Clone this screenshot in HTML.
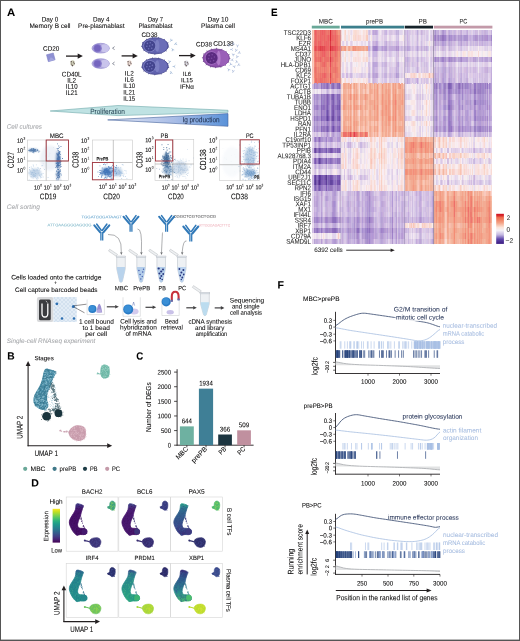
<!DOCTYPE html>
<html><head><meta charset="utf-8"><title>Figure</title>
<style>html,body{margin:0;padding:0;background:#fff;}body{width:520px;height:641px;overflow:hidden;font-family:"Liberation Sans",sans-serif;}svg{display:block;will-change:transform;}</style>
</head><body>
<svg xmlns="http://www.w3.org/2000/svg" width="520" height="641" viewBox="0 0 520 641" text-rendering="geometricPrecision" font-family='"Liberation Sans", sans-serif'><defs><linearGradient id="igg" x1="0" x2="1" y1="0" y2="0"><stop offset="0" stop-color="#e3e7f5"/><stop offset="0.55" stop-color="#a9bde6"/><stop offset="1" stop-color="#5a92d9"/></linearGradient><filter id="fb" x="-50%" y="-50%" width="200%" height="200%"><feGaussianBlur stdDeviation="1.3"/></filter><clipPath id="clp2"><rect x="27.4" y="140" width="41.1" height="40.5"/></clipPath><clipPath id="clp3"><rect x="92.4" y="140" width="39.9" height="39.8"/></clipPath><clipPath id="clp4"><rect x="155" y="139.4" width="38.75" height="41.2"/></clipPath><clipPath id="clp5"><rect x="219.5" y="139.8" width="39.9" height="40.6"/></clipPath><clipPath id="tb6"><path d="M116.7 256.6 L125.3 256.6 L125.3 268.82 L122.4 281.4 Q121 283.2 119.6 281.4 L116.7 268.82 Z"/></clipPath><clipPath id="tb7"><path d="M136.8 256.6 L145.4 256.6 L145.4 268.82 L142.5 281.4 Q141.1 283.2 139.7 281.4 L136.8 268.82 Z"/></clipPath><clipPath id="tb8"><path d="M156.9 256.6 L165.5 256.6 L165.5 268.82 L162.6 281.4 Q161.2 283.2 159.8 281.4 L156.9 268.82 Z"/></clipPath><clipPath id="tb9"><path d="M177.5 256.6 L186.1 256.6 L186.1 268.82 L183.2 281.4 Q181.8 283.2 180.4 281.4 L177.5 268.82 Z"/></clipPath><pattern id="hx" width="4" height="4" patternUnits="userSpaceOnUse"><rect width="4" height="4" fill="#e2ecf6"/><path d="M0 0L4 4M4 0L0 4" stroke="#c5d6e8" stroke-width="0.5"/></pattern><clipPath id="tb11"><path d="M200.5 293 L209.3 293 L209.3 303.81 L206.3 314.8 Q204.9 316.6 203.5 314.8 L200.5 303.81 Z"/></clipPath><linearGradient id="dg0" gradientUnits="userSpaceOnUse" x1="0" y1="503" x2="0" y2="535"><stop offset="0" stop-color="#3d3f88"/><stop offset="0.25" stop-color="#46106a"/><stop offset="1" stop-color="#440f63"/></linearGradient><linearGradient id="dg1" gradientUnits="userSpaceOnUse" x1="0" y1="503" x2="0" y2="535"><stop offset="0" stop-color="#3f4a8a"/><stop offset="0.25" stop-color="#4a1a72"/><stop offset="1" stop-color="#46156a"/></linearGradient><linearGradient id="dg2" gradientUnits="userSpaceOnUse" x1="0" y1="503" x2="0" y2="535"><stop offset="0" stop-color="#2aa58a"/><stop offset="0.25" stop-color="#31688e"/><stop offset="0.7" stop-color="#3a4a8a"/><stop offset="1" stop-color="#3a2d76"/></linearGradient><linearGradient id="dg3" gradientUnits="userSpaceOnUse" x1="0" y1="569.4" x2="0" y2="601.4"><stop offset="0" stop-color="#2e5f8e"/><stop offset="0.25" stop-color="#26848e"/><stop offset="1" stop-color="#228f8b"/></linearGradient><linearGradient id="dg4" gradientUnits="userSpaceOnUse" x1="0" y1="569.4" x2="0" y2="601.4"><stop offset="0" stop-color="#3a4c8a"/><stop offset="0.25" stop-color="#2a858c"/><stop offset="1" stop-color="#2aa680"/></linearGradient><linearGradient id="dg5" gradientUnits="userSpaceOnUse" x1="0" y1="569.4" x2="0" y2="601.4"><stop offset="0" stop-color="#3b2b78"/><stop offset="0.3" stop-color="#2f5a8c"/><stop offset="0.7" stop-color="#2a8a8c"/><stop offset="1" stop-color="#48b873"/></linearGradient><linearGradient id="vir" x1="0" y1="1" x2="0" y2="0"><stop offset="0" stop-color="#440154"/><stop offset=".09" stop-color="#482173"/><stop offset=".18" stop-color="#433e85"/><stop offset=".27" stop-color="#38588c"/><stop offset=".36" stop-color="#2d708e"/><stop offset=".45" stop-color="#25858e"/><stop offset=".55" stop-color="#1e9b8a"/><stop offset=".64" stop-color="#2ab07f"/><stop offset=".73" stop-color="#52c569"/><stop offset=".82" stop-color="#86d549"/><stop offset=".91" stop-color="#c2df23"/><stop offset="1" stop-color="#fde725"/></linearGradient><linearGradient id="hml" x1="0" y1="0" x2="0" y2="1"><stop offset="0" stop-color="#d0101e"/><stop offset="0.06" stop-color="#d82a2e"/><stop offset="0.12" stop-color="#ee6a4c"/><stop offset="0.3" stop-color="#f4a284"/><stop offset="0.45" stop-color="#fbe4d8"/><stop offset="0.55" stop-color="#f5f1f7"/><stop offset="0.7" stop-color="#c2b6e0"/><stop offset="0.84" stop-color="#6048ac"/><stop offset="1" stop-color="#3a1a80"/></linearGradient></defs><rect width="520" height="641" fill="#fff"/><rect x="0" y="0" width="520" height="1" fill="#555"/>
<rect x="0" y="0" width="1" height="641" fill="#555"/>
<rect x="519" y="0" width="1" height="641" fill="#555"/>
<rect x="0" y="639.6" width="520" height="1.4" fill="#555"/>
<text x="7" y="16" font-size="10.8" fill="#000" stroke="#000" stroke-width=".06" font-weight="bold" textLength="8.2" lengthAdjust="spacingAndGlyphs" transform="rotate(.05 7 16)">A</text>
<text x="41.7" y="21.6" font-size="6.6" stroke="#231f20" stroke-width=".06" textLength="16.6" lengthAdjust="spacingAndGlyphs" transform="rotate(.05 41.7 21.6)">Day 0</text>
<text x="29.45" y="27.9" font-size="6.6" stroke="#231f20" stroke-width=".06" textLength="41.1" lengthAdjust="spacingAndGlyphs" transform="rotate(.05 29.45 27.9)">Memory B cell</text>
<text x="93" y="21.6" font-size="6.6" stroke="#231f20" stroke-width=".06" textLength="16.6" lengthAdjust="spacingAndGlyphs" transform="rotate(.05 93 21.6)">Day 4</text>
<text x="78.1" y="27.9" font-size="6.6" stroke="#231f20" stroke-width=".06" textLength="46.4" lengthAdjust="spacingAndGlyphs" transform="rotate(.05 78.1 27.9)">Pre-plasmablast</text>
<text x="147.95" y="21.6" font-size="6.6" stroke="#231f20" stroke-width=".06" textLength="15.1" lengthAdjust="spacingAndGlyphs" transform="rotate(.05 147.95 21.6)">Day 7</text>
<text x="138.4" y="27.9" font-size="6.6" stroke="#231f20" stroke-width=".06" textLength="34.2" lengthAdjust="spacingAndGlyphs" transform="rotate(.05 138.4 27.9)">Plasmablast</text>
<text x="207.5" y="21.6" font-size="6.6" stroke="#231f20" stroke-width=".06" textLength="21" lengthAdjust="spacingAndGlyphs" transform="rotate(.05 207.5 21.6)">Day 10</text>
<text x="201.1" y="27.9" font-size="6.6" stroke="#231f20" stroke-width=".06" textLength="33.8" lengthAdjust="spacingAndGlyphs" transform="rotate(.05 201.1 27.9)">Plasma cell</text>
<text x="43.1" y="50.8" font-size="6.6" stroke="#231f20" stroke-width=".06" textLength="16.3" lengthAdjust="spacingAndGlyphs" transform="rotate(.05 43.1 50.8)">CD20</text>
<path d="M55.13 59.8 L48.3 61.63 L46.47 54.8 L53.3 52.97 Z" fill="#8e90d3" stroke="#7678c0" stroke-width=".5"/>
<path d="M55.13 59.8 L48.3 61.63 L50.8 57.3 Z" fill="#a3a5dd"/>
<line x1="66" y1="56.1" x2="78.2" y2="56.1" stroke="#231f20" stroke-width="1.3"/>
<path d="M82.9 56.1 L77.7 53.5 L77.7 58.7 Z" fill="#231f20"/>
<line x1="121.6" y1="55.9" x2="133.1" y2="55.9" stroke="#231f20" stroke-width="1.3"/>
<path d="M137.8 55.9 L132.6 53.3 L132.6 58.5 Z" fill="#231f20"/>
<line x1="179" y1="55.6" x2="191" y2="55.6" stroke="#231f20" stroke-width="1.3"/>
<path d="M195.7 55.6 L190.5 53 L190.5 58.2 Z" fill="#231f20"/>
<ellipse cx="72.6" cy="63.1" rx="2.4" ry="2.9" fill="#cfcfb8"/>
<circle cx="71.3" cy="61.7" r=".7" fill="#5e5050"/>
<circle cx="73.5" cy="62.1" r=".6" fill="#5e5050"/>
<circle cx="74.2" cy="63.7" r=".6" fill="#5e5050"/>
<circle cx="71.5" cy="64" r=".6" fill="#5e5050"/>
<circle cx="72.4" cy="65.6" r=".8" fill="#5e5050"/>
<ellipse cx="129.4" cy="63.1" rx="2.4" ry="2.9" fill="#ecdcd4"/>
<circle cx="128.1" cy="61.7" r=".7" fill="#5e5050"/>
<circle cx="130.3" cy="62.1" r=".6" fill="#5e5050"/>
<circle cx="131" cy="63.7" r=".6" fill="#5e5050"/>
<circle cx="128.3" cy="64" r=".6" fill="#5e5050"/>
<circle cx="129.2" cy="65.6" r=".8" fill="#5e5050"/>
<ellipse cx="186.4" cy="63.3" rx="2.4" ry="2.9" fill="#d8d8e0"/>
<circle cx="185.1" cy="61.9" r=".7" fill="#5e5050"/>
<circle cx="187.3" cy="62.3" r=".6" fill="#5e5050"/>
<circle cx="188" cy="63.9" r=".6" fill="#5e5050"/>
<circle cx="185.3" cy="64.2" r=".6" fill="#5e5050"/>
<circle cx="186.2" cy="65.8" r=".8" fill="#5e5050"/>
<text x="61.8" y="76.4" font-size="6.8" stroke="#231f20" stroke-width=".06" textLength="19.8" lengthAdjust="spacingAndGlyphs" transform="rotate(.05 61.8 76.4)">CD40L</text>
<text x="67.3" y="82.63" font-size="6.8" stroke="#231f20" stroke-width=".06" textLength="8.8" lengthAdjust="spacingAndGlyphs" transform="rotate(.05 67.3 82.63)">IL2</text>
<text x="65.8" y="88.86" font-size="6.8" stroke="#231f20" stroke-width=".06" textLength="11.8" lengthAdjust="spacingAndGlyphs" transform="rotate(.05 65.8 88.86)">IL10</text>
<text x="65.8" y="95.09" font-size="6.8" stroke="#231f20" stroke-width=".06" textLength="11.8" lengthAdjust="spacingAndGlyphs" transform="rotate(.05 65.8 95.09)">IL21</text>
<text x="124.85" y="75.5" font-size="6.6" stroke="#231f20" stroke-width=".06" textLength="8.9" lengthAdjust="spacingAndGlyphs" transform="rotate(.05 124.85 75.5)">IL2</text>
<text x="124.85" y="81.8" font-size="6.6" stroke="#231f20" stroke-width=".06" textLength="8.9" lengthAdjust="spacingAndGlyphs" transform="rotate(.05 124.85 81.8)">IL6</text>
<text x="123.35" y="88.1" font-size="6.6" stroke="#231f20" stroke-width=".06" textLength="11.9" lengthAdjust="spacingAndGlyphs" transform="rotate(.05 123.35 88.1)">IL10</text>
<text x="123.35" y="94.4" font-size="6.6" stroke="#231f20" stroke-width=".06" textLength="11.9" lengthAdjust="spacingAndGlyphs" transform="rotate(.05 123.35 94.4)">IL21</text>
<text x="123.35" y="100.7" font-size="6.6" stroke="#231f20" stroke-width=".06" textLength="11.9" lengthAdjust="spacingAndGlyphs" transform="rotate(.05 123.35 100.7)">IL15</text>
<text x="182.75" y="75.9" font-size="6.2" stroke="#231f20" stroke-width=".06" textLength="8.3" lengthAdjust="spacingAndGlyphs" transform="rotate(.05 182.75 75.9)">IL6</text>
<text x="180.9" y="82.35" font-size="6.2" stroke="#231f20" stroke-width=".06" textLength="12" lengthAdjust="spacingAndGlyphs" transform="rotate(.05 180.9 82.35)">IL15</text>
<text x="179.9" y="88.8" font-size="6.2" stroke="#231f20" stroke-width=".06" textLength="14" lengthAdjust="spacingAndGlyphs" transform="rotate(.05 179.9 88.8)">IFNα</text>
<ellipse cx="100.7" cy="48.2" rx="8.7" ry="4.9" fill="#b3acdf" stroke="#9088cc" stroke-width="0.6"/>
<ellipse cx="104.8" cy="48.2" rx="4.2" ry="3.9" fill="#c9c4ec"/>
<circle cx="97.6" cy="48.2" r="4.3" fill="#8b7fcc"/>
<circle cx="97.4" cy="48.2" r="3.2" fill="#7565bf"/>
<path d="M114.6 46.6 L112.5 48.2 L114.6 49.6" fill="none" stroke="#6c7080" stroke-width=".75"/>
<ellipse cx="100.7" cy="63.6" rx="8.7" ry="4.9" fill="#b3acdf" stroke="#9088cc" stroke-width="0.6"/>
<ellipse cx="104.8" cy="63.6" rx="4.2" ry="3.9" fill="#c9c4ec"/>
<circle cx="97.6" cy="63.6" r="4.3" fill="#8b7fcc"/>
<circle cx="97.4" cy="63.6" r="3.2" fill="#7565bf"/>
<path d="M114.6 62 L112.5 63.6 L114.6 65" fill="none" stroke="#6c7080" stroke-width=".75"/>
<text x="141.6" y="36.9" font-size="6.6" stroke="#231f20" stroke-width=".06" textLength="16" lengthAdjust="spacingAndGlyphs" transform="rotate(.05 141.6 36.9)">CD38</text>
<path d="M168.2 46.37L169.43 47.28L167.93 47.54ZM166.18 50.11L166.62 51.57L165.26 50.89ZM161.54 52.8L161.37 54.31L160.39 53.15ZM155.49 53.81L154.87 55.2L154.29 53.79ZM149.45 52.99L148.43 54.12L148.31 52.6ZM144.76 50.59L143.37 51.2L143.89 49.77ZM142.35 47.16L140.88 46.79L142.17 45.98ZM142.83 43.28L141.99 42.01L143.49 42.28ZM146.28 39.96L146.17 38.44L147.35 39.41ZM151.8 38.07L152.21 36.6L152.99 37.91ZM158.02 37.98L158.85 36.7L159.21 38.18ZM163.53 39.64L164.75 38.73L164.57 40.24ZM167.17 42.62L168.68 42.45L167.76 43.67Z" fill="#40408a"/>
<ellipse cx="155.2" cy="45.8" rx="13.1" ry="8.1" fill="#6062ae" stroke="#46478c" stroke-width="0.8"/>
<ellipse cx="160.5" cy="45.8" rx="6.6" ry="6.8" fill="#6c6eb8"/>
<ellipse cx="157.2" cy="45.8" rx="2.2" ry="6" fill="#7d80c4"/>
<circle cx="149.7" cy="45.8" r="6.3" fill="#8487c8"/>
<circle cx="149.7" cy="45.8" r="5.6" fill="#43448e"/>
<circle cx="147.4" cy="43.4" r=".8" fill="#6e70b8"/>
<circle cx="150.3" cy="42.8" r=".8" fill="#6e70b8"/>
<circle cx="152.4" cy="44.9" r=".8" fill="#6e70b8"/>
<circle cx="146.8" cy="46.3" r=".8" fill="#6e70b8"/>
<circle cx="149.7" cy="46" r=".8" fill="#6e70b8"/>
<circle cx="151.7" cy="48.2" r=".8" fill="#6e70b8"/>
<circle cx="148.6" cy="48.8" r=".8" fill="#6e70b8"/>
<path d="M168.2 66.87L169.43 67.78L167.93 68.04ZM166.18 70.61L166.62 72.07L165.26 71.39ZM161.54 73.3L161.37 74.81L160.39 73.65ZM155.49 74.31L154.87 75.7L154.29 74.29ZM149.45 73.49L148.43 74.62L148.31 73.1ZM144.76 71.09L143.37 71.7L143.89 70.27ZM142.35 67.66L140.88 67.29L142.17 66.48ZM142.83 63.78L141.99 62.51L143.49 62.78ZM146.28 60.46L146.17 58.94L147.35 59.91ZM151.8 58.57L152.21 57.1L152.99 58.41ZM158.02 58.48L158.85 57.2L159.21 58.68ZM163.53 60.14L164.75 59.23L164.57 60.74ZM167.17 63.12L168.68 62.95L167.76 64.17Z" fill="#40408a"/>
<ellipse cx="155.2" cy="66.3" rx="13.1" ry="8.1" fill="#6062ae" stroke="#46478c" stroke-width="0.8"/>
<ellipse cx="160.5" cy="66.3" rx="6.6" ry="6.8" fill="#6c6eb8"/>
<ellipse cx="157.2" cy="66.3" rx="2.2" ry="6" fill="#7d80c4"/>
<circle cx="149.7" cy="66.3" r="6.3" fill="#8487c8"/>
<circle cx="149.7" cy="66.3" r="5.6" fill="#43448e"/>
<circle cx="147.4" cy="63.9" r=".8" fill="#6e70b8"/>
<circle cx="150.3" cy="63.3" r=".8" fill="#6e70b8"/>
<circle cx="152.4" cy="65.4" r=".8" fill="#6e70b8"/>
<circle cx="146.8" cy="66.8" r=".8" fill="#6e70b8"/>
<circle cx="149.7" cy="66.5" r=".8" fill="#6e70b8"/>
<circle cx="151.7" cy="68.7" r=".8" fill="#6e70b8"/>
<circle cx="148.6" cy="69.3" r=".8" fill="#6e70b8"/>
<path d="M170.21 41.66 L171 40.5 L170.74 38.75 M171 40.5 L172.72 40.1" fill="none" stroke="#7f9fc8" stroke-width=".6"/>
<path d="M174.2 44.51 L175.5 44 L176.28 42.41 M175.5 44 L177.15 44.65" fill="none" stroke="#7f9fc8" stroke-width=".6"/>
<path d="M171.78 48.3 L172.5 49.5 L174.2 50 M172.5 49.5 L172.14 51.23" fill="none" stroke="#7f9fc8" stroke-width=".6"/>
<path d="M169.09 63.34 L169.5 62 L168.74 60.4 M169.5 62 L171.03 61.11" fill="none" stroke="#7f9fc8" stroke-width=".6"/>
<path d="M172.6 66.46 L174 66.5 L175.33 65.34 M174 66.5 L175.26 67.74" fill="none" stroke="#7f9fc8" stroke-width=".6"/>
<path d="M170.67 71.14 L171 72.5 L172.48 73.48 M171 72.5 L170.15 74.05" fill="none" stroke="#7f9fc8" stroke-width=".6"/>
<text x="196" y="46.6" font-size="6.6" stroke="#231f20" stroke-width=".06" textLength="16" lengthAdjust="spacingAndGlyphs" transform="rotate(.05 196 46.6)">CD38</text>
<text x="213.2" y="45.8" font-size="6.6" stroke="#231f20" stroke-width=".06" textLength="20.6" lengthAdjust="spacingAndGlyphs" transform="rotate(.05 213.2 45.8)">CD138</text>
<path d="M229.32 57.85L230.79 58.54L229.26 59.05ZM228.43 61.37L229.34 62.7L227.76 62.37ZM225.6 64.39L225.9 65.98L224.59 65.03ZM221.32 66.4L221.1 68L220.15 66.69ZM216.29 67.11L215.65 68.59L215.09 67.08ZM211.29 66.45L210.26 67.7L210.14 66.09ZM207.06 64.57L205.69 65.41L206.1 63.85ZM204.19 61.74L202.59 61.92L203.63 60.69ZM203.08 58.35L201.61 57.66L203.14 57.15ZM203.97 54.83L203.06 53.5L204.64 53.83ZM206.8 51.81L206.5 50.22L207.81 51.17ZM211.08 49.8L211.3 48.2L212.25 49.51ZM216.11 49.09L216.75 47.61L217.31 49.12ZM221.11 49.75L222.14 48.5L222.26 50.11ZM225.34 51.63L226.71 50.79L226.3 52.35ZM228.21 54.46L229.81 54.28L228.77 55.51Z" fill="#6a3a8a"/>
<ellipse cx="216.2" cy="58.1" rx="13.2" ry="9.1" fill="#8e51ad" stroke="#70408f" stroke-width="0.8"/>
<ellipse cx="222.5" cy="58.1" rx="6.2" ry="7.6" fill="#9a5fb8"/>
<ellipse cx="218.6" cy="58.1" rx="2" ry="7.3" fill="#b27ccb"/>
<circle cx="211.6" cy="58" r="6.7" fill="#a470c2"/>
<circle cx="211.6" cy="58" r="6" fill="#5b2b80"/>
<circle cx="209.2" cy="55.4" r=".8" fill="#7a4aa0"/>
<circle cx="212.2" cy="54.8" r=".8" fill="#7a4aa0"/>
<circle cx="214.4" cy="57" r=".8" fill="#7a4aa0"/>
<circle cx="208.6" cy="58.6" r=".8" fill="#7a4aa0"/>
<circle cx="211.6" cy="58.3" r=".8" fill="#7a4aa0"/>
<circle cx="213.6" cy="60.6" r=".8" fill="#7a4aa0"/>
<circle cx="210.4" cy="61.2" r=".8" fill="#7a4aa0"/>
<path d="M228.72 46.87 L229 45.5 L228.08 43.99 M229 45.5 L230.43 44.46" fill="none" stroke="#93a8d0" stroke-width=".6"/>
<path d="M231.9 44.87 L233 44 L233.27 42.25 M233 44 L234.76 44.13" fill="none" stroke="#93a8d0" stroke-width=".6"/>
<path d="M237.36 47.39 L237.5 46 L236.44 44.59 M237.5 46 L238.82 44.83" fill="none" stroke="#93a8d0" stroke-width=".6"/>
<path d="M230.1 49.6 L231.5 49.5 L232.71 48.21 M231.5 49.5 L232.88 50.61" fill="none" stroke="#93a8d0" stroke-width=".6"/>
<path d="M235.45 51.79 L236 50.5 L235.4 48.84 M236 50.5 L237.61 49.77" fill="none" stroke="#93a8d0" stroke-width=".6"/>
<path d="M237.75 53.44 L239 52.8 L239.61 51.14 M239 52.8 L240.7 53.28" fill="none" stroke="#93a8d0" stroke-width=".6"/>
<path d="M231.87 53.68 L233 54.5 L234.76 54.29 M233 54.5 L233.34 56.24" fill="none" stroke="#93a8d0" stroke-width=".6"/>
<path d="M236.33 58.23 L237 57 L236.57 55.28 M237 57 L238.68 56.43" fill="none" stroke="#93a8d0" stroke-width=".6"/>
<path d="M230.62 60.24 L232 60 L233.08 58.6 M232 60 L233.49 60.96" fill="none" stroke="#93a8d0" stroke-width=".6"/>
<path d="M236.03 60.18 L236.5 61.5 L238.07 62.32 M236.5 61.5 L235.8 63.13" fill="none" stroke="#93a8d0" stroke-width=".6"/>
<path d="M229.6 65.57 L230.5 64.5 L230.42 62.73 M230.5 64.5 L232.26 64.28" fill="none" stroke="#93a8d0" stroke-width=".6"/>
<path d="M232.68 66.05 L234 66.5 L235.62 65.78 M234 66.5 L234.84 68.06" fill="none" stroke="#93a8d0" stroke-width=".6"/>
<path d="M227.66 68.38 L228.5 69.5 L230.24 69.82 M228.5 69.5 L228.32 71.26" fill="none" stroke="#93a8d0" stroke-width=".6"/>
<path d="M232.59 72.84 L233 71.5 L232.24 69.9 M233 71.5 L234.53 70.61" fill="none" stroke="#93a8d0" stroke-width=".6"/>
<path d="M237.32 65.76 L238.5 65 L238.95 63.29 M238.5 65 L240.24 65.31" fill="none" stroke="#93a8d0" stroke-width=".6"/>
<path d="M50.2 111 L118 105.5 L228 110.3 L228 112.3 L118 115.6 Z" fill="#bfe2e3" stroke="#6fa9ab" stroke-width=".6"/>
<text x="90.2" y="114" font-size="7.6" fill="#2d4b5b" stroke="#2d4b5b" stroke-width=".06" textLength="34.8" lengthAdjust="spacingAndGlyphs" transform="rotate(.05 90.2 114)">Proliferation</text>
<path d="M107.7 119.9 L228 113.6 L228 126.3 Z" fill="url(#igg)" stroke="#44639c" stroke-width=".6"/>
<text x="182.4" y="122.2" font-size="7.6" fill="#22324f" stroke="#22324f" stroke-width=".06" textLength="37.2" lengthAdjust="spacingAndGlyphs" transform="rotate(.05 182.4 122.2)">Ig production</text>
<text x="6.7" y="128.8" font-size="6.6" fill="#a7a9ac" stroke="#a7a9ac" stroke-width=".06" font-style="italic" textLength="35.2" lengthAdjust="spacingAndGlyphs" transform="rotate(.05 6.7 128.8)">Cell cultures</text>
<rect x="27.4" y="140" width="41.1" height="40.5" fill="none" stroke="#c9c9c9" stroke-width="0.6"/>
<g clip-path="url(#clp2)">
<ellipse cx="33" cy="150.2" rx="4.5" ry="1.12" fill="#37679f" fill-opacity=".78" filter="url(#fb)"/>
<path fill="#37679f" fill-opacity=".72" d="M33.5 149.6h.9v.9h-.9zM30.4 150h.9v.9h-.9zM37.4 150h.9v.9h-.9zM36.6 150.2h.9v.9h-.9zM33.2 150.7h.9v.9h-.9zM35.2 149.1h.9v.9h-.9zM36.9 149.3h.9v.9h-.9zM33.4 152.4h.9v.9h-.9zM32.9 151.6h.9v.9h-.9zM31.4 150.7h.9v.9h-.9zM32.8 150.5h.9v.9h-.9zM29.6 149.3h.9v.9h-.9zM33.8 148.7h.9v.9h-.9zM29.7 150.7h.9v.9h-.9zM30.5 149.3h.9v.9h-.9zM28.7 150.2h.9v.9h-.9zM31.4 150.2h.9v.9h-.9zM32 151.7h.9v.9h-.9zM31.1 148.4h.9v.9h-.9zM33.1 150.1h.9v.9h-.9zM33.2 148.7h.9v.9h-.9zM36.6 150.1h.9v.9h-.9zM32.5 148.7h.9v.9h-.9zM34.3 150.1h.9v.9h-.9zM37.4 149.7h.9v.9h-.9zM28.3 150.2h.9v.9h-.9zM29.4 150.5h.9v.9h-.9zM28.8 150h.9v.9h-.9zM31.9 150.1h.9v.9h-.9zM30.8 149.4h.9v.9h-.9zM32.4 149.6h.9v.9h-.9zM33.2 149.9h.9v.9h-.9zM37.5 150.4h.9v.9h-.9zM34.7 150.5h.9v.9h-.9zM31 148.9h.9v.9h-.9zM35.5 151h.9v.9h-.9zM34.6 150.5h.9v.9h-.9zM34 150.1h.9v.9h-.9zM33.6 150.1h.9v.9h-.9zM33.8 149.3h.9v.9h-.9zM30.5 150.6h.9v.9h-.9zM31.5 148h.9v.9h-.9zM33.1 148.1h.9v.9h-.9zM39.3 150.7h.9v.9h-.9zM35 149.5h.9v.9h-.9zM28.7 149.9h.9v.9h-.9zM32.7 149.4h.9v.9h-.9zM33.2 150.7h.9v.9h-.9zM34.7 149.2h.9v.9h-.9zM30.4 150.5h.9v.9h-.9zM38.3 151.5h.9v.9h-.9zM33.7 151.1h.9v.9h-.9z"/>
<ellipse cx="58" cy="160" rx="1.75" ry="8.75" fill="#2d5c9c" fill-opacity=".85" filter="url(#fb)"/>
<path fill="#2d5c9c" fill-opacity=".78" d="M60.1 159.7h.9v.9h-.9zM58.2 165.1h.9v.9h-.9zM57.8 156h.9v.9h-.9zM56.9 159.4h.9v.9h-.9zM57 164.7h.9v.9h-.9zM57.4 169.2h.9v.9h-.9zM59.5 151.1h.9v.9h-.9zM59.3 156.7h.9v.9h-.9zM59.7 162.9h.9v.9h-.9zM57.8 163.9h.9v.9h-.9zM57.1 161.7h.9v.9h-.9zM58.4 158.5h.9v.9h-.9zM58.4 152.8h.9v.9h-.9zM58.6 151.4h.9v.9h-.9zM58.7 162.6h.9v.9h-.9zM58.8 155.8h.9v.9h-.9zM62 158h.9v.9h-.9zM58.1 154.5h.9v.9h-.9zM59.8 156.4h.9v.9h-.9zM59.2 153.3h.9v.9h-.9zM58.3 157.1h.9v.9h-.9zM59.2 157.6h.9v.9h-.9zM56.8 162.6h.9v.9h-.9zM56.3 153.2h.9v.9h-.9zM58.9 147.2h.9v.9h-.9zM58.9 157h.9v.9h-.9zM56.7 161.3h.9v.9h-.9zM58.8 155.8h.9v.9h-.9zM57.7 165h.9v.9h-.9zM58.9 159.3h.9v.9h-.9zM56.9 153.4h.9v.9h-.9zM57.1 164.2h.9v.9h-.9zM58.7 161.7h.9v.9h-.9zM59.8 157.7h.9v.9h-.9zM57.4 157.2h.9v.9h-.9zM60.5 146.1h.9v.9h-.9zM58.3 162.7h.9v.9h-.9zM58 175.2h.9v.9h-.9zM59.5 164.9h.9v.9h-.9zM56.8 163.1h.9v.9h-.9zM57.5 160.1h.9v.9h-.9zM58.2 156.6h.9v.9h-.9zM58.8 170.6h.9v.9h-.9zM59.3 161.3h.9v.9h-.9zM55.4 167h.9v.9h-.9zM59.4 158.6h.9v.9h-.9zM57.3 164.2h.9v.9h-.9zM56.9 165.1h.9v.9h-.9zM56.6 153.8h.9v.9h-.9zM58 150.3h.9v.9h-.9zM58 163.4h.9v.9h-.9zM56.2 166h.9v.9h-.9zM57.2 163.5h.9v.9h-.9zM58.3 156.9h.9v.9h-.9zM57.3 148.7h.9v.9h-.9zM57.1 154.9h.9v.9h-.9zM60.1 166.6h.9v.9h-.9zM56.2 165.2h.9v.9h-.9zM58.3 157.4h.9v.9h-.9zM58.6 165.1h.9v.9h-.9zM57.2 158.1h.9v.9h-.9zM58.2 153.5h.9v.9h-.9zM58.2 159.4h.9v.9h-.9zM57.1 154.4h.9v.9h-.9zM58.4 165.7h.9v.9h-.9zM58.4 154.4h.9v.9h-.9zM59 161.1h.9v.9h-.9zM58.8 167.6h.9v.9h-.9zM56.8 159.1h.9v.9h-.9zM57.2 154.2h.9v.9h-.9zM60.6 166.1h.9v.9h-.9zM55.7 162.8h.9v.9h-.9zM57.3 167.5h.9v.9h-.9zM58.1 158.8h.9v.9h-.9zM58.2 162.5h.9v.9h-.9zM58 158.5h.9v.9h-.9zM57.8 163.3h.9v.9h-.9zM56.5 160h.9v.9h-.9zM57.8 156.8h.9v.9h-.9zM59 151.6h.9v.9h-.9zM57.5 154.4h.9v.9h-.9zM58.7 156.9h.9v.9h-.9zM58.1 162.5h.9v.9h-.9zM55.9 163h.9v.9h-.9zM57 158.3h.9v.9h-.9zM57.9 165.3h.9v.9h-.9zM59 171.5h.9v.9h-.9zM58.2 156.9h.9v.9h-.9zM57.3 164.3h.9v.9h-.9zM60.1 162.2h.9v.9h-.9zM57.2 161.8h.9v.9h-.9zM58.3 160.2h.9v.9h-.9zM57 143.4h.9v.9h-.9zM57.3 166.9h.9v.9h-.9zM58.3 145.6h.9v.9h-.9zM58 147.9h.9v.9h-.9zM60.6 161.2h.9v.9h-.9zM56.4 165.2h.9v.9h-.9zM57 163.7h.9v.9h-.9zM58 152.3h.9v.9h-.9zM58.9 151.2h.9v.9h-.9zM59.8 160.4h.9v.9h-.9zM56.7 148.1h.9v.9h-.9zM60.1 169.5h.9v.9h-.9zM56.4 170.8h.9v.9h-.9zM58.2 158.6h.9v.9h-.9zM57.9 158.2h.9v.9h-.9zM59.9 161h.9v.9h-.9zM55.6 173.7h.9v.9h-.9zM59.2 152.9h.9v.9h-.9zM57.5 154.1h.9v.9h-.9zM58.1 162.6h.9v.9h-.9zM58.3 156.1h.9v.9h-.9zM57 165.5h.9v.9h-.9zM57.9 174.7h.9v.9h-.9zM56.9 165.2h.9v.9h-.9zM58.1 155h.9v.9h-.9zM59.8 160.8h.9v.9h-.9zM56.8 157.9h.9v.9h-.9zM59.3 152h.9v.9h-.9zM59.8 164.5h.9v.9h-.9zM57.6 168.9h.9v.9h-.9zM60.3 163.9h.9v.9h-.9zM58.2 172.1h.9v.9h-.9zM60 153.9h.9v.9h-.9zM57.7 158.6h.9v.9h-.9zM57.5 150.2h.9v.9h-.9zM59.2 160.5h.9v.9h-.9zM58.1 169.2h.9v.9h-.9zM57.3 159.6h.9v.9h-.9z"/>
<ellipse cx="58.2" cy="175" rx="1.62" ry="4.38" fill="#34629e" fill-opacity=".65" filter="url(#fb)"/>
<path fill="#34629e" fill-opacity=".6" d="M58.5 173.6h.9v.9h-.9zM58.1 177.5h.9v.9h-.9zM58.2 179.4h.9v.9h-.9zM57.3 175.7h.9v.9h-.9zM56.5 174.6h.9v.9h-.9zM57.3 179.5h.9v.9h-.9zM59.1 176.7h.9v.9h-.9zM60.5 179.7h.9v.9h-.9zM59.1 172.7h.9v.9h-.9zM56.4 174.9h.9v.9h-.9zM57.8 172.9h.9v.9h-.9zM57.8 169.6h.9v.9h-.9zM60 171.2h.9v.9h-.9zM57.4 176.9h.9v.9h-.9zM56.2 178h.9v.9h-.9zM59.3 174h.9v.9h-.9zM56.9 173.4h.9v.9h-.9zM55.9 179.6h.9v.9h-.9zM58.3 172.6h.9v.9h-.9zM57.1 176.9h.9v.9h-.9zM60 170.8h.9v.9h-.9zM57.5 169.2h.9v.9h-.9zM59 175.5h.9v.9h-.9zM61 174.6h.9v.9h-.9zM57.7 172.7h.9v.9h-.9zM59.2 169.6h.9v.9h-.9zM59.1 175.8h.9v.9h-.9zM57.6 172h.9v.9h-.9zM57.7 176.8h.9v.9h-.9zM60.3 172.9h.9v.9h-.9zM57.9 171h.9v.9h-.9zM58 174.7h.9v.9h-.9zM57.7 172.5h.9v.9h-.9zM56.2 170.5h.9v.9h-.9zM57 177.1h.9v.9h-.9zM57.6 172.2h.9v.9h-.9zM59 176.9h.9v.9h-.9zM57.3 172.9h.9v.9h-.9zM59 176.2h.9v.9h-.9z"/>
<ellipse cx="35" cy="173" rx="6.25" ry="4.38" fill="#7aa2cc" fill-opacity=".45" filter="url(#fb)"/>
<path fill="#7aa2cc" fill-opacity=".42" d="M31 173.8h.9v.9h-.9zM34.9 176.7h.9v.9h-.9zM30.9 175.9h.9v.9h-.9zM37.1 169.6h.9v.9h-.9zM40 176h.9v.9h-.9zM28.7 179.6h.9v.9h-.9zM29.5 169.9h.9v.9h-.9zM33.5 175.6h.9v.9h-.9zM37.8 172.7h.9v.9h-.9zM41.5 174.4h.9v.9h-.9zM35.9 164.4h.9v.9h-.9zM32.8 169.4h.9v.9h-.9zM35.4 173.3h.9v.9h-.9zM29.1 169.1h.9v.9h-.9zM33.7 172.3h.9v.9h-.9zM35.1 173h.9v.9h-.9zM36.4 169.5h.9v.9h-.9zM34.8 176.5h.9v.9h-.9zM40.2 174.6h.9v.9h-.9zM33.7 170.2h.9v.9h-.9zM41.4 174.8h.9v.9h-.9zM33 165.6h.9v.9h-.9zM30.8 166.5h.9v.9h-.9zM41 173.6h.9v.9h-.9zM31.4 172.1h.9v.9h-.9zM47.6 177.1h.9v.9h-.9zM28.5 172.6h.9v.9h-.9zM29 167.1h.9v.9h-.9zM42.6 173.1h.9v.9h-.9zM33.2 173.7h.9v.9h-.9zM40.1 168h.9v.9h-.9zM36.4 178.5h.9v.9h-.9zM36.2 178.1h.9v.9h-.9zM32 174.7h.9v.9h-.9zM42.6 176.5h.9v.9h-.9zM32.7 176.1h.9v.9h-.9zM31.7 168.1h.9v.9h-.9zM37.6 177.8h.9v.9h-.9zM39.2 168.7h.9v.9h-.9zM39.3 175.3h.9v.9h-.9zM32.7 164.4h.9v.9h-.9zM40 176.1h.9v.9h-.9zM37.5 167h.9v.9h-.9zM39 174.7h.9v.9h-.9zM33.8 174.4h.9v.9h-.9zM32.3 171.9h.9v.9h-.9zM30.7 173.9h.9v.9h-.9zM32.9 176.3h.9v.9h-.9zM38.6 170.2h.9v.9h-.9zM44.1 169.1h.9v.9h-.9zM37.2 176.8h.9v.9h-.9zM41.4 165.3h.9v.9h-.9zM40 177.3h.9v.9h-.9zM42.2 165.2h.9v.9h-.9zM31.6 172.7h.9v.9h-.9zM32.8 177.7h.9v.9h-.9zM31.6 177.3h.9v.9h-.9zM37.8 167.9h.9v.9h-.9zM30 171.4h.9v.9h-.9zM35.5 176.5h.9v.9h-.9zM34.1 176.2h.9v.9h-.9zM33.3 174.6h.9v.9h-.9zM33.2 169.5h.9v.9h-.9zM37.1 179.8h.9v.9h-.9zM34.5 170.5h.9v.9h-.9zM30.8 179.9h.9v.9h-.9zM34.8 175.1h.9v.9h-.9zM41.1 176.8h.9v.9h-.9zM30.4 176.3h.9v.9h-.9z"/>
<ellipse cx="50" cy="158" rx="10" ry="12.5" fill="#a8c0dc" fill-opacity=".2" filter="url(#fb)"/>
<path fill="#a8c0dc" fill-opacity=".18" d="M56.8 162.9h.9v.9h-.9zM58.1 152.4h.9v.9h-.9zM49.4 152.8h.9v.9h-.9zM56.1 151.5h.9v.9h-.9zM53.1 147.1h.9v.9h-.9zM49 154.4h.9v.9h-.9zM49.1 159.3h.9v.9h-.9zM48.5 155.8h.9v.9h-.9zM33.4 169.1h.9v.9h-.9zM45 155.6h.9v.9h-.9zM43.4 168h.9v.9h-.9zM42.8 163h.9v.9h-.9zM59.4 174.5h.9v.9h-.9zM59.5 164.2h.9v.9h-.9zM40.4 170.9h.9v.9h-.9zM59.5 166.4h.9v.9h-.9zM56.4 158.8h.9v.9h-.9zM45.9 168.8h.9v.9h-.9zM60.2 147.7h.9v.9h-.9zM57.3 160.5h.9v.9h-.9z"/>
</g>
<line x1="46.2" y1="140" x2="46.2" y2="180.5" stroke="#8f8f8f" stroke-width=".5"/>
<line x1="27.4" y1="161" x2="68.5" y2="161" stroke="#8f8f8f" stroke-width=".5"/>
<rect x="46.2" y="140" width="22.3" height="21" fill="none" stroke="#a3353f" stroke-width="0.9"/>
<text x="16.9" y="142.8" font-size="6.2" textLength="6.1" lengthAdjust="spacingAndGlyphs" transform="rotate(.05 16.9 142.8)" stroke="#231f20" stroke-width="0.12">10</text>
<text x="23.4" y="139.8" font-size="4" stroke="#231f20" stroke-width=".06" textLength="1.8" lengthAdjust="spacingAndGlyphs" transform="rotate(.05 23.4 139.8)">3</text>
<text x="16.9" y="152.6" font-size="6.2" textLength="6.1" lengthAdjust="spacingAndGlyphs" transform="rotate(.05 16.9 152.6)" stroke="#231f20" stroke-width="0.12">10</text>
<text x="23.4" y="149.6" font-size="4" stroke="#231f20" stroke-width=".06" textLength="1.8" lengthAdjust="spacingAndGlyphs" transform="rotate(.05 23.4 149.6)">2</text>
<text x="16.9" y="162.6" font-size="6.2" textLength="6.1" lengthAdjust="spacingAndGlyphs" transform="rotate(.05 16.9 162.6)" stroke="#231f20" stroke-width="0.12">10</text>
<text x="23.4" y="159.6" font-size="4" stroke="#231f20" stroke-width=".06" textLength="1.8" lengthAdjust="spacingAndGlyphs" transform="rotate(.05 23.4 159.6)">1</text>
<text x="16.9" y="172.4" font-size="6.2" textLength="6.1" lengthAdjust="spacingAndGlyphs" transform="rotate(.05 16.9 172.4)" stroke="#231f20" stroke-width="0.12">10</text>
<text x="23.4" y="169.4" font-size="4" stroke="#231f20" stroke-width=".06" textLength="1.8" lengthAdjust="spacingAndGlyphs" transform="rotate(.05 23.4 169.4)">0</text>
<text x="34.1" y="189.4" font-size="5.9" textLength="6" lengthAdjust="spacingAndGlyphs" transform="rotate(.05 34.1 189.4)" stroke="#231f20" stroke-width="0.12">10</text>
<text x="40.2" y="186.5" font-size="3.8" stroke="#231f20" stroke-width=".06" textLength="1.8" lengthAdjust="spacingAndGlyphs" transform="rotate(.05 40.2 186.5)">0</text>
<text x="43.85" y="189.4" font-size="5.9" textLength="6" lengthAdjust="spacingAndGlyphs" transform="rotate(.05 43.85 189.4)" stroke="#231f20" stroke-width="0.12">10</text>
<text x="49.95" y="186.5" font-size="3.8" stroke="#231f20" stroke-width=".06" textLength="1.8" lengthAdjust="spacingAndGlyphs" transform="rotate(.05 49.95 186.5)">1</text>
<text x="53.6" y="189.4" font-size="5.9" textLength="6" lengthAdjust="spacingAndGlyphs" transform="rotate(.05 53.6 189.4)" stroke="#231f20" stroke-width="0.12">10</text>
<text x="59.7" y="186.5" font-size="3.8" stroke="#231f20" stroke-width=".06" textLength="1.8" lengthAdjust="spacingAndGlyphs" transform="rotate(.05 59.7 186.5)">2</text>
<text x="63.35" y="189.4" font-size="5.9" textLength="6" lengthAdjust="spacingAndGlyphs" transform="rotate(.05 63.35 189.4)" stroke="#231f20" stroke-width="0.12">10</text>
<text x="69.45" y="186.5" font-size="3.8" stroke="#231f20" stroke-width=".06" textLength="1.8" lengthAdjust="spacingAndGlyphs" transform="rotate(.05 69.45 186.5)">3</text>
<text x="39.7" y="199.2" font-size="8.2" stroke="#231f20" stroke-width=".06" textLength="16.6" lengthAdjust="spacingAndGlyphs" transform="rotate(.05 39.7 199.2)">CD19</text>
<text x="13.85" y="168.1" font-size="8.8" stroke="#231f20" stroke-width=".06" textLength="16.2" lengthAdjust="spacingAndGlyphs" transform="rotate(-89.95 13.85 168.1)">CD27</text>
<text x="49.8" y="138" font-size="6.6" stroke="#231f20" stroke-width=".06" textLength="13.8" lengthAdjust="spacingAndGlyphs" transform="rotate(.05 49.8 138)">MBC</text>
<rect x="92.4" y="140" width="39.9" height="39.8" fill="none" stroke="#c9c9c9" stroke-width="0.6"/>
<g clip-path="url(#clp3)">
<ellipse cx="106.5" cy="171.5" rx="5.25" ry="4" fill="#2e66b2" fill-opacity=".72" filter="url(#fb)"/>
<path fill="#2e66b2" fill-opacity=".66" d="M110.2 172.4h.9v.9h-.9zM111.2 174.8h.9v.9h-.9zM110.3 167.1h.9v.9h-.9zM110 171.7h.9v.9h-.9zM101.8 173.8h.9v.9h-.9zM100.8 174.4h.9v.9h-.9zM113.6 169.9h.9v.9h-.9zM110.4 173h.9v.9h-.9zM109.3 167.3h.9v.9h-.9zM109.1 172h.9v.9h-.9zM109.7 171.6h.9v.9h-.9zM111.2 172.4h.9v.9h-.9zM109.4 175.9h.9v.9h-.9zM107.4 174.7h.9v.9h-.9zM107.6 173.2h.9v.9h-.9zM104.4 174h.9v.9h-.9zM111.7 171.3h.9v.9h-.9zM109.9 172.9h.9v.9h-.9zM102 172.7h.9v.9h-.9zM112.1 170.1h.9v.9h-.9zM99.2 172.2h.9v.9h-.9zM104 177.6h.9v.9h-.9zM106.5 171.6h.9v.9h-.9zM104 172.4h.9v.9h-.9zM104.3 168.8h.9v.9h-.9zM106.4 169.1h.9v.9h-.9zM112.1 167.9h.9v.9h-.9zM106.3 169.4h.9v.9h-.9zM100.9 176.8h.9v.9h-.9zM98 176.2h.9v.9h-.9zM100.8 171.9h.9v.9h-.9zM116 164.9h.9v.9h-.9zM101 175.7h.9v.9h-.9zM107.4 169.9h.9v.9h-.9zM106.5 168.6h.9v.9h-.9zM107.2 176.3h.9v.9h-.9zM105.1 172h.9v.9h-.9zM111.6 177.8h.9v.9h-.9zM104.2 172.6h.9v.9h-.9zM104.3 169.6h.9v.9h-.9zM105 169.6h.9v.9h-.9zM99.5 165.4h.9v.9h-.9zM103.6 172h.9v.9h-.9zM111.6 170h.9v.9h-.9zM106 173.7h.9v.9h-.9zM109.7 171.3h.9v.9h-.9zM106.4 177.5h.9v.9h-.9zM105.3 170.1h.9v.9h-.9zM100 173h.9v.9h-.9zM105.6 177.6h.9v.9h-.9zM105.3 174.2h.9v.9h-.9zM110.5 176.8h.9v.9h-.9zM101.3 176.5h.9v.9h-.9zM106.7 171.3h.9v.9h-.9zM105.4 170.4h.9v.9h-.9zM105.2 164.3h.9v.9h-.9zM108.7 171.8h.9v.9h-.9zM102.7 171.4h.9v.9h-.9zM116.1 172.8h.9v.9h-.9zM105.1 177h.9v.9h-.9zM103.4 171.1h.9v.9h-.9zM104.4 170.9h.9v.9h-.9zM109.6 173.4h.9v.9h-.9zM103.6 171.2h.9v.9h-.9zM107 170.3h.9v.9h-.9zM106.5 169.4h.9v.9h-.9zM103.6 171.7h.9v.9h-.9zM102.4 172.9h.9v.9h-.9zM105.8 168.7h.9v.9h-.9zM104.1 170.1h.9v.9h-.9zM106 172h.9v.9h-.9zM105.8 168.9h.9v.9h-.9zM112.5 174.4h.9v.9h-.9zM107.1 174.6h.9v.9h-.9zM108 170.8h.9v.9h-.9zM110.7 174.8h.9v.9h-.9zM105 173.5h.9v.9h-.9zM115.8 172.9h.9v.9h-.9zM111 175.5h.9v.9h-.9zM109.2 176.5h.9v.9h-.9zM107.6 173.1h.9v.9h-.9zM107.9 171.9h.9v.9h-.9zM112.3 170.1h.9v.9h-.9zM106.6 169.2h.9v.9h-.9zM106.7 170.4h.9v.9h-.9zM108.8 171.2h.9v.9h-.9zM104.2 170.7h.9v.9h-.9zM106.1 170h.9v.9h-.9zM110.4 173.7h.9v.9h-.9zM107.2 167.9h.9v.9h-.9zM108.7 167.6h.9v.9h-.9zM107.4 171.7h.9v.9h-.9zM104.2 169h.9v.9h-.9zM103.8 177.9h.9v.9h-.9zM105.5 170.9h.9v.9h-.9zM110.5 172.9h.9v.9h-.9zM110.9 167.8h.9v.9h-.9zM106.4 170.7h.9v.9h-.9zM107.3 174.6h.9v.9h-.9zM101.8 172.5h.9v.9h-.9zM106.5 173.7h.9v.9h-.9zM107.3 169.9h.9v.9h-.9zM103.1 164.1h.9v.9h-.9zM110.6 167.1h.9v.9h-.9zM105 176.7h.9v.9h-.9zM104.9 173.5h.9v.9h-.9zM105.8 173.7h.9v.9h-.9zM106.7 170h.9v.9h-.9zM112.1 170.8h.9v.9h-.9zM101.2 170.6h.9v.9h-.9zM108.8 168.2h.9v.9h-.9zM109.8 173.9h.9v.9h-.9zM115.2 169.6h.9v.9h-.9zM109.3 166.4h.9v.9h-.9zM104.9 171.9h.9v.9h-.9zM108.3 171.4h.9v.9h-.9zM106.2 169.7h.9v.9h-.9zM104.8 172.5h.9v.9h-.9zM108.9 173.5h.9v.9h-.9zM110.6 175.2h.9v.9h-.9zM99.3 170h.9v.9h-.9zM106 169.6h.9v.9h-.9zM110.8 173.9h.9v.9h-.9zM106.2 172h.9v.9h-.9zM111.7 170.5h.9v.9h-.9zM105.3 174.4h.9v.9h-.9zM108.5 175.9h.9v.9h-.9zM108.1 173.9h.9v.9h-.9zM104.4 168.7h.9v.9h-.9zM106.6 163.4h.9v.9h-.9zM108.3 174.6h.9v.9h-.9zM106.9 170.9h.9v.9h-.9zM111 171.5h.9v.9h-.9zM110.6 178.3h.9v.9h-.9zM109.5 174.5h.9v.9h-.9zM108.6 172.4h.9v.9h-.9zM107.7 171.8h.9v.9h-.9zM111 166.6h.9v.9h-.9zM105.5 173.6h.9v.9h-.9zM103.2 171.3h.9v.9h-.9zM103.8 172.9h.9v.9h-.9zM110.1 176h.9v.9h-.9zM108.6 169.4h.9v.9h-.9zM107.6 173.3h.9v.9h-.9zM112.3 165h.9v.9h-.9zM108.1 166h.9v.9h-.9zM109.5 172.9h.9v.9h-.9zM108.6 174.3h.9v.9h-.9zM108.2 169.6h.9v.9h-.9zM108 175.3h.9v.9h-.9zM106.1 171.7h.9v.9h-.9zM101.7 175.1h.9v.9h-.9zM104.6 169.3h.9v.9h-.9zM104.8 169h.9v.9h-.9zM105.6 175.5h.9v.9h-.9zM109.8 175.9h.9v.9h-.9zM112.6 168.8h.9v.9h-.9zM108.5 176.2h.9v.9h-.9zM115.8 167.3h.9v.9h-.9zM100.9 173h.9v.9h-.9zM105.3 168.5h.9v.9h-.9zM108.1 169.2h.9v.9h-.9zM97.5 171.5h.9v.9h-.9zM107.1 173.5h.9v.9h-.9zM110.4 172.1h.9v.9h-.9zM105.7 169.5h.9v.9h-.9zM100 170.2h.9v.9h-.9zM110.6 173.6h.9v.9h-.9zM114.8 171.1h.9v.9h-.9zM99.4 174.1h.9v.9h-.9zM110.8 168h.9v.9h-.9zM100.1 172h.9v.9h-.9zM109.4 168.1h.9v.9h-.9zM105.2 169.2h.9v.9h-.9zM101.8 167.5h.9v.9h-.9zM107.1 170.4h.9v.9h-.9zM103.9 163.6h.9v.9h-.9zM113.6 168.7h.9v.9h-.9zM106 168.1h.9v.9h-.9zM108.1 166.9h.9v.9h-.9zM106.9 171h.9v.9h-.9zM110.2 168.2h.9v.9h-.9zM104 170.8h.9v.9h-.9zM115 167h.9v.9h-.9zM107.7 169.5h.9v.9h-.9zM107.8 173.5h.9v.9h-.9zM107.1 172.3h.9v.9h-.9z"/>
<ellipse cx="117" cy="172" rx="5.62" ry="4.38" fill="#6a98cc" fill-opacity=".45" filter="url(#fb)"/>
<path fill="#6a98cc" fill-opacity=".42" d="M118.3 170.1h.9v.9h-.9zM116.1 166.5h.9v.9h-.9zM115.5 169.5h.9v.9h-.9zM116 174.5h.9v.9h-.9zM118.7 173.6h.9v.9h-.9zM121.8 164.1h.9v.9h-.9zM118.9 171.9h.9v.9h-.9zM116.6 167.7h.9v.9h-.9zM119.4 175.9h.9v.9h-.9zM121.4 171.7h.9v.9h-.9zM119.8 175.1h.9v.9h-.9zM124.9 176.1h.9v.9h-.9zM117.6 172.3h.9v.9h-.9zM117.7 172.8h.9v.9h-.9zM114.9 174.6h.9v.9h-.9zM114.1 169.3h.9v.9h-.9zM118.5 170.1h.9v.9h-.9zM116 165.1h.9v.9h-.9zM120.4 172h.9v.9h-.9zM116.5 173.6h.9v.9h-.9zM117.9 169.7h.9v.9h-.9zM125.6 170.5h.9v.9h-.9zM121.2 178.1h.9v.9h-.9zM114.4 172.3h.9v.9h-.9zM113.5 175.5h.9v.9h-.9zM115.6 168.3h.9v.9h-.9zM122.7 175.1h.9v.9h-.9zM113.2 176h.9v.9h-.9zM124.4 170.2h.9v.9h-.9zM115.9 169.1h.9v.9h-.9zM117.6 172.2h.9v.9h-.9zM120.2 172.3h.9v.9h-.9zM110.7 169.3h.9v.9h-.9zM123.1 175.9h.9v.9h-.9zM116.3 171.5h.9v.9h-.9zM116.3 172.1h.9v.9h-.9zM109.8 175h.9v.9h-.9zM114.2 172.5h.9v.9h-.9zM106.1 172.8h.9v.9h-.9zM122.7 164.5h.9v.9h-.9zM123.5 173.6h.9v.9h-.9zM113.9 166.7h.9v.9h-.9zM122 172.9h.9v.9h-.9zM119.5 171.1h.9v.9h-.9zM113.6 174.9h.9v.9h-.9zM112.9 175h.9v.9h-.9zM109.8 168.9h.9v.9h-.9zM110.8 176.4h.9v.9h-.9zM109.5 168.2h.9v.9h-.9zM119.8 172.8h.9v.9h-.9zM126.4 178.2h.9v.9h-.9zM119.7 174.3h.9v.9h-.9zM109.1 169.1h.9v.9h-.9zM115.6 171.4h.9v.9h-.9zM111.1 168.9h.9v.9h-.9zM113.4 175.6h.9v.9h-.9zM118.8 170.9h.9v.9h-.9zM115.8 173h.9v.9h-.9zM114 171.1h.9v.9h-.9zM109.6 174.2h.9v.9h-.9zM121.1 173.2h.9v.9h-.9zM119.1 173.2h.9v.9h-.9zM125.8 172.7h.9v.9h-.9zM111.3 168.5h.9v.9h-.9zM120.1 175.6h.9v.9h-.9zM120.3 174.8h.9v.9h-.9zM117.8 167h.9v.9h-.9zM113.9 165.9h.9v.9h-.9zM115.3 167.4h.9v.9h-.9zM117.4 171.4h.9v.9h-.9zM108.6 174.4h.9v.9h-.9zM120.3 167.3h.9v.9h-.9zM117.6 174.4h.9v.9h-.9zM115.7 174.9h.9v.9h-.9z"/>
</g>
<line x1="113.3" y1="140" x2="113.3" y2="179.8" stroke="#8f8f8f" stroke-width=".5"/>
<line x1="92.4" y1="162.5" x2="132.3" y2="162.5" stroke="#8f8f8f" stroke-width=".5"/>
<rect x="92.4" y="162.5" width="20.9" height="17.3" fill="none" stroke="#a3353f" stroke-width="0.9"/>
<text x="81" y="142.8" font-size="6.2" textLength="6.1" lengthAdjust="spacingAndGlyphs" transform="rotate(.05 81 142.8)" stroke="#231f20" stroke-width="0.12">10</text>
<text x="87.5" y="139.8" font-size="4" stroke="#231f20" stroke-width=".06" textLength="1.8" lengthAdjust="spacingAndGlyphs" transform="rotate(.05 87.5 139.8)">3</text>
<text x="81" y="152.6" font-size="6.2" textLength="6.1" lengthAdjust="spacingAndGlyphs" transform="rotate(.05 81 152.6)" stroke="#231f20" stroke-width="0.12">10</text>
<text x="87.5" y="149.6" font-size="4" stroke="#231f20" stroke-width=".06" textLength="1.8" lengthAdjust="spacingAndGlyphs" transform="rotate(.05 87.5 149.6)">2</text>
<text x="81" y="162.6" font-size="6.2" textLength="6.1" lengthAdjust="spacingAndGlyphs" transform="rotate(.05 81 162.6)" stroke="#231f20" stroke-width="0.12">10</text>
<text x="87.5" y="159.6" font-size="4" stroke="#231f20" stroke-width=".06" textLength="1.8" lengthAdjust="spacingAndGlyphs" transform="rotate(.05 87.5 159.6)">1</text>
<text x="81" y="172.4" font-size="6.2" textLength="6.1" lengthAdjust="spacingAndGlyphs" transform="rotate(.05 81 172.4)" stroke="#231f20" stroke-width="0.12">10</text>
<text x="87.5" y="169.4" font-size="4" stroke="#231f20" stroke-width=".06" textLength="1.8" lengthAdjust="spacingAndGlyphs" transform="rotate(.05 87.5 169.4)">0</text>
<text x="99.1" y="188.7" font-size="5.9" textLength="6" lengthAdjust="spacingAndGlyphs" transform="rotate(.05 99.1 188.7)" stroke="#231f20" stroke-width="0.12">10</text>
<text x="105.2" y="185.8" font-size="3.8" stroke="#231f20" stroke-width=".06" textLength="1.8" lengthAdjust="spacingAndGlyphs" transform="rotate(.05 105.2 185.8)">0</text>
<text x="108.85" y="188.7" font-size="5.9" textLength="6" lengthAdjust="spacingAndGlyphs" transform="rotate(.05 108.85 188.7)" stroke="#231f20" stroke-width="0.12">10</text>
<text x="114.95" y="185.8" font-size="3.8" stroke="#231f20" stroke-width=".06" textLength="1.8" lengthAdjust="spacingAndGlyphs" transform="rotate(.05 114.95 185.8)">1</text>
<text x="118.6" y="188.7" font-size="5.9" textLength="6" lengthAdjust="spacingAndGlyphs" transform="rotate(.05 118.6 188.7)" stroke="#231f20" stroke-width="0.12">10</text>
<text x="124.7" y="185.8" font-size="3.8" stroke="#231f20" stroke-width=".06" textLength="1.8" lengthAdjust="spacingAndGlyphs" transform="rotate(.05 124.7 185.8)">2</text>
<text x="128.35" y="188.7" font-size="5.9" textLength="6" lengthAdjust="spacingAndGlyphs" transform="rotate(.05 128.35 188.7)" stroke="#231f20" stroke-width="0.12">10</text>
<text x="134.45" y="185.8" font-size="3.8" stroke="#231f20" stroke-width=".06" textLength="1.8" lengthAdjust="spacingAndGlyphs" transform="rotate(.05 134.45 185.8)">3</text>
<text x="103.2" y="199.2" font-size="8.2" stroke="#231f20" stroke-width=".06" textLength="16.6" lengthAdjust="spacingAndGlyphs" transform="rotate(.05 103.2 199.2)">CD20</text>
<text x="78.4" y="167.8" font-size="8.8" stroke="#231f20" stroke-width=".06" textLength="15.9" lengthAdjust="spacingAndGlyphs" transform="rotate(-89.95 78.4 167.8)">CD38</text>
<text x="96.6" y="160.6" font-size="5" fill="#111" stroke="#111" stroke-width=".06" font-weight="bold" textLength="11.8" lengthAdjust="spacingAndGlyphs" transform="rotate(.05 96.6 160.6)">PrePB</text>
<rect x="155" y="139.4" width="38.75" height="41.2" fill="none" stroke="#c9c9c9" stroke-width="0.6"/>
<g clip-path="url(#clp4)">
<ellipse cx="166.5" cy="160" rx="3" ry="6.88" fill="#2c5a8c" fill-opacity=".78" filter="url(#fb)"/>
<path fill="#2c5a8c" fill-opacity=".72" d="M166.9 165.6h.9v.9h-.9zM166.9 159.1h.9v.9h-.9zM167.7 164.1h.9v.9h-.9zM167.1 157.6h.9v.9h-.9zM164.7 158h.9v.9h-.9zM165.2 161h.9v.9h-.9zM166.9 159.5h.9v.9h-.9zM166.5 160.8h.9v.9h-.9zM170.1 166.3h.9v.9h-.9zM165.1 162.2h.9v.9h-.9zM165.7 159.4h.9v.9h-.9zM165.9 156.6h.9v.9h-.9zM163.3 146.9h.9v.9h-.9zM166.9 166.2h.9v.9h-.9zM164.4 162.6h.9v.9h-.9zM165.6 161.4h.9v.9h-.9zM164.6 158.7h.9v.9h-.9zM166.2 147.3h.9v.9h-.9zM167 159.2h.9v.9h-.9zM160.7 163.3h.9v.9h-.9zM166.4 161h.9v.9h-.9zM167.3 157.7h.9v.9h-.9zM164 157.5h.9v.9h-.9zM165.5 171.7h.9v.9h-.9zM170.7 157.3h.9v.9h-.9zM165.5 161.6h.9v.9h-.9zM167.8 156.2h.9v.9h-.9zM164.1 170.2h.9v.9h-.9zM168.9 151.6h.9v.9h-.9zM162.3 155.5h.9v.9h-.9zM166.9 162.8h.9v.9h-.9zM165.6 151.2h.9v.9h-.9zM166.9 163.1h.9v.9h-.9zM166.4 157.2h.9v.9h-.9zM167.8 159.5h.9v.9h-.9zM163.8 160.3h.9v.9h-.9zM163.4 165h.9v.9h-.9zM167.5 154.5h.9v.9h-.9zM166.9 166.5h.9v.9h-.9zM161.4 159.1h.9v.9h-.9zM170.3 151.5h.9v.9h-.9zM166 152.2h.9v.9h-.9zM166.3 147h.9v.9h-.9zM162.6 157h.9v.9h-.9zM166.8 161.9h.9v.9h-.9zM167.4 166h.9v.9h-.9zM168.1 163.8h.9v.9h-.9zM164.1 159h.9v.9h-.9zM173.9 172h.9v.9h-.9zM168.4 163.8h.9v.9h-.9zM168.7 157.7h.9v.9h-.9zM171 157.8h.9v.9h-.9zM166.2 171.6h.9v.9h-.9zM161.5 161.8h.9v.9h-.9zM162.4 156.3h.9v.9h-.9zM166.2 157.9h.9v.9h-.9zM166.8 155.7h.9v.9h-.9zM166.2 153.4h.9v.9h-.9zM165.5 152.3h.9v.9h-.9zM168 152.8h.9v.9h-.9zM168.1 157.6h.9v.9h-.9zM165.7 166.2h.9v.9h-.9zM166.7 149.6h.9v.9h-.9zM167.6 144.1h.9v.9h-.9zM167.1 157.7h.9v.9h-.9zM163.1 160.3h.9v.9h-.9zM165.7 170.7h.9v.9h-.9zM165.4 170.4h.9v.9h-.9zM169.7 156.5h.9v.9h-.9zM164.5 167h.9v.9h-.9zM166.1 160.7h.9v.9h-.9zM165.8 153.2h.9v.9h-.9zM165.5 154.6h.9v.9h-.9zM162.8 158.2h.9v.9h-.9zM170.7 168.7h.9v.9h-.9zM166.3 160.6h.9v.9h-.9zM167.6 167.3h.9v.9h-.9zM167.2 157.2h.9v.9h-.9zM165.5 166h.9v.9h-.9zM172.6 156.4h.9v.9h-.9zM161.5 164.3h.9v.9h-.9zM166.2 160.6h.9v.9h-.9zM169.4 160.2h.9v.9h-.9zM163.3 149.1h.9v.9h-.9zM166.3 153.5h.9v.9h-.9zM167.1 152.9h.9v.9h-.9zM165.6 151.8h.9v.9h-.9zM165.6 157.4h.9v.9h-.9zM167.9 167.2h.9v.9h-.9zM166 155.1h.9v.9h-.9zM171.1 161.8h.9v.9h-.9zM167.9 163.2h.9v.9h-.9zM169.9 165.4h.9v.9h-.9zM168.1 164.1h.9v.9h-.9zM164.4 156.5h.9v.9h-.9zM166.2 160.4h.9v.9h-.9zM166.5 161.5h.9v.9h-.9zM166.5 157.5h.9v.9h-.9zM162.6 164.4h.9v.9h-.9zM167.8 155h.9v.9h-.9zM167.6 162h.9v.9h-.9zM166.6 149.8h.9v.9h-.9zM163.6 156.6h.9v.9h-.9zM170.3 155.1h.9v.9h-.9zM165.6 153.8h.9v.9h-.9zM165.3 161.7h.9v.9h-.9zM161.5 144.3h.9v.9h-.9zM168 160h.9v.9h-.9zM165 165.2h.9v.9h-.9zM168.8 148.3h.9v.9h-.9zM166 165.9h.9v.9h-.9zM164.8 158.1h.9v.9h-.9zM168.7 158.4h.9v.9h-.9zM163.6 156.1h.9v.9h-.9zM163.3 162.9h.9v.9h-.9zM162.3 165.4h.9v.9h-.9zM162.5 160.1h.9v.9h-.9zM162.9 158.1h.9v.9h-.9zM168.9 166h.9v.9h-.9zM169.6 159.4h.9v.9h-.9zM166.7 161.1h.9v.9h-.9zM167.9 157.7h.9v.9h-.9zM169.1 161.6h.9v.9h-.9zM169.2 162.5h.9v.9h-.9zM168.1 155.8h.9v.9h-.9zM165.4 152.8h.9v.9h-.9zM165.7 158.9h.9v.9h-.9zM168.4 152.9h.9v.9h-.9zM174.2 159.2h.9v.9h-.9zM169.5 165.6h.9v.9h-.9z"/>
<ellipse cx="168" cy="170" rx="4.38" ry="5" fill="#4a78a8" fill-opacity=".52" filter="url(#fb)"/>
<path fill="#4a78a8" fill-opacity=".48" d="M159.1 168.8h.9v.9h-.9zM173.1 160.2h.9v.9h-.9zM170.6 166.2h.9v.9h-.9zM166.3 170.8h.9v.9h-.9zM161.4 170.7h.9v.9h-.9zM165.6 166.9h.9v.9h-.9zM169.1 172.1h.9v.9h-.9zM167.7 167h.9v.9h-.9zM168.8 176h.9v.9h-.9zM168.6 173.4h.9v.9h-.9zM167.1 180h.9v.9h-.9zM162.1 172.2h.9v.9h-.9zM169.8 170.9h.9v.9h-.9zM164 165.3h.9v.9h-.9zM167.1 170.3h.9v.9h-.9zM163.6 165.6h.9v.9h-.9zM169.8 174h.9v.9h-.9zM165.9 167.1h.9v.9h-.9zM165.3 179.8h.9v.9h-.9zM169.6 169.6h.9v.9h-.9zM171.4 179h.9v.9h-.9zM172 164.1h.9v.9h-.9zM167.6 168.2h.9v.9h-.9zM166.7 165h.9v.9h-.9zM166.5 165.5h.9v.9h-.9zM169.1 170h.9v.9h-.9zM162.9 163h.9v.9h-.9zM166.2 172.5h.9v.9h-.9zM169.6 169.6h.9v.9h-.9zM156.3 167.9h.9v.9h-.9zM165.3 168.5h.9v.9h-.9zM163.6 168.1h.9v.9h-.9zM170.3 169.1h.9v.9h-.9zM167.7 169.4h.9v.9h-.9zM168.5 168.2h.9v.9h-.9zM167.8 174h.9v.9h-.9zM170.8 171.1h.9v.9h-.9zM172.5 170.7h.9v.9h-.9zM164.4 162.8h.9v.9h-.9zM165.4 169.6h.9v.9h-.9zM169.3 174.2h.9v.9h-.9zM165.8 166.6h.9v.9h-.9zM170.6 174.6h.9v.9h-.9zM166.2 171.2h.9v.9h-.9zM172.7 171.1h.9v.9h-.9zM167.7 161.5h.9v.9h-.9zM172.5 172.4h.9v.9h-.9zM168.3 168h.9v.9h-.9zM163.5 169.4h.9v.9h-.9zM167.5 174.2h.9v.9h-.9zM163.6 175.6h.9v.9h-.9zM168 174.6h.9v.9h-.9zM164.5 171.2h.9v.9h-.9zM172.1 170.3h.9v.9h-.9zM162.7 168.5h.9v.9h-.9zM169.7 164.2h.9v.9h-.9zM162.8 170.8h.9v.9h-.9zM164.5 172.6h.9v.9h-.9z"/>
<ellipse cx="180" cy="168" rx="8.12" ry="6.88" fill="#86a8cc" fill-opacity=".39" filter="url(#fb)"/>
<path fill="#86a8cc" fill-opacity=".36" d="M172.1 157.7h.9v.9h-.9zM174.7 176h.9v.9h-.9zM174.1 167.8h.9v.9h-.9zM181.3 162.5h.9v.9h-.9zM186.9 168.8h.9v.9h-.9zM182.6 158.5h.9v.9h-.9zM168.3 152.6h.9v.9h-.9zM178.5 166.5h.9v.9h-.9zM184.5 176h.9v.9h-.9zM178.1 166.3h.9v.9h-.9zM182.7 176.2h.9v.9h-.9zM174.4 171.2h.9v.9h-.9zM178.1 166h.9v.9h-.9zM185.1 163.4h.9v.9h-.9zM172.8 171.5h.9v.9h-.9zM179.6 166.3h.9v.9h-.9zM178.9 170.5h.9v.9h-.9zM177.4 172h.9v.9h-.9zM182.5 176h.9v.9h-.9zM188 172.5h.9v.9h-.9zM178.4 168.5h.9v.9h-.9zM178.3 170.9h.9v.9h-.9zM188.6 160.3h.9v.9h-.9zM174.4 165.6h.9v.9h-.9zM173.3 160.8h.9v.9h-.9zM176.4 174.9h.9v.9h-.9zM184.5 168h.9v.9h-.9zM180 158.7h.9v.9h-.9zM184.3 170.2h.9v.9h-.9zM172.8 169h.9v.9h-.9zM178.5 165h.9v.9h-.9zM173.4 164.1h.9v.9h-.9zM173.7 170.4h.9v.9h-.9zM182.2 169.6h.9v.9h-.9zM178.6 165.6h.9v.9h-.9zM193.1 157.6h.9v.9h-.9zM187.6 169.8h.9v.9h-.9zM180.3 165h.9v.9h-.9zM178.4 161.3h.9v.9h-.9zM170.8 167.2h.9v.9h-.9zM169 172.5h.9v.9h-.9zM187.1 148.9h.9v.9h-.9zM169.7 169.3h.9v.9h-.9zM181.2 168.5h.9v.9h-.9zM182.6 171.9h.9v.9h-.9zM185.4 177.7h.9v.9h-.9zM180 172.6h.9v.9h-.9zM169.3 167.1h.9v.9h-.9zM171.9 175.5h.9v.9h-.9zM171.4 167.2h.9v.9h-.9zM180 169h.9v.9h-.9zM186.9 173.1h.9v.9h-.9zM162.6 175.4h.9v.9h-.9zM176.6 164.8h.9v.9h-.9zM189 166.4h.9v.9h-.9zM170.9 160.6h.9v.9h-.9zM180.2 172.9h.9v.9h-.9zM189.6 166.9h.9v.9h-.9zM176.8 176.8h.9v.9h-.9zM176.9 175.9h.9v.9h-.9zM181.4 169.2h.9v.9h-.9zM178.3 169.5h.9v.9h-.9zM176.8 164.1h.9v.9h-.9zM179 164.3h.9v.9h-.9zM181.8 168.3h.9v.9h-.9zM178.1 166.8h.9v.9h-.9zM178.4 177.4h.9v.9h-.9zM179.8 164.6h.9v.9h-.9zM177.9 171.5h.9v.9h-.9zM178.5 167h.9v.9h-.9zM178.2 168.8h.9v.9h-.9zM182.4 170.3h.9v.9h-.9zM169.2 162h.9v.9h-.9zM162.8 172.3h.9v.9h-.9zM187 175h.9v.9h-.9zM180.8 174.2h.9v.9h-.9zM179.6 167.2h.9v.9h-.9zM169.8 163.6h.9v.9h-.9zM176 172.9h.9v.9h-.9zM190.6 165.3h.9v.9h-.9zM182.3 169.4h.9v.9h-.9zM174.8 158.4h.9v.9h-.9zM175 160h.9v.9h-.9zM177.8 167.1h.9v.9h-.9zM178.7 166.9h.9v.9h-.9zM183 162.7h.9v.9h-.9zM185.6 158.7h.9v.9h-.9zM180.2 170h.9v.9h-.9zM174.7 159.1h.9v.9h-.9zM184 164.2h.9v.9h-.9zM184.9 172.1h.9v.9h-.9zM179.8 167.8h.9v.9h-.9zM186.2 169.9h.9v.9h-.9zM173.8 168.8h.9v.9h-.9zM183.4 169h.9v.9h-.9zM181.1 167h.9v.9h-.9zM179.1 162.7h.9v.9h-.9zM170.6 174h.9v.9h-.9zM175.7 169.1h.9v.9h-.9zM170.1 168.7h.9v.9h-.9zM173.2 162.6h.9v.9h-.9zM185.9 174.1h.9v.9h-.9zM166.2 169.2h.9v.9h-.9zM185.5 161.1h.9v.9h-.9zM184.2 165h.9v.9h-.9zM173.4 165.9h.9v.9h-.9zM176.8 160.2h.9v.9h-.9zM175 172.5h.9v.9h-.9zM179.3 175.1h.9v.9h-.9zM178.1 169.8h.9v.9h-.9zM180.4 168.8h.9v.9h-.9zM178.5 167.3h.9v.9h-.9zM190.6 164.1h.9v.9h-.9zM176.3 166h.9v.9h-.9zM183.5 170h.9v.9h-.9zM185.8 160.5h.9v.9h-.9zM181.5 166.9h.9v.9h-.9zM178 168.7h.9v.9h-.9zM167.1 169.3h.9v.9h-.9zM180.7 160h.9v.9h-.9zM179.2 176.3h.9v.9h-.9z"/>
</g>
<line x1="172.75" y1="139.4" x2="172.75" y2="180.6" stroke="#8f8f8f" stroke-width=".5"/>
<line x1="155" y1="164" x2="193.75" y2="164" stroke="#8f8f8f" stroke-width=".5"/>
<rect x="155.5" y="140" width="17.25" height="21" fill="none" stroke="#a3353f" stroke-width="0.9"/>
<text x="145.3" y="142.2" font-size="6.2" textLength="6.1" lengthAdjust="spacingAndGlyphs" transform="rotate(.05 145.3 142.2)" stroke="#231f20" stroke-width="0.12">10</text>
<text x="151.8" y="139.2" font-size="4" stroke="#231f20" stroke-width=".06" textLength="1.8" lengthAdjust="spacingAndGlyphs" transform="rotate(.05 151.8 139.2)">3</text>
<text x="145.3" y="152" font-size="6.2" textLength="6.1" lengthAdjust="spacingAndGlyphs" transform="rotate(.05 145.3 152)" stroke="#231f20" stroke-width="0.12">10</text>
<text x="151.8" y="149" font-size="4" stroke="#231f20" stroke-width=".06" textLength="1.8" lengthAdjust="spacingAndGlyphs" transform="rotate(.05 151.8 149)">2</text>
<text x="145.3" y="162" font-size="6.2" textLength="6.1" lengthAdjust="spacingAndGlyphs" transform="rotate(.05 145.3 162)" stroke="#231f20" stroke-width="0.12">10</text>
<text x="151.8" y="159" font-size="4" stroke="#231f20" stroke-width=".06" textLength="1.8" lengthAdjust="spacingAndGlyphs" transform="rotate(.05 151.8 159)">1</text>
<text x="145.3" y="171.8" font-size="6.2" textLength="6.1" lengthAdjust="spacingAndGlyphs" transform="rotate(.05 145.3 171.8)" stroke="#231f20" stroke-width="0.12">10</text>
<text x="151.8" y="168.8" font-size="4" stroke="#231f20" stroke-width=".06" textLength="1.8" lengthAdjust="spacingAndGlyphs" transform="rotate(.05 151.8 168.8)">0</text>
<text x="161.7" y="189.5" font-size="5.9" textLength="6" lengthAdjust="spacingAndGlyphs" transform="rotate(.05 161.7 189.5)" stroke="#231f20" stroke-width="0.12">10</text>
<text x="167.8" y="186.6" font-size="3.8" stroke="#231f20" stroke-width=".06" textLength="1.8" lengthAdjust="spacingAndGlyphs" transform="rotate(.05 167.8 186.6)">0</text>
<text x="171.45" y="189.5" font-size="5.9" textLength="6" lengthAdjust="spacingAndGlyphs" transform="rotate(.05 171.45 189.5)" stroke="#231f20" stroke-width="0.12">10</text>
<text x="177.55" y="186.6" font-size="3.8" stroke="#231f20" stroke-width=".06" textLength="1.8" lengthAdjust="spacingAndGlyphs" transform="rotate(.05 177.55 186.6)">1</text>
<text x="181.2" y="189.5" font-size="5.9" textLength="6" lengthAdjust="spacingAndGlyphs" transform="rotate(.05 181.2 189.5)" stroke="#231f20" stroke-width="0.12">10</text>
<text x="187.3" y="186.6" font-size="3.8" stroke="#231f20" stroke-width=".06" textLength="1.8" lengthAdjust="spacingAndGlyphs" transform="rotate(.05 187.3 186.6)">2</text>
<text x="190.95" y="189.5" font-size="5.9" textLength="6" lengthAdjust="spacingAndGlyphs" transform="rotate(.05 190.95 189.5)" stroke="#231f20" stroke-width="0.12">10</text>
<text x="197.05" y="186.6" font-size="3.8" stroke="#231f20" stroke-width=".06" textLength="1.8" lengthAdjust="spacingAndGlyphs" transform="rotate(.05 197.05 186.6)">3</text>
<text x="168" y="199.2" font-size="8.2" stroke="#231f20" stroke-width=".06" textLength="15.8" lengthAdjust="spacingAndGlyphs" transform="rotate(.05 168 199.2)">CD20</text>
<text x="142.4" y="167.8" font-size="8.8" stroke="#231f20" stroke-width=".06" textLength="15.9" lengthAdjust="spacingAndGlyphs" transform="rotate(-89.95 142.4 167.8)">CD38</text>
<text x="160.6" y="138" font-size="6.6" stroke="#231f20" stroke-width=".06" textLength="7.6" lengthAdjust="spacingAndGlyphs" transform="rotate(.05 160.6 138)">PB</text>
<text x="158.8" y="178.2" font-size="5" fill="#111" stroke="#111" stroke-width=".06" font-weight="bold" textLength="11.4" lengthAdjust="spacingAndGlyphs" transform="rotate(.05 158.8 178.2)">PrePB</text>
<rect x="219.5" y="139.8" width="39.9" height="40.6" fill="none" stroke="#c9c9c9" stroke-width="0.6"/>
<g clip-path="url(#clp5)">
<ellipse cx="250" cy="157" rx="5.62" ry="10" fill="#6a98c8" fill-opacity=".45" filter="url(#fb)"/>
<path fill="#6a98c8" fill-opacity=".42" d="M248.1 161.5h.9v.9h-.9zM248.9 150.3h.9v.9h-.9zM245.8 153.6h.9v.9h-.9zM255.7 163.2h.9v.9h-.9zM246.7 164.7h.9v.9h-.9zM249.3 151.3h.9v.9h-.9zM251.8 149.5h.9v.9h-.9zM242.9 167h.9v.9h-.9zM241.7 161.1h.9v.9h-.9zM243.1 156.5h.9v.9h-.9zM249 153.3h.9v.9h-.9zM240.1 155.9h.9v.9h-.9zM249.7 149.7h.9v.9h-.9zM249.6 164.6h.9v.9h-.9zM246.7 158.8h.9v.9h-.9zM244.8 159.8h.9v.9h-.9zM252.7 176.4h.9v.9h-.9zM253.9 160.2h.9v.9h-.9zM256.1 148.9h.9v.9h-.9zM254.6 152.5h.9v.9h-.9zM247.1 165.5h.9v.9h-.9zM250.9 167.3h.9v.9h-.9zM243.5 159h.9v.9h-.9zM247.6 154.7h.9v.9h-.9zM241.4 164.2h.9v.9h-.9zM250.8 149.1h.9v.9h-.9zM243.9 150h.9v.9h-.9zM256.1 156h.9v.9h-.9zM248.4 160.7h.9v.9h-.9zM250 158.7h.9v.9h-.9zM253.2 159.5h.9v.9h-.9zM253.8 147.5h.9v.9h-.9zM250.2 154.1h.9v.9h-.9zM250.4 156.6h.9v.9h-.9zM247.1 154.2h.9v.9h-.9zM254.1 152.6h.9v.9h-.9zM244.4 161.6h.9v.9h-.9zM254.2 154.8h.9v.9h-.9zM250.5 150.4h.9v.9h-.9zM249.1 165.6h.9v.9h-.9zM253.5 158.1h.9v.9h-.9zM248.8 144.2h.9v.9h-.9zM251.4 160.6h.9v.9h-.9zM254.6 172.8h.9v.9h-.9zM251.6 164.5h.9v.9h-.9zM245.1 166.4h.9v.9h-.9zM253.8 167.7h.9v.9h-.9zM253 160.5h.9v.9h-.9zM256.5 151.8h.9v.9h-.9zM252.8 165.5h.9v.9h-.9zM246.6 148h.9v.9h-.9zM251.9 158h.9v.9h-.9zM252.7 162.1h.9v.9h-.9zM246.7 159.7h.9v.9h-.9zM255 154.3h.9v.9h-.9zM248.8 148.3h.9v.9h-.9zM253.6 172.3h.9v.9h-.9zM244 163h.9v.9h-.9zM254 152.7h.9v.9h-.9zM248.4 148.9h.9v.9h-.9zM246.6 158.4h.9v.9h-.9zM252.9 158h.9v.9h-.9zM253.8 158.7h.9v.9h-.9zM244.9 168.4h.9v.9h-.9zM255.3 151.6h.9v.9h-.9zM257.9 160.8h.9v.9h-.9zM250.7 172.1h.9v.9h-.9zM239.1 144.6h.9v.9h-.9zM253.2 155.2h.9v.9h-.9zM245.9 168.9h.9v.9h-.9zM252.2 147.2h.9v.9h-.9zM247.2 163.8h.9v.9h-.9zM257.9 141.6h.9v.9h-.9zM251.2 154.2h.9v.9h-.9zM242.4 155.9h.9v.9h-.9zM243.1 153h.9v.9h-.9zM257.2 161.2h.9v.9h-.9zM253.6 161.9h.9v.9h-.9zM251.7 164.8h.9v.9h-.9zM245 154.4h.9v.9h-.9zM253.9 151.6h.9v.9h-.9zM248.2 166.7h.9v.9h-.9zM256.9 152.5h.9v.9h-.9zM246.6 161.8h.9v.9h-.9zM251.3 152h.9v.9h-.9zM252.8 161.6h.9v.9h-.9zM256.1 163.7h.9v.9h-.9zM255 151.7h.9v.9h-.9zM251.6 157.9h.9v.9h-.9zM247.7 159.4h.9v.9h-.9zM251.3 156.9h.9v.9h-.9zM248 163.8h.9v.9h-.9zM243.2 163.8h.9v.9h-.9zM250.2 159.5h.9v.9h-.9zM239.7 170.5h.9v.9h-.9zM242.6 150.6h.9v.9h-.9zM253 152.6h.9v.9h-.9zM248.3 159h.9v.9h-.9zM253.2 155.1h.9v.9h-.9zM251.2 160.8h.9v.9h-.9zM247.2 151.5h.9v.9h-.9zM258.8 150.7h.9v.9h-.9zM255.6 157.9h.9v.9h-.9zM256.7 152.4h.9v.9h-.9zM252.5 159.9h.9v.9h-.9zM249.2 159.8h.9v.9h-.9zM246.8 156.7h.9v.9h-.9zM248.4 163.3h.9v.9h-.9zM249.8 146.4h.9v.9h-.9zM248.6 156.6h.9v.9h-.9zM246.2 167.8h.9v.9h-.9zM252 164h.9v.9h-.9zM246.8 154.2h.9v.9h-.9zM254.7 146.1h.9v.9h-.9zM251.8 158.1h.9v.9h-.9zM248 158.1h.9v.9h-.9zM245.5 159.1h.9v.9h-.9zM244.8 147.3h.9v.9h-.9zM256.4 151.9h.9v.9h-.9zM240.9 165h.9v.9h-.9zM249.9 164.6h.9v.9h-.9zM251.8 170.9h.9v.9h-.9zM249.7 162.1h.9v.9h-.9zM245.8 158.7h.9v.9h-.9zM257 161.3h.9v.9h-.9zM250.9 141.8h.9v.9h-.9zM248.5 147.2h.9v.9h-.9zM253.6 151.6h.9v.9h-.9zM251.8 149.5h.9v.9h-.9zM258.6 148.1h.9v.9h-.9zM250.8 178.1h.9v.9h-.9zM251.2 150.5h.9v.9h-.9zM252.9 165.2h.9v.9h-.9zM254.1 141.9h.9v.9h-.9zM251.2 140.6h.9v.9h-.9zM258.6 157.9h.9v.9h-.9zM248.2 162.7h.9v.9h-.9zM252.4 148h.9v.9h-.9zM257.4 155.5h.9v.9h-.9zM242.4 168.4h.9v.9h-.9zM257 167.3h.9v.9h-.9zM252.7 150.3h.9v.9h-.9zM254.4 172.1h.9v.9h-.9zM253.8 170h.9v.9h-.9zM246.8 165.5h.9v.9h-.9zM254.4 145.6h.9v.9h-.9z"/>
<ellipse cx="250" cy="173" rx="6.25" ry="4" fill="#5a8cc0" fill-opacity=".59" filter="url(#fb)"/>
<path fill="#5a8cc0" fill-opacity=".54" d="M242.2 170.9h.9v.9h-.9zM250.7 174.6h.9v.9h-.9zM249.1 173h.9v.9h-.9zM249.7 173.4h.9v.9h-.9zM253.1 174.7h.9v.9h-.9zM250 174h.9v.9h-.9zM248 175.7h.9v.9h-.9zM247.8 178.4h.9v.9h-.9zM250.1 174h.9v.9h-.9zM246.5 172.1h.9v.9h-.9zM251.1 173.2h.9v.9h-.9zM247.2 169.5h.9v.9h-.9zM250.5 173.7h.9v.9h-.9zM253 177.1h.9v.9h-.9zM248.7 166.8h.9v.9h-.9zM249.6 167.3h.9v.9h-.9zM243.9 176.4h.9v.9h-.9zM253.1 171.1h.9v.9h-.9zM247.1 172.9h.9v.9h-.9zM241.6 174.7h.9v.9h-.9zM248.5 179h.9v.9h-.9zM245 176.4h.9v.9h-.9zM246.9 176.4h.9v.9h-.9zM245.4 175.5h.9v.9h-.9zM248.1 170.6h.9v.9h-.9zM249.5 174.7h.9v.9h-.9zM252.3 178.2h.9v.9h-.9zM254.4 164.8h.9v.9h-.9zM248.3 166.8h.9v.9h-.9zM248.4 175.2h.9v.9h-.9zM243.6 169.4h.9v.9h-.9zM251 172.3h.9v.9h-.9zM258.2 174.2h.9v.9h-.9zM252.9 178.8h.9v.9h-.9zM247.8 173.2h.9v.9h-.9zM245.3 174h.9v.9h-.9zM255.4 177.5h.9v.9h-.9zM250.1 170.9h.9v.9h-.9zM246.5 168.7h.9v.9h-.9zM250.9 177.5h.9v.9h-.9zM238.5 166.2h.9v.9h-.9zM257.3 168.1h.9v.9h-.9zM251.9 169.2h.9v.9h-.9zM254.2 175.7h.9v.9h-.9zM251.1 175.8h.9v.9h-.9zM250.6 175h.9v.9h-.9zM247 170.6h.9v.9h-.9zM249.1 172.5h.9v.9h-.9zM250.7 171.3h.9v.9h-.9zM253.6 173.3h.9v.9h-.9zM252.1 173.2h.9v.9h-.9zM253.4 169.4h.9v.9h-.9zM258.2 174.3h.9v.9h-.9zM252.6 175.2h.9v.9h-.9zM255.8 175.6h.9v.9h-.9zM251.5 172.6h.9v.9h-.9zM242.1 173.9h.9v.9h-.9zM248.8 172.2h.9v.9h-.9zM250.6 177.1h.9v.9h-.9zM255.2 177.2h.9v.9h-.9zM244 170.2h.9v.9h-.9zM253.5 172.3h.9v.9h-.9zM251.4 174.7h.9v.9h-.9zM249 173.6h.9v.9h-.9zM247 173.1h.9v.9h-.9zM248 174.1h.9v.9h-.9zM243.3 168.5h.9v.9h-.9zM252.7 174h.9v.9h-.9zM245.6 172.5h.9v.9h-.9zM245.2 179.8h.9v.9h-.9zM242.6 178.8h.9v.9h-.9zM246.3 174.6h.9v.9h-.9zM249.1 172.1h.9v.9h-.9zM255.1 175.9h.9v.9h-.9zM249 170.4h.9v.9h-.9zM251.1 172.3h.9v.9h-.9zM251.9 173.5h.9v.9h-.9zM256.4 170.2h.9v.9h-.9zM250.5 170.8h.9v.9h-.9zM257 179.1h.9v.9h-.9zM250 175h.9v.9h-.9zM257.5 172.3h.9v.9h-.9zM245.8 176.6h.9v.9h-.9zM253 172.6h.9v.9h-.9zM257.8 174h.9v.9h-.9zM241.6 174.4h.9v.9h-.9zM250.2 179.3h.9v.9h-.9zM250.4 172.6h.9v.9h-.9zM252.6 174.1h.9v.9h-.9zM243.4 173.7h.9v.9h-.9zM248.8 177.8h.9v.9h-.9zM245.6 170.6h.9v.9h-.9zM247.2 171.1h.9v.9h-.9zM250.7 176.8h.9v.9h-.9zM244 168.4h.9v.9h-.9z"/>
<ellipse cx="232" cy="162" rx="10" ry="15" fill="#b8cce4" fill-opacity=".1" filter="url(#fb)"/>
<path fill="#b8cce4" fill-opacity=".1" d="M243.4 144.7h.9v.9h-.9zM241.5 175.3h.9v.9h-.9zM234.3 171.3h.9v.9h-.9zM235.4 156.5h.9v.9h-.9zM248 163.1h.9v.9h-.9zM223.9 157.5h.9v.9h-.9zM220.4 163.3h.9v.9h-.9zM241.5 147.9h.9v.9h-.9zM235.8 149.2h.9v.9h-.9zM225.9 159.1h.9v.9h-.9zM222.5 148.1h.9v.9h-.9zM230.7 161h.9v.9h-.9zM237.6 148.7h.9v.9h-.9zM247.7 175.9h.9v.9h-.9zM239.9 155.3h.9v.9h-.9zM246.7 159h.9v.9h-.9zM247.3 176h.9v.9h-.9zM225.6 157.7h.9v.9h-.9zM247.7 175.2h.9v.9h-.9zM231.5 165.6h.9v.9h-.9zM234.4 153.9h.9v.9h-.9zM231.2 155.2h.9v.9h-.9z"/>
</g>
<line x1="240.1" y1="139.8" x2="240.1" y2="180.4" stroke="#8f8f8f" stroke-width=".5"/>
<line x1="219.5" y1="164.7" x2="259.4" y2="164.7" stroke="#8f8f8f" stroke-width=".5"/>
<rect x="240.1" y="139.8" width="19.3" height="24.2" fill="none" stroke="#a3353f" stroke-width="0.9"/>
<text x="209.1" y="142.6" font-size="6.2" textLength="6.1" lengthAdjust="spacingAndGlyphs" transform="rotate(.05 209.1 142.6)" stroke="#231f20" stroke-width="0.12">10</text>
<text x="215.6" y="139.6" font-size="4" stroke="#231f20" stroke-width=".06" textLength="1.8" lengthAdjust="spacingAndGlyphs" transform="rotate(.05 215.6 139.6)">3</text>
<text x="209.1" y="152.4" font-size="6.2" textLength="6.1" lengthAdjust="spacingAndGlyphs" transform="rotate(.05 209.1 152.4)" stroke="#231f20" stroke-width="0.12">10</text>
<text x="215.6" y="149.4" font-size="4" stroke="#231f20" stroke-width=".06" textLength="1.8" lengthAdjust="spacingAndGlyphs" transform="rotate(.05 215.6 149.4)">2</text>
<text x="209.1" y="162.4" font-size="6.2" textLength="6.1" lengthAdjust="spacingAndGlyphs" transform="rotate(.05 209.1 162.4)" stroke="#231f20" stroke-width="0.12">10</text>
<text x="215.6" y="159.4" font-size="4" stroke="#231f20" stroke-width=".06" textLength="1.8" lengthAdjust="spacingAndGlyphs" transform="rotate(.05 215.6 159.4)">1</text>
<text x="209.1" y="172.2" font-size="6.2" textLength="6.1" lengthAdjust="spacingAndGlyphs" transform="rotate(.05 209.1 172.2)" stroke="#231f20" stroke-width="0.12">10</text>
<text x="215.6" y="169.2" font-size="4" stroke="#231f20" stroke-width=".06" textLength="1.8" lengthAdjust="spacingAndGlyphs" transform="rotate(.05 215.6 169.2)">0</text>
<text x="226.2" y="189.3" font-size="5.9" textLength="6" lengthAdjust="spacingAndGlyphs" transform="rotate(.05 226.2 189.3)" stroke="#231f20" stroke-width="0.12">10</text>
<text x="232.3" y="186.4" font-size="3.8" stroke="#231f20" stroke-width=".06" textLength="1.8" lengthAdjust="spacingAndGlyphs" transform="rotate(.05 232.3 186.4)">0</text>
<text x="235.95" y="189.3" font-size="5.9" textLength="6" lengthAdjust="spacingAndGlyphs" transform="rotate(.05 235.95 189.3)" stroke="#231f20" stroke-width="0.12">10</text>
<text x="242.05" y="186.4" font-size="3.8" stroke="#231f20" stroke-width=".06" textLength="1.8" lengthAdjust="spacingAndGlyphs" transform="rotate(.05 242.05 186.4)">1</text>
<text x="245.7" y="189.3" font-size="5.9" textLength="6" lengthAdjust="spacingAndGlyphs" transform="rotate(.05 245.7 189.3)" stroke="#231f20" stroke-width="0.12">10</text>
<text x="251.8" y="186.4" font-size="3.8" stroke="#231f20" stroke-width=".06" textLength="1.8" lengthAdjust="spacingAndGlyphs" transform="rotate(.05 251.8 186.4)">2</text>
<text x="255.45" y="189.3" font-size="5.9" textLength="6" lengthAdjust="spacingAndGlyphs" transform="rotate(.05 255.45 189.3)" stroke="#231f20" stroke-width="0.12">10</text>
<text x="261.55" y="186.4" font-size="3.8" stroke="#231f20" stroke-width=".06" textLength="1.8" lengthAdjust="spacingAndGlyphs" transform="rotate(.05 261.55 186.4)">3</text>
<text x="231" y="199.2" font-size="8.2" stroke="#231f20" stroke-width=".06" textLength="16.8" lengthAdjust="spacingAndGlyphs" transform="rotate(.05 231 199.2)">CD38</text>
<text x="206" y="170" font-size="8.8" stroke="#231f20" stroke-width=".06" textLength="20.6" lengthAdjust="spacingAndGlyphs" transform="rotate(-89.95 206 170)">CD138</text>
<text x="245.9" y="138" font-size="6.6" stroke="#231f20" stroke-width=".06" textLength="7.7" lengthAdjust="spacingAndGlyphs" transform="rotate(.05 245.9 138)">PC</text>
<text x="254.3" y="178.8" font-size="5" fill="#111" stroke="#111" stroke-width=".06" font-weight="bold" textLength="5.2" lengthAdjust="spacingAndGlyphs" transform="rotate(.05 254.3 178.8)">PB</text>
<text x="6.8" y="209" font-size="6.6" fill="#a7a9ac" stroke="#a7a9ac" stroke-width=".06" font-style="italic" textLength="33.2" lengthAdjust="spacingAndGlyphs" transform="rotate(.05 6.8 209)">Cell sorting</text>
<text x="47.6" y="226.3" font-size="3.6" fill="#7fb7c9" stroke="#7fb7c9" stroke-width=".06" textLength="44" lengthAdjust="spacingAndGlyphs" transform="rotate(.05 47.6 226.3)">ATTCAAGGGCAGCCG</text>
<text x="81.4" y="218.2" font-size="3.6" fill="#6aa8cf" stroke="#6aa8cf" stroke-width=".06" textLength="40.6" lengthAdjust="spacingAndGlyphs" transform="rotate(.05 81.4 218.2)">TGGATCCGATAAGT</text>
<text x="173.4" y="217.4" font-size="3.6" fill="#4d4d4f" stroke="#4d4d4f" stroke-width=".06" textLength="42.6" lengthAdjust="spacingAndGlyphs" transform="rotate(.05 173.4 217.4)">CGGCTCGTGCTGCG</text>
<text x="199" y="226.6" font-size="3.6" fill="#efb5bf" stroke="#efb5bf" stroke-width=".06" textLength="31" lengthAdjust="spacingAndGlyphs" transform="rotate(.05 199 226.6)">ATTGGGAGACTTTC</text>
<path d="M94.3 225.3 L100.2 232.3" fill="none" stroke="#3179b8" stroke-width="2" stroke-linecap="round"/>
<path d="M96.8 224.2 L101.2 230.3" fill="none" stroke="#3179b8" stroke-width="1.6" stroke-linecap="round"/>
<path d="M109.3 225.3 L103.4 232.3" fill="none" stroke="#3179b8" stroke-width="2" stroke-linecap="round"/>
<path d="M106.8 224.2 L102.4 230.3" fill="none" stroke="#3179b8" stroke-width="1.6" stroke-linecap="round"/>
<line x1="100.9" y1="232" x2="100.9" y2="240.4" stroke="#3179b8" stroke-width="1.3"/>
<line x1="102.7" y1="232" x2="102.7" y2="240.4" stroke="#3179b8" stroke-width="1.3"/>
<path d="M123.5 216.7 L129.4 223.7" fill="none" stroke="#3179b8" stroke-width="2" stroke-linecap="round"/>
<path d="M126 215.6 L130.4 221.7" fill="none" stroke="#3179b8" stroke-width="1.6" stroke-linecap="round"/>
<path d="M138.5 216.7 L132.6 223.7" fill="none" stroke="#3179b8" stroke-width="2" stroke-linecap="round"/>
<path d="M136 215.6 L131.6 221.7" fill="none" stroke="#3179b8" stroke-width="1.6" stroke-linecap="round"/>
<line x1="130.1" y1="223.4" x2="130.1" y2="231.8" stroke="#3179b8" stroke-width="1.3"/>
<line x1="131.9" y1="223.4" x2="131.9" y2="231.8" stroke="#3179b8" stroke-width="1.3"/>
<path d="M159.1 216.7 L165 223.7" fill="none" stroke="#3179b8" stroke-width="2" stroke-linecap="round"/>
<path d="M161.6 215.6 L166 221.7" fill="none" stroke="#3179b8" stroke-width="1.6" stroke-linecap="round"/>
<path d="M174.1 216.7 L168.2 223.7" fill="none" stroke="#3179b8" stroke-width="2" stroke-linecap="round"/>
<path d="M171.6 215.6 L167.2 221.7" fill="none" stroke="#3179b8" stroke-width="1.6" stroke-linecap="round"/>
<line x1="165.7" y1="223.4" x2="165.7" y2="231.8" stroke="#3179b8" stroke-width="1.3"/>
<line x1="167.5" y1="223.4" x2="167.5" y2="231.8" stroke="#3179b8" stroke-width="1.3"/>
<path d="M183.3 226.5 L189.2 233.5" fill="none" stroke="#3179b8" stroke-width="2" stroke-linecap="round"/>
<path d="M185.8 225.4 L190.2 231.5" fill="none" stroke="#3179b8" stroke-width="1.6" stroke-linecap="round"/>
<path d="M198.3 226.5 L192.4 233.5" fill="none" stroke="#3179b8" stroke-width="2" stroke-linecap="round"/>
<path d="M195.8 225.4 L191.4 231.5" fill="none" stroke="#3179b8" stroke-width="1.6" stroke-linecap="round"/>
<line x1="189.9" y1="233.2" x2="189.9" y2="241.6" stroke="#3179b8" stroke-width="1.3"/>
<line x1="191.7" y1="233.2" x2="191.7" y2="241.6" stroke="#3179b8" stroke-width="1.3"/>
<path d="M108 234.5 Q122.3 233.5 121.3 252" fill="none" stroke="#6d6e71" stroke-width=".55"/>
<path d="M121.3 255 L120.1 252.2 L122.5 252.2 Z" fill="#6d6e71"/>
<path d="M137.5 229 Q142.4 228 141.4 252" fill="none" stroke="#6d6e71" stroke-width=".55"/>
<path d="M141.4 255 L140.2 252.2 L142.6 252.2 Z" fill="#6d6e71"/>
<path d="M162.5 232.5 Q162.5 231.5 161.5 252" fill="none" stroke="#6d6e71" stroke-width=".55"/>
<path d="M161.5 255 L160.3 252.2 L162.7 252.2 Z" fill="#6d6e71"/>
<path d="M186.5 241 Q183.2 240 182.2 252" fill="none" stroke="#6d6e71" stroke-width=".55"/>
<path d="M182.2 255 L181 252.2 L183.4 252.2 Z" fill="#6d6e71"/>
<path d="M116.1 256.2 L108.5 251 L109.7 249.2 L117.5 254.4 Z" fill="#eef0f2" stroke="#b5b9bd" stroke-width=".5"/>
<path d="M116.7 256.6 L125.3 256.6 L125.3 268.82 L122.4 281.4 Q121 283.2 119.6 281.4 L116.7 268.82 Z" fill="#eef1f4" stroke="#b3bac2" stroke-width=".5"/>
<g clip-path="url(#tb6)">
<rect x="116.7" y="267" width="8.6" height="26" fill="#b9d3ec"/>
</g>
<rect x="116.2" y="256" width="9.6" height="1.5" fill="#e3e7eb" stroke="#b3bac2" stroke-width="0.4"/>
<path d="M136.2 256.2 L128.6 251 L129.8 249.2 L137.6 254.4 Z" fill="#eef0f2" stroke="#b5b9bd" stroke-width=".5"/>
<path d="M136.8 256.6 L145.4 256.6 L145.4 268.82 L142.5 281.4 Q141.1 283.2 139.7 281.4 L136.8 268.82 Z" fill="#eef1f4" stroke="#b3bac2" stroke-width=".5"/>
<g clip-path="url(#tb7)">
<rect x="136.8" y="267" width="8.6" height="26" fill="#b3cdea"/>
<circle cx="138.9" cy="270.5" r=".8" fill="#4a62b0"/>
<circle cx="142.7" cy="272" r=".8" fill="#4a62b0"/>
<circle cx="140.1" cy="274.5" r=".8" fill="#4a62b0"/>
<circle cx="142.3" cy="276.5" r=".7" fill="#4a62b0"/>
<circle cx="140.8" cy="279" r=".7" fill="#4a62b0"/>
<circle cx="143.5" cy="269.2" r=".7" fill="#4a62b0"/>
</g>
<rect x="136.3" y="256" width="9.6" height="1.5" fill="#e3e7eb" stroke="#b3bac2" stroke-width="0.4"/>
<path d="M156.3 256.2 L148.7 251 L149.9 249.2 L157.7 254.4 Z" fill="#eef0f2" stroke="#b5b9bd" stroke-width=".5"/>
<path d="M156.9 256.6 L165.5 256.6 L165.5 268.82 L162.6 281.4 Q161.2 283.2 159.8 281.4 L156.9 268.82 Z" fill="#eef1f4" stroke="#b3bac2" stroke-width=".5"/>
<g clip-path="url(#tb8)">
<rect x="156.9" y="267" width="8.6" height="26" fill="#b3cdea"/>
<circle cx="158.7" cy="268.5" r="1.1" fill="#27367e"/>
<circle cx="163" cy="269.5" r="1" fill="#27367e"/>
<circle cx="161.2" cy="271.5" r="1.1" fill="#27367e"/>
<circle cx="159.4" cy="273.5" r="1" fill="#27367e"/>
<circle cx="163.2" cy="274" r=".9" fill="#27367e"/>
<circle cx="161.4" cy="276" r="1" fill="#27367e"/>
<circle cx="160.2" cy="278.2" r=".9" fill="#27367e"/>
<circle cx="162.2" cy="279.5" r=".8" fill="#27367e"/>
</g>
<rect x="156.4" y="256" width="9.6" height="1.5" fill="#e3e7eb" stroke="#b3bac2" stroke-width="0.4"/>
<path d="M176.9 256.2 L169.3 251 L170.5 249.2 L178.3 254.4 Z" fill="#eef0f2" stroke="#b5b9bd" stroke-width=".5"/>
<path d="M177.5 256.6 L186.1 256.6 L186.1 268.82 L183.2 281.4 Q181.8 283.2 180.4 281.4 L177.5 268.82 Z" fill="#eef1f4" stroke="#b3bac2" stroke-width=".5"/>
<g clip-path="url(#tb9)">
<rect x="177.5" y="267" width="8.6" height="26" fill="#bcd3ee"/>
<circle cx="179.4" cy="269" r=".9" fill="#27367e"/>
<circle cx="183.4" cy="270" r="1" fill="#27367e"/>
<circle cx="181.4" cy="272.5" r="1" fill="#27367e"/>
<circle cx="183.8" cy="274.5" r=".9" fill="#27367e"/>
<circle cx="180.2" cy="275.5" r=".9" fill="#27367e"/>
<circle cx="182.3" cy="277.5" r=".9" fill="#27367e"/>
<circle cx="181.3" cy="279.5" r=".7" fill="#27367e"/>
</g>
<rect x="177" y="256" width="9.6" height="1.5" fill="#e3e7eb" stroke="#b3bac2" stroke-width="0.4"/>
<text x="114.8" y="290.2" font-size="6.3" stroke="#231f20" stroke-width=".06" textLength="13.4" lengthAdjust="spacingAndGlyphs" transform="rotate(.05 114.8 290.2)">MBC</text>
<text x="133.2" y="290.2" font-size="6.3" stroke="#231f20" stroke-width=".06" textLength="17" lengthAdjust="spacingAndGlyphs" transform="rotate(.05 133.2 290.2)">PrePB</text>
<text x="158.6" y="290.2" font-size="6.3" stroke="#231f20" stroke-width=".06" textLength="7.2" lengthAdjust="spacingAndGlyphs" transform="rotate(.05 158.6 290.2)">PB</text>
<text x="178.2" y="290.2" font-size="6.3" stroke="#231f20" stroke-width=".06" textLength="8" lengthAdjust="spacingAndGlyphs" transform="rotate(.05 178.2 290.2)">PC</text>
<text x="11.2" y="279.5" font-size="6.6" stroke="#231f20" stroke-width=".06" textLength="90.2" lengthAdjust="spacingAndGlyphs" transform="rotate(.05 11.2 279.5)">Cells loaded onto the cartridge</text>
<text x="54" y="284.6" font-size="5" stroke="#231f20" stroke-width=".06" textLength="3" lengthAdjust="spacingAndGlyphs" transform="rotate(.05 54 284.6)">+</text>
<text x="15" y="292" font-size="6.6" stroke="#231f20" stroke-width=".06" textLength="82.6" lengthAdjust="spacingAndGlyphs" transform="rotate(.05 15 292)">Cell capture barcoded beads</text>
<rect x="36.9" y="297" width="16.6" height="25" rx="2" fill="#d8d9db"/>
<rect x="39" y="299.4" width="11.8" height="20.9" rx="1.5" fill="#3b3c3f"/>
<path d="M42 303.5 L42 313.5 Q42 317 44.9 317 Q47.8 317 47.8 313.5 L47.8 303.5" fill="none" stroke="#fff" stroke-width="1.3"/>
<path d="M45.9 300.8 L47.3 302.6" fill="none" stroke="#fff" stroke-width=".6"/>
<rect x="53.5" y="297" width="23.3" height="25" fill="url(#hx)"/>
<circle cx="56.9" cy="303.8" r="1.4" fill="#2c6fb2"/>
<circle cx="73.3" cy="306.4" r="1.5" fill="#2c6fb2"/>
<circle cx="62" cy="318.5" r="1.3" fill="#2c6fb2"/>
<circle cx="74" cy="318.5" r="1.3" fill="#2c6fb2"/>
<line x1="73.8" y1="305.8" x2="86.5" y2="304.2" stroke="#231f20" stroke-width=".5"/>
<line x1="73.8" y1="306.9" x2="84.5" y2="312.8" stroke="#231f20" stroke-width=".5"/>
<path d="M87.1 299.5 L87.1 314.6 L104.4 314.6 L104.4 299.5" fill="none" stroke="#c5c7ca" stroke-width=".5"/>
<circle cx="92.4" cy="309" r="4.1" fill="#2a7bc4"/>
<circle cx="92" cy="308.5" r="3" fill="#3a8fd6"/>
<path d="M96.5 312.6 Q97.5 304.5 99.3 303.8 Q101 304.5 102.2 312.6 Z" fill="#9c8fd0"/>
<ellipse cx="99.3" cy="311" rx="2.6" ry="1.8" fill="#b6aade"/>
<line x1="106.8" y1="306.8" x2="115.7" y2="306.8" stroke="#414042" stroke-width="1.2"/>
<path d="M118.8 306.8 L115.2 305 L115.2 308.6 Z" fill="#414042"/>
<path d="M123 297.3 L123 316.3 L140.3 316.3 L140.3 297.3" fill="none" stroke="#c5c7ca" stroke-width=".5"/>
<ellipse cx="134" cy="311.5" rx="4.6" ry="3" fill="#d4cbed"/>
<circle cx="128.2" cy="309.4" r="5" fill="#2a7bc4"/>
<circle cx="127.8" cy="308.9" r="3.7" fill="#3a8fd6"/>
<path d="M132.6 305.6 L133.6 302.0 L134.6 305.6" fill="none" stroke="#5a6fb0" stroke-width=".5"/>
<line x1="145.5" y1="307.3" x2="153.1" y2="307.3" stroke="#414042" stroke-width="1.2"/>
<path d="M156.2 307.3 L152.6 305.5 L152.6 309.1 Z" fill="#414042"/>
<path d="M161.9 299 L161.9 315.5 L179.2 315.5 L179.2 299" fill="none" stroke="#c5c7ca" stroke-width=".5"/>
<ellipse cx="170.2" cy="312.2" rx="3.6" ry="2.2" fill="#c9c1e8"/>
<circle cx="166.2" cy="301.8" r="4.6" fill="#2a7bc4"/>
<circle cx="165.8" cy="301.3" r="3.4" fill="#3a8fd6"/>
<path d="M171.8 301.5 L171.8 296.5 Q171.8 291.8 175.2 291.8 Q178.6 291.8 178.6 296.5 L178.6 300" fill="none" stroke="#c8323c" stroke-width="2.1"/>
<path d="M171.8 299.8 L171.8 301.8 M178.6 298.6 L178.6 300.6" fill="none" stroke="#5b6fb0" stroke-width="2.1"/>
<line x1="186.3" y1="307.8" x2="193.7" y2="307.8" stroke="#414042" stroke-width="1.2"/>
<path d="M196.8 307.8 L193.2 306 L193.2 309.6 Z" fill="#414042"/>
<path d="M199.9 292.6 L192.3 287.4 L193.5 285.6 L201.3 290.8 Z" fill="#eef0f2" stroke="#b5b9bd" stroke-width=".5"/>
<path d="M200.5 293 L209.3 293 L209.3 303.81 L206.3 314.8 Q204.9 316.6 203.5 314.8 L200.5 303.81 Z" fill="#eef1f4" stroke="#b3bac2" stroke-width=".5"/>
<g clip-path="url(#tb11)">
<rect x="200.5" y="302.2" width="8.8" height="23" fill="#bcdcef"/>
</g>
<rect x="200" y="292.4" width="9.8" height="1.5" fill="#e3e7eb" stroke="#b3bac2" stroke-width="0.4"/>
<line x1="214.7" y1="307.9" x2="221.3" y2="307.9" stroke="#414042" stroke-width="1.2"/>
<path d="M224.4 307.9 L220.8 306.1 L220.8 309.7 Z" fill="#414042"/>
<text x="78.9" y="323.8" font-size="6.5" stroke="#231f20" stroke-width=".06" textLength="35" lengthAdjust="spacingAndGlyphs" transform="rotate(.05 78.9 323.8)">1 cell bound</text>
<text x="82.6" y="329.9" font-size="6.5" stroke="#231f20" stroke-width=".06" textLength="27.2" lengthAdjust="spacingAndGlyphs" transform="rotate(.05 82.6 329.9)">to 1 bead</text>
<text x="85.3" y="336" font-size="6.5" stroke="#231f20" stroke-width=".06" textLength="21.8" lengthAdjust="spacingAndGlyphs" transform="rotate(.05 85.3 336)">per cell</text>
<text x="120.2" y="323.4" font-size="6.5" stroke="#231f20" stroke-width=".06" textLength="36.6" lengthAdjust="spacingAndGlyphs" transform="rotate(.05 120.2 323.4)">Cell lysis and</text>
<text x="120" y="329.6" font-size="6.5" stroke="#231f20" stroke-width=".06" textLength="36.8" lengthAdjust="spacingAndGlyphs" transform="rotate(.05 120 329.6)">hybridization</text>
<text x="125.5" y="335.8" font-size="6.5" stroke="#231f20" stroke-width=".06" textLength="26" lengthAdjust="spacingAndGlyphs" transform="rotate(.05 125.5 335.8)">of mRNA</text>
<text x="165" y="323.4" font-size="6.5" stroke="#231f20" stroke-width=".06" textLength="13.4" lengthAdjust="spacingAndGlyphs" transform="rotate(.05 165 323.4)">Bead</text>
<text x="161" y="329.6" font-size="6.5" stroke="#231f20" stroke-width=".06" textLength="21.8" lengthAdjust="spacingAndGlyphs" transform="rotate(.05 161 329.6)">retrieval</text>
<text x="188.5" y="323.7" font-size="6.5" stroke="#231f20" stroke-width=".06" textLength="43.6" lengthAdjust="spacingAndGlyphs" transform="rotate(.05 188.5 323.7)">cDNA synthesis</text>
<text x="194.9" y="329.9" font-size="6.5" stroke="#231f20" stroke-width=".06" textLength="29.4" lengthAdjust="spacingAndGlyphs" transform="rotate(.05 194.9 329.9)">and library</text>
<text x="195.7" y="336.1" font-size="6.5" stroke="#231f20" stroke-width=".06" textLength="31.6" lengthAdjust="spacingAndGlyphs" transform="rotate(.05 195.7 336.1)">amplification</text>
<text x="229.8" y="302.4" font-size="6.5" stroke="#231f20" stroke-width=".06" textLength="34.4" lengthAdjust="spacingAndGlyphs" transform="rotate(.05 229.8 302.4)">Sequencing</text>
<text x="232" y="308.5" font-size="6.5" stroke="#231f20" stroke-width=".06" textLength="27.6" lengthAdjust="spacingAndGlyphs" transform="rotate(.05 232 308.5)">and single</text>
<text x="230" y="314.7" font-size="6.5" stroke="#231f20" stroke-width=".06" textLength="32" lengthAdjust="spacingAndGlyphs" transform="rotate(.05 230 314.7)">cell analysis</text>
<text x="6.8" y="342.9" font-size="6.4" fill="#a7a9ac" stroke="#a7a9ac" stroke-width=".06" font-style="italic" textLength="88.6" lengthAdjust="spacingAndGlyphs" transform="rotate(.05 6.8 342.9)">Single-cell RNAseq experiment</text>
<text x="7.3" y="359.6" font-size="10.4" fill="#000" stroke="#000" stroke-width=".06" font-weight="bold" textLength="7.4" lengthAdjust="spacingAndGlyphs" transform="rotate(.05 7.3 359.6)">B</text>
<text x="34.4" y="360.2" font-size="6.2" stroke="#231f20" stroke-width=".06" textLength="19.4" lengthAdjust="spacingAndGlyphs" transform="rotate(.05 34.4 360.2)">Stages</text>
<line x1="28.1" y1="446.2" x2="28.1" y2="365.5" stroke="#231f20" stroke-width="1.1"/>
<path d="M28.1 361 L25.7 366 L30.5 366 Z" fill="#231f20"/>
<line x1="27.6" y1="445.7" x2="107.7" y2="445.7" stroke="#231f20" stroke-width="1.1"/>
<path d="M112.2 445.7 L107.2 443.3 L107.2 448.1 Z" fill="#231f20"/>
<text x="34.4" y="456.1" font-size="8" stroke="#231f20" stroke-width=".06" textLength="23.7" lengthAdjust="spacingAndGlyphs" transform="rotate(.05 34.4 456.1)">UMAP 1</text>
<text x="22.6" y="438.8" font-size="8.2" stroke="#231f20" stroke-width=".06" textLength="23.1" lengthAdjust="spacingAndGlyphs" transform="rotate(-89.95 22.6 438.8)">UMAP 2</text>
<path d="M44.15 370.5Q45 368 47.75 368.65Q50.5 369.3 53.35 370.3Q56.2 371.3 55.85 372.9Q55.5 374.5 54.25 376.5Q53 378.5 52.25 380.75Q51.5 383 50.75 385.25Q50 387.5 48.9 389.5Q47.8 391.5 47.3 393.75Q46.8 396 47 398.5Q47.2 401 48 403Q48.8 405 47.65 407.5Q46.5 410 44 410Q41.5 410 39 408.75Q36.5 407.5 35 405.5Q33.5 403.5 33.35 400.75Q33.2 398 34.35 395.25Q35.5 392.5 37.5 389.5Q39.5 386.5 40.75 383.25Q42 380 42.65 376.5Q43.3 373 44.15 370.5Z" fill="#4a8ea7"/>
<path fill="#a5d0de" fill-opacity=".8" d="M47.6 377.7h.8v.8h-.8zM38.4 398.6h.8v.8h-.8zM40.1 391.7h.8v.8h-.8zM51.5 382.1h.8v.8h-.8zM44 371.9h.8v.8h-.8zM39.6 400.9h.8v.8h-.8zM39.1 394.6h.8v.8h-.8zM43.4 401.5h.8v.8h-.8zM44.8 369.9h.8v.8h-.8zM45.9 405.8h.8v.8h-.8zM38.2 402.4h.8v.8h-.8zM36.9 394.3h.8v.8h-.8zM45 383h.8v.8h-.8zM43.9 371.2h.8v.8h-.8zM54.3 373.6h.8v.8h-.8zM47.7 388.2h.8v.8h-.8zM45 379h.8v.8h-.8zM44.6 400.1h.8v.8h-.8zM49.1 381.1h.8v.8h-.8zM37.8 389.4h.8v.8h-.8zM36.8 401.2h.8v.8h-.8zM44.9 409.6h.8v.8h-.8zM47.9 383.1h.8v.8h-.8zM50.3 377.8h.8v.8h-.8zM45.6 381.6h.8v.8h-.8zM44.9 403.8h.8v.8h-.8zM41.5 401h.8v.8h-.8zM40.6 398.9h.8v.8h-.8zM36.7 396.3h.8v.8h-.8zM52 381.2h.8v.8h-.8zM41.9 404.2h.8v.8h-.8zM46.8 385.9h.8v.8h-.8zM47.1 372.8h.8v.8h-.8zM48.8 371.7h.8v.8h-.8zM43.3 400.2h.8v.8h-.8zM38.7 389h.8v.8h-.8zM42.5 395.8h.8v.8h-.8zM35.4 398.8h.8v.8h-.8zM48.4 386.8h.8v.8h-.8zM52.6 372.5h.8v.8h-.8zM46.3 383.6h.8v.8h-.8zM45.9 392.4h.8v.8h-.8zM37.4 407.2h.8v.8h-.8zM48 406.2h.8v.8h-.8zM46.3 409.6h.8v.8h-.8zM41.9 382.5h.8v.8h-.8zM42.7 398.5h.8v.8h-.8zM38.7 402.6h.8v.8h-.8zM44 394.2h.8v.8h-.8zM45.8 404.8h.8v.8h-.8zM41.8 403.5h.8v.8h-.8zM33.9 400.7h.8v.8h-.8zM45.2 390.1h.8v.8h-.8zM46.8 389.2h.8v.8h-.8zM41.4 394.7h.8v.8h-.8zM45.1 389.1h.8v.8h-.8zM50.8 370.8h.8v.8h-.8zM54.1 373.1h.8v.8h-.8zM36.7 403.7h.8v.8h-.8zM42.8 398.9h.8v.8h-.8zM47.7 387.7h.8v.8h-.8zM45 377.1h.8v.8h-.8zM41.6 404h.8v.8h-.8zM37.3 398.1h.8v.8h-.8zM41.2 399.5h.8v.8h-.8zM46.4 372.3h.8v.8h-.8zM41 387.5h.8v.8h-.8zM39.4 404.2h.8v.8h-.8zM43.4 394.5h.8v.8h-.8zM45.1 374.3h.8v.8h-.8zM45.2 394.3h.8v.8h-.8zM50.3 382.5h.8v.8h-.8zM46.6 378.9h.8v.8h-.8zM43 397.2h.8v.8h-.8zM42.7 392.2h.8v.8h-.8zM34.8 399.6h.8v.8h-.8zM43.1 383.7h.8v.8h-.8zM45.1 388.1h.8v.8h-.8zM39 398.2h.8v.8h-.8zM48.8 382.3h.8v.8h-.8zM47.7 384.2h.8v.8h-.8zM40.9 405.6h.8v.8h-.8zM42.4 395.7h.8v.8h-.8zM37.9 402.9h.8v.8h-.8zM38.1 398.8h.8v.8h-.8zM54.3 373.2h.8v.8h-.8zM35.8 401.6h.8v.8h-.8zM47.1 374h.8v.8h-.8zM44.2 378.2h.8v.8h-.8zM46.9 392.1h.8v.8h-.8zM43.9 382.5h.8v.8h-.8zM50.8 371.7h.8v.8h-.8zM35.8 406.1h.8v.8h-.8zM45.2 407.5h.8v.8h-.8zM33.7 397.6h.8v.8h-.8zM39 397.5h.8v.8h-.8zM38.9 403.3h.8v.8h-.8zM37.5 390.5h.8v.8h-.8zM46.2 389.3h.8v.8h-.8zM46.8 404.3h.8v.8h-.8zM37 405.8h.8v.8h-.8zM48.8 374.7h.8v.8h-.8zM33.7 400.4h.8v.8h-.8zM45.6 376.3h.8v.8h-.8zM48.3 379.8h.8v.8h-.8zM47.2 378.2h.8v.8h-.8zM46.4 381.6h.8v.8h-.8zM34.1 400.5h.8v.8h-.8zM40.5 406.1h.8v.8h-.8zM47.6 403.7h.8v.8h-.8zM51.5 375.1h.8v.8h-.8zM40.4 400.1h.8v.8h-.8zM51.5 375.2h.8v.8h-.8zM46.4 370.7h.8v.8h-.8zM47.9 405.8h.8v.8h-.8zM48.4 377.5h.8v.8h-.8zM47.7 390.8h.8v.8h-.8zM49.8 378.4h.8v.8h-.8zM38.1 398.6h.8v.8h-.8zM46.2 401.1h.8v.8h-.8zM41.9 393h.8v.8h-.8zM43.7 396.1h.8v.8h-.8zM35.5 398.9h.8v.8h-.8zM42 388.7h.8v.8h-.8zM48.4 404.4h.8v.8h-.8zM41.9 396.7h.8v.8h-.8zM45.6 407.6h.8v.8h-.8zM38.1 395.1h.8v.8h-.8zM38.9 405.6h.8v.8h-.8zM43.7 409.3h.8v.8h-.8zM46.5 372.6h.8v.8h-.8zM35 400.1h.8v.8h-.8zM50.8 370.8h.8v.8h-.8zM36.2 403.7h.8v.8h-.8zM39.4 404h.8v.8h-.8zM40.2 396.9h.8v.8h-.8zM43.2 395.9h.8v.8h-.8zM41.8 399.4h.8v.8h-.8zM49.9 371.5h.8v.8h-.8zM48.7 379h.8v.8h-.8zM45.1 371.8h.8v.8h-.8zM39.3 401.9h.8v.8h-.8zM45.5 372h.8v.8h-.8zM53.8 372.2h.8v.8h-.8zM36.1 400.8h.8v.8h-.8zM37.4 391.5h.8v.8h-.8zM51.6 377.9h.8v.8h-.8zM42.3 380.5h.8v.8h-.8zM50.6 380.2h.8v.8h-.8zM49.8 385.8h.8v.8h-.8zM43.4 394.7h.8v.8h-.8zM42.9 377.4h.8v.8h-.8zM45.7 377.3h.8v.8h-.8zM42.1 388.9h.8v.8h-.8zM45.8 381.8h.8v.8h-.8zM49.8 377.9h.8v.8h-.8zM42 407.3h.8v.8h-.8zM42.1 397.6h.8v.8h-.8zM36.4 402.5h.8v.8h-.8zM50.7 379.1h.8v.8h-.8zM56 371.3h.8v.8h-.8zM49.6 375.1h.8v.8h-.8zM36 394.3h.8v.8h-.8zM35.9 400h.8v.8h-.8zM37.3 390.4h.8v.8h-.8zM46.4 375.3h.8v.8h-.8zM43.5 409.3h.8v.8h-.8zM37.6 406.9h.8v.8h-.8zM38.2 390.3h.8v.8h-.8zM50.9 380.6h.8v.8h-.8zM34.8 395.4h.8v.8h-.8zM44.1 374.4h.8v.8h-.8zM43.7 382.4h.8v.8h-.8zM34.5 397.3h.8v.8h-.8zM38.9 403.6h.8v.8h-.8zM42.3 395.7h.8v.8h-.8zM38.4 406.9h.8v.8h-.8zM36.1 405.7h.8v.8h-.8zM44.8 379.2h.8v.8h-.8zM53 375.4h.8v.8h-.8zM44.3 404.7h.8v.8h-.8zM48.6 375.6h.8v.8h-.8zM39.3 399.9h.8v.8h-.8zM45.3 377.4h.8v.8h-.8zM45.1 408.6h.8v.8h-.8zM45.5 386.8h.8v.8h-.8zM51.4 379.3h.8v.8h-.8zM37.3 401.2h.8v.8h-.8zM35.8 397.7h.8v.8h-.8zM55.5 373.5h.8v.8h-.8zM44.8 380.4h.8v.8h-.8zM44.6 404.1h.8v.8h-.8zM34.1 396.7h.8v.8h-.8zM40.5 399.4h.8v.8h-.8zM47 376.2h.8v.8h-.8zM38.6 405.8h.8v.8h-.8zM43.9 409.4h.8v.8h-.8zM49.5 380.4h.8v.8h-.8zM48.9 384.4h.8v.8h-.8zM40.1 387.4h.8v.8h-.8zM37 400.2h.8v.8h-.8zM46.9 403.3h.8v.8h-.8zM36.8 393h.8v.8h-.8zM45 407.3h.8v.8h-.8zM46.4 393h.8v.8h-.8zM39.7 404.5h.8v.8h-.8zM49.4 385.2h.8v.8h-.8zM48 379h.8v.8h-.8zM43.2 401.1h.8v.8h-.8zM42.7 403.8h.8v.8h-.8zM49.1 384.4h.8v.8h-.8zM52.4 380h.8v.8h-.8zM48.6 404.6h.8v.8h-.8zM38 406.6h.8v.8h-.8zM45.9 383.4h.8v.8h-.8zM49.9 386.8h.8v.8h-.8zM44 379.2h.8v.8h-.8zM42.6 379.2h.8v.8h-.8zM49.8 378.9h.8v.8h-.8zM45.2 389.7h.8v.8h-.8zM50 372.2h.8v.8h-.8zM35.1 400.8h.8v.8h-.8zM46.1 375.3h.8v.8h-.8zM46 386.6h.8v.8h-.8zM43.6 385.2h.8v.8h-.8zM47.7 391.7h.8v.8h-.8zM45.9 391.1h.8v.8h-.8zM46.8 401h.8v.8h-.8zM37.7 403h.8v.8h-.8zM37.8 396.5h.8v.8h-.8zM43.6 374.7h.8v.8h-.8zM45.9 401.5h.8v.8h-.8zM43.9 377.1h.8v.8h-.8zM47.5 403h.8v.8h-.8zM48 403.8h.8v.8h-.8zM42.5 385h.8v.8h-.8zM46 406.6h.8v.8h-.8zM42.3 405h.8v.8h-.8zM41.9 384h.8v.8h-.8zM43.9 390.2h.8v.8h-.8zM50.6 375.3h.8v.8h-.8zM44.8 399.9h.8v.8h-.8zM41 405.4h.8v.8h-.8zM52.2 374.8h.8v.8h-.8zM42 399.3h.8v.8h-.8zM43.5 406.5h.8v.8h-.8zM49.6 388.1h.8v.8h-.8zM46.5 382.2h.8v.8h-.8zM46 389.6h.8v.8h-.8zM48.5 376.2h.8v.8h-.8z"/>
<path fill="#2e6a80" fill-opacity=".7" d="M46.6 384.7h.8v.8h-.8zM42.9 401.9h.8v.8h-.8zM37.4 396h.8v.8h-.8zM39.9 398.3h.8v.8h-.8zM41.3 407.3h.8v.8h-.8zM43.5 395h.8v.8h-.8zM41.7 406.7h.8v.8h-.8zM46.6 397.7h.8v.8h-.8zM41.9 382.9h.8v.8h-.8zM39.3 388.6h.8v.8h-.8zM53.5 377.3h.8v.8h-.8zM44.6 386h.8v.8h-.8zM49 389.3h.8v.8h-.8zM44.6 394.6h.8v.8h-.8zM37.8 402.1h.8v.8h-.8zM42.9 393.8h.8v.8h-.8zM44.1 378.8h.8v.8h-.8zM50.9 383.8h.8v.8h-.8zM43.7 403.5h.8v.8h-.8zM41.8 407.7h.8v.8h-.8zM45.8 375.6h.8v.8h-.8zM40.5 408.4h.8v.8h-.8zM34.5 402.3h.8v.8h-.8zM43.4 378.2h.8v.8h-.8zM39.1 401.8h.8v.8h-.8zM44.2 385.8h.8v.8h-.8zM45.3 409.6h.8v.8h-.8zM37.9 399.8h.8v.8h-.8zM40.2 397.9h.8v.8h-.8zM39.1 407.6h.8v.8h-.8zM34.8 394.4h.8v.8h-.8zM42.9 406.3h.8v.8h-.8zM51 370.5h.8v.8h-.8zM37.7 404.8h.8v.8h-.8zM36.3 394.4h.8v.8h-.8zM40.6 386h.8v.8h-.8zM44.4 378.2h.8v.8h-.8zM47.5 390.7h.8v.8h-.8zM50.9 378.9h.8v.8h-.8zM39.1 403h.8v.8h-.8zM43.3 376.9h.8v.8h-.8zM44.5 371.1h.8v.8h-.8zM43.4 389.8h.8v.8h-.8zM36.3 404.8h.8v.8h-.8zM36.4 403.9h.8v.8h-.8zM39.7 405.1h.8v.8h-.8zM44.1 394.1h.8v.8h-.8zM43.7 402.3h.8v.8h-.8zM51.4 377.2h.8v.8h-.8zM37.4 404.1h.8v.8h-.8zM42.5 394.5h.8v.8h-.8zM42.8 381.2h.8v.8h-.8zM52 375.4h.8v.8h-.8zM36.9 404h.8v.8h-.8zM48.5 375.5h.8v.8h-.8zM47 393.6h.8v.8h-.8zM51 380.1h.8v.8h-.8zM38.1 389.5h.8v.8h-.8zM40.4 402h.8v.8h-.8zM47.3 391.2h.8v.8h-.8zM48.8 388.7h.8v.8h-.8zM46.3 372.5h.8v.8h-.8zM40.9 383.9h.8v.8h-.8zM45 385.8h.8v.8h-.8zM49.9 376.1h.8v.8h-.8zM49.2 371.9h.8v.8h-.8zM50.6 381.6h.8v.8h-.8zM40.9 387.2h.8v.8h-.8zM36.2 394.3h.8v.8h-.8zM37.4 402h.8v.8h-.8zM40.2 400h.8v.8h-.8zM43.5 408.1h.8v.8h-.8zM54.5 370.8h.8v.8h-.8zM48.9 387.5h.8v.8h-.8zM49 377.2h.8v.8h-.8zM45.1 369.8h.8v.8h-.8zM45.9 393.4h.8v.8h-.8zM39.5 393.8h.8v.8h-.8zM47.2 368.8h.8v.8h-.8zM43.7 381.9h.8v.8h-.8zM39.9 388.7h.8v.8h-.8zM50.6 377.3h.8v.8h-.8zM50.2 377.1h.8v.8h-.8zM41.9 381.5h.8v.8h-.8zM49.9 386.5h.8v.8h-.8zM49.3 386.8h.8v.8h-.8zM42.1 391h.8v.8h-.8zM49.6 379.2h.8v.8h-.8zM39.6 398.8h.8v.8h-.8zM44 388h.8v.8h-.8zM43.5 382h.8v.8h-.8zM40.2 389.7h.8v.8h-.8zM34.7 405h.8v.8h-.8zM43.9 381.2h.8v.8h-.8zM39.5 393.2h.8v.8h-.8zM46.4 374.4h.8v.8h-.8zM44.9 385h.8v.8h-.8zM44.1 387.3h.8v.8h-.8zM51.7 373.7h.8v.8h-.8zM45.2 390.1h.8v.8h-.8zM41.7 392.5h.8v.8h-.8zM39.3 406.2h.8v.8h-.8zM44 392.6h.8v.8h-.8zM43.6 373.2h.8v.8h-.8zM46.3 397.6h.8v.8h-.8zM55.1 371.2h.8v.8h-.8zM46.5 372.7h.8v.8h-.8zM40.6 396.3h.8v.8h-.8zM46.3 397.8h.8v.8h-.8zM46.8 395.8h.8v.8h-.8zM45.9 399.1h.8v.8h-.8zM46.6 376.9h.8v.8h-.8zM44.5 399.1h.8v.8h-.8zM47.4 390.3h.8v.8h-.8zM52 378.9h.8v.8h-.8zM45.7 403h.8v.8h-.8zM42.5 386.7h.8v.8h-.8zM41.8 401.8h.8v.8h-.8zM45.7 395.6h.8v.8h-.8zM49 386.5h.8v.8h-.8zM46.1 404.5h.8v.8h-.8zM35.7 397.1h.8v.8h-.8zM35.5 405.8h.8v.8h-.8zM38.9 391.1h.8v.8h-.8zM37.2 397.8h.8v.8h-.8zM54.1 371.8h.8v.8h-.8zM40.8 393.4h.8v.8h-.8zM44 401.1h.8v.8h-.8zM44.4 387.7h.8v.8h-.8zM45.3 406.3h.8v.8h-.8zM50.3 385.3h.8v.8h-.8zM43.3 403h.8v.8h-.8zM41.3 382.2h.8v.8h-.8zM50.5 377h.8v.8h-.8zM51.8 374.8h.8v.8h-.8zM40.4 402.8h.8v.8h-.8zM53.2 370.3h.8v.8h-.8zM43.7 407.1h.8v.8h-.8zM48.4 371.1h.8v.8h-.8zM44.9 396.6h.8v.8h-.8zM34.4 397h.8v.8h-.8zM36.2 404.3h.8v.8h-.8zM43.9 391.8h.8v.8h-.8zM46.7 376.8h.8v.8h-.8zM39.7 395.5h.8v.8h-.8zM50.6 382h.8v.8h-.8zM39.1 387.5h.8v.8h-.8zM42.5 406.2h.8v.8h-.8zM42.6 403.3h.8v.8h-.8zM40.3 388.6h.8v.8h-.8zM39 388.6h.8v.8h-.8zM36.4 398.5h.8v.8h-.8zM43.3 375.6h.8v.8h-.8zM47.1 381.5h.8v.8h-.8zM44.1 407.4h.8v.8h-.8zM36.2 392.3h.8v.8h-.8zM55.6 372.3h.8v.8h-.8zM36.2 396h.8v.8h-.8zM35.6 404.2h.8v.8h-.8zM54.8 370.9h.8v.8h-.8zM47.3 402.2h.8v.8h-.8zM46.3 368.9h.8v.8h-.8zM43.8 394.1h.8v.8h-.8zM46.2 385.2h.8v.8h-.8zM50.2 386.5h.8v.8h-.8zM51.2 374.3h.8v.8h-.8zM43.6 389.6h.8v.8h-.8zM42.5 378h.8v.8h-.8zM44 386.7h.8v.8h-.8zM43.5 397.9h.8v.8h-.8zM42.1 394.9h.8v.8h-.8zM43.2 408h.8v.8h-.8zM50.5 384.2h.8v.8h-.8zM46.2 395.7h.8v.8h-.8zM38.6 394.5h.8v.8h-.8zM40.2 390.3h.8v.8h-.8zM50.7 372h.8v.8h-.8zM40.6 394.2h.8v.8h-.8zM49.2 374.1h.8v.8h-.8zM40 386.5h.8v.8h-.8zM47.8 383.9h.8v.8h-.8zM34 400.3h.8v.8h-.8zM42.5 397.8h.8v.8h-.8zM46.5 391.6h.8v.8h-.8zM39 394.1h.8v.8h-.8zM41.2 392.4h.8v.8h-.8zM46.8 407h.8v.8h-.8zM35 404.1h.8v.8h-.8zM55.5 372.4h.8v.8h-.8zM39 400.8h.8v.8h-.8zM47.1 376.6h.8v.8h-.8zM55.1 370.9h.8v.8h-.8zM45.2 377.7h.8v.8h-.8zM47 404.2h.8v.8h-.8zM49.4 381.4h.8v.8h-.8zM40.9 384h.8v.8h-.8zM40.7 401.7h.8v.8h-.8zM45.9 377.1h.8v.8h-.8zM34.8 394.2h.8v.8h-.8zM43.2 391.5h.8v.8h-.8zM37.9 394.6h.8v.8h-.8zM49.5 369.7h.8v.8h-.8zM47.8 382.6h.8v.8h-.8zM40.5 397.2h.8v.8h-.8zM33.8 402.1h.8v.8h-.8zM36.1 397.2h.8v.8h-.8zM47.8 377.1h.8v.8h-.8zM40.9 387.2h.8v.8h-.8zM45.8 390.9h.8v.8h-.8zM47.4 370.2h.8v.8h-.8zM47.9 383.3h.8v.8h-.8zM45.1 400.2h.8v.8h-.8zM34.7 396.2h.8v.8h-.8zM51.3 374h.8v.8h-.8zM43.6 385.5h.8v.8h-.8zM42.5 409.1h.8v.8h-.8zM40.4 402.8h.8v.8h-.8zM44.8 405.9h.8v.8h-.8zM43.4 392.7h.8v.8h-.8zM37.8 392.4h.8v.8h-.8zM44.8 387.5h.8v.8h-.8zM44.8 391.2h.8v.8h-.8zM34.3 402.2h.8v.8h-.8zM46.5 407.1h.8v.8h-.8zM34.5 395.4h.8v.8h-.8zM45 391.4h.8v.8h-.8zM44.8 385.3h.8v.8h-.8zM43.2 402.7h.8v.8h-.8zM42.6 384.9h.8v.8h-.8zM47.5 369.8h.8v.8h-.8zM46.4 396.5h.8v.8h-.8zM37.7 399h.8v.8h-.8zM44 409.6h.8v.8h-.8zM55.6 373h.8v.8h-.8zM45.6 409.8h.8v.8h-.8zM43.1 376.4h.8v.8h-.8zM48.4 383.7h.8v.8h-.8zM39 405.6h.8v.8h-.8zM45.6 370.8h.8v.8h-.8zM42 398h.8v.8h-.8zM44.8 388.9h.8v.8h-.8zM40 402.2h.8v.8h-.8zM48.3 370h.8v.8h-.8zM37.2 404.3h.8v.8h-.8zM44.5 388h.8v.8h-.8zM43.9 373.1h.8v.8h-.8zM40.9 395.5h.8v.8h-.8zM47.1 381.5h.8v.8h-.8zM45.7 378.7h.8v.8h-.8zM41.9 381.7h.8v.8h-.8z"/>
<path fill="#8fbfd0" fill-opacity=".6" d="M54.3 386.9h.8v.8h-.8zM53.8 396.1h.8v.8h-.8zM52.6 392.4h.8v.8h-.8zM51.6 385.5h.8v.8h-.8zM53.3 399.1h.8v.8h-.8zM50.2 398.4h.8v.8h-.8zM52.9 407.2h.8v.8h-.8zM51.3 401.8h.8v.8h-.8zM56.9 406h.8v.8h-.8zM48 395.4h.8v.8h-.8zM55.6 394.7h.8v.8h-.8zM47.7 397h.8v.8h-.8zM55 408.2h.8v.8h-.8zM52.8 389.7h.8v.8h-.8zM51 386.2h.8v.8h-.8zM50 390.3h.8v.8h-.8zM54.6 391.6h.8v.8h-.8zM54.6 394.8h.8v.8h-.8zM55.2 387.6h.8v.8h-.8zM48.6 397.1h.8v.8h-.8zM51.7 389.1h.8v.8h-.8zM50.4 395.9h.8v.8h-.8zM51.2 405.2h.8v.8h-.8zM50.6 392.8h.8v.8h-.8zM51.9 382.7h.8v.8h-.8zM52.3 394.9h.8v.8h-.8zM53.4 398.8h.8v.8h-.8zM55.8 392h.8v.8h-.8zM55.4 400.5h.8v.8h-.8zM51.4 391h.8v.8h-.8zM51.7 398.4h.8v.8h-.8zM57.1 404.6h.8v.8h-.8zM51.4 395.7h.8v.8h-.8zM51.1 392.2h.8v.8h-.8zM56.1 398.4h.8v.8h-.8zM52.1 395.4h.8v.8h-.8zM53.9 384.2h.8v.8h-.8zM50.1 406.3h.8v.8h-.8zM54.2 384.9h.8v.8h-.8zM51 401.9h.8v.8h-.8zM55.3 393.4h.8v.8h-.8zM52.3 403h.8v.8h-.8zM52.8 404.1h.8v.8h-.8zM56 394.4h.8v.8h-.8zM51.7 388.3h.8v.8h-.8zM54.1 402.7h.8v.8h-.8zM50 404.3h.8v.8h-.8zM53.2 395.3h.8v.8h-.8zM54 407h.8v.8h-.8zM49.2 401h.8v.8h-.8zM52.8 407.1h.8v.8h-.8zM52.2 402.6h.8v.8h-.8zM55.8 407.4h.8v.8h-.8zM51.6 391.1h.8v.8h-.8zM47.5 396.8h.8v.8h-.8zM52.6 406.1h.8v.8h-.8zM52 400h.8v.8h-.8zM54 389.5h.8v.8h-.8zM55.2 407.5h.8v.8h-.8zM51 400h.8v.8h-.8zM48.1 396.8h.8v.8h-.8zM54 386.7h.8v.8h-.8zM53.9 399.9h.8v.8h-.8zM49.9 388.5h.8v.8h-.8zM53.3 405.7h.8v.8h-.8zM52.7 382.6h.8v.8h-.8zM55.2 404h.8v.8h-.8zM51.6 400.1h.8v.8h-.8zM53.9 394.5h.8v.8h-.8zM55.3 405.1h.8v.8h-.8z"/>
<path fill="#2a4d58" fill-opacity=".8" d="M53.8 391.4h.8v.8h-.8zM54 395.2h.8v.8h-.8zM58.9 404.9h.8v.8h-.8zM54.8 393.2h.8v.8h-.8zM57.1 405.2h.8v.8h-.8zM54.7 396.7h.8v.8h-.8zM55.5 395.2h.8v.8h-.8zM53.3 396.8h.8v.8h-.8zM54.6 394.3h.8v.8h-.8zM55.2 396.3h.8v.8h-.8zM55.6 399.9h.8v.8h-.8zM56.4 398.7h.8v.8h-.8zM57.5 407.4h.8v.8h-.8zM53.6 389.4h.8v.8h-.8zM55.1 403.1h.8v.8h-.8zM57.1 406.4h.8v.8h-.8zM57.5 405.1h.8v.8h-.8zM57.8 407.2h.8v.8h-.8zM51.6 391.9h.8v.8h-.8zM58.8 408.4h.8v.8h-.8zM57.1 404.3h.8v.8h-.8zM53.3 389.5h.8v.8h-.8zM57.6 403.5h.8v.8h-.8zM54.1 399.8h.8v.8h-.8zM57.8 400.5h.8v.8h-.8zM57 399.3h.8v.8h-.8zM52.6 385h.8v.8h-.8zM57.2 403.4h.8v.8h-.8zM54.1 393.6h.8v.8h-.8zM51.4 387.5h.8v.8h-.8zM51.4 391.7h.8v.8h-.8zM53.2 390.2h.8v.8h-.8zM53.3 390.4h.8v.8h-.8zM53.9 385.8h.8v.8h-.8zM55.5 395.5h.8v.8h-.8zM51.6 396.8h.8v.8h-.8zM57.6 404.9h.8v.8h-.8zM52.4 384.5h.8v.8h-.8zM54.6 396.1h.8v.8h-.8zM51.7 384.4h.8v.8h-.8zM56.1 400.7h.8v.8h-.8zM55.8 406.5h.8v.8h-.8zM51.9 388.7h.8v.8h-.8zM53 388.4h.8v.8h-.8zM58.1 399.3h.8v.8h-.8zM57.5 406.8h.8v.8h-.8zM53.8 394.3h.8v.8h-.8zM55.8 405.9h.8v.8h-.8zM55.1 394.5h.8v.8h-.8zM52.7 386.7h.8v.8h-.8zM52.7 383.7h.8v.8h-.8zM51.5 386.8h.8v.8h-.8zM53.1 388.1h.8v.8h-.8zM54.4 399.7h.8v.8h-.8zM55.2 405.6h.8v.8h-.8zM52.8 386.8h.8v.8h-.8zM56.4 403h.8v.8h-.8zM58.5 406.9h.8v.8h-.8zM56.6 401.3h.8v.8h-.8zM55.9 398.3h.8v.8h-.8zM58.4 407.9h.8v.8h-.8zM57.7 403.3h.8v.8h-.8zM55.1 398.7h.8v.8h-.8zM52 388h.8v.8h-.8zM53 388.9h.8v.8h-.8zM55.3 394.5h.8v.8h-.8zM54.3 393.5h.8v.8h-.8zM49.6 386h.8v.8h-.8zM56.8 398h.8v.8h-.8zM53.1 384.8h.8v.8h-.8zM57.4 406.8h.8v.8h-.8zM54.5 400.2h.8v.8h-.8zM50.8 382.9h.8v.8h-.8zM53.3 389.7h.8v.8h-.8zM53.6 386.3h.8v.8h-.8zM60.4 406.8h.8v.8h-.8zM59 406h.8v.8h-.8zM51.8 389h.8v.8h-.8zM51.8 385.4h.8v.8h-.8zM55.3 396.4h.8v.8h-.8zM53.7 396.4h.8v.8h-.8zM50.9 384.3h.8v.8h-.8zM55.6 408h.8v.8h-.8zM57 409.2h.8v.8h-.8zM58.1 407.4h.8v.8h-.8zM54.5 394.3h.8v.8h-.8zM52.2 389.6h.8v.8h-.8zM53.5 386.6h.8v.8h-.8zM54.5 393.3h.8v.8h-.8zM54.4 391.7h.8v.8h-.8zM50.8 386.9h.8v.8h-.8zM49.4 385.1h.8v.8h-.8zM51.2 383.1h.8v.8h-.8zM53.6 384.9h.8v.8h-.8zM58.4 403.8h.8v.8h-.8zM51.3 385.9h.8v.8h-.8zM55.3 396.4h.8v.8h-.8zM54.4 389.8h.8v.8h-.8zM57.4 398.9h.8v.8h-.8zM52.8 389.6h.8v.8h-.8zM55 396.2h.8v.8h-.8zM56 403.8h.8v.8h-.8zM50.3 382.5h.8v.8h-.8zM57.1 405.5h.8v.8h-.8zM55 399.7h.8v.8h-.8zM52.1 398.1h.8v.8h-.8zM54.3 397.3h.8v.8h-.8zM51.5 388.6h.8v.8h-.8zM51.2 385.8h.8v.8h-.8zM57.2 404.9h.8v.8h-.8zM55.8 399.1h.8v.8h-.8zM55.9 399.6h.8v.8h-.8zM59.1 402.7h.8v.8h-.8zM54.6 393.4h.8v.8h-.8zM53.4 390.8h.8v.8h-.8zM56.1 401.1h.8v.8h-.8zM56 396.9h.8v.8h-.8zM52.8 391.2h.8v.8h-.8zM52.6 385.5h.8v.8h-.8zM52.8 392.1h.8v.8h-.8zM54.3 389h.8v.8h-.8zM53.9 397.5h.8v.8h-.8zM52.6 389h.8v.8h-.8zM56.1 398.3h.8v.8h-.8zM60.2 407.9h.8v.8h-.8zM54 389.4h.8v.8h-.8zM53.6 397.2h.8v.8h-.8zM50.7 384.6h.8v.8h-.8zM54.7 399.2h.8v.8h-.8zM54.4 390.8h.8v.8h-.8zM56.5 405.4h.8v.8h-.8zM53.3 391.4h.8v.8h-.8zM51.9 386.3h.8v.8h-.8zM50.9 388h.8v.8h-.8zM59.1 405.9h.8v.8h-.8zM57.3 406.8h.8v.8h-.8zM58 408.8h.8v.8h-.8zM53 385.6h.8v.8h-.8zM54.3 397.8h.8v.8h-.8zM52.3 389.9h.8v.8h-.8zM53.8 394.9h.8v.8h-.8zM57.8 400.6h.8v.8h-.8zM58.2 406.3h.8v.8h-.8zM55.3 393.4h.8v.8h-.8zM56.5 400.2h.8v.8h-.8zM53.2 393.9h.8v.8h-.8zM52 382h.8v.8h-.8zM57.6 406.4h.8v.8h-.8zM54.9 406.2h.8v.8h-.8zM59.4 407.7h.8v.8h-.8zM52 409.7h.8v.8h-.8zM53.3 408.6h.8v.8h-.8zM54.4 409.2h.8v.8h-.8zM53 410.1h.8v.8h-.8zM51.6 408.3h.8v.8h-.8zM55.2 409.6h.8v.8h-.8zM53.6 409.6h.8v.8h-.8zM53.5 411.5h.8v.8h-.8zM54.4 410.4h.8v.8h-.8zM53.6 410.9h.8v.8h-.8zM56.6 409.2h.8v.8h-.8zM49.8 410.1h.8v.8h-.8zM55.2 408.2h.8v.8h-.8zM52.8 408.9h.8v.8h-.8zM54.9 409.8h.8v.8h-.8zM55 407.4h.8v.8h-.8zM52.8 410.1h.8v.8h-.8zM51.1 410.2h.8v.8h-.8zM49.8 409.8h.8v.8h-.8zM53.1 410.2h.8v.8h-.8zM55.4 408.3h.8v.8h-.8zM52.2 410h.8v.8h-.8zM52 409.1h.8v.8h-.8zM53.5 408.5h.8v.8h-.8zM56.6 408.3h.8v.8h-.8zM53.3 409.9h.8v.8h-.8zM54.6 408h.8v.8h-.8zM49.4 410.9h.8v.8h-.8zM56.3 409.9h.8v.8h-.8zM57.1 408.8h.8v.8h-.8zM53.5 408.8h.8v.8h-.8zM56.1 409.8h.8v.8h-.8zM56.7 408.9h.8v.8h-.8zM48.7 408.6h.8v.8h-.8zM53.9 410.5h.8v.8h-.8zM48.2 408.9h.8v.8h-.8zM49.8 409.1h.8v.8h-.8zM47.9 409h.8v.8h-.8zM56.4 411h.8v.8h-.8zM48.8 409.6h.8v.8h-.8zM57.6 409.5h.8v.8h-.8zM54.2 408.8h.8v.8h-.8zM50 410.6h.8v.8h-.8zM50.4 410.7h.8v.8h-.8zM52.9 408.5h.8v.8h-.8zM56.1 409h.8v.8h-.8zM57.1 410.4h.8v.8h-.8zM53.7 410h.8v.8h-.8zM54.9 410h.8v.8h-.8zM52.7 409.7h.8v.8h-.8z"/>
<ellipse cx="46.6" cy="416.3" rx="4.4" ry="4.3" fill="#1b353e"/>
<ellipse cx="58.4" cy="413.2" rx="3.8" ry="3.9" fill="#1b353e"/>
<path fill="#1b353e" fill-opacity=".9" d="M44.7 411.7h.8v.8h-.8zM43.4 416.6h.8v.8h-.8zM45.9 416.3h.8v.8h-.8zM44.4 415h.8v.8h-.8zM46.2 412.4h.8v.8h-.8zM43.2 416.7h.8v.8h-.8zM47.1 413.7h.8v.8h-.8zM46.5 417.2h.8v.8h-.8zM50.7 413.8h.8v.8h-.8zM48.1 420.3h.8v.8h-.8zM46.9 418.9h.8v.8h-.8zM41.2 418.9h.8v.8h-.8zM46.7 411.7h.8v.8h-.8zM48.4 418h.8v.8h-.8zM49.3 418.3h.8v.8h-.8zM46.7 414.1h.8v.8h-.8zM45.7 415.7h.8v.8h-.8zM47.6 414.7h.8v.8h-.8zM46.8 417.6h.8v.8h-.8zM47.4 420.7h.8v.8h-.8zM51.4 413.3h.8v.8h-.8zM45.5 412.9h.8v.8h-.8zM44.2 416.9h.8v.8h-.8zM44.6 413.5h.8v.8h-.8zM46.2 417.5h.8v.8h-.8zM46 415h.8v.8h-.8zM48.7 416.8h.8v.8h-.8zM47.7 417.8h.8v.8h-.8zM44.5 416.2h.8v.8h-.8zM45.4 418h.8v.8h-.8zM48.5 413.5h.8v.8h-.8zM49.6 413.2h.8v.8h-.8zM49.3 416.2h.8v.8h-.8zM44.9 413.3h.8v.8h-.8zM46.1 415.7h.8v.8h-.8zM45.2 417h.8v.8h-.8zM43.7 415.7h.8v.8h-.8zM46.7 411.7h.8v.8h-.8zM47.4 413h.8v.8h-.8zM41.3 414.4h.8v.8h-.8zM46.2 417.7h.8v.8h-.8zM45.7 418.9h.8v.8h-.8zM49.8 418.1h.8v.8h-.8zM49.6 416.5h.8v.8h-.8zM45.5 417.1h.8v.8h-.8zM48.8 416.3h.8v.8h-.8zM46.2 412.3h.8v.8h-.8zM48.2 416.5h.8v.8h-.8zM43.9 415.9h.8v.8h-.8zM48.3 415.5h.8v.8h-.8zM48.4 417.4h.8v.8h-.8zM43.5 415.1h.8v.8h-.8zM47.8 417.7h.8v.8h-.8zM49.8 411.6h.8v.8h-.8zM46.6 417.3h.8v.8h-.8zM49.4 419.4h.8v.8h-.8zM44.7 414.9h.8v.8h-.8zM44.4 417.5h.8v.8h-.8zM43.9 418.3h.8v.8h-.8zM48.8 416.8h.8v.8h-.8zM54.5 412.2h.8v.8h-.8zM60.2 410.7h.8v.8h-.8zM58.3 413.3h.8v.8h-.8zM60.5 414.1h.8v.8h-.8zM59.3 412.7h.8v.8h-.8zM58.7 413.3h.8v.8h-.8zM60.2 413.2h.8v.8h-.8zM60.8 410.2h.8v.8h-.8zM61.1 413.2h.8v.8h-.8zM61 413.7h.8v.8h-.8zM60.4 416.5h.8v.8h-.8zM57.6 413.7h.8v.8h-.8zM58.4 413.9h.8v.8h-.8zM55.5 413.2h.8v.8h-.8zM58.2 412h.8v.8h-.8zM58.4 410.5h.8v.8h-.8zM61.5 414.4h.8v.8h-.8zM62.5 411.8h.8v.8h-.8zM56.4 414.1h.8v.8h-.8zM55.4 414h.8v.8h-.8zM57.3 412.9h.8v.8h-.8zM59.2 413.6h.8v.8h-.8zM62.4 414.8h.8v.8h-.8zM56.2 415.5h.8v.8h-.8zM56.1 413.7h.8v.8h-.8zM56.3 411.9h.8v.8h-.8zM61.3 412.4h.8v.8h-.8zM57.5 412.4h.8v.8h-.8zM58.1 416.4h.8v.8h-.8zM56.4 411.1h.8v.8h-.8zM59.9 410.4h.8v.8h-.8zM58 415.8h.8v.8h-.8zM58.7 412.6h.8v.8h-.8zM57.3 411.7h.8v.8h-.8zM57.6 413.8h.8v.8h-.8zM61.2 415.4h.8v.8h-.8zM57.6 412.1h.8v.8h-.8zM60.1 409.9h.8v.8h-.8zM57.8 412.9h.8v.8h-.8zM56.5 411.5h.8v.8h-.8zM59.4 410.2h.8v.8h-.8zM56.9 412.2h.8v.8h-.8zM58.9 410.8h.8v.8h-.8zM60.8 412.9h.8v.8h-.8zM58.2 412.8h.8v.8h-.8zM57.4 411.5h.8v.8h-.8zM61 413.9h.8v.8h-.8zM58.5 415.4h.8v.8h-.8zM57.3 414.7h.8v.8h-.8zM58.7 411.7h.8v.8h-.8z"/>
<path d="M100.85 367.5Q101.5 365 103.25 364.65Q105 364.3 106.75 364.9Q108.5 365.5 109.15 367.25Q109.8 369 109.8 371.75Q109.8 374.5 108.9 376.25Q108 378 105.75 378.4Q103.5 378.8 102 377.4Q100.5 376 100.35 373Q100.2 370 100.85 367.5Z" fill="#6cb7a6"/>
<path fill="#9fd3c6" fill-opacity=".8" d="M108 366h.8v.8h-.8zM102.4 368.9h.8v.8h-.8zM105.4 366.9h.8v.8h-.8zM105.8 365.2h.8v.8h-.8zM103.4 377.6h.8v.8h-.8zM103.4 375.4h.8v.8h-.8zM103.3 368h.8v.8h-.8zM106.8 376.7h.8v.8h-.8zM104.9 376.2h.8v.8h-.8zM107.2 369h.8v.8h-.8zM101.7 366.2h.8v.8h-.8zM101.6 366.3h.8v.8h-.8zM107.3 370.2h.8v.8h-.8zM103.9 376.4h.8v.8h-.8zM102.4 370.5h.8v.8h-.8zM102.5 369.4h.8v.8h-.8zM103.7 366.5h.8v.8h-.8zM101.3 373.8h.8v.8h-.8zM102.3 369h.8v.8h-.8zM107.6 373.7h.8v.8h-.8zM102.7 376.2h.8v.8h-.8zM105.5 376.3h.8v.8h-.8zM108.2 376.6h.8v.8h-.8zM106.1 368.5h.8v.8h-.8zM107.4 368.3h.8v.8h-.8zM103.1 368h.8v.8h-.8zM108.6 366h.8v.8h-.8zM105.5 375.7h.8v.8h-.8zM102.1 365h.8v.8h-.8zM101.5 367.1h.8v.8h-.8zM103.3 375.8h.8v.8h-.8zM101.5 375.4h.8v.8h-.8zM105.6 369.9h.8v.8h-.8zM108.6 376h.8v.8h-.8zM105.9 368.5h.8v.8h-.8zM104.5 375.5h.8v.8h-.8zM104.7 364.8h.8v.8h-.8zM109 373h.8v.8h-.8zM105.8 374.2h.8v.8h-.8zM104.6 372.4h.8v.8h-.8zM106 372h.8v.8h-.8zM105.5 373h.8v.8h-.8zM106.2 366.2h.8v.8h-.8zM102.1 365.2h.8v.8h-.8zM101.6 369.4h.8v.8h-.8zM100.3 372.2h.8v.8h-.8zM108.2 367.9h.8v.8h-.8zM102.7 370.8h.8v.8h-.8zM105.8 370.2h.8v.8h-.8zM105 368.2h.8v.8h-.8zM101.7 371.3h.8v.8h-.8zM105 367.7h.8v.8h-.8zM103 369.2h.8v.8h-.8zM104.6 364.7h.8v.8h-.8zM106.8 365.5h.8v.8h-.8zM103.3 364.8h.8v.8h-.8zM106.6 366.1h.8v.8h-.8zM100.4 373.7h.8v.8h-.8zM105.4 365.4h.8v.8h-.8zM105.7 368.2h.8v.8h-.8zM109.6 374.3h.8v.8h-.8zM103.1 366h.8v.8h-.8zM104.5 372.4h.8v.8h-.8zM105.1 371.1h.8v.8h-.8zM108.1 368.8h.8v.8h-.8zM104.5 368.5h.8v.8h-.8zM106.9 373.7h.8v.8h-.8zM102.3 367.2h.8v.8h-.8zM108.7 370.4h.8v.8h-.8zM103 369.3h.8v.8h-.8zM101.5 368.9h.8v.8h-.8zM103.1 377.8h.8v.8h-.8zM106 372.8h.8v.8h-.8zM102.8 372.6h.8v.8h-.8zM105.8 373.6h.8v.8h-.8zM107.3 369.8h.8v.8h-.8zM101.2 372.2h.8v.8h-.8zM104.3 370.1h.8v.8h-.8zM103.8 374.3h.8v.8h-.8zM103 378.2h.8v.8h-.8zM108.6 368.7h.8v.8h-.8zM106.4 366.3h.8v.8h-.8zM107.2 368.7h.8v.8h-.8zM104.2 369h.8v.8h-.8zM105 367h.8v.8h-.8zM102.6 368.1h.8v.8h-.8zM102.6 368.6h.8v.8h-.8zM108.9 370.8h.8v.8h-.8zM101.5 365h.8v.8h-.8zM107.2 367h.8v.8h-.8z"/>
<path fill="#6cb7a6" fill-opacity=".9" d="M97.6 372.7h.8v.8h-.8zM100.4 373.2h.8v.8h-.8zM100.3 373.4h.8v.8h-.8zM98.5 373.3h.8v.8h-.8zM97.8 372.9h.8v.8h-.8zM99.4 373.6h.8v.8h-.8zM97 372.9h.8v.8h-.8zM100 373.5h.8v.8h-.8zM96.8 373.8h.8v.8h-.8zM97 372.6h.8v.8h-.8zM98 373.4h.8v.8h-.8zM98.5 373.4h.8v.8h-.8zM96.8 373.3h.8v.8h-.8zM97.9 373h.8v.8h-.8z"/>
<path d="M69.4 430.25Q70.5 428.5 72.5 427Q74.5 425.5 77 425.25Q79.5 425 81.75 425.75Q84 426.5 85.1 428.5Q86.2 430.5 86.1 433.5Q86 436.5 84.5 438.5Q83 440.5 80.5 440.85Q78 441.2 75.25 440.35Q72.5 439.5 70.75 437.5Q69 435.5 68.65 433.75Q68.3 432 69.4 430.25Z" fill="#c89cac"/>
<path fill="#ddb9c6" fill-opacity=".8" d="M74.7 432.6h.8v.8h-.8zM72.6 430.4h.8v.8h-.8zM79.9 429.1h.8v.8h-.8zM75.5 431.8h.8v.8h-.8zM74.1 433h.8v.8h-.8zM74.6 433.5h.8v.8h-.8zM74.1 435.8h.8v.8h-.8zM70.8 434.4h.8v.8h-.8zM78.1 432.1h.8v.8h-.8zM72 428.8h.8v.8h-.8zM83.3 428.7h.8v.8h-.8zM70.6 433.7h.8v.8h-.8zM82.9 433.8h.8v.8h-.8zM72.7 431.7h.8v.8h-.8zM85.2 429.5h.8v.8h-.8zM83.2 434.4h.8v.8h-.8zM73.8 426h.8v.8h-.8zM78.4 434.4h.8v.8h-.8zM73.9 436.4h.8v.8h-.8zM74.4 427.2h.8v.8h-.8zM85 431.5h.8v.8h-.8zM84.5 428.5h.8v.8h-.8zM71.4 433.8h.8v.8h-.8zM81.3 438.3h.8v.8h-.8zM70.8 428.9h.8v.8h-.8zM73.7 427.3h.8v.8h-.8zM79.9 435h.8v.8h-.8zM81.3 426.1h.8v.8h-.8zM81.7 433.5h.8v.8h-.8zM82.2 438.1h.8v.8h-.8zM75.4 437.4h.8v.8h-.8zM71.5 435.9h.8v.8h-.8zM76.2 432h.8v.8h-.8zM85 428.9h.8v.8h-.8zM76.3 433.3h.8v.8h-.8zM79.3 427.5h.8v.8h-.8zM81.5 439.3h.8v.8h-.8zM78.9 426.6h.8v.8h-.8zM72.4 438.4h.8v.8h-.8zM81.7 426.1h.8v.8h-.8zM75.8 430.5h.8v.8h-.8zM85.1 432.6h.8v.8h-.8zM71.2 436.4h.8v.8h-.8zM82.5 431.2h.8v.8h-.8zM84.2 438.7h.8v.8h-.8zM71 430.1h.8v.8h-.8zM83.8 428.3h.8v.8h-.8zM79.8 427.3h.8v.8h-.8zM79.1 435.2h.8v.8h-.8zM72.8 434h.8v.8h-.8zM74.2 439.6h.8v.8h-.8zM72.5 427.4h.8v.8h-.8zM76.2 438h.8v.8h-.8zM79.9 440.3h.8v.8h-.8zM81.3 437.1h.8v.8h-.8zM80.9 426.9h.8v.8h-.8zM74.5 427.5h.8v.8h-.8zM74.3 426.4h.8v.8h-.8zM82 430.4h.8v.8h-.8zM72.3 427.3h.8v.8h-.8zM75.7 432.3h.8v.8h-.8zM85.7 436h.8v.8h-.8zM84.3 437.8h.8v.8h-.8zM82 434.9h.8v.8h-.8zM74.2 428.1h.8v.8h-.8zM80.5 436.3h.8v.8h-.8zM74.9 430.7h.8v.8h-.8zM79.7 433.5h.8v.8h-.8zM75.9 434h.8v.8h-.8zM84.7 429.4h.8v.8h-.8zM76.5 431.8h.8v.8h-.8zM82.8 437.7h.8v.8h-.8zM78.6 439h.8v.8h-.8zM75 438.7h.8v.8h-.8zM85.6 434.2h.8v.8h-.8zM79.2 439.6h.8v.8h-.8zM79.4 437.8h.8v.8h-.8zM84.9 431.3h.8v.8h-.8zM76.1 437.8h.8v.8h-.8zM82.2 427.7h.8v.8h-.8zM83.7 435.5h.8v.8h-.8zM80 435.8h.8v.8h-.8zM69.6 435.8h.8v.8h-.8zM81.5 431.5h.8v.8h-.8zM74.7 439h.8v.8h-.8zM84.6 430h.8v.8h-.8zM71.4 432.6h.8v.8h-.8zM83.3 427.9h.8v.8h-.8zM75.8 440.2h.8v.8h-.8zM72.2 427.5h.8v.8h-.8zM82.3 434.6h.8v.8h-.8zM73.2 434h.8v.8h-.8zM83.7 428.4h.8v.8h-.8zM76.9 433.1h.8v.8h-.8zM85 429.7h.8v.8h-.8zM73.6 430.1h.8v.8h-.8zM84.9 430.1h.8v.8h-.8zM73.7 428.3h.8v.8h-.8zM76.3 425.6h.8v.8h-.8zM79.6 437.2h.8v.8h-.8zM78.2 425.2h.8v.8h-.8zM80.3 434.3h.8v.8h-.8zM80.8 430.9h.8v.8h-.8zM73.1 435.5h.8v.8h-.8zM81.3 432.8h.8v.8h-.8zM79 437.6h.8v.8h-.8zM78.4 434.3h.8v.8h-.8zM77.2 439.6h.8v.8h-.8zM84.9 434.5h.8v.8h-.8zM73.6 439.2h.8v.8h-.8zM71.3 436.4h.8v.8h-.8zM80.7 430.3h.8v.8h-.8zM85.2 432.9h.8v.8h-.8zM82.1 436.7h.8v.8h-.8zM73.2 435.5h.8v.8h-.8zM76 426.4h.8v.8h-.8zM80.8 427.1h.8v.8h-.8zM73.4 435.5h.8v.8h-.8zM85.3 436.9h.8v.8h-.8zM74.4 430.3h.8v.8h-.8zM74.9 430.5h.8v.8h-.8zM72.1 428.3h.8v.8h-.8zM80.3 427.4h.8v.8h-.8zM81.2 431h.8v.8h-.8zM76.2 437.1h.8v.8h-.8zM74.4 435.7h.8v.8h-.8zM71.1 434.8h.8v.8h-.8zM72.4 432.6h.8v.8h-.8zM84.4 428h.8v.8h-.8zM76.4 425.8h.8v.8h-.8zM73.9 428h.8v.8h-.8zM84 438.2h.8v.8h-.8zM80.9 434.2h.8v.8h-.8zM80.7 434.9h.8v.8h-.8zM82.7 437.1h.8v.8h-.8zM72.6 438.3h.8v.8h-.8zM81.4 428.9h.8v.8h-.8zM80.2 435.5h.8v.8h-.8zM74.1 429.5h.8v.8h-.8zM80.1 429.7h.8v.8h-.8zM72.4 427.8h.8v.8h-.8zM74.6 433.9h.8v.8h-.8zM80.3 440.7h.8v.8h-.8zM74.4 427.7h.8v.8h-.8zM70.5 429.6h.8v.8h-.8zM80.3 427.7h.8v.8h-.8zM84.3 427.3h.8v.8h-.8zM74.5 430.1h.8v.8h-.8zM71.3 434.2h.8v.8h-.8zM85.4 430.1h.8v.8h-.8zM69.5 434.6h.8v.8h-.8zM82 427.3h.8v.8h-.8zM82.2 429.7h.8v.8h-.8zM70.4 432.4h.8v.8h-.8zM75.6 429.7h.8v.8h-.8zM77.6 432.9h.8v.8h-.8zM84.4 430h.8v.8h-.8zM81.8 430.2h.8v.8h-.8zM76.4 440.6h.8v.8h-.8zM82.2 428.4h.8v.8h-.8z"/>
<path fill="#c89cac" fill-opacity=".9" d="M67.2 431.2h.8v.8h-.8zM66.5 431.7h.8v.8h-.8zM66.5 430.5h.8v.8h-.8zM65.6 431h.8v.8h-.8zM61.3 430.9h.8v.8h-.8zM66.1 431.3h.8v.8h-.8zM60.7 430.5h.8v.8h-.8zM60.4 429.8h.8v.8h-.8zM64 431.7h.8v.8h-.8zM60.7 430.7h.8v.8h-.8zM60.3 430.4h.8v.8h-.8zM64.9 431.4h.8v.8h-.8zM68.8 432h.8v.8h-.8zM59.6 430.8h.8v.8h-.8zM63.4 431h.8v.8h-.8zM59.9 429.7h.8v.8h-.8zM64.4 431h.8v.8h-.8zM64.7 431.7h.8v.8h-.8zM63.9 431.3h.8v.8h-.8zM59.4 430.1h.8v.8h-.8zM66 431.7h.8v.8h-.8zM64.1 431.1h.8v.8h-.8zM64.7 431.4h.8v.8h-.8zM65.7 430.7h.8v.8h-.8zM68.1 431.4h.8v.8h-.8zM63.3 431.2h.8v.8h-.8zM68.1 431.7h.8v.8h-.8zM60.8 430.6h.8v.8h-.8zM63.5 431.7h.8v.8h-.8zM60.8 430.4h.8v.8h-.8z"/>
<circle cx="25.2" cy="468.8" r="2.1" fill="#6aa898"/>
<text x="30.6" y="471.1" font-size="6.5" stroke="#231f20" stroke-width=".06" textLength="14.8" lengthAdjust="spacingAndGlyphs" transform="rotate(.05 30.6 471.1)">MBC</text>
<circle cx="54.6" cy="468.8" r="2.1" fill="#3f7888"/>
<text x="59.6" y="471.1" font-size="6.5" stroke="#231f20" stroke-width=".06" textLength="16.8" lengthAdjust="spacingAndGlyphs" transform="rotate(.05 59.6 471.1)">prePB</text>
<circle cx="85" cy="468.8" r="2.1" fill="#1d3c46"/>
<text x="90" y="471.1" font-size="6.5" stroke="#231f20" stroke-width=".06" textLength="7.5" lengthAdjust="spacingAndGlyphs" transform="rotate(.05 90 471.1)">PB</text>
<circle cx="107.2" cy="468.8" r="2.1" fill="#c49aa9"/>
<text x="112" y="471.1" font-size="6.5" stroke="#231f20" stroke-width=".06" textLength="8" lengthAdjust="spacingAndGlyphs" transform="rotate(.05 112 471.1)">PC</text>
<text x="136.3" y="359.6" font-size="10.4" fill="#000" stroke="#000" stroke-width=".06" font-weight="bold" textLength="7" lengthAdjust="spacingAndGlyphs" transform="rotate(.05 136.3 359.6)">C</text>
<line x1="177.1" y1="369.2" x2="177.1" y2="445.6" stroke="#231f20" stroke-width=".9"/>
<line x1="176.7" y1="445.2" x2="253.6" y2="445.2" stroke="#231f20" stroke-width=".9"/>
<line x1="174.1" y1="445.2" x2="177.1" y2="445.2" stroke="#231f20" stroke-width=".8"/>
<text x="167.8" y="447.5" font-size="6.6" stroke="#231f20" stroke-width=".06" textLength="3.3" lengthAdjust="spacingAndGlyphs" transform="rotate(.05 167.8 447.5)">0</text>
<line x1="174.1" y1="430.58" x2="177.1" y2="430.58" stroke="#231f20" stroke-width=".8"/>
<text x="161" y="432.88" font-size="6.6" stroke="#231f20" stroke-width=".06" textLength="10.1" lengthAdjust="spacingAndGlyphs" transform="rotate(.05 161 432.88)">500</text>
<line x1="174.1" y1="415.96" x2="177.1" y2="415.96" stroke="#231f20" stroke-width=".8"/>
<text x="157.5" y="418.26" font-size="6.6" stroke="#231f20" stroke-width=".06" textLength="13.6" lengthAdjust="spacingAndGlyphs" transform="rotate(.05 157.5 418.26)">1000</text>
<line x1="174.1" y1="401.34" x2="177.1" y2="401.34" stroke="#231f20" stroke-width=".8"/>
<text x="157.5" y="403.64" font-size="6.6" stroke="#231f20" stroke-width=".06" textLength="13.6" lengthAdjust="spacingAndGlyphs" transform="rotate(.05 157.5 403.64)">1500</text>
<line x1="174.1" y1="386.72" x2="177.1" y2="386.72" stroke="#231f20" stroke-width=".8"/>
<text x="157.5" y="389.02" font-size="6.6" stroke="#231f20" stroke-width=".06" textLength="13.6" lengthAdjust="spacingAndGlyphs" transform="rotate(.05 157.5 389.02)">2000</text>
<line x1="174.1" y1="372.1" x2="177.1" y2="372.1" stroke="#231f20" stroke-width=".8"/>
<text x="157.5" y="374.4" font-size="6.6" stroke="#231f20" stroke-width=".06" textLength="13.6" lengthAdjust="spacingAndGlyphs" transform="rotate(.05 157.5 374.4)">2500</text>
<rect x="179.9" y="426.37" width="13.9" height="18.83" fill="#6eb1a1"/>
<line x1="186.85" y1="445.2" x2="186.85" y2="447.4" stroke="#231f20" stroke-width=".8"/>
<text x="181.65" y="423.27" font-size="6.8" stroke="#231f20" stroke-width=".06" textLength="10.4" lengthAdjust="spacingAndGlyphs" transform="rotate(.05 181.65 423.27)">644</text>
<rect x="198.9" y="388.65" width="14.2" height="56.55" fill="#3f7f96"/>
<line x1="206" y1="445.2" x2="206" y2="447.4" stroke="#231f20" stroke-width=".8"/>
<text x="199.2" y="385.55" font-size="6.8" stroke="#231f20" stroke-width=".06" textLength="13.6" lengthAdjust="spacingAndGlyphs" transform="rotate(.05 199.2 385.55)">1934</text>
<rect x="218.2" y="434.5" width="13.7" height="10.7" fill="#1c3540"/>
<line x1="225.05" y1="445.2" x2="225.05" y2="447.4" stroke="#231f20" stroke-width=".8"/>
<text x="219.85" y="431.4" font-size="6.8" stroke="#231f20" stroke-width=".06" textLength="10.4" lengthAdjust="spacingAndGlyphs" transform="rotate(.05 219.85 431.4)">366</text>
<rect x="237.2" y="430.32" width="13.7" height="14.88" fill="#c0909f"/>
<line x1="244.05" y1="445.2" x2="244.05" y2="447.4" stroke="#231f20" stroke-width=".8"/>
<text x="238.85" y="427.22" font-size="6.8" stroke="#231f20" stroke-width=".06" textLength="10.4" lengthAdjust="spacingAndGlyphs" transform="rotate(.05 238.85 427.22)">509</text>
<text x="151" y="432.1" font-size="7.2" stroke="#231f20" stroke-width=".06" textLength="49.8" lengthAdjust="spacingAndGlyphs" transform="rotate(-89.95 151 432.1)">Number of DEGs</text>
<text x="188.5" y="449.6" font-size="6.8" text-anchor="end" stroke="#231f20" stroke-width=".06" transform="rotate(-45 188.5 449.6)" textLength="14.2" lengthAdjust="spacingAndGlyphs">MBC</text>
<text x="207.5" y="449.6" font-size="6.8" text-anchor="end" stroke="#231f20" stroke-width=".06" transform="rotate(-45 207.5 449.6)" textLength="19.2" lengthAdjust="spacingAndGlyphs">prePB</text>
<text x="226.8" y="449.6" font-size="6.8" text-anchor="end" stroke="#231f20" stroke-width=".06" transform="rotate(-45 226.8 449.6)" textLength="7.8" lengthAdjust="spacingAndGlyphs">PB</text>
<text x="245.8" y="449.6" font-size="6.8" text-anchor="end" stroke="#231f20" stroke-width=".06" transform="rotate(-45 245.8 449.6)" textLength="8.2" lengthAdjust="spacingAndGlyphs">PC</text>
<text x="31.2" y="486.4" font-size="10.4" fill="#000" stroke="#000" stroke-width=".06" font-weight="bold" textLength="7.6" lengthAdjust="spacingAndGlyphs" transform="rotate(.05 31.2 486.4)">D</text>
<rect x="66.2" y="497" width="51.8" height="54.2" fill="none" stroke="#d5d5d5" stroke-width="0.6"/>
<text x="81.8" y="493.7" font-size="6.3" stroke="#231f20" stroke-width=".06" textLength="20.6" lengthAdjust="spacingAndGlyphs" transform="rotate(.05 81.8 493.7)">BACH2</text>
<rect x="118.8" y="497" width="51.8" height="54.2" fill="none" stroke="#d5d5d5" stroke-width="0.6"/>
<text x="136.9" y="493.7" font-size="6.3" stroke="#231f20" stroke-width=".06" textLength="15.6" lengthAdjust="spacingAndGlyphs" transform="rotate(.05 136.9 493.7)">BCL6</text>
<rect x="170.7" y="497" width="51.8" height="54.2" fill="none" stroke="#d5d5d5" stroke-width="0.6"/>
<text x="188.4" y="493.7" font-size="6.3" stroke="#231f20" stroke-width=".06" textLength="16.4" lengthAdjust="spacingAndGlyphs" transform="rotate(.05 188.4 493.7)">PAX5</text>
<rect x="66.2" y="563.4" width="51.8" height="54.2" fill="none" stroke="#d5d5d5" stroke-width="0.6"/>
<text x="85.7" y="560.1" font-size="6.3" stroke="#231f20" stroke-width=".06" textLength="12.8" lengthAdjust="spacingAndGlyphs" transform="rotate(.05 85.7 560.1)">IRF4</text>
<rect x="118.8" y="563.4" width="51.8" height="54.2" fill="none" stroke="#d5d5d5" stroke-width="0.6"/>
<text x="134.6" y="560.1" font-size="6.3" stroke="#231f20" stroke-width=".06" textLength="20.2" lengthAdjust="spacingAndGlyphs" transform="rotate(.05 134.6 560.1)">PRDM1</text>
<rect x="170.7" y="563.4" width="51.8" height="54.2" fill="none" stroke="#d5d5d5" stroke-width="0.6"/>
<text x="189.1" y="560.1" font-size="6.3" stroke="#231f20" stroke-width=".06" textLength="15" lengthAdjust="spacingAndGlyphs" transform="rotate(.05 189.1 560.1)">XBP1</text>
<path d="M76.05 504.7Q76.3 503.4 78.05 503.7Q79.8 504 81.9 504.8Q84 505.6 83.25 506.95Q82.5 508.3 81.9 510.3Q81.3 512.3 80.8 514.5Q80.3 516.7 79.75 517.75Q79.2 518.8 78.7 520.25Q78.2 521.7 77.8 523.25Q77.4 524.8 77.7 526.05Q78 527.3 78.9 527.85Q79.8 528.4 82.25 528.35Q84.7 528.3 85.9 529.25Q87.1 530.2 87.05 531.9Q87 533.6 85.55 534.25Q84.1 534.9 82.2 534.6Q80.3 534.3 78.75 534.9Q77.2 535.5 76.2 534.9Q75.2 534.3 73.65 532.35Q72.1 530.4 70.8 527.6Q69.5 524.8 69.35 522.9Q69.2 521 69.9 519.4Q70.6 517.8 72.05 515.6Q73.5 513.4 74.55 511.6Q75.6 509.8 75.7 507.9Q75.8 506 76.05 504.7Z" fill="url(#dg0)" stroke="url(#dg0)" stroke-width=".8"/>
<path fill="#4b1b76" fill-opacity=".7" d="M85.4 532.9h.75v.75h-.75zM76.7 520.5h.75v.75h-.75zM81.8 507h.75v.75h-.75zM71.2 524.6h.75v.75h-.75zM79.3 514.4h.75v.75h-.75zM71.6 527h.75v.75h-.75zM74.5 529.1h.75v.75h-.75zM76.9 523.8h.75v.75h-.75zM78.3 529.3h.75v.75h-.75zM76.9 532.6h.75v.75h-.75zM77.1 510.5h.75v.75h-.75zM75.1 529.1h.75v.75h-.75zM77.9 515.5h.75v.75h-.75zM83.1 531.8h.75v.75h-.75zM80.6 511.6h.75v.75h-.75zM75.3 531.6h.75v.75h-.75zM76.7 505.5h.75v.75h-.75zM75.8 521.6h.75v.75h-.75zM77.1 509h.75v.75h-.75zM83.2 530.2h.75v.75h-.75zM77.2 527.4h.75v.75h-.75zM79.8 528.7h.75v.75h-.75zM70.3 523.7h.75v.75h-.75zM75.3 519.4h.75v.75h-.75zM71.8 525.7h.75v.75h-.75zM72.1 528.8h.75v.75h-.75zM77.4 530.1h.75v.75h-.75zM72.9 531h.75v.75h-.75zM76.9 533.9h.75v.75h-.75zM84.7 532.5h.75v.75h-.75zM71.4 517.7h.75v.75h-.75zM81.7 507.6h.75v.75h-.75zM73.6 517.6h.75v.75h-.75zM77 534.7h.75v.75h-.75zM78 518.3h.75v.75h-.75zM78.8 506.1h.75v.75h-.75zM71.3 525.5h.75v.75h-.75zM70.8 521.5h.75v.75h-.75zM73.7 532h.75v.75h-.75zM72.1 524.3h.75v.75h-.75zM81.6 531.2h.75v.75h-.75zM84.6 530.1h.75v.75h-.75zM86.1 530.5h.75v.75h-.75zM73.1 529.9h.75v.75h-.75zM82.3 532.5h.75v.75h-.75zM79.2 507h.75v.75h-.75zM84.6 531.5h.75v.75h-.75zM76.4 520h.75v.75h-.75zM71.7 523h.75v.75h-.75zM82.5 532.2h.75v.75h-.75zM79.1 506.2h.75v.75h-.75zM79.5 530.8h.75v.75h-.75zM71.6 526.8h.75v.75h-.75zM75.9 510.6h.75v.75h-.75zM73.8 514.9h.75v.75h-.75zM76.2 508.6h.75v.75h-.75zM81.6 532.6h.75v.75h-.75zM77.3 515.8h.75v.75h-.75zM80.7 533.8h.75v.75h-.75zM81.6 534h.75v.75h-.75zM75.4 517.9h.75v.75h-.75zM79.8 513.9h.75v.75h-.75zM76 534.3h.75v.75h-.75zM74.9 528h.75v.75h-.75zM75 528.4h.75v.75h-.75zM76 519.3h.75v.75h-.75zM71.4 524.2h.75v.75h-.75zM77.7 507.7h.75v.75h-.75zM86.5 532.9h.75v.75h-.75zM77.8 506.5h.75v.75h-.75zM72.4 523.6h.75v.75h-.75zM76.1 530.3h.75v.75h-.75zM76.2 526.7h.75v.75h-.75zM75.6 519.1h.75v.75h-.75zM84.1 530.9h.75v.75h-.75zM72.2 526.2h.75v.75h-.75zM75.8 527.3h.75v.75h-.75zM75 512.1h.75v.75h-.75zM78.4 529h.75v.75h-.75zM80.4 515h.75v.75h-.75z"/>
<path fill="#3a0950" fill-opacity=".6" d="M79.5 517.5h.75v.75h-.75zM78.6 512.6h.75v.75h-.75zM80.3 507.2h.75v.75h-.75zM77.6 531.2h.75v.75h-.75zM76.1 533h.75v.75h-.75zM82.3 529h.75v.75h-.75zM75.8 531.7h.75v.75h-.75zM80.9 528.9h.75v.75h-.75zM78.8 530.4h.75v.75h-.75zM71.2 523.7h.75v.75h-.75zM78.1 513h.75v.75h-.75zM72.8 522.9h.75v.75h-.75zM81.3 530.9h.75v.75h-.75zM81.5 509.9h.75v.75h-.75zM81.4 505.2h.75v.75h-.75zM71.9 528.5h.75v.75h-.75zM84.4 528.6h.75v.75h-.75zM77.3 525.7h.75v.75h-.75zM74.4 521.6h.75v.75h-.75zM71.8 520.4h.75v.75h-.75zM76 507.8h.75v.75h-.75zM83.8 529.8h.75v.75h-.75zM70.6 519.4h.75v.75h-.75zM76.8 534.8h.75v.75h-.75zM76.3 528.6h.75v.75h-.75zM83.2 505.3h.75v.75h-.75zM80.1 532.9h.75v.75h-.75zM85.4 533.9h.75v.75h-.75zM77.2 525.7h.75v.75h-.75zM76.8 522.7h.75v.75h-.75zM78 503.9h.75v.75h-.75zM77.5 508h.75v.75h-.75zM77.2 519.8h.75v.75h-.75zM78.9 508.7h.75v.75h-.75zM71.4 524.6h.75v.75h-.75zM75.8 515.8h.75v.75h-.75zM84.1 533.1h.75v.75h-.75zM77 513.6h.75v.75h-.75zM76.3 530.7h.75v.75h-.75zM76 529.4h.75v.75h-.75zM74.7 515.6h.75v.75h-.75zM72.1 518.2h.75v.75h-.75zM80.9 530.5h.75v.75h-.75zM70.4 520.5h.75v.75h-.75zM69.4 522.4h.75v.75h-.75zM78.4 506.1h.75v.75h-.75zM80.9 508.7h.75v.75h-.75zM78.6 534.1h.75v.75h-.75zM74.5 513h.75v.75h-.75zM76.7 530.1h.75v.75h-.75zM78.2 531.3h.75v.75h-.75zM72 529.8h.75v.75h-.75zM78.9 506.3h.75v.75h-.75zM72.9 516.2h.75v.75h-.75zM75.8 519.4h.75v.75h-.75zM81.4 533.8h.75v.75h-.75zM85.8 532.9h.75v.75h-.75zM74.4 518h.75v.75h-.75zM78.1 518.2h.75v.75h-.75zM76.1 533.6h.75v.75h-.75zM74.1 523.1h.75v.75h-.75zM80.3 510.4h.75v.75h-.75zM80.8 529.3h.75v.75h-.75zM76.8 508h.75v.75h-.75zM80.4 532h.75v.75h-.75zM74.1 514.4h.75v.75h-.75zM81.4 533.9h.75v.75h-.75zM79.1 517.7h.75v.75h-.75zM84.5 528.6h.75v.75h-.75zM75.2 520h.75v.75h-.75zM80.4 533.7h.75v.75h-.75zM83.5 532h.75v.75h-.75zM81.5 507.6h.75v.75h-.75zM81.6 508.9h.75v.75h-.75zM79.2 508.1h.75v.75h-.75zM75 520.5h.75v.75h-.75zM83.5 533.9h.75v.75h-.75zM71.6 521.2h.75v.75h-.75zM79.6 517.2h.75v.75h-.75zM78.2 509.3h.75v.75h-.75z"/>
<ellipse cx="84.4" cy="531.4" rx="2.8" ry="3" fill="#45196e"/>
<path fill="#3e1a64" fill-opacity=".9" d="M82.9 525.3h.7v.7h-.7zM82 521.9h.7v.7h-.7zM83 524.9h.7v.7h-.7zM81.1 518.7h.7v.7h-.7zM81.1 519.1h.7v.7h-.7zM80.6 517.9h.7v.7h-.7zM84.2 527.9h.7v.7h-.7zM83.1 525.2h.7v.7h-.7zM81.5 521.2h.7v.7h-.7zM81 518.1h.7v.7h-.7zM81.7 520.8h.7v.7h-.7zM83.6 526h.7v.7h-.7zM83.8 527.1h.7v.7h-.7zM81.2 518.7h.7v.7h-.7zM84.1 527.6h.7v.7h-.7zM80.5 519.3h.7v.7h-.7zM80.8 516.7h.7v.7h-.7zM80.5 518.2h.7v.7h-.7zM80.3 516.4h.7v.7h-.7zM81.7 519.9h.7v.7h-.7zM83 525.3h.7v.7h-.7zM82.2 523h.7v.7h-.7zM83.6 526.5h.7v.7h-.7zM80.4 517.9h.7v.7h-.7zM82.7 526.2h.7v.7h-.7zM81 517.7h.7v.7h-.7zM81 520.7h.7v.7h-.7zM83.9 527.7h.7v.7h-.7zM83.3 526h.7v.7h-.7zM83.2 524.9h.7v.7h-.7z"/>
<path d="M109.9 503.1Q110.2 501.6 111.45 501.2Q112.7 500.8 113.85 501.5Q115 502.2 115.2 504.1Q115.4 506 114.9 507.9Q114.4 509.8 113.05 510.2Q111.7 510.6 110.75 509.6Q109.8 508.6 109.7 506.6Q109.6 504.6 109.9 503.1Z" fill="#41a27e" stroke="#41a27e" stroke-width=".6"/>
<path fill="#8bd15a" fill-opacity=".8" d="M110.9 506.7h.8v.8h-.8zM114.2 505.9h.8v.8h-.8zM110.1 508.6h.8v.8h-.8zM113.6 509.7h.8v.8h-.8zM110.8 502h.8v.8h-.8zM114.3 506h.8v.8h-.8zM113.4 505.2h.8v.8h-.8zM114.1 509.7h.8v.8h-.8zM111.1 503.8h.8v.8h-.8zM114.1 507.4h.8v.8h-.8zM110.9 507.6h.8v.8h-.8zM112.5 503.1h.8v.8h-.8zM110.8 504.9h.8v.8h-.8zM111.1 502.8h.8v.8h-.8zM114.7 502.7h.8v.8h-.8zM110 505.3h.8v.8h-.8zM112.5 502.6h.8v.8h-.8zM112.4 506.3h.8v.8h-.8zM110.2 506.8h.8v.8h-.8zM110.1 505.4h.8v.8h-.8zM112.1 506.3h.8v.8h-.8zM111.7 502.7h.8v.8h-.8zM111.1 506.4h.8v.8h-.8zM111.1 509.2h.8v.8h-.8zM110.9 509.1h.8v.8h-.8z"/>
<path d="M107 506.8L110 505.4L110.4 509.2L107.8 508.4Z" fill="#41a27e"/>
<path d="M89.7 541.3Q89.8 540 91 539.1Q92.2 538.2 93.95 537.9Q95.7 537.6 97.35 537.8Q99 538 100 539.25Q101 540.5 100.9 542.35Q100.8 544.2 99.6 545.7Q98.4 547.2 96.4 547.4Q94.4 547.6 92.9 546.6Q91.4 545.6 90.5 544.1Q89.6 542.6 89.7 541.3Z" fill="#3d3478" stroke="#3d3478" stroke-width=".6"/>
<path fill="#4a4a8c" fill-opacity=".8" d="M96.9 538.5h.8v.8h-.8zM100.3 541.2h.8v.8h-.8zM91.6 539.2h.8v.8h-.8zM93.6 542.8h.8v.8h-.8zM95.7 544h.8v.8h-.8zM99 538.8h.8v.8h-.8zM98 539.6h.8v.8h-.8zM95.9 540.8h.8v.8h-.8zM91.8 543.6h.8v.8h-.8zM95.3 538.9h.8v.8h-.8zM94.6 545.3h.8v.8h-.8zM90.9 544.4h.8v.8h-.8zM99.2 540h.8v.8h-.8zM96.6 543h.8v.8h-.8zM92.4 546.2h.8v.8h-.8zM96.2 542h.8v.8h-.8zM93.3 543.3h.8v.8h-.8zM97 541.7h.8v.8h-.8zM96.5 543.9h.8v.8h-.8zM96 545.1h.8v.8h-.8zM96.1 545.4h.8v.8h-.8zM98.5 543.3h.8v.8h-.8zM92.1 540.1h.8v.8h-.8zM95.9 542.7h.8v.8h-.8zM92.4 544.3h.8v.8h-.8zM96.7 537.8h.8v.8h-.8zM95.9 541.3h.8v.8h-.8zM91.2 544.1h.8v.8h-.8zM97.9 542.6h.8v.8h-.8zM95.5 541.5h.8v.8h-.8zM94.3 541.2h.8v.8h-.8zM99 540.1h.8v.8h-.8zM96.4 540.4h.8v.8h-.8zM99.3 544.8h.8v.8h-.8zM97 544.1h.8v.8h-.8zM93.6 541.8h.8v.8h-.8zM96.4 545.8h.8v.8h-.8zM98.6 540.9h.8v.8h-.8zM99 539.7h.8v.8h-.8zM96.8 537.9h.8v.8h-.8zM94.8 539.4h.8v.8h-.8zM90.6 542.1h.8v.8h-.8zM90.9 540.9h.8v.8h-.8zM97 542h.8v.8h-.8zM94.1 538.1h.8v.8h-.8zM97.3 537.9h.8v.8h-.8zM95.5 544.4h.8v.8h-.8zM94.1 541.8h.8v.8h-.8zM91.9 545.5h.8v.8h-.8zM99.3 546.1h.8v.8h-.8z"/>
<path d="M84.8 540.6Q87.2 541 90.2 542" fill="none" stroke="#3d3478" stroke-width="1.1"/>
<circle cx="84.8" cy="540.6" r="1" fill="#3d3478"/>
<path d="M128.65 504.7Q128.9 503.4 130.65 503.7Q132.4 504 134.5 504.8Q136.6 505.6 135.85 506.95Q135.1 508.3 134.5 510.3Q133.9 512.3 133.4 514.5Q132.9 516.7 132.35 517.75Q131.8 518.8 131.3 520.25Q130.8 521.7 130.4 523.25Q130 524.8 130.3 526.05Q130.6 527.3 131.5 527.85Q132.4 528.4 134.85 528.35Q137.3 528.3 138.5 529.25Q139.7 530.2 139.65 531.9Q139.6 533.6 138.15 534.25Q136.7 534.9 134.8 534.6Q132.9 534.3 131.35 534.9Q129.8 535.5 128.8 534.9Q127.8 534.3 126.25 532.35Q124.7 530.4 123.4 527.6Q122.1 524.8 121.95 522.9Q121.8 521 122.5 519.4Q123.2 517.8 124.65 515.6Q126.1 513.4 127.15 511.6Q128.2 509.8 128.3 507.9Q128.4 506 128.65 504.7Z" fill="url(#dg1)" stroke="url(#dg1)" stroke-width=".8"/>
<path fill="#511f7c" fill-opacity=".7" d="M138 532.9h.75v.75h-.75zM129.3 520.5h.75v.75h-.75zM134.4 507h.75v.75h-.75zM123.8 524.6h.75v.75h-.75zM131.9 514.4h.75v.75h-.75zM124.2 527h.75v.75h-.75zM127.1 529.1h.75v.75h-.75zM129.5 523.8h.75v.75h-.75zM130.9 529.3h.75v.75h-.75zM129.5 532.6h.75v.75h-.75zM129.7 510.5h.75v.75h-.75zM127.7 529.1h.75v.75h-.75zM130.5 515.5h.75v.75h-.75zM135.7 531.8h.75v.75h-.75zM133.2 511.6h.75v.75h-.75zM127.9 531.6h.75v.75h-.75zM129.3 505.5h.75v.75h-.75zM128.4 521.6h.75v.75h-.75zM129.7 509h.75v.75h-.75zM135.8 530.2h.75v.75h-.75zM129.8 527.4h.75v.75h-.75zM132.4 528.7h.75v.75h-.75zM122.9 523.7h.75v.75h-.75zM127.9 519.4h.75v.75h-.75zM124.4 525.7h.75v.75h-.75zM124.7 528.8h.75v.75h-.75zM130 530.1h.75v.75h-.75zM125.5 531h.75v.75h-.75zM129.5 533.9h.75v.75h-.75zM137.3 532.5h.75v.75h-.75zM124 517.7h.75v.75h-.75zM134.3 507.6h.75v.75h-.75zM126.2 517.6h.75v.75h-.75zM129.6 534.7h.75v.75h-.75zM130.6 518.3h.75v.75h-.75zM131.4 506.1h.75v.75h-.75zM123.9 525.5h.75v.75h-.75zM123.4 521.5h.75v.75h-.75zM126.3 532h.75v.75h-.75zM124.7 524.3h.75v.75h-.75zM134.2 531.2h.75v.75h-.75zM137.2 530.1h.75v.75h-.75zM138.7 530.5h.75v.75h-.75zM125.7 529.9h.75v.75h-.75zM134.9 532.5h.75v.75h-.75zM131.8 507h.75v.75h-.75zM137.2 531.5h.75v.75h-.75zM129 520h.75v.75h-.75zM124.3 523h.75v.75h-.75zM135.1 532.2h.75v.75h-.75zM131.7 506.2h.75v.75h-.75zM132.1 530.8h.75v.75h-.75zM124.2 526.8h.75v.75h-.75zM128.5 510.6h.75v.75h-.75zM126.4 514.9h.75v.75h-.75zM128.8 508.6h.75v.75h-.75zM134.2 532.6h.75v.75h-.75zM129.9 515.8h.75v.75h-.75zM133.3 533.8h.75v.75h-.75zM134.2 534h.75v.75h-.75zM128 517.9h.75v.75h-.75zM132.4 513.9h.75v.75h-.75zM128.6 534.3h.75v.75h-.75zM127.5 528h.75v.75h-.75zM127.6 528.4h.75v.75h-.75zM128.6 519.3h.75v.75h-.75zM124 524.2h.75v.75h-.75zM130.3 507.7h.75v.75h-.75zM139.1 532.9h.75v.75h-.75zM130.4 506.5h.75v.75h-.75zM125 523.6h.75v.75h-.75zM128.7 530.3h.75v.75h-.75zM128.8 526.7h.75v.75h-.75zM128.2 519.1h.75v.75h-.75zM136.7 530.9h.75v.75h-.75zM124.8 526.2h.75v.75h-.75zM128.4 527.3h.75v.75h-.75zM127.6 512.1h.75v.75h-.75zM131 529h.75v.75h-.75zM133 515h.75v.75h-.75z"/>
<path fill="#3c0b55" fill-opacity=".6" d="M132.1 517.5h.75v.75h-.75zM131.2 512.6h.75v.75h-.75zM132.9 507.2h.75v.75h-.75zM130.2 531.2h.75v.75h-.75zM128.7 533h.75v.75h-.75zM134.9 529h.75v.75h-.75zM128.4 531.7h.75v.75h-.75zM133.5 528.9h.75v.75h-.75zM131.4 530.4h.75v.75h-.75zM123.8 523.7h.75v.75h-.75zM130.7 513h.75v.75h-.75zM125.4 522.9h.75v.75h-.75zM133.9 530.9h.75v.75h-.75zM134.1 509.9h.75v.75h-.75zM134 505.2h.75v.75h-.75zM124.5 528.5h.75v.75h-.75zM137 528.6h.75v.75h-.75zM129.9 525.7h.75v.75h-.75zM127 521.6h.75v.75h-.75zM124.4 520.4h.75v.75h-.75zM128.6 507.8h.75v.75h-.75zM136.4 529.8h.75v.75h-.75zM123.2 519.4h.75v.75h-.75zM129.4 534.8h.75v.75h-.75zM128.9 528.6h.75v.75h-.75zM135.8 505.3h.75v.75h-.75zM132.7 532.9h.75v.75h-.75zM138 533.9h.75v.75h-.75zM129.8 525.7h.75v.75h-.75zM129.4 522.7h.75v.75h-.75zM130.6 503.9h.75v.75h-.75zM130.1 508h.75v.75h-.75zM129.8 519.8h.75v.75h-.75zM131.5 508.7h.75v.75h-.75zM124 524.6h.75v.75h-.75zM128.4 515.8h.75v.75h-.75zM136.7 533.1h.75v.75h-.75zM129.6 513.6h.75v.75h-.75zM128.9 530.7h.75v.75h-.75zM128.6 529.4h.75v.75h-.75zM127.3 515.6h.75v.75h-.75zM124.7 518.2h.75v.75h-.75zM133.5 530.5h.75v.75h-.75zM123 520.5h.75v.75h-.75zM122 522.4h.75v.75h-.75zM131 506.1h.75v.75h-.75zM133.5 508.7h.75v.75h-.75zM131.2 534.1h.75v.75h-.75zM127.1 513h.75v.75h-.75zM129.3 530.1h.75v.75h-.75zM130.8 531.3h.75v.75h-.75zM124.6 529.8h.75v.75h-.75zM131.5 506.3h.75v.75h-.75zM125.5 516.2h.75v.75h-.75zM128.4 519.4h.75v.75h-.75zM134 533.8h.75v.75h-.75zM138.4 532.9h.75v.75h-.75zM127 518h.75v.75h-.75zM130.7 518.2h.75v.75h-.75zM128.7 533.6h.75v.75h-.75zM126.7 523.1h.75v.75h-.75zM132.9 510.4h.75v.75h-.75zM133.4 529.3h.75v.75h-.75zM129.4 508h.75v.75h-.75zM133 532h.75v.75h-.75zM126.7 514.4h.75v.75h-.75zM134 533.9h.75v.75h-.75zM131.7 517.7h.75v.75h-.75zM137.1 528.6h.75v.75h-.75zM127.8 520h.75v.75h-.75zM133 533.7h.75v.75h-.75zM136.1 532h.75v.75h-.75zM134.1 507.6h.75v.75h-.75zM134.2 508.9h.75v.75h-.75zM131.8 508.1h.75v.75h-.75zM127.6 520.5h.75v.75h-.75zM136.1 533.9h.75v.75h-.75zM124.2 521.2h.75v.75h-.75zM132.2 517.2h.75v.75h-.75zM130.8 509.3h.75v.75h-.75z"/>
<ellipse cx="137" cy="531.4" rx="2.8" ry="3" fill="#3e3378"/>
<path fill="#3b2b70" fill-opacity=".9" d="M135.5 525.3h.7v.7h-.7zM134.6 521.9h.7v.7h-.7zM135.6 524.9h.7v.7h-.7zM133.7 518.7h.7v.7h-.7zM133.7 519.1h.7v.7h-.7zM133.2 517.9h.7v.7h-.7zM136.8 527.9h.7v.7h-.7zM135.7 525.2h.7v.7h-.7zM134.1 521.2h.7v.7h-.7zM133.6 518.1h.7v.7h-.7zM134.3 520.8h.7v.7h-.7zM136.2 526h.7v.7h-.7zM136.4 527.1h.7v.7h-.7zM133.8 518.7h.7v.7h-.7zM136.7 527.6h.7v.7h-.7zM133.1 519.3h.7v.7h-.7zM133.4 516.7h.7v.7h-.7zM133.1 518.2h.7v.7h-.7zM132.9 516.4h.7v.7h-.7zM134.3 519.9h.7v.7h-.7zM135.6 525.3h.7v.7h-.7zM134.8 523h.7v.7h-.7zM136.2 526.5h.7v.7h-.7zM133 517.9h.7v.7h-.7zM135.3 526.2h.7v.7h-.7zM133.6 517.7h.7v.7h-.7zM133.6 520.7h.7v.7h-.7zM136.5 527.7h.7v.7h-.7zM135.9 526h.7v.7h-.7zM135.8 524.9h.7v.7h-.7z"/>
<path d="M162.5 503.1Q162.8 501.6 164.05 501.2Q165.3 500.8 166.45 501.5Q167.6 502.2 167.8 504.1Q168 506 167.5 507.9Q167 509.8 165.65 510.2Q164.3 510.6 163.35 509.6Q162.4 508.6 162.3 506.6Q162.2 504.6 162.5 503.1Z" fill="#373a7e" stroke="#373a7e" stroke-width=".6"/>
<path fill="#4a4f92" fill-opacity=".8" d="M163.5 506.7h.8v.8h-.8zM166.8 505.9h.8v.8h-.8zM162.7 508.6h.8v.8h-.8zM166.2 509.7h.8v.8h-.8zM163.4 502h.8v.8h-.8zM166.9 506h.8v.8h-.8zM166 505.2h.8v.8h-.8zM166.7 509.7h.8v.8h-.8zM163.7 503.8h.8v.8h-.8zM166.7 507.4h.8v.8h-.8zM163.5 507.6h.8v.8h-.8zM165.1 503.1h.8v.8h-.8zM163.4 504.9h.8v.8h-.8zM163.7 502.8h.8v.8h-.8zM167.3 502.7h.8v.8h-.8zM162.6 505.3h.8v.8h-.8zM165.1 502.6h.8v.8h-.8zM165 506.3h.8v.8h-.8zM162.8 506.8h.8v.8h-.8zM162.7 505.4h.8v.8h-.8zM164.7 506.3h.8v.8h-.8zM164.3 502.7h.8v.8h-.8zM163.7 506.4h.8v.8h-.8zM163.7 509.2h.8v.8h-.8zM163.5 509.1h.8v.8h-.8z"/>
<path d="M159.6 506.8L162.6 505.4L163 509.2L160.4 508.4Z" fill="#373a7e"/>
<path d="M142.3 541.3Q142.4 540 143.6 539.1Q144.8 538.2 146.55 537.9Q148.3 537.6 149.95 537.8Q151.6 538 152.6 539.25Q153.6 540.5 153.5 542.35Q153.4 544.2 152.2 545.7Q151 547.2 149 547.4Q147 547.6 145.5 546.6Q144 545.6 143.1 544.1Q142.2 542.6 142.3 541.3Z" fill="#372c70" stroke="#372c70" stroke-width=".6"/>
<path fill="#454486" fill-opacity=".8" d="M149.5 538.5h.8v.8h-.8zM152.9 541.2h.8v.8h-.8zM144.2 539.2h.8v.8h-.8zM146.2 542.8h.8v.8h-.8zM148.3 544h.8v.8h-.8zM151.6 538.8h.8v.8h-.8zM150.6 539.6h.8v.8h-.8zM148.5 540.8h.8v.8h-.8zM144.4 543.6h.8v.8h-.8zM147.9 538.9h.8v.8h-.8zM147.2 545.3h.8v.8h-.8zM143.5 544.4h.8v.8h-.8zM151.8 540h.8v.8h-.8zM149.2 543h.8v.8h-.8zM145 546.2h.8v.8h-.8zM148.8 542h.8v.8h-.8zM145.9 543.3h.8v.8h-.8zM149.6 541.7h.8v.8h-.8zM149.1 543.9h.8v.8h-.8zM148.6 545.1h.8v.8h-.8zM148.7 545.4h.8v.8h-.8zM151.1 543.3h.8v.8h-.8zM144.7 540.1h.8v.8h-.8zM148.5 542.7h.8v.8h-.8zM145 544.3h.8v.8h-.8zM149.3 537.8h.8v.8h-.8zM148.5 541.3h.8v.8h-.8zM143.8 544.1h.8v.8h-.8zM150.5 542.6h.8v.8h-.8zM148.1 541.5h.8v.8h-.8zM146.9 541.2h.8v.8h-.8zM151.6 540.1h.8v.8h-.8zM149 540.4h.8v.8h-.8zM151.9 544.8h.8v.8h-.8zM149.6 544.1h.8v.8h-.8zM146.2 541.8h.8v.8h-.8zM149 545.8h.8v.8h-.8zM151.2 540.9h.8v.8h-.8zM151.6 539.7h.8v.8h-.8zM149.4 537.9h.8v.8h-.8zM147.4 539.4h.8v.8h-.8zM143.2 542.1h.8v.8h-.8zM143.5 540.9h.8v.8h-.8zM149.6 542h.8v.8h-.8zM146.7 538.1h.8v.8h-.8zM149.9 537.9h.8v.8h-.8zM148.1 544.4h.8v.8h-.8zM146.7 541.8h.8v.8h-.8zM144.5 545.5h.8v.8h-.8zM151.9 546.1h.8v.8h-.8z"/>
<path d="M137.4 540.6Q139.8 541 142.8 542" fill="none" stroke="#372c70" stroke-width="1.1"/>
<circle cx="137.4" cy="540.6" r="1" fill="#372c70"/>
<path d="M180.55 504.7Q180.8 503.4 182.55 503.7Q184.3 504 186.4 504.8Q188.5 505.6 187.75 506.95Q187 508.3 186.4 510.3Q185.8 512.3 185.3 514.5Q184.8 516.7 184.25 517.75Q183.7 518.8 183.2 520.25Q182.7 521.7 182.3 523.25Q181.9 524.8 182.2 526.05Q182.5 527.3 183.4 527.85Q184.3 528.4 186.75 528.35Q189.2 528.3 190.4 529.25Q191.6 530.2 191.55 531.9Q191.5 533.6 190.05 534.25Q188.6 534.9 186.7 534.6Q184.8 534.3 183.25 534.9Q181.7 535.5 180.7 534.9Q179.7 534.3 178.15 532.35Q176.6 530.4 175.3 527.6Q174 524.8 173.85 522.9Q173.7 521 174.4 519.4Q175.1 517.8 176.55 515.6Q178 513.4 179.05 511.6Q180.1 509.8 180.2 507.9Q180.3 506 180.55 504.7Z" fill="url(#dg2)" stroke="url(#dg2)" stroke-width=".8"/>
<path fill="#3c62a0" fill-opacity=".7" d="M189.9 532.9h.75v.75h-.75zM181.2 520.5h.75v.75h-.75zM186.3 507h.75v.75h-.75zM175.7 524.6h.75v.75h-.75zM183.8 514.4h.75v.75h-.75zM176.1 527h.75v.75h-.75zM179 529.1h.75v.75h-.75zM181.4 523.8h.75v.75h-.75zM182.8 529.3h.75v.75h-.75zM181.4 532.6h.75v.75h-.75zM181.6 510.5h.75v.75h-.75zM179.6 529.1h.75v.75h-.75zM182.4 515.5h.75v.75h-.75zM187.6 531.8h.75v.75h-.75zM185.1 511.6h.75v.75h-.75zM179.8 531.6h.75v.75h-.75zM181.2 505.5h.75v.75h-.75zM180.3 521.6h.75v.75h-.75zM181.6 509h.75v.75h-.75zM187.7 530.2h.75v.75h-.75zM181.7 527.4h.75v.75h-.75zM184.3 528.7h.75v.75h-.75zM174.8 523.7h.75v.75h-.75zM179.8 519.4h.75v.75h-.75zM176.3 525.7h.75v.75h-.75zM176.6 528.8h.75v.75h-.75zM181.9 530.1h.75v.75h-.75zM177.4 531h.75v.75h-.75zM181.4 533.9h.75v.75h-.75zM189.2 532.5h.75v.75h-.75zM175.9 517.7h.75v.75h-.75zM186.2 507.6h.75v.75h-.75zM178.1 517.6h.75v.75h-.75zM181.5 534.7h.75v.75h-.75zM182.5 518.3h.75v.75h-.75zM183.3 506.1h.75v.75h-.75zM175.8 525.5h.75v.75h-.75zM175.3 521.5h.75v.75h-.75zM178.2 532h.75v.75h-.75zM176.6 524.3h.75v.75h-.75zM186.1 531.2h.75v.75h-.75zM189.1 530.1h.75v.75h-.75zM190.6 530.5h.75v.75h-.75zM177.6 529.9h.75v.75h-.75zM186.8 532.5h.75v.75h-.75zM183.7 507h.75v.75h-.75zM189.1 531.5h.75v.75h-.75zM180.9 520h.75v.75h-.75zM176.2 523h.75v.75h-.75zM187 532.2h.75v.75h-.75zM183.6 506.2h.75v.75h-.75zM184 530.8h.75v.75h-.75zM176.1 526.8h.75v.75h-.75zM180.4 510.6h.75v.75h-.75zM178.3 514.9h.75v.75h-.75zM180.7 508.6h.75v.75h-.75zM186.1 532.6h.75v.75h-.75zM181.8 515.8h.75v.75h-.75zM185.2 533.8h.75v.75h-.75zM186.1 534h.75v.75h-.75zM179.9 517.9h.75v.75h-.75zM184.3 513.9h.75v.75h-.75zM180.5 534.3h.75v.75h-.75zM179.4 528h.75v.75h-.75zM179.5 528.4h.75v.75h-.75zM180.5 519.3h.75v.75h-.75zM175.9 524.2h.75v.75h-.75zM182.2 507.7h.75v.75h-.75zM191 532.9h.75v.75h-.75zM182.3 506.5h.75v.75h-.75zM176.9 523.6h.75v.75h-.75zM180.6 530.3h.75v.75h-.75zM180.7 526.7h.75v.75h-.75zM180.1 519.1h.75v.75h-.75zM188.6 530.9h.75v.75h-.75zM176.7 526.2h.75v.75h-.75zM180.3 527.3h.75v.75h-.75zM179.5 512.1h.75v.75h-.75zM182.9 529h.75v.75h-.75zM184.9 515h.75v.75h-.75z"/>
<path fill="#2c4a80" fill-opacity=".6" d="M184 517.5h.75v.75h-.75zM183.1 512.6h.75v.75h-.75zM184.8 507.2h.75v.75h-.75zM182.1 531.2h.75v.75h-.75zM180.6 533h.75v.75h-.75zM186.8 529h.75v.75h-.75zM180.3 531.7h.75v.75h-.75zM185.4 528.9h.75v.75h-.75zM183.3 530.4h.75v.75h-.75zM175.7 523.7h.75v.75h-.75zM182.6 513h.75v.75h-.75zM177.3 522.9h.75v.75h-.75zM185.8 530.9h.75v.75h-.75zM186 509.9h.75v.75h-.75zM185.9 505.2h.75v.75h-.75zM176.4 528.5h.75v.75h-.75zM188.9 528.6h.75v.75h-.75zM181.8 525.7h.75v.75h-.75zM178.9 521.6h.75v.75h-.75zM176.3 520.4h.75v.75h-.75zM180.5 507.8h.75v.75h-.75zM188.3 529.8h.75v.75h-.75zM175.1 519.4h.75v.75h-.75zM181.3 534.8h.75v.75h-.75zM180.8 528.6h.75v.75h-.75zM187.7 505.3h.75v.75h-.75zM184.6 532.9h.75v.75h-.75zM189.9 533.9h.75v.75h-.75zM181.7 525.7h.75v.75h-.75zM181.3 522.7h.75v.75h-.75zM182.5 503.9h.75v.75h-.75zM182 508h.75v.75h-.75zM181.7 519.8h.75v.75h-.75zM183.4 508.7h.75v.75h-.75zM175.9 524.6h.75v.75h-.75zM180.3 515.8h.75v.75h-.75zM188.6 533.1h.75v.75h-.75zM181.5 513.6h.75v.75h-.75zM180.8 530.7h.75v.75h-.75zM180.5 529.4h.75v.75h-.75zM179.2 515.6h.75v.75h-.75zM176.6 518.2h.75v.75h-.75zM185.4 530.5h.75v.75h-.75zM174.9 520.5h.75v.75h-.75zM173.9 522.4h.75v.75h-.75zM182.9 506.1h.75v.75h-.75zM185.4 508.7h.75v.75h-.75zM183.1 534.1h.75v.75h-.75zM179 513h.75v.75h-.75zM181.2 530.1h.75v.75h-.75zM182.7 531.3h.75v.75h-.75zM176.5 529.8h.75v.75h-.75zM183.4 506.3h.75v.75h-.75zM177.4 516.2h.75v.75h-.75zM180.3 519.4h.75v.75h-.75zM185.9 533.8h.75v.75h-.75zM190.3 532.9h.75v.75h-.75zM178.9 518h.75v.75h-.75zM182.6 518.2h.75v.75h-.75zM180.6 533.6h.75v.75h-.75zM178.6 523.1h.75v.75h-.75zM184.8 510.4h.75v.75h-.75zM185.3 529.3h.75v.75h-.75zM181.3 508h.75v.75h-.75zM184.9 532h.75v.75h-.75zM178.6 514.4h.75v.75h-.75zM185.9 533.9h.75v.75h-.75zM183.6 517.7h.75v.75h-.75zM189 528.6h.75v.75h-.75zM179.7 520h.75v.75h-.75zM184.9 533.7h.75v.75h-.75zM188 532h.75v.75h-.75zM186 507.6h.75v.75h-.75zM186.1 508.9h.75v.75h-.75zM183.7 508.1h.75v.75h-.75zM179.5 520.5h.75v.75h-.75zM188 533.9h.75v.75h-.75zM176.1 521.2h.75v.75h-.75zM184.1 517.2h.75v.75h-.75zM182.7 509.3h.75v.75h-.75z"/>
<ellipse cx="188.9" cy="531.4" rx="2.8" ry="3" fill="#3d3a80"/>
<path fill="#3a3a80" fill-opacity=".9" d="M187.4 525.3h.7v.7h-.7zM186.5 521.9h.7v.7h-.7zM187.5 524.9h.7v.7h-.7zM185.6 518.7h.7v.7h-.7zM185.6 519.1h.7v.7h-.7zM185.1 517.9h.7v.7h-.7zM188.7 527.9h.7v.7h-.7zM187.6 525.2h.7v.7h-.7zM186 521.2h.7v.7h-.7zM185.5 518.1h.7v.7h-.7zM186.2 520.8h.7v.7h-.7zM188.1 526h.7v.7h-.7zM188.3 527.1h.7v.7h-.7zM185.7 518.7h.7v.7h-.7zM188.6 527.6h.7v.7h-.7zM185 519.3h.7v.7h-.7zM185.3 516.7h.7v.7h-.7zM185 518.2h.7v.7h-.7zM184.8 516.4h.7v.7h-.7zM186.2 519.9h.7v.7h-.7zM187.5 525.3h.7v.7h-.7zM186.7 523h.7v.7h-.7zM188.1 526.5h.7v.7h-.7zM184.9 517.9h.7v.7h-.7zM187.2 526.2h.7v.7h-.7zM185.5 517.7h.7v.7h-.7zM185.5 520.7h.7v.7h-.7zM188.4 527.7h.7v.7h-.7zM187.8 526h.7v.7h-.7zM187.7 524.9h.7v.7h-.7z"/>
<path d="M214.4 503.1Q214.7 501.6 215.95 501.2Q217.2 500.8 218.35 501.5Q219.5 502.2 219.7 504.1Q219.9 506 219.4 507.9Q218.9 509.8 217.55 510.2Q216.2 510.6 215.25 509.6Q214.3 508.6 214.2 506.6Q214.1 504.6 214.4 503.1Z" fill="#4fba6e" stroke="#4fba6e" stroke-width=".6"/>
<path fill="#93d45a" fill-opacity=".8" d="M215.4 506.7h.8v.8h-.8zM218.7 505.9h.8v.8h-.8zM214.6 508.6h.8v.8h-.8zM218.1 509.7h.8v.8h-.8zM215.3 502h.8v.8h-.8zM218.8 506h.8v.8h-.8zM217.9 505.2h.8v.8h-.8zM218.6 509.7h.8v.8h-.8zM215.6 503.8h.8v.8h-.8zM218.6 507.4h.8v.8h-.8zM215.4 507.6h.8v.8h-.8zM217 503.1h.8v.8h-.8zM215.3 504.9h.8v.8h-.8zM215.6 502.8h.8v.8h-.8zM219.2 502.7h.8v.8h-.8zM214.5 505.3h.8v.8h-.8zM217 502.6h.8v.8h-.8zM216.9 506.3h.8v.8h-.8zM214.7 506.8h.8v.8h-.8zM214.6 505.4h.8v.8h-.8zM216.6 506.3h.8v.8h-.8zM216.2 502.7h.8v.8h-.8zM215.6 506.4h.8v.8h-.8zM215.6 509.2h.8v.8h-.8zM215.4 509.1h.8v.8h-.8z"/>
<path d="M211.5 506.8L214.5 505.4L214.9 509.2L212.3 508.4Z" fill="#4fba6e"/>
<path d="M194.2 541.3Q194.3 540 195.5 539.1Q196.7 538.2 198.45 537.9Q200.2 537.6 201.85 537.8Q203.5 538 204.5 539.25Q205.5 540.5 205.4 542.35Q205.3 544.2 204.1 545.7Q202.9 547.2 200.9 547.4Q198.9 547.6 197.4 546.6Q195.9 545.6 195 544.1Q194.1 542.6 194.2 541.3Z" fill="#2e2e6a" stroke="#2e2e6a" stroke-width=".6"/>
<path fill="#3f4488" fill-opacity=".8" d="M201.4 538.5h.8v.8h-.8zM204.8 541.2h.8v.8h-.8zM196.1 539.2h.8v.8h-.8zM198.1 542.8h.8v.8h-.8zM200.2 544h.8v.8h-.8zM203.5 538.8h.8v.8h-.8zM202.5 539.6h.8v.8h-.8zM200.4 540.8h.8v.8h-.8zM196.3 543.6h.8v.8h-.8zM199.8 538.9h.8v.8h-.8zM199.1 545.3h.8v.8h-.8zM195.4 544.4h.8v.8h-.8zM203.7 540h.8v.8h-.8zM201.1 543h.8v.8h-.8zM196.9 546.2h.8v.8h-.8zM200.7 542h.8v.8h-.8zM197.8 543.3h.8v.8h-.8zM201.5 541.7h.8v.8h-.8zM201 543.9h.8v.8h-.8zM200.5 545.1h.8v.8h-.8zM200.6 545.4h.8v.8h-.8zM203 543.3h.8v.8h-.8zM196.6 540.1h.8v.8h-.8zM200.4 542.7h.8v.8h-.8zM196.9 544.3h.8v.8h-.8zM201.2 537.8h.8v.8h-.8zM200.4 541.3h.8v.8h-.8zM195.7 544.1h.8v.8h-.8zM202.4 542.6h.8v.8h-.8zM200 541.5h.8v.8h-.8zM198.8 541.2h.8v.8h-.8zM203.5 540.1h.8v.8h-.8zM200.9 540.4h.8v.8h-.8zM203.8 544.8h.8v.8h-.8zM201.5 544.1h.8v.8h-.8zM198.1 541.8h.8v.8h-.8zM200.9 545.8h.8v.8h-.8zM203.1 540.9h.8v.8h-.8zM203.5 539.7h.8v.8h-.8zM201.3 537.9h.8v.8h-.8zM199.3 539.4h.8v.8h-.8zM195.1 542.1h.8v.8h-.8zM195.4 540.9h.8v.8h-.8zM201.5 542h.8v.8h-.8zM198.6 538.1h.8v.8h-.8zM201.8 537.9h.8v.8h-.8zM200 544.4h.8v.8h-.8zM198.6 541.8h.8v.8h-.8zM196.4 545.5h.8v.8h-.8zM203.8 546.1h.8v.8h-.8z"/>
<path d="M189.3 540.6Q191.7 541 194.7 542" fill="none" stroke="#2e2e6a" stroke-width="1.1"/>
<circle cx="189.3" cy="540.6" r="1" fill="#2e2e6a"/>
<path d="M76.05 571.1Q76.3 569.8 78.05 570.1Q79.8 570.4 81.9 571.2Q84 572 83.25 573.35Q82.5 574.7 81.9 576.7Q81.3 578.7 80.8 580.9Q80.3 583.1 79.75 584.15Q79.2 585.2 78.7 586.65Q78.2 588.1 77.8 589.65Q77.4 591.2 77.7 592.45Q78 593.7 78.9 594.25Q79.8 594.8 82.25 594.75Q84.7 594.7 85.9 595.65Q87.1 596.6 87.05 598.3Q87 600 85.55 600.65Q84.1 601.3 82.2 601Q80.3 600.7 78.75 601.3Q77.2 601.9 76.2 601.3Q75.2 600.7 73.65 598.75Q72.1 596.8 70.8 594Q69.5 591.2 69.35 589.3Q69.2 587.4 69.9 585.8Q70.6 584.2 72.05 582Q73.5 579.8 74.55 578Q75.6 576.2 75.7 574.3Q75.8 572.4 76.05 571.1Z" fill="url(#dg3)" stroke="url(#dg3)" stroke-width=".8"/>
<path fill="#3fa390" fill-opacity=".7" d="M85.4 599.3h.75v.75h-.75zM76.7 586.9h.75v.75h-.75zM81.8 573.4h.75v.75h-.75zM71.2 591h.75v.75h-.75zM79.3 580.8h.75v.75h-.75zM71.6 593.4h.75v.75h-.75zM74.5 595.5h.75v.75h-.75zM76.9 590.2h.75v.75h-.75zM78.3 595.7h.75v.75h-.75zM76.9 599h.75v.75h-.75zM77.1 576.9h.75v.75h-.75zM75.1 595.5h.75v.75h-.75zM77.9 581.9h.75v.75h-.75zM83.1 598.2h.75v.75h-.75zM80.6 578h.75v.75h-.75zM75.3 598h.75v.75h-.75zM76.7 571.9h.75v.75h-.75zM75.8 588h.75v.75h-.75zM77.1 575.4h.75v.75h-.75zM83.2 596.6h.75v.75h-.75zM77.2 593.8h.75v.75h-.75zM79.8 595.1h.75v.75h-.75zM70.3 590.1h.75v.75h-.75zM75.3 585.8h.75v.75h-.75zM71.8 592.1h.75v.75h-.75zM72.1 595.2h.75v.75h-.75zM77.4 596.5h.75v.75h-.75zM72.9 597.4h.75v.75h-.75zM76.9 600.3h.75v.75h-.75zM84.7 598.9h.75v.75h-.75zM71.4 584.1h.75v.75h-.75zM81.7 574h.75v.75h-.75zM73.6 584h.75v.75h-.75zM77 601.1h.75v.75h-.75zM78 584.7h.75v.75h-.75zM78.8 572.5h.75v.75h-.75zM71.3 591.9h.75v.75h-.75zM70.8 587.9h.75v.75h-.75zM73.7 598.4h.75v.75h-.75zM72.1 590.7h.75v.75h-.75zM81.6 597.6h.75v.75h-.75zM84.6 596.5h.75v.75h-.75zM86.1 596.9h.75v.75h-.75zM73.1 596.3h.75v.75h-.75zM82.3 598.9h.75v.75h-.75zM79.2 573.4h.75v.75h-.75zM84.6 597.9h.75v.75h-.75zM76.4 586.4h.75v.75h-.75zM71.7 589.4h.75v.75h-.75zM82.5 598.6h.75v.75h-.75zM79.1 572.6h.75v.75h-.75zM79.5 597.2h.75v.75h-.75zM71.6 593.2h.75v.75h-.75zM75.9 577h.75v.75h-.75zM73.8 581.3h.75v.75h-.75zM76.2 575h.75v.75h-.75zM81.6 599h.75v.75h-.75zM77.3 582.2h.75v.75h-.75zM80.7 600.2h.75v.75h-.75zM81.6 600.4h.75v.75h-.75zM75.4 584.3h.75v.75h-.75zM79.8 580.3h.75v.75h-.75zM76 600.7h.75v.75h-.75zM74.9 594.4h.75v.75h-.75zM75 594.8h.75v.75h-.75zM76 585.7h.75v.75h-.75zM71.4 590.6h.75v.75h-.75zM77.7 574.1h.75v.75h-.75zM86.5 599.3h.75v.75h-.75zM77.8 572.9h.75v.75h-.75zM72.4 590h.75v.75h-.75zM76.1 596.7h.75v.75h-.75zM76.2 593.1h.75v.75h-.75zM75.6 585.5h.75v.75h-.75zM84.1 597.3h.75v.75h-.75zM72.2 592.6h.75v.75h-.75zM75.8 593.7h.75v.75h-.75zM75 578.5h.75v.75h-.75zM78.4 595.4h.75v.75h-.75zM80.4 581.4h.75v.75h-.75z"/>
<path fill="#1f6f84" fill-opacity=".6" d="M79.5 583.9h.75v.75h-.75zM78.6 579h.75v.75h-.75zM80.3 573.6h.75v.75h-.75zM77.6 597.6h.75v.75h-.75zM76.1 599.4h.75v.75h-.75zM82.3 595.4h.75v.75h-.75zM75.8 598.1h.75v.75h-.75zM80.9 595.3h.75v.75h-.75zM78.8 596.8h.75v.75h-.75zM71.2 590.1h.75v.75h-.75zM78.1 579.4h.75v.75h-.75zM72.8 589.3h.75v.75h-.75zM81.3 597.3h.75v.75h-.75zM81.5 576.3h.75v.75h-.75zM81.4 571.6h.75v.75h-.75zM71.9 594.9h.75v.75h-.75zM84.4 595h.75v.75h-.75zM77.3 592.1h.75v.75h-.75zM74.4 588h.75v.75h-.75zM71.8 586.8h.75v.75h-.75zM76 574.2h.75v.75h-.75zM83.8 596.2h.75v.75h-.75zM70.6 585.8h.75v.75h-.75zM76.8 601.2h.75v.75h-.75zM76.3 595h.75v.75h-.75zM83.2 571.7h.75v.75h-.75zM80.1 599.3h.75v.75h-.75zM85.4 600.3h.75v.75h-.75zM77.2 592.1h.75v.75h-.75zM76.8 589.1h.75v.75h-.75zM78 570.3h.75v.75h-.75zM77.5 574.4h.75v.75h-.75zM77.2 586.2h.75v.75h-.75zM78.9 575.1h.75v.75h-.75zM71.4 591h.75v.75h-.75zM75.8 582.2h.75v.75h-.75zM84.1 599.5h.75v.75h-.75zM77 580h.75v.75h-.75zM76.3 597.1h.75v.75h-.75zM76 595.8h.75v.75h-.75zM74.7 582h.75v.75h-.75zM72.1 584.6h.75v.75h-.75zM80.9 596.9h.75v.75h-.75zM70.4 586.9h.75v.75h-.75zM69.4 588.8h.75v.75h-.75zM78.4 572.5h.75v.75h-.75zM80.9 575.1h.75v.75h-.75zM78.6 600.5h.75v.75h-.75zM74.5 579.4h.75v.75h-.75zM76.7 596.5h.75v.75h-.75zM78.2 597.7h.75v.75h-.75zM72 596.2h.75v.75h-.75zM78.9 572.7h.75v.75h-.75zM72.9 582.6h.75v.75h-.75zM75.8 585.8h.75v.75h-.75zM81.4 600.2h.75v.75h-.75zM85.8 599.3h.75v.75h-.75zM74.4 584.4h.75v.75h-.75zM78.1 584.6h.75v.75h-.75zM76.1 600h.75v.75h-.75zM74.1 589.5h.75v.75h-.75zM80.3 576.8h.75v.75h-.75zM80.8 595.7h.75v.75h-.75zM76.8 574.4h.75v.75h-.75zM80.4 598.4h.75v.75h-.75zM74.1 580.8h.75v.75h-.75zM81.4 600.3h.75v.75h-.75zM79.1 584.1h.75v.75h-.75zM84.5 595h.75v.75h-.75zM75.2 586.4h.75v.75h-.75zM80.4 600.1h.75v.75h-.75zM83.5 598.4h.75v.75h-.75zM81.5 574h.75v.75h-.75zM81.6 575.3h.75v.75h-.75zM79.2 574.5h.75v.75h-.75zM75 586.9h.75v.75h-.75zM83.5 600.3h.75v.75h-.75zM71.6 587.6h.75v.75h-.75zM79.6 583.6h.75v.75h-.75zM78.2 575.7h.75v.75h-.75z"/>
<ellipse cx="84.4" cy="597.8" rx="2.8" ry="3" fill="#24878c"/>
<path fill="#2a6c88" fill-opacity=".9" d="M82.9 591.7h.7v.7h-.7zM82 588.3h.7v.7h-.7zM83 591.3h.7v.7h-.7zM81.1 585.1h.7v.7h-.7zM81.1 585.5h.7v.7h-.7zM80.6 584.3h.7v.7h-.7zM84.2 594.3h.7v.7h-.7zM83.1 591.6h.7v.7h-.7zM81.5 587.6h.7v.7h-.7zM81 584.5h.7v.7h-.7zM81.7 587.2h.7v.7h-.7zM83.6 592.4h.7v.7h-.7zM83.8 593.5h.7v.7h-.7zM81.2 585.1h.7v.7h-.7zM84.1 594h.7v.7h-.7zM80.5 585.7h.7v.7h-.7zM80.8 583.1h.7v.7h-.7zM80.5 584.6h.7v.7h-.7zM80.3 582.8h.7v.7h-.7zM81.7 586.3h.7v.7h-.7zM83 591.7h.7v.7h-.7zM82.2 589.4h.7v.7h-.7zM83.6 592.9h.7v.7h-.7zM80.4 584.3h.7v.7h-.7zM82.7 592.6h.7v.7h-.7zM81 584.1h.7v.7h-.7zM81 587.1h.7v.7h-.7zM83.9 594.1h.7v.7h-.7zM83.3 592.4h.7v.7h-.7zM83.2 591.3h.7v.7h-.7z"/>
<path d="M109.9 569.5Q110.2 568 111.45 567.6Q112.7 567.2 113.85 567.9Q115 568.6 115.2 570.5Q115.4 572.4 114.9 574.3Q114.4 576.2 113.05 576.6Q111.7 577 110.75 576Q109.8 575 109.7 573Q109.6 571 109.9 569.5Z" fill="#2b2f6c" stroke="#2b2f6c" stroke-width=".6"/>
<path fill="#3a4a8a" fill-opacity=".8" d="M110.9 573.1h.8v.8h-.8zM114.2 572.3h.8v.8h-.8zM110.1 575h.8v.8h-.8zM113.6 576.1h.8v.8h-.8zM110.8 568.4h.8v.8h-.8zM114.3 572.4h.8v.8h-.8zM113.4 571.6h.8v.8h-.8zM114.1 576.1h.8v.8h-.8zM111.1 570.2h.8v.8h-.8zM114.1 573.8h.8v.8h-.8zM110.9 574h.8v.8h-.8zM112.5 569.5h.8v.8h-.8zM110.8 571.3h.8v.8h-.8zM111.1 569.2h.8v.8h-.8zM114.7 569.1h.8v.8h-.8zM110 571.7h.8v.8h-.8zM112.5 569h.8v.8h-.8zM112.4 572.7h.8v.8h-.8zM110.2 573.2h.8v.8h-.8zM110.1 571.8h.8v.8h-.8zM112.1 572.7h.8v.8h-.8zM111.7 569.1h.8v.8h-.8zM111.1 572.8h.8v.8h-.8zM111.1 575.6h.8v.8h-.8zM110.9 575.5h.8v.8h-.8z"/>
<path d="M107 573.2L110 571.8L110.4 575.6L107.8 574.8Z" fill="#2b2f6c"/>
<path d="M89.7 607.7Q89.8 606.4 91 605.5Q92.2 604.6 93.95 604.3Q95.7 604 97.35 604.2Q99 604.4 100 605.65Q101 606.9 100.9 608.75Q100.8 610.6 99.6 612.1Q98.4 613.6 96.4 613.8Q94.4 614 92.9 613Q91.4 612 90.5 610.5Q89.6 609 89.7 607.7Z" fill="#6cc35f" stroke="#6cc35f" stroke-width=".6"/>
<path fill="#9ad64a" fill-opacity=".8" d="M96.9 604.9h.8v.8h-.8zM100.3 607.6h.8v.8h-.8zM91.6 605.6h.8v.8h-.8zM93.6 609.2h.8v.8h-.8zM95.7 610.4h.8v.8h-.8zM99 605.2h.8v.8h-.8zM98 606h.8v.8h-.8zM95.9 607.2h.8v.8h-.8zM91.8 610h.8v.8h-.8zM95.3 605.3h.8v.8h-.8zM94.6 611.7h.8v.8h-.8zM90.9 610.8h.8v.8h-.8zM99.2 606.4h.8v.8h-.8zM96.6 609.4h.8v.8h-.8zM92.4 612.6h.8v.8h-.8zM96.2 608.4h.8v.8h-.8zM93.3 609.7h.8v.8h-.8zM97 608.1h.8v.8h-.8zM96.5 610.3h.8v.8h-.8zM96 611.5h.8v.8h-.8zM96.1 611.8h.8v.8h-.8zM98.5 609.7h.8v.8h-.8zM92.1 606.5h.8v.8h-.8zM95.9 609.1h.8v.8h-.8zM92.4 610.7h.8v.8h-.8zM96.7 604.2h.8v.8h-.8zM95.9 607.7h.8v.8h-.8zM91.2 610.5h.8v.8h-.8zM97.9 609h.8v.8h-.8zM95.5 607.9h.8v.8h-.8zM94.3 607.6h.8v.8h-.8zM99 606.5h.8v.8h-.8zM96.4 606.8h.8v.8h-.8zM99.3 611.2h.8v.8h-.8zM97 610.5h.8v.8h-.8zM93.6 608.2h.8v.8h-.8zM96.4 612.2h.8v.8h-.8zM98.6 607.3h.8v.8h-.8zM99 606.1h.8v.8h-.8zM96.8 604.3h.8v.8h-.8zM94.8 605.8h.8v.8h-.8zM90.6 608.5h.8v.8h-.8zM90.9 607.3h.8v.8h-.8zM97 608.4h.8v.8h-.8zM94.1 604.5h.8v.8h-.8zM97.3 604.3h.8v.8h-.8zM95.5 610.8h.8v.8h-.8zM94.1 608.2h.8v.8h-.8zM91.9 611.9h.8v.8h-.8zM99.3 612.5h.8v.8h-.8z"/>
<path d="M84.8 607Q87.2 607.4 90.2 608.4" fill="none" stroke="#6cc35f" stroke-width="1.1"/>
<circle cx="84.8" cy="607" r="1" fill="#6cc35f"/>
<path d="M128.65 571.1Q128.9 569.8 130.65 570.1Q132.4 570.4 134.5 571.2Q136.6 572 135.85 573.35Q135.1 574.7 134.5 576.7Q133.9 578.7 133.4 580.9Q132.9 583.1 132.35 584.15Q131.8 585.2 131.3 586.65Q130.8 588.1 130.4 589.65Q130 591.2 130.3 592.45Q130.6 593.7 131.5 594.25Q132.4 594.8 134.85 594.75Q137.3 594.7 138.5 595.65Q139.7 596.6 139.65 598.3Q139.6 600 138.15 600.65Q136.7 601.3 134.8 601Q132.9 600.7 131.35 601.3Q129.8 601.9 128.8 601.3Q127.8 600.7 126.25 598.75Q124.7 596.8 123.4 594Q122.1 591.2 121.95 589.3Q121.8 587.4 122.5 585.8Q123.2 584.2 124.65 582Q126.1 579.8 127.15 578Q128.2 576.2 128.3 574.3Q128.4 572.4 128.65 571.1Z" fill="url(#dg4)" stroke="url(#dg4)" stroke-width=".8"/>
<path fill="#4ab885" fill-opacity=".7" d="M138 599.3h.75v.75h-.75zM129.3 586.9h.75v.75h-.75zM134.4 573.4h.75v.75h-.75zM123.8 591h.75v.75h-.75zM131.9 580.8h.75v.75h-.75zM124.2 593.4h.75v.75h-.75zM127.1 595.5h.75v.75h-.75zM129.5 590.2h.75v.75h-.75zM130.9 595.7h.75v.75h-.75zM129.5 599h.75v.75h-.75zM129.7 576.9h.75v.75h-.75zM127.7 595.5h.75v.75h-.75zM130.5 581.9h.75v.75h-.75zM135.7 598.2h.75v.75h-.75zM133.2 578h.75v.75h-.75zM127.9 598h.75v.75h-.75zM129.3 571.9h.75v.75h-.75zM128.4 588h.75v.75h-.75zM129.7 575.4h.75v.75h-.75zM135.8 596.6h.75v.75h-.75zM129.8 593.8h.75v.75h-.75zM132.4 595.1h.75v.75h-.75zM122.9 590.1h.75v.75h-.75zM127.9 585.8h.75v.75h-.75zM124.4 592.1h.75v.75h-.75zM124.7 595.2h.75v.75h-.75zM130 596.5h.75v.75h-.75zM125.5 597.4h.75v.75h-.75zM129.5 600.3h.75v.75h-.75zM137.3 598.9h.75v.75h-.75zM124 584.1h.75v.75h-.75zM134.3 574h.75v.75h-.75zM126.2 584h.75v.75h-.75zM129.6 601.1h.75v.75h-.75zM130.6 584.7h.75v.75h-.75zM131.4 572.5h.75v.75h-.75zM123.9 591.9h.75v.75h-.75zM123.4 587.9h.75v.75h-.75zM126.3 598.4h.75v.75h-.75zM124.7 590.7h.75v.75h-.75zM134.2 597.6h.75v.75h-.75zM137.2 596.5h.75v.75h-.75zM138.7 596.9h.75v.75h-.75zM125.7 596.3h.75v.75h-.75zM134.9 598.9h.75v.75h-.75zM131.8 573.4h.75v.75h-.75zM137.2 597.9h.75v.75h-.75zM129 586.4h.75v.75h-.75zM124.3 589.4h.75v.75h-.75zM135.1 598.6h.75v.75h-.75zM131.7 572.6h.75v.75h-.75zM132.1 597.2h.75v.75h-.75zM124.2 593.2h.75v.75h-.75zM128.5 577h.75v.75h-.75zM126.4 581.3h.75v.75h-.75zM128.8 575h.75v.75h-.75zM134.2 599h.75v.75h-.75zM129.9 582.2h.75v.75h-.75zM133.3 600.2h.75v.75h-.75zM134.2 600.4h.75v.75h-.75zM128 584.3h.75v.75h-.75zM132.4 580.3h.75v.75h-.75zM128.6 600.7h.75v.75h-.75zM127.5 594.4h.75v.75h-.75zM127.6 594.8h.75v.75h-.75zM128.6 585.7h.75v.75h-.75zM124 590.6h.75v.75h-.75zM130.3 574.1h.75v.75h-.75zM139.1 599.3h.75v.75h-.75zM130.4 572.9h.75v.75h-.75zM125 590h.75v.75h-.75zM128.7 596.7h.75v.75h-.75zM128.8 593.1h.75v.75h-.75zM128.2 585.5h.75v.75h-.75zM136.7 597.3h.75v.75h-.75zM124.8 592.6h.75v.75h-.75zM128.4 593.7h.75v.75h-.75zM127.6 578.5h.75v.75h-.75zM131 595.4h.75v.75h-.75zM133 581.4h.75v.75h-.75z"/>
<path fill="#21858c" fill-opacity=".6" d="M132.1 583.9h.75v.75h-.75zM131.2 579h.75v.75h-.75zM132.9 573.6h.75v.75h-.75zM130.2 597.6h.75v.75h-.75zM128.7 599.4h.75v.75h-.75zM134.9 595.4h.75v.75h-.75zM128.4 598.1h.75v.75h-.75zM133.5 595.3h.75v.75h-.75zM131.4 596.8h.75v.75h-.75zM123.8 590.1h.75v.75h-.75zM130.7 579.4h.75v.75h-.75zM125.4 589.3h.75v.75h-.75zM133.9 597.3h.75v.75h-.75zM134.1 576.3h.75v.75h-.75zM134 571.6h.75v.75h-.75zM124.5 594.9h.75v.75h-.75zM137 595h.75v.75h-.75zM129.9 592.1h.75v.75h-.75zM127 588h.75v.75h-.75zM124.4 586.8h.75v.75h-.75zM128.6 574.2h.75v.75h-.75zM136.4 596.2h.75v.75h-.75zM123.2 585.8h.75v.75h-.75zM129.4 601.2h.75v.75h-.75zM128.9 595h.75v.75h-.75zM135.8 571.7h.75v.75h-.75zM132.7 599.3h.75v.75h-.75zM138 600.3h.75v.75h-.75zM129.8 592.1h.75v.75h-.75zM129.4 589.1h.75v.75h-.75zM130.6 570.3h.75v.75h-.75zM130.1 574.4h.75v.75h-.75zM129.8 586.2h.75v.75h-.75zM131.5 575.1h.75v.75h-.75zM124 591h.75v.75h-.75zM128.4 582.2h.75v.75h-.75zM136.7 599.5h.75v.75h-.75zM129.6 580h.75v.75h-.75zM128.9 597.1h.75v.75h-.75zM128.6 595.8h.75v.75h-.75zM127.3 582h.75v.75h-.75zM124.7 584.6h.75v.75h-.75zM133.5 596.9h.75v.75h-.75zM123 586.9h.75v.75h-.75zM122 588.8h.75v.75h-.75zM131 572.5h.75v.75h-.75zM133.5 575.1h.75v.75h-.75zM131.2 600.5h.75v.75h-.75zM127.1 579.4h.75v.75h-.75zM129.3 596.5h.75v.75h-.75zM130.8 597.7h.75v.75h-.75zM124.6 596.2h.75v.75h-.75zM131.5 572.7h.75v.75h-.75zM125.5 582.6h.75v.75h-.75zM128.4 585.8h.75v.75h-.75zM134 600.2h.75v.75h-.75zM138.4 599.3h.75v.75h-.75zM127 584.4h.75v.75h-.75zM130.7 584.6h.75v.75h-.75zM128.7 600h.75v.75h-.75zM126.7 589.5h.75v.75h-.75zM132.9 576.8h.75v.75h-.75zM133.4 595.7h.75v.75h-.75zM129.4 574.4h.75v.75h-.75zM133 598.4h.75v.75h-.75zM126.7 580.8h.75v.75h-.75zM134 600.3h.75v.75h-.75zM131.7 584.1h.75v.75h-.75zM137.1 595h.75v.75h-.75zM127.8 586.4h.75v.75h-.75zM133 600.1h.75v.75h-.75zM136.1 598.4h.75v.75h-.75zM134.1 574h.75v.75h-.75zM134.2 575.3h.75v.75h-.75zM131.8 574.5h.75v.75h-.75zM127.6 586.9h.75v.75h-.75zM136.1 600.3h.75v.75h-.75zM124.2 587.6h.75v.75h-.75zM132.2 583.6h.75v.75h-.75zM130.8 575.7h.75v.75h-.75z"/>
<ellipse cx="137" cy="597.8" rx="2.8" ry="3" fill="#3db474"/>
<path fill="#2b7a8a" fill-opacity=".9" d="M135.5 591.7h.7v.7h-.7zM134.6 588.3h.7v.7h-.7zM135.6 591.3h.7v.7h-.7zM133.7 585.1h.7v.7h-.7zM133.7 585.5h.7v.7h-.7zM133.2 584.3h.7v.7h-.7zM136.8 594.3h.7v.7h-.7zM135.7 591.6h.7v.7h-.7zM134.1 587.6h.7v.7h-.7zM133.6 584.5h.7v.7h-.7zM134.3 587.2h.7v.7h-.7zM136.2 592.4h.7v.7h-.7zM136.4 593.5h.7v.7h-.7zM133.8 585.1h.7v.7h-.7zM136.7 594h.7v.7h-.7zM133.1 585.7h.7v.7h-.7zM133.4 583.1h.7v.7h-.7zM133.1 584.6h.7v.7h-.7zM132.9 582.8h.7v.7h-.7zM134.3 586.3h.7v.7h-.7zM135.6 591.7h.7v.7h-.7zM134.8 589.4h.7v.7h-.7zM136.2 592.9h.7v.7h-.7zM133 584.3h.7v.7h-.7zM135.3 592.6h.7v.7h-.7zM133.6 584.1h.7v.7h-.7zM133.6 587.1h.7v.7h-.7zM136.5 594.1h.7v.7h-.7zM135.9 592.4h.7v.7h-.7zM135.8 591.3h.7v.7h-.7z"/>
<path d="M162.5 569.5Q162.8 568 164.05 567.6Q165.3 567.2 166.45 567.9Q167.6 568.6 167.8 570.5Q168 572.4 167.5 574.3Q167 576.2 165.65 576.6Q164.3 577 163.35 576Q162.4 575 162.3 573Q162.2 571 162.5 569.5Z" fill="#2c2a66" stroke="#2c2a66" stroke-width=".6"/>
<path fill="#3c3f84" fill-opacity=".8" d="M163.5 573.1h.8v.8h-.8zM166.8 572.3h.8v.8h-.8zM162.7 575h.8v.8h-.8zM166.2 576.1h.8v.8h-.8zM163.4 568.4h.8v.8h-.8zM166.9 572.4h.8v.8h-.8zM166 571.6h.8v.8h-.8zM166.7 576.1h.8v.8h-.8zM163.7 570.2h.8v.8h-.8zM166.7 573.8h.8v.8h-.8zM163.5 574h.8v.8h-.8zM165.1 569.5h.8v.8h-.8zM163.4 571.3h.8v.8h-.8zM163.7 569.2h.8v.8h-.8zM167.3 569.1h.8v.8h-.8zM162.6 571.7h.8v.8h-.8zM165.1 569h.8v.8h-.8zM165 572.7h.8v.8h-.8zM162.8 573.2h.8v.8h-.8zM162.7 571.8h.8v.8h-.8zM164.7 572.7h.8v.8h-.8zM164.3 569.1h.8v.8h-.8zM163.7 572.8h.8v.8h-.8zM163.7 575.6h.8v.8h-.8zM163.5 575.5h.8v.8h-.8z"/>
<path d="M159.6 573.2L162.6 571.8L163 575.6L160.4 574.8Z" fill="#2c2a66"/>
<path d="M142.3 607.7Q142.4 606.4 143.6 605.5Q144.8 604.6 146.55 604.3Q148.3 604 149.95 604.2Q151.6 604.4 152.6 605.65Q153.6 606.9 153.5 608.75Q153.4 610.6 152.2 612.1Q151 613.6 149 613.8Q147 614 145.5 613Q144 612 143.1 610.5Q142.2 609 142.3 607.7Z" fill="#a5d63e" stroke="#a5d63e" stroke-width=".6"/>
<path fill="#c8e030" fill-opacity=".8" d="M149.5 604.9h.8v.8h-.8zM152.9 607.6h.8v.8h-.8zM144.2 605.6h.8v.8h-.8zM146.2 609.2h.8v.8h-.8zM148.3 610.4h.8v.8h-.8zM151.6 605.2h.8v.8h-.8zM150.6 606h.8v.8h-.8zM148.5 607.2h.8v.8h-.8zM144.4 610h.8v.8h-.8zM147.9 605.3h.8v.8h-.8zM147.2 611.7h.8v.8h-.8zM143.5 610.8h.8v.8h-.8zM151.8 606.4h.8v.8h-.8zM149.2 609.4h.8v.8h-.8zM145 612.6h.8v.8h-.8zM148.8 608.4h.8v.8h-.8zM145.9 609.7h.8v.8h-.8zM149.6 608.1h.8v.8h-.8zM149.1 610.3h.8v.8h-.8zM148.6 611.5h.8v.8h-.8zM148.7 611.8h.8v.8h-.8zM151.1 609.7h.8v.8h-.8zM144.7 606.5h.8v.8h-.8zM148.5 609.1h.8v.8h-.8zM145 610.7h.8v.8h-.8zM149.3 604.2h.8v.8h-.8zM148.5 607.7h.8v.8h-.8zM143.8 610.5h.8v.8h-.8zM150.5 609h.8v.8h-.8zM148.1 607.9h.8v.8h-.8zM146.9 607.6h.8v.8h-.8zM151.6 606.5h.8v.8h-.8zM149 606.8h.8v.8h-.8zM151.9 611.2h.8v.8h-.8zM149.6 610.5h.8v.8h-.8zM146.2 608.2h.8v.8h-.8zM149 612.2h.8v.8h-.8zM151.2 607.3h.8v.8h-.8zM151.6 606.1h.8v.8h-.8zM149.4 604.3h.8v.8h-.8zM147.4 605.8h.8v.8h-.8zM143.2 608.5h.8v.8h-.8zM143.5 607.3h.8v.8h-.8zM149.6 608.4h.8v.8h-.8zM146.7 604.5h.8v.8h-.8zM149.9 604.3h.8v.8h-.8zM148.1 610.8h.8v.8h-.8zM146.7 608.2h.8v.8h-.8zM144.5 611.9h.8v.8h-.8zM151.9 612.5h.8v.8h-.8z"/>
<path d="M137.4 607Q139.8 607.4 142.8 608.4" fill="none" stroke="#a5d63e" stroke-width="1.1"/>
<circle cx="137.4" cy="607" r="1" fill="#a5d63e"/>
<path d="M180.55 571.1Q180.8 569.8 182.55 570.1Q184.3 570.4 186.4 571.2Q188.5 572 187.75 573.35Q187 574.7 186.4 576.7Q185.8 578.7 185.3 580.9Q184.8 583.1 184.25 584.15Q183.7 585.2 183.2 586.65Q182.7 588.1 182.3 589.65Q181.9 591.2 182.2 592.45Q182.5 593.7 183.4 594.25Q184.3 594.8 186.75 594.75Q189.2 594.7 190.4 595.65Q191.6 596.6 191.55 598.3Q191.5 600 190.05 600.65Q188.6 601.3 186.7 601Q184.8 600.7 183.25 601.3Q181.7 601.9 180.7 601.3Q179.7 600.7 178.15 598.75Q176.6 596.8 175.3 594Q174 591.2 173.85 589.3Q173.7 587.4 174.4 585.8Q175.1 584.2 176.55 582Q178 579.8 179.05 578Q180.1 576.2 180.2 574.3Q180.3 572.4 180.55 571.1Z" fill="url(#dg5)" stroke="url(#dg5)" stroke-width=".8"/>
<path fill="#3a6a9c" fill-opacity=".7" d="M189.9 599.3h.75v.75h-.75zM181.2 586.9h.75v.75h-.75zM186.3 573.4h.75v.75h-.75zM175.7 591h.75v.75h-.75zM183.8 580.8h.75v.75h-.75zM176.1 593.4h.75v.75h-.75zM179 595.5h.75v.75h-.75zM181.4 590.2h.75v.75h-.75zM182.8 595.7h.75v.75h-.75zM181.4 599h.75v.75h-.75zM181.6 576.9h.75v.75h-.75zM179.6 595.5h.75v.75h-.75zM182.4 581.9h.75v.75h-.75zM187.6 598.2h.75v.75h-.75zM185.1 578h.75v.75h-.75zM179.8 598h.75v.75h-.75zM181.2 571.9h.75v.75h-.75zM180.3 588h.75v.75h-.75zM181.6 575.4h.75v.75h-.75zM187.7 596.6h.75v.75h-.75zM181.7 593.8h.75v.75h-.75zM184.3 595.1h.75v.75h-.75zM174.8 590.1h.75v.75h-.75zM179.8 585.8h.75v.75h-.75zM176.3 592.1h.75v.75h-.75zM176.6 595.2h.75v.75h-.75zM181.9 596.5h.75v.75h-.75zM177.4 597.4h.75v.75h-.75zM181.4 600.3h.75v.75h-.75zM189.2 598.9h.75v.75h-.75zM175.9 584.1h.75v.75h-.75zM186.2 574h.75v.75h-.75zM178.1 584h.75v.75h-.75zM181.5 601.1h.75v.75h-.75zM182.5 584.7h.75v.75h-.75zM183.3 572.5h.75v.75h-.75zM175.8 591.9h.75v.75h-.75zM175.3 587.9h.75v.75h-.75zM178.2 598.4h.75v.75h-.75zM176.6 590.7h.75v.75h-.75zM186.1 597.6h.75v.75h-.75zM189.1 596.5h.75v.75h-.75zM190.6 596.9h.75v.75h-.75zM177.6 596.3h.75v.75h-.75zM186.8 598.9h.75v.75h-.75zM183.7 573.4h.75v.75h-.75zM189.1 597.9h.75v.75h-.75zM180.9 586.4h.75v.75h-.75zM176.2 589.4h.75v.75h-.75zM187 598.6h.75v.75h-.75zM183.6 572.6h.75v.75h-.75zM184 597.2h.75v.75h-.75zM176.1 593.2h.75v.75h-.75zM180.4 577h.75v.75h-.75zM178.3 581.3h.75v.75h-.75zM180.7 575h.75v.75h-.75zM186.1 599h.75v.75h-.75zM181.8 582.2h.75v.75h-.75zM185.2 600.2h.75v.75h-.75zM186.1 600.4h.75v.75h-.75zM179.9 584.3h.75v.75h-.75zM184.3 580.3h.75v.75h-.75zM180.5 600.7h.75v.75h-.75zM179.4 594.4h.75v.75h-.75zM179.5 594.8h.75v.75h-.75zM180.5 585.7h.75v.75h-.75zM175.9 590.6h.75v.75h-.75zM182.2 574.1h.75v.75h-.75zM191 599.3h.75v.75h-.75zM182.3 572.9h.75v.75h-.75zM176.9 590h.75v.75h-.75zM180.6 596.7h.75v.75h-.75zM180.7 593.1h.75v.75h-.75zM180.1 585.5h.75v.75h-.75zM188.6 597.3h.75v.75h-.75zM176.7 592.6h.75v.75h-.75zM180.3 593.7h.75v.75h-.75zM179.5 578.5h.75v.75h-.75zM182.9 595.4h.75v.75h-.75zM184.9 581.4h.75v.75h-.75z"/>
<path fill="#2a4a86" fill-opacity=".6" d="M184 583.9h.75v.75h-.75zM183.1 579h.75v.75h-.75zM184.8 573.6h.75v.75h-.75zM182.1 597.6h.75v.75h-.75zM180.6 599.4h.75v.75h-.75zM186.8 595.4h.75v.75h-.75zM180.3 598.1h.75v.75h-.75zM185.4 595.3h.75v.75h-.75zM183.3 596.8h.75v.75h-.75zM175.7 590.1h.75v.75h-.75zM182.6 579.4h.75v.75h-.75zM177.3 589.3h.75v.75h-.75zM185.8 597.3h.75v.75h-.75zM186 576.3h.75v.75h-.75zM185.9 571.6h.75v.75h-.75zM176.4 594.9h.75v.75h-.75zM188.9 595h.75v.75h-.75zM181.8 592.1h.75v.75h-.75zM178.9 588h.75v.75h-.75zM176.3 586.8h.75v.75h-.75zM180.5 574.2h.75v.75h-.75zM188.3 596.2h.75v.75h-.75zM175.1 585.8h.75v.75h-.75zM181.3 601.2h.75v.75h-.75zM180.8 595h.75v.75h-.75zM187.7 571.7h.75v.75h-.75zM184.6 599.3h.75v.75h-.75zM189.9 600.3h.75v.75h-.75zM181.7 592.1h.75v.75h-.75zM181.3 589.1h.75v.75h-.75zM182.5 570.3h.75v.75h-.75zM182 574.4h.75v.75h-.75zM181.7 586.2h.75v.75h-.75zM183.4 575.1h.75v.75h-.75zM175.9 591h.75v.75h-.75zM180.3 582.2h.75v.75h-.75zM188.6 599.5h.75v.75h-.75zM181.5 580h.75v.75h-.75zM180.8 597.1h.75v.75h-.75zM180.5 595.8h.75v.75h-.75zM179.2 582h.75v.75h-.75zM176.6 584.6h.75v.75h-.75zM185.4 596.9h.75v.75h-.75zM174.9 586.9h.75v.75h-.75zM173.9 588.8h.75v.75h-.75zM182.9 572.5h.75v.75h-.75zM185.4 575.1h.75v.75h-.75zM183.1 600.5h.75v.75h-.75zM179 579.4h.75v.75h-.75zM181.2 596.5h.75v.75h-.75zM182.7 597.7h.75v.75h-.75zM176.5 596.2h.75v.75h-.75zM183.4 572.7h.75v.75h-.75zM177.4 582.6h.75v.75h-.75zM180.3 585.8h.75v.75h-.75zM185.9 600.2h.75v.75h-.75zM190.3 599.3h.75v.75h-.75zM178.9 584.4h.75v.75h-.75zM182.6 584.6h.75v.75h-.75zM180.6 600h.75v.75h-.75zM178.6 589.5h.75v.75h-.75zM184.8 576.8h.75v.75h-.75zM185.3 595.7h.75v.75h-.75zM181.3 574.4h.75v.75h-.75zM184.9 598.4h.75v.75h-.75zM178.6 580.8h.75v.75h-.75zM185.9 600.3h.75v.75h-.75zM183.6 584.1h.75v.75h-.75zM189 595h.75v.75h-.75zM179.7 586.4h.75v.75h-.75zM184.9 600.1h.75v.75h-.75zM188 598.4h.75v.75h-.75zM186 574h.75v.75h-.75zM186.1 575.3h.75v.75h-.75zM183.7 574.5h.75v.75h-.75zM179.5 586.9h.75v.75h-.75zM188 600.3h.75v.75h-.75zM176.1 587.6h.75v.75h-.75zM184.1 583.6h.75v.75h-.75zM182.7 575.7h.75v.75h-.75z"/>
<ellipse cx="188.9" cy="597.8" rx="2.8" ry="3" fill="#4bbd6e"/>
<path fill="#2f7a8a" fill-opacity=".9" d="M187.4 591.7h.7v.7h-.7zM186.5 588.3h.7v.7h-.7zM187.5 591.3h.7v.7h-.7zM185.6 585.1h.7v.7h-.7zM185.6 585.5h.7v.7h-.7zM185.1 584.3h.7v.7h-.7zM188.7 594.3h.7v.7h-.7zM187.6 591.6h.7v.7h-.7zM186 587.6h.7v.7h-.7zM185.5 584.5h.7v.7h-.7zM186.2 587.2h.7v.7h-.7zM188.1 592.4h.7v.7h-.7zM188.3 593.5h.7v.7h-.7zM185.7 585.1h.7v.7h-.7zM188.6 594h.7v.7h-.7zM185 585.7h.7v.7h-.7zM185.3 583.1h.7v.7h-.7zM185 584.6h.7v.7h-.7zM184.8 582.8h.7v.7h-.7zM186.2 586.3h.7v.7h-.7zM187.5 591.7h.7v.7h-.7zM186.7 589.4h.7v.7h-.7zM188.1 592.9h.7v.7h-.7zM184.9 584.3h.7v.7h-.7zM187.2 592.6h.7v.7h-.7zM185.5 584.1h.7v.7h-.7zM185.5 587.1h.7v.7h-.7zM188.4 594.1h.7v.7h-.7zM187.8 592.4h.7v.7h-.7zM187.7 591.3h.7v.7h-.7z"/>
<path d="M214.4 569.5Q214.7 568 215.95 567.6Q217.2 567.2 218.35 567.9Q219.5 568.6 219.7 570.5Q219.9 572.4 219.4 574.3Q218.9 576.2 217.55 576.6Q216.2 577 215.25 576Q214.3 575 214.2 573Q214.1 571 214.4 569.5Z" fill="#3a4a8c" stroke="#3a4a8c" stroke-width=".6"/>
<path fill="#4a5a98" fill-opacity=".8" d="M215.4 573.1h.8v.8h-.8zM218.7 572.3h.8v.8h-.8zM214.6 575h.8v.8h-.8zM218.1 576.1h.8v.8h-.8zM215.3 568.4h.8v.8h-.8zM218.8 572.4h.8v.8h-.8zM217.9 571.6h.8v.8h-.8zM218.6 576.1h.8v.8h-.8zM215.6 570.2h.8v.8h-.8zM218.6 573.8h.8v.8h-.8zM215.4 574h.8v.8h-.8zM217 569.5h.8v.8h-.8zM215.3 571.3h.8v.8h-.8zM215.6 569.2h.8v.8h-.8zM219.2 569.1h.8v.8h-.8zM214.5 571.7h.8v.8h-.8zM217 569h.8v.8h-.8zM216.9 572.7h.8v.8h-.8zM214.7 573.2h.8v.8h-.8zM214.6 571.8h.8v.8h-.8zM216.6 572.7h.8v.8h-.8zM216.2 569.1h.8v.8h-.8zM215.6 572.8h.8v.8h-.8zM215.6 575.6h.8v.8h-.8zM215.4 575.5h.8v.8h-.8z"/>
<path d="M211.5 573.2L214.5 571.8L214.9 575.6L212.3 574.8Z" fill="#3a4a8c"/>
<path d="M194.2 607.7Q194.3 606.4 195.5 605.5Q196.7 604.6 198.45 604.3Q200.2 604 201.85 604.2Q203.5 604.4 204.5 605.65Q205.5 606.9 205.4 608.75Q205.3 610.6 204.1 612.1Q202.9 613.6 200.9 613.8Q198.9 614 197.4 613Q195.9 612 195 610.5Q194.1 609 194.2 607.7Z" fill="#bcdc2e" stroke="#bcdc2e" stroke-width=".6"/>
<path fill="#d8e43a" fill-opacity=".8" d="M201.4 604.9h.8v.8h-.8zM204.8 607.6h.8v.8h-.8zM196.1 605.6h.8v.8h-.8zM198.1 609.2h.8v.8h-.8zM200.2 610.4h.8v.8h-.8zM203.5 605.2h.8v.8h-.8zM202.5 606h.8v.8h-.8zM200.4 607.2h.8v.8h-.8zM196.3 610h.8v.8h-.8zM199.8 605.3h.8v.8h-.8zM199.1 611.7h.8v.8h-.8zM195.4 610.8h.8v.8h-.8zM203.7 606.4h.8v.8h-.8zM201.1 609.4h.8v.8h-.8zM196.9 612.6h.8v.8h-.8zM200.7 608.4h.8v.8h-.8zM197.8 609.7h.8v.8h-.8zM201.5 608.1h.8v.8h-.8zM201 610.3h.8v.8h-.8zM200.5 611.5h.8v.8h-.8zM200.6 611.8h.8v.8h-.8zM203 609.7h.8v.8h-.8zM196.6 606.5h.8v.8h-.8zM200.4 609.1h.8v.8h-.8zM196.9 610.7h.8v.8h-.8zM201.2 604.2h.8v.8h-.8zM200.4 607.7h.8v.8h-.8zM195.7 610.5h.8v.8h-.8zM202.4 609h.8v.8h-.8zM200 607.9h.8v.8h-.8zM198.8 607.6h.8v.8h-.8zM203.5 606.5h.8v.8h-.8zM200.9 606.8h.8v.8h-.8zM203.8 611.2h.8v.8h-.8zM201.5 610.5h.8v.8h-.8zM198.1 608.2h.8v.8h-.8zM200.9 612.2h.8v.8h-.8zM203.1 607.3h.8v.8h-.8zM203.5 606.1h.8v.8h-.8zM201.3 604.3h.8v.8h-.8zM199.3 605.8h.8v.8h-.8zM195.1 608.5h.8v.8h-.8zM195.4 607.3h.8v.8h-.8zM201.5 608.4h.8v.8h-.8zM198.6 604.5h.8v.8h-.8zM201.8 604.3h.8v.8h-.8zM200 610.8h.8v.8h-.8zM198.6 608.2h.8v.8h-.8zM196.4 611.9h.8v.8h-.8zM203.8 612.5h.8v.8h-.8z"/>
<path d="M189.3 607Q191.7 607.4 194.7 608.4" fill="none" stroke="#bcdc2e" stroke-width="1.1"/>
<circle cx="189.3" cy="607" r="1" fill="#bcdc2e"/>
<rect x="52.6" y="508.8" width="7.4" height="33.8" fill="url(#vir)"/>
<text x="49.4" y="503.8" font-size="6.4" stroke="#231f20" stroke-width=".06" textLength="13.2" lengthAdjust="spacingAndGlyphs" transform="rotate(.05 49.4 503.8)">High</text>
<text x="51.2" y="552.6" font-size="6.4" stroke="#231f20" stroke-width=".06" textLength="10.8" lengthAdjust="spacingAndGlyphs" transform="rotate(.05 51.2 552.6)">Low</text>
<text x="48.3" y="541.5" font-size="6.4" stroke="#231f20" stroke-width=".06" textLength="30.4" lengthAdjust="spacingAndGlyphs" transform="rotate(-89.95 48.3 541.5)">Expression</text>
<text x="227.2" y="508" font-size="6.4" stroke="#231f20" stroke-width=".06" textLength="27.4" lengthAdjust="spacingAndGlyphs" transform="rotate(90.05 227.2 508)">B cell TFs</text>
<text x="226.4" y="569" font-size="6.4" stroke="#231f20" stroke-width=".06" textLength="42.8" lengthAdjust="spacingAndGlyphs" transform="rotate(90.05 226.4 569)">Plasma cell TFs</text>
<line x1="63.9" y1="622.1" x2="63.9" y2="589.7" stroke="#231f20" stroke-width="1.1"/>
<path d="M63.9 585.4 L61.6 590.2 L66.2 590.2 Z" fill="#231f20"/>
<line x1="63.4" y1="621.6" x2="95.7" y2="621.6" stroke="#231f20" stroke-width="1.1"/>
<path d="M100 621.6 L95.2 619.3 L95.2 623.9 Z" fill="#231f20"/>
<text x="70.3" y="632" font-size="8" stroke="#231f20" stroke-width=".06" textLength="23" lengthAdjust="spacingAndGlyphs" transform="rotate(.05 70.3 632)">UMAP 1</text>
<text x="59.6" y="615" font-size="8" stroke="#231f20" stroke-width=".06" textLength="23.4" lengthAdjust="spacingAndGlyphs" transform="rotate(-89.95 59.6 615)">UMAP 2</text>
<text x="270.9" y="16" font-size="10.4" fill="#000" stroke="#000" stroke-width=".06" font-weight="bold" textLength="6.6" lengthAdjust="spacingAndGlyphs" transform="rotate(.05 270.9 16)">E</text>
<path fill="#f9c3b1" shape-rendering="crispEdges" d="M312 29.9h1v5.41h-1zM312 35.26h1v5.41h-1zM312 40.61h1v5.41h-1zM313 45.97h1v5.41h-1zM346 45.97h1v5.41h-1zM312 56.68h1v5.41h-1zM312 62.04h1v5.41h-1zM373 83.46h1v5.41h-1zM403 83.46h1v5.41h-1zM347 88.82h1v5.41h-1zM366 88.82h1v5.41h-1zM380 88.82h1v5.41h-1zM341 94.17h1v5.41h-1zM352 94.17h1v5.41h-1zM379 94.17h1v5.41h-1zM349 99.53h1v5.41h-1zM364 99.53h1v5.41h-1zM379 99.53h1v5.41h-1zM359 104.88h1v5.41h-1zM347 110.24h1v5.41h-1zM364 110.24h1v5.41h-1zM366 110.24h1v5.41h-1zM358 115.6h1v5.41h-1zM380 115.6h1v5.41h-1zM391 115.6h1v5.41h-1zM347 120.95h1v5.41h-1zM371 120.95h2v5.41h-2zM375 120.95h2v5.41h-2zM397 120.95h1v5.41h-1zM358 126.31h1v5.41h-1zM364 126.31h1v5.41h-1zM367 126.31h1v5.41h-1zM375 131.66h1v5.41h-1zM429 137.02h1v5.41h-1zM439 142.38h1v5.41h-1zM381 153.09h1v5.41h-1zM423 153.09h2v5.41h-2zM432 153.09h3v5.41h-3zM429 163.8h1v5.41h-1zM433 163.8h1v5.41h-1zM439 163.8h1v5.41h-1zM446 169.16h1v5.41h-1zM460 169.16h1v5.41h-1zM429 174.51h1v5.41h-1zM433 174.51h1v5.41h-1zM417 179.87h1v5.41h-1zM424 179.87h1v5.41h-1zM429 179.87h1v5.41h-1zM433 179.87h1v5.41h-1zM417 185.22h1v5.41h-1zM439 185.22h1v5.41h-1zM483 190.58h1v5.41h-1zM490 190.58h1v5.41h-1zM446 212h1v5.41h-1zM446 217.36h1v5.41h-1zM458 222.72h2v5.41h-2zM473 222.72h1v5.41h-1zM491 222.72h1v5.41h-1z"/>
<path fill="#f9c9b7" shape-rendering="crispEdges" d="M313 29.9h1v5.41h-1zM347 45.97h1v5.41h-1zM313 51.32h1v5.41h-1zM367 83.46h1v5.41h-1zM358 88.82h1v5.41h-1zM364 88.82h1v5.41h-1zM397 88.82h1v5.41h-1zM352 99.53h1v5.41h-1zM341 104.88h1v5.41h-1zM352 104.88h1v5.41h-1zM379 104.88h1v5.41h-1zM367 110.24h1v5.41h-1zM352 115.6h1v5.41h-1zM352 120.95h1v5.41h-1zM368 120.95h1v5.41h-1zM373 120.95h1v5.41h-1zM380 120.95h1v5.41h-1zM352 126.31h1v5.41h-1zM381 137.02h1v5.41h-1zM381 147.73h1v5.41h-1zM460 153.09h1v5.41h-1zM460 163.8h1v5.41h-1zM423 179.87h1v5.41h-1zM445 217.36h1v5.41h-1zM413 222.72h1v5.41h-1zM445 222.72h1v5.41h-1zM446 228.07h1v5.41h-1z"/>
<path fill="#ed7b6f" shape-rendering="crispEdges" d="M314 29.9h1v5.41h-1zM317 29.9h1v5.41h-1zM319 29.9h1v5.41h-1zM327 29.9h1v5.41h-1zM329 29.9h1v5.41h-1zM317 35.26h1v5.41h-1zM317 40.61h1v5.41h-1zM338 45.97h1v5.41h-1zM316 51.32h1v5.41h-1zM327 51.32h1v5.41h-1zM331 51.32h1v5.41h-1zM334 51.32h1v5.41h-1zM317 56.68h1v5.41h-1zM315 62.04h1v5.41h-1zM320 62.04h2v5.41h-2zM326 62.04h1v5.41h-1zM331 62.04h2v5.41h-2zM316 67.39h1v5.41h-1zM320 67.39h1v5.41h-1zM332 67.39h3v5.41h-3zM336 67.39h1v5.41h-1zM316 72.75h1v5.41h-1zM318 72.75h1v5.41h-1zM321 72.75h1v5.41h-1zM335 72.75h1v5.41h-1zM318 78.1h2v5.41h-2zM323 78.1h1v5.41h-1zM325 78.1h2v5.41h-2zM331 78.1h2v5.41h-2zM335 78.1h1v5.41h-1zM349 131.66h1v5.41h-1zM357 131.66h1v5.41h-1zM413 142.38h1v5.41h-1zM471 201.29h1v5.41h-1zM440 206.65h1v5.41h-1zM474 206.65h1v5.41h-1zM470 212h2v5.41h-2zM465 217.36h1v5.41h-1zM468 217.36h1v5.41h-1zM479 217.36h1v5.41h-1zM489 217.36h1v5.41h-1zM471 233.43h1v5.41h-1z"/>
<path fill="#ed5d63" shape-rendering="crispEdges" d="M315 29.9h1v5.41h-1zM322 29.9h1v5.41h-1zM328 35.26h1v5.41h-1zM320 40.61h1v5.41h-1zM326 45.97h1v5.41h-1zM324 51.32h1v5.41h-1zM320 56.68h1v5.41h-1zM324 72.75h1v5.41h-1z"/>
<path fill="#ed6969" shape-rendering="crispEdges" d="M316 29.9h1v5.41h-1zM321 29.9h1v5.41h-1zM323 29.9h1v5.41h-1zM332 29.9h1v5.41h-1zM335 29.9h1v5.41h-1zM316 35.26h1v5.41h-1zM321 35.26h2v5.41h-2zM327 35.26h1v5.41h-1zM333 35.26h1v5.41h-1zM316 40.61h1v5.41h-1zM319 40.61h1v5.41h-1zM321 40.61h1v5.41h-1zM325 40.61h1v5.41h-1zM327 40.61h1v5.41h-1zM317 45.97h1v5.41h-1zM340 45.97h1v5.41h-1zM323 51.32h1v5.41h-1zM335 51.32h1v5.41h-1zM315 56.68h1v5.41h-1zM331 56.68h2v5.41h-2zM322 72.75h1v5.41h-1zM325 72.75h1v5.41h-1zM320 78.1h1v5.41h-1zM355 131.66h2v5.41h-2zM365 131.66h1v5.41h-1z"/>
<path fill="#ed756f" shape-rendering="crispEdges" d="M318 29.9h1v5.41h-1zM326 29.9h1v5.41h-1zM333 29.9h2v5.41h-2zM319 35.26h1v5.41h-1zM337 35.26h1v5.41h-1zM314 40.61h1v5.41h-1zM323 40.61h1v5.41h-1zM329 40.61h1v5.41h-1zM339 45.97h1v5.41h-1zM318 51.32h1v5.41h-1zM326 51.32h1v5.41h-1zM328 51.32h1v5.41h-1zM332 51.32h1v5.41h-1zM336 51.32h1v5.41h-1zM333 56.68h1v5.41h-1zM325 62.04h1v5.41h-1zM335 62.04h1v5.41h-1zM324 67.39h1v5.41h-1zM326 72.75h1v5.41h-1zM331 72.75h1v5.41h-1zM346 131.66h1v5.41h-1zM360 131.66h1v5.41h-1zM366 131.66h1v5.41h-1zM421 142.38h1v5.41h-1zM454 206.65h1v5.41h-1zM454 212h1v5.41h-1zM468 212h1v5.41h-1zM471 217.36h1v5.41h-1zM477 217.36h1v5.41h-1z"/>
<path fill="#ed6363" shape-rendering="crispEdges" d="M320 29.9h1v5.41h-1zM324 29.9h1v5.41h-1zM331 29.9h1v5.41h-1zM315 35.26h1v5.41h-1zM320 35.26h1v5.41h-1zM324 35.26h1v5.41h-1zM331 35.26h2v5.41h-2zM335 35.26h1v5.41h-1zM315 40.61h1v5.41h-1zM318 40.61h1v5.41h-1zM324 40.61h1v5.41h-1zM326 40.61h1v5.41h-1zM328 40.61h1v5.41h-1zM335 40.61h1v5.41h-1zM314 45.97h1v5.41h-1zM327 45.97h2v5.41h-2zM336 45.97h2v5.41h-2zM322 51.32h1v5.41h-1zM324 62.04h1v5.41h-1zM353 131.66h1v5.41h-1z"/>
<path fill="#ed6f69" shape-rendering="crispEdges" d="M325 29.9h1v5.41h-1zM328 29.9h1v5.41h-1zM318 35.26h1v5.41h-1zM323 35.26h1v5.41h-1zM325 35.26h2v5.41h-2zM329 35.26h1v5.41h-1zM334 35.26h1v5.41h-1zM322 40.61h1v5.41h-1zM331 40.61h2v5.41h-2zM334 40.61h1v5.41h-1zM336 40.61h1v5.41h-1zM329 45.97h1v5.41h-1zM315 51.32h1v5.41h-1zM320 51.32h2v5.41h-2zM325 51.32h1v5.41h-1zM316 56.68h1v5.41h-1zM318 56.68h1v5.41h-1zM321 56.68h1v5.41h-1zM324 56.68h5v5.41h-5zM322 62.04h2v5.41h-2zM315 67.39h1v5.41h-1zM335 67.39h1v5.41h-1zM320 72.75h1v5.41h-1zM323 72.75h1v5.41h-1zM315 78.1h2v5.41h-2zM321 78.1h2v5.41h-2zM324 78.1h1v5.41h-1zM343 131.66h3v5.41h-3zM348 131.66h1v5.41h-1zM351 131.66h1v5.41h-1zM454 201.29h1v5.41h-1zM468 206.65h1v5.41h-1z"/>
<path fill="#db2d39" shape-rendering="crispEdges" d="M330 29.9h1v5.41h-1zM330 35.26h1v5.41h-1z"/>
<path fill="#ed816f" shape-rendering="crispEdges" d="M336 29.9h1v5.41h-1zM333 51.32h1v5.41h-1zM337 51.32h1v5.41h-1zM334 56.68h1v5.41h-1zM336 56.68h1v5.41h-1zM331 67.39h1v5.41h-1zM337 67.39h1v5.41h-1zM332 72.75h1v5.41h-1zM328 78.1h1v5.41h-1zM471 195.94h1v5.41h-1zM465 206.65h1v5.41h-1zM489 206.65h1v5.41h-1zM468 238.78h1v5.41h-1z"/>
<path fill="#f38775" shape-rendering="crispEdges" d="M337 29.9h1v5.41h-1zM338 35.26h2v5.41h-2zM338 40.61h3v5.41h-3zM317 51.32h1v5.41h-1zM314 56.68h1v5.41h-1zM340 56.68h1v5.41h-1zM316 62.04h1v5.41h-1zM328 62.04h1v5.41h-1zM333 62.04h1v5.41h-1zM336 62.04h1v5.41h-1zM340 62.04h1v5.41h-1zM321 67.39h1v5.41h-1zM323 67.39h1v5.41h-1zM327 67.39h2v5.41h-2zM314 72.75h1v5.41h-1zM317 72.75h1v5.41h-1zM334 78.1h1v5.41h-1zM336 78.1h1v5.41h-1zM395 115.6h1v5.41h-1zM367 131.66h1v5.41h-1zM411 142.38h1v5.41h-1zM420 142.38h1v5.41h-1zM425 142.38h1v5.41h-1zM411 147.73h1v5.41h-1zM470 195.94h1v5.41h-1zM436 201.29h1v5.41h-1zM439 201.29h1v5.41h-1zM468 201.29h1v5.41h-1zM470 201.29h1v5.41h-1zM489 201.29h1v5.41h-1zM436 206.65h1v5.41h-1zM477 206.65h1v5.41h-1zM465 212h1v5.41h-1zM474 212h1v5.41h-1zM454 217.36h1v5.41h-1zM474 217.36h1v5.41h-1zM440 233.43h1v5.41h-1zM468 233.43h1v5.41h-1zM470 233.43h1v5.41h-1z"/>
<path fill="#f39981" shape-rendering="crispEdges" d="M338 29.9h1v5.41h-1zM345 45.97h1v5.41h-1zM354 45.97h1v5.41h-1zM317 62.04h1v5.41h-1zM338 62.04h1v5.41h-1zM329 67.39h1v5.41h-1zM338 78.1h1v5.41h-1zM350 83.46h1v5.41h-1zM377 83.46h1v5.41h-1zM382 83.46h1v5.41h-1zM400 83.46h1v5.41h-1zM377 88.82h1v5.41h-1zM395 88.82h1v5.41h-1zM356 94.17h1v5.41h-1zM377 94.17h1v5.41h-1zM388 94.17h1v5.41h-1zM393 94.17h1v5.41h-1zM354 99.53h1v5.41h-1zM374 99.53h1v5.41h-1zM388 99.53h2v5.41h-2zM393 99.53h1v5.41h-1zM402 99.53h1v5.41h-1zM343 104.88h2v5.41h-2zM350 104.88h1v5.41h-1zM356 104.88h1v5.41h-1zM360 104.88h1v5.41h-1zM382 104.88h1v5.41h-1zM385 104.88h1v5.41h-1zM388 104.88h1v5.41h-1zM393 104.88h1v5.41h-1zM377 110.24h1v5.41h-1zM386 110.24h1v5.41h-1zM388 110.24h1v5.41h-1zM393 110.24h1v5.41h-1zM350 115.6h1v5.41h-1zM377 115.6h1v5.41h-1zM382 115.6h1v5.41h-1zM354 120.95h1v5.41h-1zM395 120.95h1v5.41h-1zM354 126.31h1v5.41h-1zM358 131.66h1v5.41h-1zM363 131.66h1v5.41h-1zM405 142.38h2v5.41h-2zM409 142.38h1v5.41h-1zM416 142.38h1v5.41h-1zM419 142.38h1v5.41h-1zM423 142.38h1v5.41h-1zM426 142.38h1v5.41h-1zM405 147.73h1v5.41h-1zM409 147.73h1v5.41h-1zM412 147.73h1v5.41h-1zM420 147.73h1v5.41h-1zM426 147.73h3v5.41h-3zM420 158.44h1v5.41h-1zM425 158.44h1v5.41h-1zM409 169.16h1v5.41h-1zM414 169.16h1v5.41h-1zM416 169.16h1v5.41h-1zM422 169.16h1v5.41h-1zM426 169.16h1v5.41h-1zM430 169.16h2v5.41h-2zM421 174.51h1v5.41h-1zM413 185.22h1v5.41h-1zM421 185.22h1v5.41h-1zM440 190.58h1v5.41h-1zM470 190.58h1v5.41h-1zM440 195.94h1v5.41h-1zM453 195.94h1v5.41h-1zM489 195.94h1v5.41h-1zM437 201.29h2v5.41h-2zM441 201.29h1v5.41h-1zM443 201.29h1v5.41h-1zM451 201.29h2v5.41h-2zM456 201.29h1v5.41h-1zM474 201.29h1v5.41h-1zM479 201.29h1v5.41h-1zM488 201.29h1v5.41h-1zM435 206.65h1v5.41h-1zM443 206.65h1v5.41h-1zM448 206.65h1v5.41h-1zM453 206.65h1v5.41h-1zM455 206.65h2v5.41h-2zM462 206.65h2v5.41h-2zM469 206.65h1v5.41h-1zM472 206.65h1v5.41h-1zM476 206.65h1v5.41h-1zM478 206.65h1v5.41h-1zM481 206.65h1v5.41h-1zM487 206.65h1v5.41h-1zM439 212h2v5.41h-2zM442 212h2v5.41h-2zM448 212h1v5.41h-1zM453 212h1v5.41h-1zM462 212h2v5.41h-2zM467 212h1v5.41h-1zM469 212h1v5.41h-1zM475 212h1v5.41h-1zM477 212h1v5.41h-1zM442 217.36h1v5.41h-1zM463 217.36h1v5.41h-1zM469 217.36h1v5.41h-1zM476 217.36h1v5.41h-1zM480 217.36h2v5.41h-2zM486 217.36h2v5.41h-2zM490 217.36h1v5.41h-1zM477 222.72h1v5.41h-1zM479 222.72h1v5.41h-1zM488 222.72h1v5.41h-1zM439 228.07h2v5.41h-2zM471 228.07h1v5.41h-1zM474 228.07h1v5.41h-1zM477 228.07h1v5.41h-1zM479 228.07h1v5.41h-1zM436 233.43h1v5.41h-1zM439 233.43h1v5.41h-1zM442 233.43h1v5.41h-1zM463 233.43h1v5.41h-1zM477 233.43h1v5.41h-1zM479 233.43h1v5.41h-1zM481 233.43h1v5.41h-1zM465 238.78h1v5.41h-1zM479 238.78h1v5.41h-1zM488 238.78h1v5.41h-1z"/>
<path fill="#f3937b" shape-rendering="crispEdges" d="M339 29.9h1v5.41h-1zM341 45.97h1v5.41h-1zM355 45.97h1v5.41h-1zM338 51.32h1v5.41h-1zM338 56.68h2v5.41h-2zM319 62.04h1v5.41h-1zM339 62.04h1v5.41h-1zM338 67.39h3v5.41h-3zM314 78.1h1v5.41h-1zM329 78.1h1v5.41h-1zM339 78.1h1v5.41h-1zM354 94.17h1v5.41h-1zM365 94.17h1v5.41h-1zM382 94.17h1v5.41h-1zM382 99.53h1v5.41h-1zM354 104.88h1v5.41h-1zM374 104.88h1v5.41h-1zM377 104.88h1v5.41h-1zM386 104.88h1v5.41h-1zM382 110.24h1v5.41h-1zM388 115.6h2v5.41h-2zM393 115.6h1v5.41h-1zM350 126.31h1v5.41h-1zM395 126.31h1v5.41h-1zM364 131.66h1v5.41h-1zM410 142.38h1v5.41h-1zM414 142.38h2v5.41h-2zM422 142.38h1v5.41h-1zM428 142.38h1v5.41h-1zM406 147.73h1v5.41h-1zM415 147.73h1v5.41h-1zM413 158.44h1v5.41h-1zM421 158.44h1v5.41h-1zM405 169.16h1v5.41h-1zM407 169.16h1v5.41h-1zM410 169.16h2v5.41h-2zM415 169.16h1v5.41h-1zM425 169.16h1v5.41h-1zM428 169.16h1v5.41h-1zM471 190.58h1v5.41h-1zM442 201.29h1v5.41h-1zM441 206.65h2v5.41h-2zM447 206.65h1v5.41h-1zM479 206.65h1v5.41h-1zM436 212h1v5.41h-1zM488 212h1v5.41h-1zM436 217.36h1v5.41h-1zM439 217.36h2v5.41h-2zM475 217.36h1v5.41h-1zM488 217.36h1v5.41h-1zM454 222.72h1v5.41h-1zM465 228.07h1v5.41h-1zM489 228.07h1v5.41h-1zM472 233.43h1v5.41h-1zM489 233.43h1v5.41h-1zM454 238.78h1v5.41h-1zM474 238.78h1v5.41h-1zM477 238.78h1v5.41h-1zM489 238.78h1v5.41h-1z"/>
<path fill="#f38d75" shape-rendering="crispEdges" d="M340 29.9h1v5.41h-1zM329 51.32h1v5.41h-1zM339 51.32h1v5.41h-1zM327 62.04h1v5.41h-1zM319 67.39h1v5.41h-1zM334 72.75h1v5.41h-1zM395 94.17h1v5.41h-1zM395 104.88h1v5.41h-1zM347 131.66h1v5.41h-1zM412 142.38h1v5.41h-1zM425 147.73h1v5.41h-1zM406 169.16h1v5.41h-1zM439 206.65h1v5.41h-1zM475 206.65h1v5.41h-1zM488 206.65h1v5.41h-1zM470 222.72h2v5.41h-2zM454 228.07h1v5.41h-1zM454 233.43h1v5.41h-1zM470 238.78h1v5.41h-1z"/>
<path fill="#f9dbdb" shape-rendering="crispEdges" d="M341 29.9h1v5.41h-1zM357 35.26h1v5.41h-1zM363 35.26h1v5.41h-1zM358 56.68h1v5.41h-1zM410 72.75h1v5.41h-1zM413 110.24h1v5.41h-1zM412 120.95h1v5.41h-1zM429 120.95h1v5.41h-1zM437 137.02h1v5.41h-1zM454 137.02h1v5.41h-1zM461 142.38h1v5.41h-1zM403 147.73h1v5.41h-1zM343 153.09h1v5.41h-1zM355 153.09h1v5.41h-1zM403 153.09h1v5.41h-1zM457 153.09h1v5.41h-1zM400 158.44h1v5.41h-1zM341 163.8h1v5.41h-1zM465 169.16h1v5.41h-1zM468 169.16h1v5.41h-1zM443 174.51h1v5.41h-1zM356 179.87h1v5.41h-1zM401 179.87h1v5.41h-1zM355 185.22h1v5.41h-1zM400 185.22h1v5.41h-1zM412 222.72h1v5.41h-1zM427 222.72h1v5.41h-1z"/>
<path fill="#f3edf3" shape-rendering="crispEdges" d="M342 29.9h2v5.41h-2zM347 29.9h1v5.41h-1zM403 29.9h1v5.41h-1zM429 29.9h1v5.41h-1zM350 35.26h1v5.41h-1zM370 35.26h1v5.41h-1zM401 35.26h1v5.41h-1zM429 35.26h1v5.41h-1zM348 40.61h1v5.41h-1zM355 40.61h1v5.41h-1zM366 40.61h2v5.41h-2zM468 45.97h1v5.41h-1zM361 51.32h1v5.41h-1zM439 51.32h1v5.41h-1zM459 51.32h1v5.41h-1zM466 51.32h1v5.41h-1zM475 51.32h1v5.41h-1zM481 51.32h1v5.41h-1zM485 51.32h2v5.41h-2zM346 56.68h1v5.41h-1zM388 56.68h1v5.41h-1zM393 56.68h1v5.41h-1zM400 56.68h1v5.41h-1zM402 56.68h1v5.41h-1zM429 56.68h1v5.41h-1zM348 62.04h2v5.41h-2zM354 62.04h1v5.41h-1zM357 62.04h1v5.41h-1zM366 62.04h1v5.41h-1zM429 62.04h1v5.41h-1zM478 62.04h1v5.41h-1zM349 67.39h1v5.41h-1zM407 72.75h1v5.41h-1zM417 72.75h1v5.41h-1zM361 78.1h1v5.41h-1zM371 78.1h1v5.41h-1zM429 78.1h1v5.41h-1zM410 83.46h1v5.41h-1zM423 83.46h1v5.41h-1zM315 88.82h1v5.41h-1zM318 88.82h1v5.41h-1zM407 88.82h1v5.41h-1zM424 88.82h2v5.41h-2zM427 88.82h1v5.41h-1zM412 94.17h1v5.41h-1zM408 99.53h2v5.41h-2zM410 110.24h1v5.41h-1zM413 115.6h1v5.41h-1zM429 115.6h1v5.41h-1zM409 120.95h1v5.41h-1zM416 120.95h1v5.41h-1zM418 120.95h1v5.41h-1zM430 120.95h1v5.41h-1zM433 120.95h1v5.41h-1zM407 126.31h1v5.41h-1zM424 126.31h1v5.41h-1zM412 131.66h1v5.41h-1zM425 131.66h1v5.41h-1zM427 131.66h1v5.41h-1zM363 137.02h1v5.41h-1zM365 137.02h1v5.41h-1zM389 137.02h1v5.41h-1zM396 137.02h1v5.41h-1zM447 137.02h1v5.41h-1zM469 137.02h1v5.41h-1zM480 137.02h1v5.41h-1zM488 137.02h1v5.41h-1zM356 142.38h1v5.41h-1zM378 142.38h1v5.41h-1zM395 142.38h1v5.41h-1zM404 142.38h1v5.41h-1zM451 142.38h1v5.41h-1zM462 142.38h1v5.41h-1zM476 142.38h1v5.41h-1zM481 142.38h1v5.41h-1zM486 142.38h1v5.41h-1zM341 147.73h1v5.41h-1zM347 147.73h1v5.41h-1zM378 147.73h1v5.41h-1zM389 147.73h1v5.41h-1zM434 147.73h1v5.41h-1zM460 147.73h1v5.41h-1zM347 153.09h1v5.41h-1zM387 153.09h1v5.41h-1zM397 153.09h1v5.41h-1zM471 153.09h1v5.41h-1zM489 153.09h1v5.41h-1zM347 158.44h1v5.41h-1zM359 158.44h1v5.41h-1zM376 158.44h1v5.41h-1zM391 158.44h1v5.41h-1zM446 158.44h1v5.41h-1zM347 163.8h1v5.41h-1zM368 163.8h1v5.41h-1zM376 163.8h1v5.41h-1zM451 163.8h1v5.41h-1zM469 163.8h1v5.41h-1zM471 163.8h1v5.41h-1zM480 163.8h1v5.41h-1zM317 169.16h1v5.41h-1zM327 169.16h1v5.41h-1zM342 169.16h1v5.41h-1zM352 169.16h1v5.41h-1zM355 169.16h1v5.41h-1zM358 169.16h1v5.41h-1zM373 169.16h1v5.41h-1zM395 169.16h1v5.41h-1zM398 169.16h1v5.41h-1zM400 169.16h1v5.41h-1zM403 169.16h1v5.41h-1zM473 169.16h1v5.41h-1zM438 174.51h1v5.41h-1zM442 174.51h1v5.41h-1zM449 174.51h1v5.41h-1zM452 174.51h1v5.41h-1zM458 174.51h1v5.41h-1zM461 174.51h1v5.41h-1zM465 174.51h1v5.41h-1zM483 174.51h1v5.41h-1zM347 179.87h1v5.41h-1zM351 179.87h1v5.41h-1zM390 179.87h1v5.41h-1zM399 179.87h1v5.41h-1zM435 179.87h1v5.41h-1zM439 179.87h1v5.41h-1zM484 179.87h1v5.41h-1zM347 185.22h1v5.41h-1zM388 185.22h1v5.41h-1zM457 185.22h1v5.41h-1zM469 185.22h1v5.41h-1zM312 233.43h1v5.41h-1zM328 233.43h1v5.41h-1zM330 233.43h2v5.41h-2zM340 233.43h1v5.41h-1z"/>
<path fill="#f9e1db" shape-rendering="crispEdges" d="M344 29.9h1v5.41h-1zM353 29.9h1v5.41h-1zM357 29.9h2v5.41h-2zM363 29.9h1v5.41h-1zM344 35.26h1v5.41h-1zM349 35.26h1v5.41h-1zM365 35.26h1v5.41h-1zM341 51.32h1v5.41h-1zM345 51.32h1v5.41h-1zM358 51.32h1v5.41h-1zM363 51.32h1v5.41h-1zM468 51.32h1v5.41h-1zM353 56.68h1v5.41h-1zM356 56.68h1v5.41h-1zM364 56.68h1v5.41h-1zM416 72.75h1v5.41h-1zM418 72.75h1v5.41h-1zM420 72.75h1v5.41h-1zM424 72.75h1v5.41h-1zM426 72.75h2v5.41h-2zM344 78.1h1v5.41h-1zM366 78.1h1v5.41h-1zM342 88.82h1v5.41h-1zM429 99.53h1v5.41h-1zM412 110.24h1v5.41h-1zM414 110.24h1v5.41h-1zM424 120.95h1v5.41h-1zM426 126.31h1v5.41h-1zM342 137.02h2v5.41h-2zM356 137.02h1v5.41h-1zM375 137.02h1v5.41h-1zM382 137.02h1v5.41h-1zM400 137.02h1v5.41h-1zM483 137.02h1v5.41h-1zM374 142.38h1v5.41h-1zM401 142.38h2v5.41h-2zM440 142.38h1v5.41h-1zM442 142.38h1v5.41h-1zM444 142.38h1v5.41h-1zM450 142.38h1v5.41h-1zM464 142.38h1v5.41h-1zM466 142.38h1v5.41h-1zM345 147.73h1v5.41h-1zM372 147.73h1v5.41h-1zM382 147.73h2v5.41h-2zM385 147.73h1v5.41h-1zM404 147.73h1v5.41h-1zM372 153.09h2v5.41h-2zM380 153.09h1v5.41h-1zM385 153.09h1v5.41h-1zM393 153.09h2v5.41h-2zM399 153.09h1v5.41h-1zM463 153.09h1v5.41h-1zM467 153.09h2v5.41h-2zM477 153.09h1v5.41h-1zM481 153.09h1v5.41h-1zM487 153.09h1v5.41h-1zM342 158.44h1v5.41h-1zM375 158.44h1v5.41h-1zM382 158.44h1v5.41h-1zM385 158.44h2v5.41h-2zM379 163.8h1v5.41h-1zM437 163.8h1v5.41h-1zM449 163.8h2v5.41h-2zM453 163.8h1v5.41h-1zM458 163.8h1v5.41h-1zM472 163.8h1v5.41h-1zM478 163.8h1v5.41h-1zM491 163.8h1v5.41h-1zM357 169.16h1v5.41h-1zM374 169.16h1v5.41h-1zM436 169.16h1v5.41h-1zM451 169.16h1v5.41h-1zM457 169.16h1v5.41h-1zM463 169.16h1v5.41h-1zM470 169.16h1v5.41h-1zM477 169.16h1v5.41h-1zM483 169.16h1v5.41h-1zM486 169.16h1v5.41h-1zM379 174.51h1v5.41h-1zM402 179.87h1v5.41h-1zM343 185.22h1v5.41h-1zM375 185.22h1v5.41h-1zM437 185.22h1v5.41h-1zM453 185.22h1v5.41h-1zM463 185.22h1v5.41h-1zM472 185.22h1v5.41h-1zM487 185.22h1v5.41h-1zM491 185.22h1v5.41h-1zM406 222.72h2v5.41h-2zM431 222.72h1v5.41h-1z"/>
<path fill="#f9d5c9" shape-rendering="crispEdges" d="M345 29.9h1v5.41h-1zM355 35.26h1v5.41h-1zM341 78.1h1v5.41h-1zM426 83.46h1v5.41h-1zM391 94.17h1v5.41h-1zM341 99.53h1v5.41h-1zM359 99.53h1v5.41h-1zM426 110.24h1v5.41h-1zM446 137.02h1v5.41h-1zM484 137.02h1v5.41h-1zM384 147.73h1v5.41h-1zM402 147.73h1v5.41h-1zM370 153.09h1v5.41h-1zM444 153.09h1v5.41h-1zM452 153.09h1v5.41h-1zM461 153.09h1v5.41h-1zM464 153.09h1v5.41h-1zM384 158.44h1v5.41h-1zM401 158.44h1v5.41h-1zM343 163.8h1v5.41h-1zM356 163.8h1v5.41h-1zM370 163.8h1v5.41h-1zM381 163.8h1v5.41h-1zM434 163.8h1v5.41h-1zM438 163.8h1v5.41h-1zM461 163.8h1v5.41h-1zM459 169.16h1v5.41h-1zM464 169.16h1v5.41h-1zM484 169.16h1v5.41h-1zM381 174.51h1v5.41h-1zM357 179.87h1v5.41h-1zM357 185.22h1v5.41h-1zM401 185.22h1v5.41h-1zM438 185.22h1v5.41h-1zM446 185.22h1v5.41h-1zM429 222.72h1v5.41h-1z"/>
<path fill="#f9edf3" shape-rendering="crispEdges" d="M346 29.9h1v5.41h-1zM361 29.9h1v5.41h-1zM342 35.26h2v5.41h-2zM400 35.26h1v5.41h-1zM349 40.61h1v5.41h-1zM353 40.61h1v5.41h-1zM358 40.61h1v5.41h-1zM477 51.32h1v5.41h-1zM479 51.32h2v5.41h-2zM352 56.68h1v5.41h-1zM371 56.68h1v5.41h-1zM344 62.04h1v5.41h-1zM353 62.04h1v5.41h-1zM355 62.04h1v5.41h-1zM367 62.04h1v5.41h-1zM429 67.39h1v5.41h-1zM421 72.75h1v5.41h-1zM343 78.1h1v5.41h-1zM407 83.46h1v5.41h-1zM412 88.82h1v5.41h-1zM415 88.82h1v5.41h-1zM413 94.17h1v5.41h-1zM407 99.53h1v5.41h-1zM415 99.53h1v5.41h-1zM423 99.53h1v5.41h-1zM428 99.53h1v5.41h-1zM412 104.88h1v5.41h-1zM424 104.88h1v5.41h-1zM423 110.24h1v5.41h-1zM405 120.95h1v5.41h-1zM408 120.95h1v5.41h-1zM428 120.95h1v5.41h-1zM411 126.31h1v5.41h-1zM421 126.31h1v5.41h-1zM423 131.66h1v5.41h-1zM354 137.02h1v5.41h-1zM367 137.02h1v5.41h-1zM391 137.02h1v5.41h-1zM357 142.38h1v5.41h-1zM385 142.38h2v5.41h-2zM436 142.38h1v5.41h-1zM455 142.38h1v5.41h-1zM457 142.38h1v5.41h-1zM463 142.38h1v5.41h-1zM470 142.38h1v5.41h-1zM477 142.38h1v5.41h-1zM369 147.73h1v5.41h-1zM438 147.73h1v5.41h-1zM443 147.73h1v5.41h-1zM377 153.09h1v5.41h-1zM389 153.09h1v5.41h-1zM391 153.09h1v5.41h-1zM448 153.09h1v5.41h-1zM358 158.44h1v5.41h-1zM362 158.44h1v5.41h-1zM368 158.44h1v5.41h-1zM378 158.44h1v5.41h-1zM387 158.44h1v5.41h-1zM389 158.44h1v5.41h-1zM435 158.44h1v5.41h-1zM461 158.44h1v5.41h-1zM361 163.8h1v5.41h-1zM365 163.8h1v5.41h-1zM380 163.8h1v5.41h-1zM396 163.8h1v5.41h-1zM456 163.8h1v5.41h-1zM488 163.8h1v5.41h-1zM335 169.16h1v5.41h-1zM343 169.16h1v5.41h-1zM370 169.16h1v5.41h-1zM382 169.16h2v5.41h-2zM386 169.16h1v5.41h-1zM393 169.16h2v5.41h-2zM489 169.16h1v5.41h-1zM375 174.51h1v5.41h-1zM380 174.51h1v5.41h-1zM383 174.51h1v5.41h-1zM390 174.51h1v5.41h-1zM400 174.51h1v5.41h-1zM459 174.51h1v5.41h-1zM341 179.87h1v5.41h-1zM366 179.87h1v5.41h-1zM460 179.87h1v5.41h-1zM362 185.22h1v5.41h-1zM365 185.22h1v5.41h-1zM376 185.22h1v5.41h-1zM378 185.22h1v5.41h-1zM389 185.22h1v5.41h-1zM396 185.22h1v5.41h-1zM441 185.22h1v5.41h-1zM451 185.22h1v5.41h-1zM455 185.22h2v5.41h-2zM481 185.22h1v5.41h-1zM490 185.22h1v5.41h-1zM420 222.72h1v5.41h-1zM313 233.43h1v5.41h-1zM320 233.43h1v5.41h-1zM322 233.43h1v5.41h-1z"/>
<path fill="#f9e1e1" shape-rendering="crispEdges" d="M348 29.9h1v5.41h-1zM364 29.9h1v5.41h-1zM348 35.26h1v5.41h-1zM364 35.26h1v5.41h-1zM429 40.61h1v5.41h-1zM357 51.32h1v5.41h-1zM366 51.32h1v5.41h-1zM463 51.32h1v5.41h-1zM469 51.32h1v5.41h-1zM471 51.32h2v5.41h-2zM354 56.68h1v5.41h-1zM357 56.68h1v5.41h-1zM359 56.68h2v5.41h-2zM365 56.68h1v5.41h-1zM341 62.04h1v5.41h-1zM345 67.39h1v5.41h-1zM355 67.39h1v5.41h-1zM406 72.75h1v5.41h-1zM422 72.75h1v5.41h-1zM348 78.1h2v5.41h-2zM353 78.1h1v5.41h-1zM358 78.1h1v5.41h-1zM363 78.1h1v5.41h-1zM367 78.1h1v5.41h-1zM429 83.46h1v5.41h-1zM414 88.82h1v5.41h-1zM429 88.82h1v5.41h-1zM429 104.88h1v5.41h-1zM429 110.24h1v5.41h-1zM411 120.95h1v5.41h-1zM421 120.95h1v5.41h-1zM359 137.02h1v5.41h-1zM372 137.02h1v5.41h-1zM380 137.02h1v5.41h-1zM383 137.02h1v5.41h-1zM385 137.02h2v5.41h-2zM458 137.02h2v5.41h-2zM466 137.02h1v5.41h-1zM478 137.02h1v5.41h-1zM482 137.02h1v5.41h-1zM370 142.38h1v5.41h-1zM380 142.38h1v5.41h-1zM483 142.38h1v5.41h-1zM491 142.38h1v5.41h-1zM355 147.73h1v5.41h-1zM386 147.73h1v5.41h-1zM394 147.73h2v5.41h-2zM399 147.73h1v5.41h-1zM439 147.73h1v5.41h-1zM341 153.09h1v5.41h-1zM346 153.09h1v5.41h-1zM358 153.09h1v5.41h-1zM378 153.09h1v5.41h-1zM386 153.09h1v5.41h-1zM395 153.09h1v5.41h-1zM451 153.09h1v5.41h-1zM472 153.09h1v5.41h-1zM479 153.09h1v5.41h-1zM346 158.44h1v5.41h-1zM352 158.44h1v5.41h-1zM354 158.44h1v5.41h-1zM373 158.44h1v5.41h-1zM383 158.44h1v5.41h-1zM393 158.44h1v5.41h-1zM403 158.44h1v5.41h-1zM460 158.44h1v5.41h-1zM346 163.8h1v5.41h-1zM352 163.8h1v5.41h-1zM354 163.8h1v5.41h-1zM358 163.8h2v5.41h-2zM372 163.8h1v5.41h-1zM375 163.8h1v5.41h-1zM400 163.8h1v5.41h-1zM440 163.8h1v5.41h-1zM442 163.8h1v5.41h-1zM452 163.8h1v5.41h-1zM454 163.8h1v5.41h-1zM463 163.8h1v5.41h-1zM465 163.8h1v5.41h-1zM475 163.8h3v5.41h-3zM485 163.8h1v5.41h-1zM487 163.8h1v5.41h-1zM384 169.16h1v5.41h-1zM455 169.16h2v5.41h-2zM467 169.16h1v5.41h-1zM475 169.16h2v5.41h-2zM479 169.16h1v5.41h-1zM481 169.16h2v5.41h-2zM401 174.51h2v5.41h-2zM460 174.51h1v5.41h-1zM343 179.87h1v5.41h-1zM346 179.87h1v5.41h-1zM355 179.87h1v5.41h-1zM358 179.87h1v5.41h-1zM370 179.87h1v5.41h-1zM384 179.87h1v5.41h-1zM342 185.22h1v5.41h-1zM346 185.22h1v5.41h-1zM354 185.22h1v5.41h-1zM366 185.22h1v5.41h-1zM380 185.22h1v5.41h-1zM382 185.22h1v5.41h-1zM385 185.22h2v5.41h-2zM399 185.22h1v5.41h-1zM440 185.22h1v5.41h-1zM442 185.22h1v5.41h-1zM452 185.22h1v5.41h-1zM454 185.22h1v5.41h-1zM459 185.22h1v5.41h-1zM466 185.22h1v5.41h-1zM483 185.22h1v5.41h-1zM486 185.22h1v5.41h-1zM428 222.72h1v5.41h-1zM323 233.43h1v5.41h-1z"/>
<path fill="#f9e7e7" shape-rendering="crispEdges" d="M349 29.9h1v5.41h-1zM359 29.9h2v5.41h-2zM361 35.26h2v5.41h-2zM403 35.26h1v5.41h-1zM348 51.32h2v5.41h-2zM353 51.32h1v5.41h-1zM355 51.32h2v5.41h-2zM360 51.32h1v5.41h-1zM465 51.32h1v5.41h-1zM470 51.32h1v5.41h-1zM488 51.32h1v5.41h-1zM490 51.32h1v5.41h-1zM348 56.68h1v5.41h-1zM362 56.68h1v5.41h-1zM345 62.04h1v5.41h-1zM358 62.04h2v5.41h-2zM353 67.39h2v5.41h-2zM358 67.39h1v5.41h-1zM366 67.39h2v5.41h-2zM405 72.75h1v5.41h-1zM408 72.75h1v5.41h-1zM354 78.1h1v5.41h-1zM357 78.1h1v5.41h-1zM360 78.1h1v5.41h-1zM364 78.1h1v5.41h-1zM413 83.46h2v5.41h-2zM427 83.46h1v5.41h-1zM413 88.82h1v5.41h-1zM426 94.17h1v5.41h-1zM411 99.53h4v5.41h-4zM424 99.53h2v5.41h-2zM427 99.53h1v5.41h-1zM414 104.88h1v5.41h-1zM411 110.24h1v5.41h-1zM424 110.24h2v5.41h-2zM426 115.6h1v5.41h-1zM407 120.95h1v5.41h-1zM415 120.95h1v5.41h-1zM425 120.95h1v5.41h-1zM427 120.95h1v5.41h-1zM412 126.31h2v5.41h-2zM414 131.66h1v5.41h-1zM341 137.02h1v5.41h-1zM346 137.02h1v5.41h-1zM355 137.02h1v5.41h-1zM366 137.02h1v5.41h-1zM368 137.02h1v5.41h-1zM390 137.02h1v5.41h-1zM393 137.02h2v5.41h-2zM399 137.02h1v5.41h-1zM404 137.02h1v5.41h-1zM436 137.02h1v5.41h-1zM441 137.02h1v5.41h-1zM462 137.02h1v5.41h-1zM465 137.02h1v5.41h-1zM467 137.02h2v5.41h-2zM472 137.02h1v5.41h-1zM477 137.02h1v5.41h-1zM479 137.02h1v5.41h-1zM491 137.02h1v5.41h-1zM372 142.38h1v5.41h-1zM382 142.38h1v5.41h-1zM441 142.38h1v5.41h-1zM452 142.38h3v5.41h-3zM459 142.38h1v5.41h-1zM465 142.38h1v5.41h-1zM472 142.38h1v5.41h-1zM343 147.73h1v5.41h-1zM346 147.73h1v5.41h-1zM380 147.73h1v5.41h-1zM393 147.73h1v5.41h-1zM359 153.09h1v5.41h-1zM368 153.09h2v5.41h-2zM376 153.09h1v5.41h-1zM390 153.09h1v5.41h-1zM396 153.09h1v5.41h-1zM404 153.09h1v5.41h-1zM462 153.09h1v5.41h-1zM470 153.09h1v5.41h-1zM475 153.09h2v5.41h-2zM480 153.09h1v5.41h-1zM486 153.09h1v5.41h-1zM488 153.09h1v5.41h-1zM341 158.44h1v5.41h-1zM366 158.44h1v5.41h-1zM390 158.44h1v5.41h-1zM394 158.44h1v5.41h-1zM404 158.44h1v5.41h-1zM351 163.8h1v5.41h-1zM362 163.8h2v5.41h-2zM366 163.8h1v5.41h-1zM373 163.8h1v5.41h-1zM383 163.8h1v5.41h-1zM385 163.8h2v5.41h-2zM393 163.8h2v5.41h-2zM399 163.8h1v5.41h-1zM403 163.8h1v5.41h-1zM436 163.8h1v5.41h-1zM467 163.8h2v5.41h-2zM470 163.8h1v5.41h-1zM479 163.8h1v5.41h-1zM336 169.16h1v5.41h-1zM353 169.16h1v5.41h-1zM371 169.16h1v5.41h-1zM401 169.16h2v5.41h-2zM447 169.16h1v5.41h-1zM462 169.16h1v5.41h-1zM469 169.16h1v5.41h-1zM480 169.16h1v5.41h-1zM485 169.16h1v5.41h-1zM488 169.16h1v5.41h-1zM490 169.16h1v5.41h-1zM370 174.51h1v5.41h-1zM374 174.51h1v5.41h-1zM382 174.51h1v5.41h-1zM384 174.51h1v5.41h-1zM398 174.51h1v5.41h-1zM403 174.51h2v5.41h-2zM446 174.51h1v5.41h-1zM484 174.51h1v5.41h-1zM342 179.87h1v5.41h-1zM352 179.87h1v5.41h-1zM359 179.87h1v5.41h-1zM372 179.87h2v5.41h-2zM375 179.87h1v5.41h-1zM380 179.87h1v5.41h-1zM382 179.87h1v5.41h-1zM394 179.87h1v5.41h-1zM398 179.87h1v5.41h-1zM400 179.87h1v5.41h-1zM341 185.22h1v5.41h-1zM358 185.22h1v5.41h-1zM368 185.22h1v5.41h-1zM372 185.22h1v5.41h-1zM383 185.22h1v5.41h-1zM393 185.22h2v5.41h-2zM403 185.22h2v5.41h-2zM436 185.22h1v5.41h-1zM458 185.22h1v5.41h-1zM467 185.22h2v5.41h-2zM470 185.22h1v5.41h-1zM475 185.22h1v5.41h-1zM485 185.22h1v5.41h-1zM419 222.72h1v5.41h-1zM421 222.72h1v5.41h-1zM337 233.43h1v5.41h-1zM339 233.43h1v5.41h-1z"/>
<path fill="#ede1ed" shape-rendering="crispEdges" d="M350 29.9h1v5.41h-1zM371 29.9h1v5.41h-1zM379 29.9h1v5.41h-1zM351 35.26h1v5.41h-1zM379 35.26h2v5.41h-2zM392 35.26h1v5.41h-1zM394 35.26h1v5.41h-1zM419 35.26h1v5.41h-1zM356 40.61h2v5.41h-2zM364 40.61h1v5.41h-1zM419 40.61h1v5.41h-1zM425 40.61h1v5.41h-1zM432 40.61h1v5.41h-1zM439 45.97h1v5.41h-1zM457 45.97h1v5.41h-1zM469 45.97h1v5.41h-1zM472 45.97h1v5.41h-1zM480 45.97h2v5.41h-2zM483 45.97h1v5.41h-1zM488 45.97h1v5.41h-1zM342 51.32h2v5.41h-2zM350 51.32h1v5.41h-1zM379 51.32h2v5.41h-2zM399 51.32h2v5.41h-2zM410 51.32h2v5.41h-2zM414 51.32h1v5.41h-1zM420 51.32h1v5.41h-1zM428 51.32h1v5.41h-1zM436 51.32h1v5.41h-1zM440 51.32h1v5.41h-1zM446 51.32h1v5.41h-1zM455 51.32h1v5.41h-1zM460 51.32h1v5.41h-1zM467 51.32h1v5.41h-1zM351 56.68h1v5.41h-1zM378 56.68h2v5.41h-2zM383 56.68h1v5.41h-1zM392 56.68h1v5.41h-1zM394 56.68h1v5.41h-1zM401 56.68h1v5.41h-1zM404 56.68h1v5.41h-1zM352 62.04h1v5.41h-1zM403 62.04h1v5.41h-1zM419 62.04h1v5.41h-1zM456 62.04h1v5.41h-1zM468 62.04h1v5.41h-1zM489 62.04h2v5.41h-2zM352 67.39h1v5.41h-1zM361 67.39h1v5.41h-1zM364 67.39h2v5.41h-2zM380 67.39h1v5.41h-1zM388 67.39h1v5.41h-1zM403 67.39h1v5.41h-1zM432 67.39h1v5.41h-1zM341 72.75h1v5.41h-1zM345 72.75h1v5.41h-1zM353 72.75h1v5.41h-1zM355 72.75h1v5.41h-1zM366 72.75h2v5.41h-2zM378 78.1h2v5.41h-2zM387 78.1h2v5.41h-2zM401 78.1h1v5.41h-1zM419 78.1h1v5.41h-1zM406 83.46h1v5.41h-1zM430 83.46h1v5.41h-1zM313 88.82h1v5.41h-1zM330 88.82h1v5.41h-1zM406 88.82h1v5.41h-1zM408 88.82h3v5.41h-3zM416 88.82h1v5.41h-1zM418 88.82h1v5.41h-1zM428 88.82h1v5.41h-1zM430 88.82h1v5.41h-1zM411 94.17h1v5.41h-1zM415 94.17h1v5.41h-1zM421 94.17h1v5.41h-1zM424 94.17h1v5.41h-1zM427 94.17h1v5.41h-1zM406 99.53h1v5.41h-1zM433 99.53h1v5.41h-1zM407 104.88h1v5.41h-1zM410 104.88h1v5.41h-1zM423 104.88h1v5.41h-1zM406 110.24h1v5.41h-1zM408 110.24h1v5.41h-1zM416 110.24h1v5.41h-1zM419 110.24h2v5.41h-2zM421 115.6h1v5.41h-1zM425 115.6h1v5.41h-1zM427 115.6h1v5.41h-1zM422 120.95h1v5.41h-1zM431 120.95h2v5.41h-2zM405 126.31h2v5.41h-2zM408 126.31h2v5.41h-2zM417 126.31h1v5.41h-1zM407 131.66h1v5.41h-1zM410 131.66h1v5.41h-1zM418 131.66h1v5.41h-1zM428 131.66h1v5.41h-1zM433 131.66h1v5.41h-1zM454 131.66h1v5.41h-1zM344 137.02h1v5.41h-1zM349 137.02h1v5.41h-1zM360 137.02h2v5.41h-2zM364 137.02h1v5.41h-1zM392 137.02h1v5.41h-1zM397 137.02h1v5.41h-1zM471 137.02h1v5.41h-1zM489 137.02h1v5.41h-1zM342 142.38h1v5.41h-1zM355 142.38h1v5.41h-1zM369 142.38h1v5.41h-1zM376 142.38h1v5.41h-1zM448 142.38h1v5.41h-1zM469 142.38h1v5.41h-1zM471 142.38h1v5.41h-1zM480 142.38h1v5.41h-1zM349 147.73h1v5.41h-1zM362 147.73h1v5.41h-1zM388 147.73h1v5.41h-1zM397 147.73h1v5.41h-1zM437 147.73h1v5.41h-1zM444 147.73h2v5.41h-2zM464 147.73h1v5.41h-1zM313 153.09h1v5.41h-1zM334 153.09h1v5.41h-1zM344 153.09h1v5.41h-1zM360 153.09h1v5.41h-1zM364 153.09h1v5.41h-1zM349 158.44h1v5.41h-1zM361 158.44h1v5.41h-1zM364 158.44h1v5.41h-1zM377 158.44h1v5.41h-1zM392 158.44h1v5.41h-1zM444 158.44h2v5.41h-2zM450 158.44h1v5.41h-1zM452 158.44h2v5.41h-2zM463 158.44h1v5.41h-1zM465 158.44h1v5.41h-1zM483 158.44h1v5.41h-1zM486 158.44h1v5.41h-1zM491 158.44h1v5.41h-1zM313 163.8h1v5.41h-1zM348 163.8h1v5.41h-1zM350 163.8h1v5.41h-1zM377 163.8h1v5.41h-1zM388 163.8h1v5.41h-1zM392 163.8h1v5.41h-1zM397 163.8h1v5.41h-1zM448 163.8h1v5.41h-1zM474 163.8h1v5.41h-1zM312 169.16h2v5.41h-2zM322 169.16h1v5.41h-1zM324 169.16h1v5.41h-1zM332 169.16h1v5.41h-1zM341 169.16h1v5.41h-1zM354 169.16h1v5.41h-1zM362 169.16h2v5.41h-2zM368 169.16h1v5.41h-1zM399 169.16h1v5.41h-1zM474 169.16h1v5.41h-1zM342 174.51h2v5.41h-2zM346 174.51h1v5.41h-1zM355 174.51h1v5.41h-1zM368 174.51h1v5.41h-1zM378 174.51h1v5.41h-1zM388 174.51h1v5.41h-1zM396 174.51h1v5.41h-1zM440 174.51h1v5.41h-1zM451 174.51h1v5.41h-1zM454 174.51h1v5.41h-1zM463 174.51h1v5.41h-1zM470 174.51h1v5.41h-1zM472 174.51h1v5.41h-1zM478 174.51h1v5.41h-1zM481 174.51h1v5.41h-1zM487 174.51h1v5.41h-1zM344 179.87h1v5.41h-1zM349 179.87h1v5.41h-1zM362 179.87h1v5.41h-1zM364 179.87h1v5.41h-1zM367 179.87h1v5.41h-1zM369 179.87h1v5.41h-1zM387 179.87h1v5.41h-1zM389 179.87h1v5.41h-1zM391 179.87h1v5.41h-1zM396 179.87h1v5.41h-1zM438 179.87h1v5.41h-1zM445 179.87h1v5.41h-1zM450 179.87h1v5.41h-1zM461 179.87h1v5.41h-1zM464 179.87h1v5.41h-1zM466 179.87h1v5.41h-1zM344 185.22h1v5.41h-1zM349 185.22h1v5.41h-1zM360 185.22h2v5.41h-2zM377 185.22h1v5.41h-1zM397 185.22h1v5.41h-1zM448 185.22h1v5.41h-1zM338 206.65h1v5.41h-1zM314 233.43h1v5.41h-1zM318 233.43h1v5.41h-1zM325 233.43h1v5.41h-1zM327 233.43h1v5.41h-1zM414 233.43h1v5.41h-1z"/>
<path fill="#e7dbed" shape-rendering="crispEdges" d="M351 29.9h1v5.41h-1zM381 29.9h1v5.41h-1zM402 29.9h1v5.41h-1zM478 29.9h1v5.41h-1zM368 35.26h1v5.41h-1zM378 35.26h1v5.41h-1zM383 35.26h1v5.41h-1zM391 35.26h1v5.41h-1zM395 35.26h1v5.41h-1zM410 35.26h2v5.41h-2zM414 35.26h1v5.41h-1zM420 35.26h1v5.41h-1zM352 40.61h1v5.41h-1zM361 40.61h2v5.41h-2zM365 40.61h1v5.41h-1zM370 40.61h1v5.41h-1zM380 40.61h1v5.41h-1zM399 40.61h2v5.41h-2zM402 40.61h1v5.41h-1zM411 40.61h1v5.41h-1zM427 40.61h1v5.41h-1zM431 40.61h1v5.41h-1zM447 45.97h1v5.41h-1zM456 45.97h1v5.41h-1zM471 45.97h1v5.41h-1zM474 45.97h1v5.41h-1zM476 45.97h2v5.41h-2zM479 45.97h1v5.41h-1zM482 45.97h1v5.41h-1zM489 45.97h2v5.41h-2zM351 51.32h1v5.41h-1zM370 51.32h1v5.41h-1zM378 51.32h1v5.41h-1zM381 51.32h1v5.41h-1zM383 51.32h1v5.41h-1zM387 51.32h1v5.41h-1zM393 51.32h1v5.41h-1zM401 51.32h2v5.41h-2zM413 51.32h1v5.41h-1zM415 51.32h1v5.41h-1zM422 51.32h1v5.41h-1zM424 51.32h1v5.41h-1zM430 51.32h1v5.41h-1zM432 51.32h1v5.41h-1zM434 51.32h1v5.41h-1zM438 51.32h1v5.41h-1zM441 51.32h1v5.41h-1zM451 51.32h1v5.41h-1zM454 51.32h1v5.41h-1zM461 51.32h1v5.41h-1zM491 51.32h1v5.41h-1zM368 56.68h1v5.41h-1zM381 56.68h1v5.41h-1zM389 56.68h1v5.41h-1zM391 56.68h1v5.41h-1zM342 62.04h2v5.41h-2zM346 62.04h2v5.41h-2zM365 62.04h1v5.41h-1zM393 62.04h1v5.41h-1zM400 62.04h1v5.41h-1zM402 62.04h1v5.41h-1zM432 62.04h1v5.41h-1zM447 62.04h1v5.41h-1zM462 62.04h1v5.41h-1zM471 62.04h2v5.41h-2zM483 62.04h1v5.41h-1zM488 62.04h1v5.41h-1zM342 67.39h2v5.41h-2zM362 67.39h1v5.41h-1zM379 67.39h1v5.41h-1zM387 67.39h1v5.41h-1zM399 67.39h2v5.41h-2zM410 67.39h2v5.41h-2zM419 67.39h2v5.41h-2zM457 67.39h1v5.41h-1zM354 72.75h1v5.41h-1zM371 72.75h1v5.41h-1zM380 72.75h1v5.41h-1zM403 72.75h1v5.41h-1zM468 72.75h1v5.41h-1zM351 78.1h1v5.41h-1zM370 78.1h1v5.41h-1zM380 78.1h1v5.41h-1zM404 78.1h1v5.41h-1zM420 78.1h1v5.41h-1zM457 78.1h1v5.41h-1zM478 78.1h1v5.41h-1zM405 83.46h1v5.41h-1zM417 83.46h1v5.41h-1zM419 83.46h1v5.41h-1zM433 83.46h1v5.41h-1zM314 88.82h1v5.41h-1zM317 88.82h1v5.41h-1zM325 88.82h1v5.41h-1zM419 88.82h1v5.41h-1zM407 94.17h1v5.41h-1zM410 94.17h1v5.41h-1zM425 94.17h1v5.41h-1zM428 94.17h1v5.41h-1zM405 99.53h1v5.41h-1zM416 99.53h1v5.41h-1zM418 99.53h1v5.41h-1zM422 99.53h1v5.41h-1zM431 99.53h2v5.41h-2zM408 104.88h2v5.41h-2zM416 104.88h1v5.41h-1zM418 104.88h1v5.41h-1zM431 104.88h3v5.41h-3zM405 110.24h1v5.41h-1zM422 110.24h1v5.41h-1zM431 110.24h2v5.41h-2zM411 115.6h1v5.41h-1zM415 115.6h1v5.41h-1zM423 115.6h1v5.41h-1zM417 120.95h1v5.41h-1zM420 120.95h1v5.41h-1zM428 126.31h1v5.41h-1zM430 126.31h1v5.41h-1zM433 126.31h1v5.41h-1zM408 131.66h2v5.41h-2zM417 131.66h1v5.41h-1zM419 131.66h1v5.41h-1zM422 131.66h1v5.41h-1zM432 131.66h1v5.41h-1zM438 131.66h1v5.41h-1zM488 131.66h1v5.41h-1zM473 137.02h1v5.41h-1zM313 142.38h1v5.41h-1zM341 142.38h1v5.41h-1zM346 142.38h1v5.41h-1zM366 142.38h1v5.41h-1zM377 142.38h1v5.41h-1zM387 142.38h1v5.41h-1zM389 142.38h1v5.41h-1zM391 142.38h1v5.41h-1zM396 142.38h1v5.41h-1zM489 142.38h1v5.41h-1zM348 147.73h1v5.41h-1zM364 147.73h1v5.41h-1zM392 147.73h1v5.41h-1zM440 147.73h1v5.41h-1zM461 147.73h1v5.41h-1zM466 147.73h1v5.41h-1zM472 147.73h1v5.41h-1zM483 147.73h1v5.41h-1zM491 147.73h1v5.41h-1zM312 153.09h1v5.41h-1zM323 153.09h1v5.41h-1zM327 153.09h1v5.41h-1zM336 153.09h1v5.41h-1zM340 153.09h1v5.41h-1zM349 153.09h1v5.41h-1zM474 153.09h1v5.41h-1zM360 158.44h1v5.41h-1zM397 158.44h1v5.41h-1zM458 158.44h1v5.41h-1zM467 158.44h2v5.41h-2zM472 158.44h1v5.41h-1zM478 158.44h1v5.41h-1zM485 158.44h1v5.41h-1zM312 163.8h1v5.41h-1zM316 169.16h1v5.41h-1zM328 169.16h2v5.41h-2zM337 169.16h1v5.41h-1zM340 169.16h1v5.41h-1zM349 169.16h1v5.41h-1zM360 169.16h2v5.41h-2zM365 169.16h1v5.41h-1zM367 169.16h1v5.41h-1zM376 169.16h1v5.41h-1zM387 169.16h1v5.41h-1zM389 169.16h1v5.41h-1zM391 169.16h1v5.41h-1zM396 169.16h1v5.41h-1zM358 174.51h1v5.41h-1zM369 174.51h1v5.41h-1zM376 174.51h1v5.41h-1zM387 174.51h1v5.41h-1zM391 174.51h1v5.41h-1zM437 174.51h1v5.41h-1zM456 174.51h2v5.41h-2zM476 174.51h2v5.41h-2zM479 174.51h1v5.41h-1zM485 174.51h2v5.41h-2zM348 179.87h1v5.41h-1zM360 179.87h1v5.41h-1zM377 179.87h1v5.41h-1zM388 179.87h1v5.41h-1zM449 179.87h1v5.41h-1zM452 179.87h2v5.41h-2zM458 179.87h2v5.41h-2zM465 179.87h1v5.41h-1zM472 179.87h1v5.41h-1zM483 179.87h1v5.41h-1zM491 179.87h1v5.41h-1zM348 185.22h1v5.41h-1zM392 185.22h1v5.41h-1zM474 185.22h1v5.41h-1zM313 190.58h1v5.41h-1zM344 190.58h1v5.41h-1zM313 206.65h1v5.41h-1zM397 206.65h1v5.41h-1zM411 212h1v5.41h-1zM313 222.72h1v5.41h-1zM338 222.72h1v5.41h-1zM411 228.07h1v5.41h-1zM316 233.43h1v5.41h-1zM326 233.43h1v5.41h-1zM409 233.43h2v5.41h-2zM415 233.43h1v5.41h-1zM417 233.43h1v5.41h-1zM422 233.43h1v5.41h-1zM429 233.43h1v5.41h-1zM413 238.78h1v5.41h-1z"/>
<path fill="#f3e7f3" shape-rendering="crispEdges" d="M352 29.9h1v5.41h-1zM380 29.9h1v5.41h-1zM387 35.26h1v5.41h-1zM393 35.26h1v5.41h-1zM399 35.26h1v5.41h-1zM404 35.26h1v5.41h-1zM344 40.61h1v5.41h-1zM354 40.61h1v5.41h-1zM359 40.61h2v5.41h-2zM363 40.61h1v5.41h-1zM371 40.61h1v5.41h-1zM403 40.61h1v5.41h-1zM371 51.32h1v5.41h-1zM403 51.32h1v5.41h-1zM419 51.32h1v5.41h-1zM447 51.32h1v5.41h-1zM453 51.32h1v5.41h-1zM458 51.32h1v5.41h-1zM342 56.68h1v5.41h-1zM347 56.68h1v5.41h-1zM350 56.68h1v5.41h-1zM380 56.68h1v5.41h-1zM387 56.68h1v5.41h-1zM399 56.68h1v5.41h-1zM364 62.04h1v5.41h-1zM371 62.04h1v5.41h-1zM457 62.04h1v5.41h-1zM348 67.39h1v5.41h-1zM363 67.39h1v5.41h-1zM346 78.1h2v5.41h-2zM350 78.1h1v5.41h-1zM352 78.1h1v5.41h-1zM399 78.1h2v5.41h-2zM402 78.1h1v5.41h-1zM408 83.46h2v5.41h-2zM418 83.46h1v5.41h-1zM428 83.46h1v5.41h-1zM319 88.82h2v5.41h-2zM430 99.53h1v5.41h-1zM411 104.88h1v5.41h-1zM415 104.88h1v5.41h-1zM421 104.88h1v5.41h-1zM428 104.88h1v5.41h-1zM407 110.24h1v5.41h-1zM428 110.24h1v5.41h-1zM430 110.24h1v5.41h-1zM433 110.24h1v5.41h-1zM412 115.6h1v5.41h-1zM414 115.6h1v5.41h-1zM410 126.31h1v5.41h-1zM416 126.31h1v5.41h-1zM423 126.31h1v5.41h-1zM425 126.31h1v5.41h-1zM427 126.31h1v5.41h-1zM347 137.02h1v5.41h-1zM362 137.02h1v5.41h-1zM377 137.02h1v5.41h-1zM387 137.02h2v5.41h-2zM448 137.02h1v5.41h-1zM490 137.02h1v5.41h-1zM345 142.38h1v5.41h-1zM353 142.38h1v5.41h-1zM399 142.38h1v5.41h-1zM447 142.38h1v5.41h-1zM479 142.38h1v5.41h-1zM485 142.38h1v5.41h-1zM488 142.38h1v5.41h-1zM490 142.38h1v5.41h-1zM365 147.73h1v5.41h-1zM367 147.73h1v5.41h-1zM387 147.73h1v5.41h-1zM391 147.73h1v5.41h-1zM446 147.73h1v5.41h-1zM449 147.73h2v5.41h-2zM484 147.73h1v5.41h-1zM351 153.09h1v5.41h-1zM365 153.09h1v5.41h-1zM367 153.09h1v5.41h-1zM388 153.09h1v5.41h-1zM344 158.44h1v5.41h-1zM365 158.44h1v5.41h-1zM367 158.44h1v5.41h-1zM396 158.44h1v5.41h-1zM434 158.44h1v5.41h-1zM449 158.44h1v5.41h-1zM464 158.44h1v5.41h-1zM344 163.8h1v5.41h-1zM349 163.8h1v5.41h-1zM360 163.8h1v5.41h-1zM364 163.8h1v5.41h-1zM378 163.8h1v5.41h-1zM387 163.8h1v5.41h-1zM389 163.8h1v5.41h-1zM391 163.8h1v5.41h-1zM323 169.16h1v5.41h-1zM346 169.16h1v5.41h-1zM372 169.16h1v5.41h-1zM378 169.16h1v5.41h-1zM390 169.16h1v5.41h-1zM404 169.16h1v5.41h-1zM345 174.51h1v5.41h-1zM353 174.51h1v5.41h-1zM356 174.51h1v5.41h-1zM372 174.51h1v5.41h-1zM385 174.51h2v5.41h-2zM389 174.51h1v5.41h-1zM393 174.51h3v5.41h-3zM453 174.51h1v5.41h-1zM363 179.87h1v5.41h-1zM365 179.87h1v5.41h-1zM368 179.87h1v5.41h-1zM376 179.87h1v5.41h-1zM378 179.87h1v5.41h-1zM434 179.87h1v5.41h-1zM443 179.87h1v5.41h-1zM446 179.87h1v5.41h-1zM351 185.22h1v5.41h-1zM364 185.22h1v5.41h-1zM391 185.22h1v5.41h-1zM471 185.22h1v5.41h-1zM480 185.22h1v5.41h-1zM315 233.43h1v5.41h-1zM329 233.43h1v5.41h-1zM336 233.43h1v5.41h-1zM411 233.43h1v5.41h-1zM413 233.43h1v5.41h-1z"/>
<path fill="#f9dbd5" shape-rendering="crispEdges" d="M354 29.9h1v5.41h-1zM356 29.9h1v5.41h-1zM367 29.9h1v5.41h-1zM345 35.26h1v5.41h-1zM354 35.26h1v5.41h-1zM356 35.26h1v5.41h-1zM359 35.26h2v5.41h-2zM478 51.32h1v5.41h-1zM341 56.68h1v5.41h-1zM345 56.68h1v5.41h-1zM355 56.68h1v5.41h-1zM363 56.68h1v5.41h-1zM412 72.75h1v5.41h-1zM415 72.75h1v5.41h-1zM423 72.75h1v5.41h-1zM431 72.75h1v5.41h-1zM341 88.82h1v5.41h-1zM352 88.82h1v5.41h-1zM426 88.82h1v5.41h-1zM342 110.24h1v5.41h-1zM359 110.24h1v5.41h-1zM342 115.6h1v5.41h-1zM414 120.95h1v5.41h-1zM426 131.66h1v5.41h-1zM345 137.02h1v5.41h-1zM353 137.02h1v5.41h-1zM374 137.02h1v5.41h-1zM384 137.02h1v5.41h-1zM398 137.02h1v5.41h-1zM402 137.02h1v5.41h-1zM440 137.02h1v5.41h-1zM442 137.02h1v5.41h-1zM444 137.02h2v5.41h-2zM452 137.02h2v5.41h-2zM464 137.02h1v5.41h-1zM371 142.38h1v5.41h-1zM434 142.38h1v5.41h-1zM445 142.38h1v5.41h-1zM449 142.38h1v5.41h-1zM484 142.38h1v5.41h-1zM353 147.73h1v5.41h-1zM356 147.73h1v5.41h-1zM375 147.73h1v5.41h-1zM379 147.73h1v5.41h-1zM398 147.73h1v5.41h-1zM400 147.73h1v5.41h-1zM342 153.09h1v5.41h-1zM345 153.09h1v5.41h-1zM353 153.09h1v5.41h-1zM375 153.09h1v5.41h-1zM382 153.09h2v5.41h-2zM400 153.09h1v5.41h-1zM436 153.09h1v5.41h-1zM441 153.09h1v5.41h-1zM455 153.09h1v5.41h-1zM459 153.09h1v5.41h-1zM465 153.09h2v5.41h-2zM478 153.09h1v5.41h-1zM482 153.09h2v5.41h-2zM491 153.09h1v5.41h-1zM343 158.44h1v5.41h-1zM355 158.44h3v5.41h-3zM372 158.44h1v5.41h-1zM398 158.44h1v5.41h-1zM355 163.8h1v5.41h-1zM384 163.8h1v5.41h-1zM398 163.8h1v5.41h-1zM402 163.8h1v5.41h-1zM444 163.8h1v5.41h-1zM459 163.8h1v5.41h-1zM464 163.8h1v5.41h-1zM466 163.8h1v5.41h-1zM483 163.8h1v5.41h-1zM379 169.16h1v5.41h-1zM437 169.16h1v5.41h-1zM441 169.16h1v5.41h-1zM466 169.16h1v5.41h-1zM472 169.16h1v5.41h-1zM478 169.16h1v5.41h-1zM487 169.16h1v5.41h-1zM491 169.16h1v5.41h-1zM345 179.87h1v5.41h-1zM353 179.87h1v5.41h-1zM371 179.87h1v5.41h-1zM374 179.87h1v5.41h-1zM379 179.87h1v5.41h-1zM370 185.22h1v5.41h-1zM374 185.22h1v5.41h-1zM384 185.22h1v5.41h-1zM402 185.22h1v5.41h-1zM444 185.22h2v5.41h-2zM449 185.22h2v5.41h-2zM461 185.22h1v5.41h-1zM464 185.22h1v5.41h-1zM405 222.72h1v5.41h-1zM415 222.72h1v5.41h-1zM417 222.72h1v5.41h-1zM426 222.72h1v5.41h-1zM430 222.72h1v5.41h-1zM445 238.78h1v5.41h-1z"/>
<path fill="#f9dbcf" shape-rendering="crispEdges" d="M355 29.9h1v5.41h-1zM353 35.26h1v5.41h-1zM367 56.68h1v5.41h-1zM345 78.1h1v5.41h-1zM342 83.46h1v5.41h-1zM359 88.82h1v5.41h-1zM426 104.88h1v5.41h-1zM342 120.95h1v5.41h-1zM413 120.95h1v5.41h-1zM456 153.09h1v5.41h-1zM458 153.09h1v5.41h-1zM379 158.44h1v5.41h-1zM402 158.44h1v5.41h-1zM374 163.8h1v5.41h-1zM401 163.8h1v5.41h-1zM445 163.8h1v5.41h-1zM381 169.16h1v5.41h-1zM345 185.22h1v5.41h-1zM353 185.22h1v5.41h-1zM356 185.22h1v5.41h-1zM418 222.72h1v5.41h-1zM446 238.78h1v5.41h-1z"/>
<path fill="#f9eded" shape-rendering="crispEdges" d="M362 29.9h1v5.41h-1zM352 35.26h1v5.41h-1zM402 35.26h1v5.41h-1zM341 40.61h1v5.41h-1zM345 40.61h1v5.41h-1zM478 45.97h1v5.41h-1zM344 51.32h1v5.41h-1zM362 51.32h1v5.41h-1zM365 51.32h1v5.41h-1zM473 51.32h2v5.41h-2zM476 51.32h1v5.41h-1zM483 51.32h2v5.41h-2zM361 56.68h1v5.41h-1zM403 56.68h1v5.41h-1zM363 62.04h1v5.41h-1zM344 67.39h1v5.41h-1zM356 67.39h1v5.41h-1zM359 67.39h2v5.41h-2zM342 78.1h1v5.41h-1zM356 78.1h1v5.41h-1zM362 78.1h1v5.41h-1zM403 78.1h1v5.41h-1zM411 83.46h1v5.41h-1zM415 83.46h1v5.41h-1zM421 83.46h1v5.41h-1zM424 83.46h1v5.41h-1zM421 88.82h1v5.41h-1zM414 94.17h1v5.41h-1zM429 94.17h1v5.41h-1zM410 99.53h1v5.41h-1zM413 104.88h1v5.41h-1zM425 104.88h1v5.41h-1zM427 104.88h1v5.41h-1zM427 110.24h1v5.41h-1zM406 120.95h1v5.41h-1zM410 120.95h1v5.41h-1zM415 126.31h1v5.41h-1zM429 126.31h1v5.41h-1zM413 131.66h1v5.41h-1zM415 131.66h1v5.41h-1zM421 131.66h1v5.41h-1zM424 131.66h1v5.41h-1zM429 131.66h1v5.41h-1zM351 137.02h1v5.41h-1zM376 137.02h1v5.41h-1zM378 137.02h1v5.41h-1zM455 137.02h1v5.41h-1zM470 137.02h1v5.41h-1zM475 137.02h2v5.41h-2zM485 137.02h1v5.41h-1zM373 142.38h1v5.41h-1zM375 142.38h1v5.41h-1zM383 142.38h1v5.41h-1zM393 142.38h2v5.41h-2zM398 142.38h1v5.41h-1zM400 142.38h1v5.41h-1zM403 142.38h1v5.41h-1zM456 142.38h1v5.41h-1zM468 142.38h1v5.41h-1zM475 142.38h1v5.41h-1zM478 142.38h1v5.41h-1zM487 142.38h1v5.41h-1zM352 147.73h1v5.41h-1zM354 147.73h1v5.41h-1zM359 147.73h1v5.41h-1zM368 147.73h1v5.41h-1zM376 147.73h1v5.41h-1zM390 147.73h1v5.41h-1zM396 147.73h1v5.41h-1zM435 147.73h1v5.41h-1zM352 153.09h1v5.41h-1zM362 153.09h2v5.41h-2zM366 153.09h1v5.41h-1zM447 153.09h1v5.41h-1zM469 153.09h1v5.41h-1zM485 153.09h1v5.41h-1zM351 158.44h1v5.41h-1zM363 158.44h1v5.41h-1zM369 158.44h1v5.41h-1zM395 158.44h1v5.41h-1zM443 158.44h1v5.41h-1zM484 158.44h1v5.41h-1zM367 163.8h1v5.41h-1zM369 163.8h1v5.41h-1zM390 163.8h1v5.41h-1zM404 163.8h1v5.41h-1zM441 163.8h1v5.41h-1zM455 163.8h1v5.41h-1zM457 163.8h1v5.41h-1zM462 163.8h1v5.41h-1zM490 163.8h1v5.41h-1zM334 169.16h1v5.41h-1zM345 169.16h1v5.41h-1zM359 169.16h1v5.41h-1zM375 169.16h1v5.41h-1zM380 169.16h1v5.41h-1zM385 169.16h1v5.41h-1zM448 169.16h1v5.41h-1zM471 169.16h1v5.41h-1zM357 174.51h1v5.41h-1zM434 174.51h1v5.41h-1zM444 174.51h2v5.41h-2zM450 174.51h1v5.41h-1zM464 174.51h1v5.41h-1zM466 174.51h1v5.41h-1zM354 179.87h1v5.41h-1zM383 179.87h1v5.41h-1zM385 179.87h2v5.41h-2zM395 179.87h1v5.41h-1zM404 179.87h1v5.41h-1zM363 185.22h1v5.41h-1zM367 185.22h1v5.41h-1zM387 185.22h1v5.41h-1zM390 185.22h1v5.41h-1zM462 185.22h1v5.41h-1zM476 185.22h2v5.41h-2zM482 185.22h1v5.41h-1zM488 185.22h1v5.41h-1zM408 222.72h1v5.41h-1zM432 222.72h1v5.41h-1zM324 233.43h1v5.41h-1z"/>
<path fill="#f9e7e1" shape-rendering="crispEdges" d="M365 29.9h1v5.41h-1zM371 35.26h1v5.41h-1zM359 51.32h1v5.41h-1zM364 51.32h1v5.41h-1zM367 51.32h1v5.41h-1zM457 51.32h1v5.41h-1zM464 51.32h1v5.41h-1zM489 51.32h1v5.41h-1zM344 56.68h1v5.41h-1zM349 56.68h1v5.41h-1zM355 78.1h1v5.41h-1zM359 78.1h1v5.41h-1zM421 110.24h1v5.41h-1zM414 126.31h1v5.41h-1zM352 137.02h1v5.41h-1zM358 137.02h1v5.41h-1zM403 137.02h1v5.41h-1zM463 137.02h1v5.41h-1zM487 137.02h1v5.41h-1zM384 142.38h1v5.41h-1zM437 142.38h1v5.41h-1zM373 147.73h1v5.41h-1zM380 158.44h1v5.41h-1zM399 158.44h1v5.41h-1zM382 163.8h1v5.41h-1zM482 163.8h1v5.41h-1zM486 163.8h1v5.41h-1zM371 174.51h1v5.41h-1zM439 174.51h1v5.41h-1zM359 185.22h1v5.41h-1zM465 185.22h1v5.41h-1zM478 185.22h1v5.41h-1zM416 222.72h1v5.41h-1zM433 222.72h1v5.41h-1z"/>
<path fill="#f9d5cf" shape-rendering="crispEdges" d="M366 29.9h1v5.41h-1zM341 35.26h1v5.41h-1zM358 35.26h1v5.41h-1zM366 56.68h1v5.41h-1zM411 72.75h1v5.41h-1zM413 72.75h1v5.41h-1zM419 72.75h1v5.41h-1zM425 72.75h1v5.41h-1zM428 72.75h1v5.41h-1zM430 72.75h1v5.41h-1zM433 72.75h1v5.41h-1zM359 83.46h1v5.41h-1zM342 99.53h1v5.41h-1zM341 110.24h1v5.41h-1zM342 126.31h1v5.41h-1zM359 126.31h1v5.41h-1zM379 131.66h1v5.41h-1zM391 131.66h1v5.41h-1zM357 137.02h1v5.41h-1zM379 137.02h1v5.41h-1zM401 137.02h1v5.41h-1zM449 137.02h2v5.41h-2zM461 137.02h1v5.41h-1zM379 142.38h1v5.41h-1zM435 142.38h1v5.41h-1zM438 142.38h1v5.41h-1zM460 142.38h1v5.41h-1zM357 147.73h1v5.41h-1zM370 147.73h1v5.41h-1zM374 147.73h1v5.41h-1zM356 153.09h1v5.41h-1zM345 158.44h1v5.41h-1zM374 158.44h1v5.41h-1zM342 163.8h1v5.41h-1zM345 163.8h1v5.41h-1zM353 163.8h1v5.41h-1zM440 169.16h1v5.41h-1zM454 169.16h1v5.41h-1zM458 169.16h1v5.41h-1zM371 185.22h1v5.41h-1zM379 185.22h1v5.41h-1zM398 185.22h1v5.41h-1zM434 185.22h1v5.41h-1zM484 185.22h1v5.41h-1zM491 190.58h1v5.41h-1zM409 222.72h2v5.41h-2zM423 222.72h1v5.41h-1zM425 222.72h1v5.41h-1z"/>
<path fill="#d5c9e7" shape-rendering="crispEdges" d="M368 29.9h1v5.41h-1zM470 29.9h1v5.41h-1zM474 29.9h1v5.41h-1zM397 35.26h1v5.41h-1zM405 35.26h1v5.41h-1zM426 35.26h1v5.41h-1zM391 40.61h1v5.41h-1zM428 45.97h1v5.41h-1zM454 45.97h1v5.41h-1zM385 56.68h1v5.41h-1zM397 56.68h1v5.41h-1zM421 67.39h1v5.41h-1zM404 72.75h1v5.41h-1zM439 72.75h1v5.41h-1zM384 78.1h1v5.41h-1zM480 78.1h1v5.41h-1zM312 99.53h1v5.41h-1zM312 110.24h1v5.41h-1zM454 115.6h1v5.41h-1zM471 120.95h1v5.41h-1zM473 120.95h1v5.41h-1zM339 153.09h1v5.41h-1zM447 174.51h1v5.41h-1zM455 179.87h1v5.41h-1zM488 179.87h1v5.41h-1zM351 195.94h1v5.41h-1zM324 201.29h1v5.41h-1zM407 201.29h1v5.41h-1zM389 206.65h1v5.41h-1zM415 212h1v5.41h-1zM319 222.72h1v5.41h-1zM344 233.43h2v5.41h-2zM415 238.78h1v5.41h-1zM426 238.78h1v5.41h-1z"/>
<path fill="#cfbde1" shape-rendering="crispEdges" d="M369 29.9h1v5.41h-1zM384 29.9h1v5.41h-1zM405 29.9h1v5.41h-1zM422 29.9h1v5.41h-1zM440 29.9h1v5.41h-1zM453 29.9h1v5.41h-1zM458 29.9h1v5.41h-1zM476 29.9h2v5.41h-2zM481 29.9h1v5.41h-1zM483 29.9h1v5.41h-1zM398 35.26h1v5.41h-1zM384 40.61h1v5.41h-1zM389 40.61h1v5.41h-1zM408 40.61h1v5.41h-1zM421 40.61h1v5.41h-1zM439 40.61h1v5.41h-1zM446 40.61h1v5.41h-1zM452 40.61h2v5.41h-2zM462 40.61h1v5.41h-1zM465 40.61h1v5.41h-1zM471 40.61h1v5.41h-1zM483 40.61h1v5.41h-1zM486 40.61h1v5.41h-1zM490 40.61h1v5.41h-1zM387 45.97h2v5.41h-2zM402 45.97h1v5.41h-1zM410 45.97h1v5.41h-1zM412 45.97h1v5.41h-1zM422 45.97h1v5.41h-1zM425 45.97h1v5.41h-1zM444 45.97h2v5.41h-2zM450 45.97h2v5.41h-2zM461 45.97h1v5.41h-1zM396 51.32h1v5.41h-1zM417 51.32h1v5.41h-1zM373 56.68h1v5.41h-1zM396 56.68h1v5.41h-1zM409 56.68h1v5.41h-1zM418 56.68h1v5.41h-1zM469 56.68h1v5.41h-1zM408 62.04h1v5.41h-1zM412 62.04h1v5.41h-1zM424 62.04h1v5.41h-1zM426 62.04h1v5.41h-1zM438 62.04h1v5.41h-1zM450 62.04h1v5.41h-1zM369 67.39h1v5.41h-1zM375 67.39h1v5.41h-1zM377 67.39h1v5.41h-1zM385 67.39h2v5.41h-2zM437 67.39h1v5.41h-1zM440 67.39h1v5.41h-1zM446 67.39h1v5.41h-1zM452 67.39h1v5.41h-1zM458 67.39h1v5.41h-1zM460 67.39h1v5.41h-1zM470 67.39h1v5.41h-1zM474 67.39h1v5.41h-1zM482 67.39h1v5.41h-1zM382 72.75h1v5.41h-1zM389 72.75h1v5.41h-1zM394 72.75h1v5.41h-1zM452 72.75h1v5.41h-1zM458 72.75h1v5.41h-1zM464 72.75h1v5.41h-1zM479 72.75h1v5.41h-1zM482 72.75h1v5.41h-1zM485 72.75h3v5.41h-3zM375 78.1h1v5.41h-1zM405 78.1h2v5.41h-2zM440 78.1h1v5.41h-1zM458 78.1h1v5.41h-1zM464 78.1h2v5.41h-2zM473 78.1h1v5.41h-1zM475 78.1h1v5.41h-1zM482 78.1h1v5.41h-1zM484 78.1h4v5.41h-4zM313 83.46h1v5.41h-1zM328 88.82h1v5.41h-1zM338 88.82h1v5.41h-1zM438 88.82h1v5.41h-1zM488 88.82h1v5.41h-1zM313 94.17h1v5.41h-1zM453 94.17h1v5.41h-1zM488 94.17h1v5.41h-1zM442 99.53h1v5.41h-1zM454 99.53h1v5.41h-1zM313 104.88h1v5.41h-1zM441 110.24h1v5.41h-1zM447 110.24h1v5.41h-1zM455 110.24h1v5.41h-1zM461 110.24h1v5.41h-1zM464 110.24h1v5.41h-1zM471 110.24h1v5.41h-1zM312 115.6h1v5.41h-1zM442 115.6h1v5.41h-1zM488 115.6h1v5.41h-1zM464 120.95h1v5.41h-1zM491 120.95h1v5.41h-1zM312 126.31h2v5.41h-2zM454 126.31h1v5.41h-1zM317 131.66h1v5.41h-1zM322 131.66h2v5.41h-2zM439 131.66h2v5.41h-2zM443 131.66h1v5.41h-1zM460 131.66h1v5.41h-1zM477 131.66h1v5.41h-1zM481 131.66h2v5.41h-2zM490 131.66h1v5.41h-1zM316 142.38h1v5.41h-1zM349 142.38h1v5.41h-1zM313 147.73h1v5.41h-1zM447 147.73h2v5.41h-2zM480 147.73h1v5.41h-1zM489 147.73h1v5.41h-1zM312 158.44h2v5.41h-2zM473 158.44h1v5.41h-1zM314 163.8h1v5.41h-1zM316 163.8h1v5.41h-1zM321 163.8h2v5.41h-2zM328 163.8h2v5.41h-2zM331 163.8h1v5.41h-1zM338 163.8h1v5.41h-1zM315 169.16h1v5.41h-1zM319 169.16h1v5.41h-1zM326 169.16h1v5.41h-1zM344 174.51h1v5.41h-1zM361 174.51h1v5.41h-1zM364 174.51h1v5.41h-1zM441 179.87h1v5.41h-1zM473 179.87h1v5.41h-1zM480 179.87h1v5.41h-1zM489 179.87h1v5.41h-1zM312 185.22h1v5.41h-1zM315 190.58h1v5.41h-1zM320 190.58h1v5.41h-1zM330 190.58h2v5.41h-2zM337 190.58h1v5.41h-1zM347 190.58h1v5.41h-1zM352 190.58h1v5.41h-1zM387 190.58h1v5.41h-1zM391 190.58h1v5.41h-1zM395 190.58h1v5.41h-1zM398 190.58h1v5.41h-1zM403 190.58h1v5.41h-1zM406 190.58h1v5.41h-1zM417 190.58h1v5.41h-1zM426 190.58h2v5.41h-2zM431 190.58h1v5.41h-1zM331 195.94h1v5.41h-1zM340 195.94h1v5.41h-1zM349 195.94h2v5.41h-2zM374 195.94h1v5.41h-1zM376 195.94h1v5.41h-1zM383 195.94h2v5.41h-2zM387 195.94h1v5.41h-1zM391 195.94h1v5.41h-1zM395 195.94h1v5.41h-1zM412 195.94h1v5.41h-1zM428 195.94h1v5.41h-1zM322 201.29h1v5.41h-1zM328 201.29h1v5.41h-1zM330 201.29h1v5.41h-1zM346 201.29h1v5.41h-1zM352 201.29h2v5.41h-2zM360 201.29h2v5.41h-2zM363 201.29h2v5.41h-2zM375 201.29h1v5.41h-1zM398 201.29h2v5.41h-2zM405 201.29h1v5.41h-1zM412 201.29h1v5.41h-1zM426 201.29h1v5.41h-1zM430 201.29h1v5.41h-1zM315 206.65h1v5.41h-1zM322 206.65h1v5.41h-1zM328 206.65h3v5.41h-3zM343 206.65h1v5.41h-1zM353 206.65h1v5.41h-1zM364 206.65h1v5.41h-1zM374 206.65h1v5.41h-1zM376 206.65h1v5.41h-1zM387 206.65h1v5.41h-1zM395 206.65h1v5.41h-1zM412 206.65h1v5.41h-1zM425 206.65h1v5.41h-1zM428 206.65h1v5.41h-1zM319 212h1v5.41h-1zM328 212h2v5.41h-2zM337 212h1v5.41h-1zM340 212h1v5.41h-1zM343 212h1v5.41h-1zM347 212h1v5.41h-1zM352 212h2v5.41h-2zM363 212h2v5.41h-2zM384 212h2v5.41h-2zM390 212h1v5.41h-1zM394 212h1v5.41h-1zM398 212h1v5.41h-1zM403 212h1v5.41h-1zM412 212h1v5.41h-1zM426 212h1v5.41h-1zM428 212h1v5.41h-1zM344 217.36h1v5.41h-1zM374 217.36h1v5.41h-1zM379 217.36h1v5.41h-1zM394 217.36h1v5.41h-1zM400 217.36h1v5.41h-1zM407 217.36h1v5.41h-1zM410 217.36h1v5.41h-1zM414 217.36h2v5.41h-2zM318 222.72h1v5.41h-1zM329 222.72h1v5.41h-1zM343 222.72h1v5.41h-1zM346 222.72h1v5.41h-1zM385 222.72h1v5.41h-1zM387 222.72h1v5.41h-1zM389 222.72h1v5.41h-1zM312 228.07h1v5.41h-1zM428 228.07h1v5.41h-1zM341 233.43h1v5.41h-1zM343 233.43h1v5.41h-1zM346 233.43h1v5.41h-1zM388 233.43h1v5.41h-1zM408 233.43h1v5.41h-1zM419 233.43h1v5.41h-1zM421 233.43h1v5.41h-1zM328 238.78h2v5.41h-2zM331 238.78h1v5.41h-1zM341 238.78h1v5.41h-1zM343 238.78h1v5.41h-1zM346 238.78h1v5.41h-1zM351 238.78h1v5.41h-1zM355 238.78h1v5.41h-1zM360 238.78h2v5.41h-2zM376 238.78h3v5.41h-3zM387 238.78h1v5.41h-1zM390 238.78h2v5.41h-2zM403 238.78h1v5.41h-1zM418 238.78h1v5.41h-1z"/>
<path fill="#e1cfe7" shape-rendering="crispEdges" d="M370 29.9h1v5.41h-1zM383 29.9h1v5.41h-1zM393 29.9h1v5.41h-1zM413 29.9h1v5.41h-1zM457 29.9h1v5.41h-1zM471 29.9h1v5.41h-1zM374 35.26h1v5.41h-1zM382 35.26h1v5.41h-1zM389 35.26h2v5.41h-2zM430 35.26h1v5.41h-1zM432 35.26h1v5.41h-1zM346 40.61h1v5.41h-1zM351 40.61h1v5.41h-1zM393 40.61h1v5.41h-1zM418 40.61h1v5.41h-1zM424 40.61h1v5.41h-1zM414 45.97h1v5.41h-1zM432 45.97h1v5.41h-1zM436 45.97h1v5.41h-1zM455 45.97h1v5.41h-1zM459 45.97h1v5.41h-1zM464 45.97h1v5.41h-1zM466 45.97h2v5.41h-2zM485 45.97h1v5.41h-1zM406 51.32h1v5.41h-1zM412 51.32h1v5.41h-1zM426 51.32h1v5.41h-1zM431 51.32h1v5.41h-1zM442 51.32h1v5.41h-1zM449 51.32h1v5.41h-1zM384 56.68h1v5.41h-1zM411 56.68h1v5.41h-1zM414 56.68h1v5.41h-1zM427 56.68h1v5.41h-1zM432 56.68h1v5.41h-1zM351 62.04h1v5.41h-1zM378 62.04h1v5.41h-1zM391 62.04h1v5.41h-1zM395 62.04h1v5.41h-1zM404 62.04h1v5.41h-1zM410 62.04h1v5.41h-1zM418 62.04h1v5.41h-1zM446 62.04h1v5.41h-1zM455 62.04h1v5.41h-1zM473 62.04h1v5.41h-1zM482 62.04h1v5.41h-1zM484 62.04h1v5.41h-1zM351 67.39h1v5.41h-1zM393 67.39h1v5.41h-1zM404 67.39h1v5.41h-1zM422 67.39h2v5.41h-2zM462 67.39h1v5.41h-1zM468 67.39h1v5.41h-1zM349 72.75h1v5.41h-1zM359 72.75h2v5.41h-2zM364 72.75h2v5.41h-2zM387 72.75h2v5.41h-2zM402 72.75h1v5.41h-1zM456 72.75h1v5.41h-1zM469 72.75h1v5.41h-1zM471 72.75h2v5.41h-2zM489 72.75h1v5.41h-1zM391 78.1h2v5.41h-2zM395 78.1h1v5.41h-1zM411 78.1h1v5.41h-1zM422 78.1h2v5.41h-2zM425 78.1h1v5.41h-1zM428 78.1h1v5.41h-1zM430 78.1h1v5.41h-1zM456 78.1h1v5.41h-1zM468 78.1h1v5.41h-1zM329 88.82h1v5.41h-1zM422 88.82h1v5.41h-1zM431 88.82h1v5.41h-1zM408 94.17h1v5.41h-1zM416 94.17h1v5.41h-1zM418 94.17h1v5.41h-1zM433 94.17h1v5.41h-1zM417 99.53h1v5.41h-1zM417 104.88h1v5.41h-1zM420 104.88h1v5.41h-1zM408 115.6h2v5.41h-2zM430 115.6h1v5.41h-1zM472 120.95h1v5.41h-1zM432 126.31h1v5.41h-1zM315 131.66h1v5.41h-1zM320 131.66h1v5.41h-1zM420 131.66h1v5.41h-1zM453 131.66h1v5.41h-1zM455 131.66h1v5.41h-1zM457 131.66h1v5.41h-1zM464 131.66h1v5.41h-1zM471 131.66h1v5.41h-1zM323 142.38h1v5.41h-1zM327 142.38h1v5.41h-1zM336 142.38h1v5.41h-1zM351 142.38h1v5.41h-1zM358 142.38h1v5.41h-1zM363 142.38h1v5.41h-1zM365 142.38h1v5.41h-1zM474 142.38h1v5.41h-1zM436 147.73h1v5.41h-1zM453 147.73h2v5.41h-2zM456 147.73h2v5.41h-2zM482 147.73h1v5.41h-1zM486 147.73h1v5.41h-1zM325 153.09h1v5.41h-1zM328 153.09h1v5.41h-1zM332 153.09h1v5.41h-1zM350 153.09h1v5.41h-1zM436 158.44h1v5.41h-1zM457 158.44h1v5.41h-1zM479 158.44h1v5.41h-1zM488 158.44h1v5.41h-1zM336 163.8h1v5.41h-1zM318 169.16h1v5.41h-1zM331 169.16h1v5.41h-1zM364 169.16h1v5.41h-1zM392 169.16h1v5.41h-1zM347 174.51h1v5.41h-1zM352 174.51h1v5.41h-1zM366 174.51h1v5.41h-1zM462 174.51h1v5.41h-1zM469 174.51h1v5.41h-1zM471 174.51h1v5.41h-1zM490 174.51h1v5.41h-1zM350 179.87h1v5.41h-1zM442 179.87h1v5.41h-1zM457 179.87h1v5.41h-1zM463 179.87h1v5.41h-1zM468 179.87h1v5.41h-1zM470 179.87h1v5.41h-1zM476 179.87h1v5.41h-1zM478 179.87h1v5.41h-1zM350 185.22h1v5.41h-1zM377 190.58h2v5.41h-2zM422 190.58h1v5.41h-1zM341 195.94h1v5.41h-1zM344 195.94h1v5.41h-1zM388 195.94h1v5.41h-1zM397 195.94h1v5.41h-1zM400 195.94h1v5.41h-1zM406 195.94h1v5.41h-1zM411 195.94h1v5.41h-1zM414 195.94h1v5.41h-1zM378 201.29h1v5.41h-1zM324 206.65h1v5.41h-1zM388 206.65h1v5.41h-1zM407 206.65h1v5.41h-1zM429 206.65h1v5.41h-1zM323 212h1v5.41h-1zM341 212h1v5.41h-1zM374 212h1v5.41h-1zM389 212h1v5.41h-1zM429 212h1v5.41h-1zM397 222.72h1v5.41h-1zM409 228.07h2v5.41h-2zM414 228.07h1v5.41h-1zM422 228.07h1v5.41h-1zM429 228.07h1v5.41h-1zM406 233.43h1v5.41h-1zM426 233.43h2v5.41h-2zM430 233.43h1v5.41h-1zM433 233.43h1v5.41h-1zM312 238.78h1v5.41h-1zM389 238.78h1v5.41h-1zM407 238.78h1v5.41h-1zM429 238.78h1v5.41h-1z"/>
<path fill="#cfb7e1" shape-rendering="crispEdges" d="M372 29.9h1v5.41h-1zM455 29.9h1v5.41h-1zM475 29.9h1v5.41h-1zM468 35.26h1v5.41h-1zM374 40.61h1v5.41h-1zM397 40.61h1v5.41h-1zM454 40.61h1v5.41h-1zM463 40.61h1v5.41h-1zM480 40.61h1v5.41h-1zM398 51.32h1v5.41h-1zM406 56.68h1v5.41h-1zM421 56.68h1v5.41h-1zM471 56.68h2v5.41h-2zM372 62.04h1v5.41h-1zM451 62.04h1v5.41h-1zM372 67.39h1v5.41h-1zM376 67.39h1v5.41h-1zM454 67.39h1v5.41h-1zM466 67.39h1v5.41h-1zM473 67.39h1v5.41h-1zM475 67.39h1v5.41h-1zM484 67.39h1v5.41h-1zM346 72.75h2v5.41h-2zM350 72.75h1v5.41h-1zM395 72.75h1v5.41h-1zM434 72.75h1v5.41h-1zM436 72.75h1v5.41h-1zM440 72.75h1v5.41h-1zM448 72.75h1v5.41h-1zM454 72.75h1v5.41h-1zM466 72.75h1v5.41h-1zM374 78.1h1v5.41h-1zM416 78.1h1v5.41h-1zM452 78.1h1v5.41h-1zM332 88.82h1v5.41h-1zM441 99.53h1v5.41h-1zM453 110.24h1v5.41h-1zM463 110.24h1v5.41h-1zM313 115.6h1v5.41h-1zM472 115.6h1v5.41h-1zM325 131.66h1v5.41h-1zM329 131.66h1v5.41h-1zM445 131.66h1v5.41h-1zM470 131.66h1v5.41h-1zM331 142.38h1v5.41h-1zM337 142.38h1v5.41h-1zM473 147.73h1v5.41h-1zM339 163.8h1v5.41h-1zM348 174.51h1v5.41h-1zM360 174.51h1v5.41h-1zM447 179.87h1v5.41h-1zM349 190.58h1v5.41h-1zM364 190.58h1v5.41h-1zM399 190.58h1v5.41h-1zM428 190.58h1v5.41h-1zM322 195.94h1v5.41h-1zM342 195.94h1v5.41h-1zM402 195.94h1v5.41h-1zM416 195.94h1v5.41h-1zM431 195.94h1v5.41h-1zM329 201.29h1v5.41h-1zM342 201.29h1v5.41h-1zM385 201.29h1v5.41h-1zM391 201.29h1v5.41h-1zM421 201.29h1v5.41h-1zM431 201.29h1v5.41h-1zM331 206.65h1v5.41h-1zM385 206.65h1v5.41h-1zM390 206.65h1v5.41h-1zM403 206.65h1v5.41h-1zM408 206.65h1v5.41h-1zM318 212h1v5.41h-1zM356 212h1v5.41h-1zM386 217.36h1v5.41h-1zM393 217.36h1v5.41h-1zM417 217.36h1v5.41h-1zM425 217.36h1v5.41h-1zM361 222.72h1v5.41h-1zM363 222.72h1v5.41h-1zM384 222.72h1v5.41h-1zM405 228.07h1v5.41h-1zM421 228.07h1v5.41h-1zM319 238.78h1v5.41h-1zM322 238.78h1v5.41h-1zM363 238.78h1v5.41h-1zM375 238.78h1v5.41h-1zM417 238.78h1v5.41h-1z"/>
<path fill="#bda5db" shape-rendering="crispEdges" d="M373 29.9h1v5.41h-1zM376 29.9h1v5.41h-1zM444 29.9h2v5.41h-2zM489 35.26h1v5.41h-1zM376 40.61h1v5.41h-1zM444 40.61h1v5.41h-1zM368 45.97h2v5.41h-2zM408 45.97h1v5.41h-1zM462 56.68h4v5.41h-4zM374 62.04h3v5.41h-3zM398 62.04h1v5.41h-1zM444 67.39h1v5.41h-1zM374 72.75h1v5.41h-1zM445 72.75h1v5.41h-1zM449 72.75h1v5.41h-1zM407 78.1h1v5.41h-1zM417 78.1h1v5.41h-1zM488 83.46h1v5.41h-1zM437 88.82h1v5.41h-1zM447 88.82h1v5.41h-1zM454 88.82h1v5.41h-1zM464 88.82h1v5.41h-1zM460 94.17h1v5.41h-1zM463 94.17h1v5.41h-1zM466 94.17h1v5.41h-1zM315 99.53h1v5.41h-1zM453 99.53h1v5.41h-1zM460 99.53h1v5.41h-1zM473 99.53h1v5.41h-1zM486 99.53h1v5.41h-1zM440 104.88h1v5.41h-1zM461 104.88h1v5.41h-1zM467 104.88h1v5.41h-1zM471 104.88h1v5.41h-1zM484 104.88h1v5.41h-1zM486 104.88h1v5.41h-1zM490 104.88h1v5.41h-1zM468 110.24h1v5.41h-1zM439 115.6h1v5.41h-1zM319 120.95h1v5.41h-1zM434 120.95h2v5.41h-2zM439 120.95h1v5.41h-1zM452 120.95h1v5.41h-1zM465 120.95h2v5.41h-2zM470 120.95h1v5.41h-1zM483 120.95h1v5.41h-1zM489 120.95h1v5.41h-1zM326 131.66h1v5.41h-1zM337 131.66h1v5.41h-1zM315 163.8h1v5.41h-1zM319 163.8h1v5.41h-1zM332 190.58h1v5.41h-1zM314 195.94h1v5.41h-1zM325 195.94h1v5.41h-1zM396 195.94h1v5.41h-1zM420 195.94h1v5.41h-1zM432 195.94h1v5.41h-1zM357 201.29h1v5.41h-1zM365 201.29h2v5.41h-2zM381 201.29h1v5.41h-1zM432 201.29h1v5.41h-1zM317 206.65h1v5.41h-1zM321 206.65h1v5.41h-1zM348 206.65h1v5.41h-1zM358 206.65h1v5.41h-1zM362 206.65h1v5.41h-1zM366 206.65h1v5.41h-1zM371 206.65h3v5.41h-3zM316 212h1v5.41h-1zM357 212h1v5.41h-1zM381 212h1v5.41h-1zM420 212h1v5.41h-1zM320 217.36h1v5.41h-1zM350 217.36h1v5.41h-1zM326 222.72h1v5.41h-1zM334 222.72h1v5.41h-1zM359 222.72h1v5.41h-1zM362 222.72h1v5.41h-1zM372 222.72h1v5.41h-1zM343 228.07h1v5.41h-1zM376 228.07h1v5.41h-1zM379 228.07h1v5.41h-1zM399 228.07h1v5.41h-1zM401 228.07h1v5.41h-1zM352 233.43h1v5.41h-1zM387 233.43h1v5.41h-1zM398 233.43h1v5.41h-1zM332 238.78h1v5.41h-1zM354 238.78h1v5.41h-1zM382 238.78h1v5.41h-1zM432 238.78h1v5.41h-1z"/>
<path fill="#c3abdb" shape-rendering="crispEdges" d="M374 29.9h1v5.41h-1zM438 29.9h1v5.41h-1zM461 29.9h1v5.41h-1zM467 29.9h1v5.41h-1zM447 35.26h1v5.41h-1zM456 35.26h1v5.41h-1zM470 35.26h1v5.41h-1zM377 40.61h1v5.41h-1zM386 40.61h1v5.41h-1zM441 40.61h1v5.41h-1zM448 40.61h1v5.41h-1zM451 40.61h1v5.41h-1zM460 40.61h1v5.41h-1zM467 40.61h1v5.41h-1zM482 40.61h1v5.41h-1zM383 45.97h1v5.41h-1zM389 45.97h4v5.41h-4zM394 45.97h2v5.41h-2zM421 45.97h1v5.41h-1zM426 45.97h1v5.41h-1zM446 56.68h2v5.41h-2zM479 56.68h2v5.41h-2zM443 62.04h1v5.41h-1zM396 67.39h1v5.41h-1zM417 67.39h1v5.41h-1zM487 67.39h1v5.41h-1zM438 72.75h1v5.41h-1zM451 72.75h1v5.41h-1zM461 72.75h1v5.41h-1zM491 72.75h1v5.41h-1zM448 78.1h1v5.41h-1zM467 78.1h1v5.41h-1zM438 83.46h1v5.41h-1zM447 94.17h1v5.41h-1zM457 94.17h1v5.41h-1zM469 94.17h1v5.41h-1zM476 94.17h1v5.41h-1zM490 94.17h1v5.41h-1zM447 99.53h1v5.41h-1zM456 99.53h1v5.41h-1zM437 104.88h1v5.41h-1zM463 104.88h1v5.41h-1zM466 104.88h1v5.41h-1zM469 104.88h1v5.41h-1zM472 104.88h2v5.41h-2zM315 110.24h1v5.41h-1zM434 110.24h2v5.41h-2zM440 110.24h1v5.41h-1zM460 110.24h1v5.41h-1zM440 115.6h1v5.41h-1zM469 115.6h1v5.41h-1zM330 120.95h1v5.41h-1zM437 120.95h1v5.41h-1zM461 120.95h1v5.41h-1zM469 120.95h1v5.41h-1zM442 126.31h1v5.41h-1zM455 126.31h1v5.41h-1zM457 126.31h1v5.41h-1zM472 126.31h1v5.41h-1zM321 131.66h1v5.41h-1zM334 131.66h1v5.41h-1zM480 131.66h1v5.41h-1zM327 137.02h1v5.41h-1zM333 137.02h3v5.41h-3zM340 137.02h1v5.41h-1zM318 142.38h1v5.41h-1zM320 142.38h1v5.41h-1zM474 147.73h1v5.41h-1zM326 163.8h1v5.41h-1zM350 174.51h1v5.41h-1zM316 190.58h1v5.41h-1zM326 190.58h2v5.41h-2zM354 190.58h1v5.41h-1zM371 190.58h1v5.41h-1zM381 190.58h2v5.41h-2zM402 190.58h1v5.41h-1zM416 190.58h1v5.41h-1zM419 190.58h1v5.41h-1zM318 195.94h1v5.41h-1zM348 195.94h1v5.41h-1zM362 195.94h1v5.41h-1zM365 195.94h2v5.41h-2zM371 195.94h3v5.41h-3zM315 201.29h1v5.41h-1zM326 201.29h1v5.41h-1zM347 201.29h1v5.41h-1zM354 201.29h1v5.41h-1zM362 201.29h1v5.41h-1zM372 201.29h1v5.41h-1zM383 201.29h1v5.41h-1zM402 201.29h1v5.41h-1zM404 201.29h1v5.41h-1zM419 201.29h2v5.41h-2zM396 206.65h1v5.41h-1zM420 206.65h1v5.41h-1zM432 206.65h1v5.41h-1zM314 212h1v5.41h-1zM326 212h1v5.41h-1zM362 212h1v5.41h-1zM366 212h1v5.41h-1zM372 212h1v5.41h-1zM382 212h1v5.41h-1zM402 212h1v5.41h-1zM408 212h1v5.41h-1zM338 217.36h1v5.41h-1zM343 217.36h1v5.41h-1zM346 217.36h1v5.41h-1zM353 217.36h1v5.41h-1zM355 217.36h1v5.41h-1zM363 217.36h2v5.41h-2zM383 217.36h3v5.41h-3zM398 217.36h2v5.41h-2zM412 217.36h1v5.41h-1zM416 217.36h1v5.41h-1zM423 217.36h1v5.41h-1zM316 222.72h2v5.41h-2zM321 222.72h1v5.41h-1zM327 222.72h1v5.41h-1zM347 222.72h1v5.41h-1zM350 222.72h1v5.41h-1zM373 222.72h1v5.41h-1zM383 222.72h1v5.41h-1zM390 222.72h1v5.41h-1zM374 228.07h1v5.41h-1zM389 228.07h1v5.41h-1zM393 228.07h2v5.41h-2zM403 228.07h1v5.41h-1zM420 228.07h1v5.41h-1zM342 233.43h1v5.41h-1zM347 233.43h1v5.41h-1zM374 233.43h1v5.41h-1zM377 233.43h1v5.41h-1zM384 233.43h1v5.41h-1zM391 233.43h1v5.41h-1zM395 233.43h1v5.41h-1zM403 233.43h1v5.41h-1zM317 238.78h1v5.41h-1zM342 238.78h1v5.41h-1zM347 238.78h1v5.41h-1zM349 238.78h1v5.41h-1zM356 238.78h1v5.41h-1zM373 238.78h1v5.41h-1zM416 238.78h1v5.41h-1z"/>
<path fill="#bda5d5" shape-rendering="crispEdges" d="M375 29.9h1v5.41h-1zM490 35.26h1v5.41h-1zM438 40.61h1v5.41h-1zM372 45.97h1v5.41h-1zM474 56.68h1v5.41h-1zM443 67.39h1v5.41h-1zM449 67.39h1v5.41h-1zM375 72.75h1v5.41h-1zM377 72.75h1v5.41h-1zM442 72.75h1v5.41h-1zM319 83.46h2v5.41h-2zM330 83.46h1v5.41h-1zM472 83.46h1v5.41h-1zM442 88.82h1v5.41h-1zM486 88.82h1v5.41h-1zM320 94.17h1v5.41h-1zM439 94.17h2v5.41h-2zM456 94.17h1v5.41h-1zM468 94.17h1v5.41h-1zM318 99.53h1v5.41h-1zM440 99.53h1v5.41h-1zM469 99.53h1v5.41h-1zM439 104.88h1v5.41h-1zM465 104.88h1v5.41h-1zM477 104.88h1v5.41h-1zM445 110.24h1v5.41h-1zM462 110.24h1v5.41h-1zM476 110.24h1v5.41h-1zM484 110.24h1v5.41h-1zM437 115.6h1v5.41h-1zM460 115.6h1v5.41h-1zM468 115.6h1v5.41h-1zM486 115.6h1v5.41h-1zM490 115.6h1v5.41h-1zM318 120.95h1v5.41h-1zM440 120.95h1v5.41h-1zM460 120.95h1v5.41h-1zM477 120.95h1v5.41h-1zM481 120.95h2v5.41h-2zM485 120.95h1v5.41h-1zM456 126.31h1v5.41h-1zM471 126.31h1v5.41h-1zM474 131.66h1v5.41h-1zM315 142.38h1v5.41h-1zM317 190.58h1v5.41h-1zM370 190.58h1v5.41h-1zM316 195.94h1v5.41h-1zM321 195.94h1v5.41h-1zM332 195.94h1v5.41h-1zM335 195.94h1v5.41h-1zM314 201.29h1v5.41h-1zM321 201.29h1v5.41h-1zM382 201.29h1v5.41h-1zM354 206.65h1v5.41h-1zM357 206.65h1v5.41h-1zM358 212h1v5.41h-1zM396 212h1v5.41h-1zM432 212h1v5.41h-1zM324 217.36h1v5.41h-1zM402 217.36h1v5.41h-1zM335 222.72h1v5.41h-1zM348 222.72h1v5.41h-1zM371 222.72h1v5.41h-1zM382 222.72h1v5.41h-1zM396 222.72h1v5.41h-1zM338 228.07h1v5.41h-1zM351 228.07h1v5.41h-1zM386 228.07h1v5.41h-1zM391 228.07h1v5.41h-1zM395 228.07h1v5.41h-1zM349 233.43h1v5.41h-1zM383 233.43h1v5.41h-1zM390 233.43h1v5.41h-1zM326 238.78h1v5.41h-1zM336 238.78h1v5.41h-1zM359 238.78h1v5.41h-1zM420 238.78h1v5.41h-1z"/>
<path fill="#c9b1e1" shape-rendering="crispEdges" d="M377 29.9h1v5.41h-1zM386 29.9h1v5.41h-1zM407 29.9h1v5.41h-1zM407 35.26h1v5.41h-1zM469 35.26h1v5.41h-1zM398 40.61h1v5.41h-1zM407 40.61h1v5.41h-1zM479 40.61h1v5.41h-1zM373 51.32h1v5.41h-1zM376 51.32h1v5.41h-1zM405 56.68h1v5.41h-1zM483 56.68h1v5.41h-1zM374 67.39h1v5.41h-1zM384 72.75h1v5.41h-1zM454 78.1h1v5.41h-1zM452 94.17h1v5.41h-1zM455 99.53h1v5.41h-1zM441 104.88h1v5.41h-1zM491 104.88h1v5.41h-1zM473 110.24h1v5.41h-1zM447 120.95h1v5.41h-1zM436 131.66h1v5.41h-1zM451 131.66h1v5.41h-1zM485 131.66h1v5.41h-1zM348 142.38h1v5.41h-1zM315 195.94h1v5.41h-1zM380 195.94h1v5.41h-1zM382 195.94h1v5.41h-1zM327 201.29h1v5.41h-1zM373 201.29h1v5.41h-1zM408 201.29h1v5.41h-1zM314 206.65h1v5.41h-1zM340 206.65h1v5.41h-1zM347 206.65h1v5.41h-1zM375 206.65h1v5.41h-1zM380 206.65h1v5.41h-1zM383 206.65h1v5.41h-1zM419 206.65h1v5.41h-1zM315 212h1v5.41h-1zM315 222.72h1v5.41h-1zM432 228.07h1v5.41h-1zM400 233.43h1v5.41h-1z"/>
<path fill="#e1d5ed" shape-rendering="crispEdges" d="M378 29.9h1v5.41h-1zM387 29.9h1v5.41h-1zM399 29.9h3v5.41h-3zM419 29.9h1v5.41h-1zM425 29.9h1v5.41h-1zM428 29.9h1v5.41h-1zM430 29.9h1v5.41h-1zM472 29.9h1v5.41h-1zM369 35.26h1v5.41h-1zM372 35.26h1v5.41h-1zM413 35.26h1v5.41h-1zM428 35.26h1v5.41h-1zM343 40.61h1v5.41h-1zM347 40.61h1v5.41h-1zM379 40.61h1v5.41h-1zM381 40.61h1v5.41h-1zM413 40.61h1v5.41h-1zM420 40.61h1v5.41h-1zM426 40.61h1v5.41h-1zM433 40.61h1v5.41h-1zM371 45.97h1v5.41h-1zM462 45.97h2v5.41h-2zM465 45.97h1v5.41h-1zM470 45.97h1v5.41h-1zM473 45.97h1v5.41h-1zM484 45.97h1v5.41h-1zM486 45.97h1v5.41h-1zM392 51.32h1v5.41h-1zM394 51.32h2v5.41h-2zM404 51.32h1v5.41h-1zM409 51.32h1v5.41h-1zM416 51.32h1v5.41h-1zM427 51.32h1v5.41h-1zM433 51.32h1v5.41h-1zM444 51.32h1v5.41h-1zM369 56.68h1v5.41h-1zM382 56.68h1v5.41h-1zM390 56.68h1v5.41h-1zM419 56.68h1v5.41h-1zM425 56.68h1v5.41h-1zM350 62.04h1v5.41h-1zM379 62.04h1v5.41h-1zM387 62.04h1v5.41h-1zM392 62.04h1v5.41h-1zM394 62.04h1v5.41h-1zM399 62.04h1v5.41h-1zM420 62.04h1v5.41h-1zM428 62.04h1v5.41h-1zM433 62.04h2v5.41h-2zM439 62.04h1v5.41h-1zM459 62.04h1v5.41h-1zM463 62.04h3v5.41h-3zM474 62.04h1v5.41h-1zM476 62.04h2v5.41h-2zM479 62.04h3v5.41h-3zM370 67.39h1v5.41h-1zM381 67.39h1v5.41h-1zM383 67.39h1v5.41h-1zM401 67.39h1v5.41h-1zM414 67.39h1v5.41h-1zM428 67.39h1v5.41h-1zM430 67.39h1v5.41h-1zM456 67.39h1v5.41h-1zM356 72.75h2v5.41h-2zM363 72.75h1v5.41h-1zM379 72.75h1v5.41h-1zM400 72.75h1v5.41h-1zM457 72.75h1v5.41h-1zM488 72.75h1v5.41h-1zM381 78.1h1v5.41h-1zM393 78.1h1v5.41h-1zM469 78.1h1v5.41h-1zM471 78.1h2v5.41h-2zM489 78.1h1v5.41h-1zM420 83.46h1v5.41h-1zM422 83.46h1v5.41h-1zM431 83.46h2v5.41h-2zM323 88.82h2v5.41h-2zM405 88.82h1v5.41h-1zM417 88.82h1v5.41h-1zM420 88.82h1v5.41h-1zM432 88.82h2v5.41h-2zM423 94.17h1v5.41h-1zM430 94.17h1v5.41h-1zM420 99.53h1v5.41h-1zM405 104.88h2v5.41h-2zM417 110.24h1v5.41h-1zM410 115.6h1v5.41h-1zM433 115.6h1v5.41h-1zM422 126.31h1v5.41h-1zM313 131.66h1v5.41h-1zM405 131.66h1v5.41h-1zM430 131.66h1v5.41h-1zM441 131.66h1v5.41h-1zM446 131.66h1v5.41h-1zM472 131.66h1v5.41h-1zM350 137.02h1v5.41h-1zM474 137.02h1v5.41h-1zM334 142.38h1v5.41h-1zM352 142.38h1v5.41h-1zM354 142.38h1v5.41h-1zM388 142.38h1v5.41h-1zM392 142.38h1v5.41h-1zM473 142.38h1v5.41h-1zM344 147.73h1v5.41h-1zM360 147.73h2v5.41h-2zM442 147.73h1v5.41h-1zM452 147.73h1v5.41h-1zM463 147.73h1v5.41h-1zM467 147.73h1v5.41h-1zM478 147.73h1v5.41h-1zM317 153.09h1v5.41h-1zM329 153.09h1v5.41h-1zM348 153.09h1v5.41h-1zM350 158.44h1v5.41h-1zM440 158.44h1v5.41h-1zM456 158.44h1v5.41h-1zM462 158.44h1v5.41h-1zM470 158.44h1v5.41h-1zM475 158.44h1v5.41h-1zM481 158.44h1v5.41h-1zM321 169.16h1v5.41h-1zM325 169.16h1v5.41h-1zM377 169.16h1v5.41h-1zM388 169.16h1v5.41h-1zM341 174.51h1v5.41h-1zM354 174.51h1v5.41h-1zM359 174.51h1v5.41h-1zM377 174.51h1v5.41h-1zM480 174.51h1v5.41h-1zM488 174.51h1v5.41h-1zM361 179.87h1v5.41h-1zM397 179.87h1v5.41h-1zM437 179.87h1v5.41h-1zM467 179.87h1v5.41h-1zM487 179.87h1v5.41h-1zM312 190.58h1v5.41h-1zM338 190.58h1v5.41h-1zM341 190.58h1v5.41h-1zM397 190.58h1v5.41h-1zM411 190.58h1v5.41h-1zM312 195.94h2v5.41h-2zM413 195.94h1v5.41h-1zM312 201.29h2v5.41h-2zM341 201.29h1v5.41h-1zM388 201.29h1v5.41h-1zM413 201.29h1v5.41h-1zM312 206.65h1v5.41h-1zM323 206.65h1v5.41h-1zM411 206.65h1v5.41h-1zM413 206.65h1v5.41h-1zM312 212h1v5.41h-1zM388 212h1v5.41h-1zM397 212h1v5.41h-1zM413 212h1v5.41h-1zM323 222.72h1v5.41h-1zM333 233.43h3v5.41h-3zM405 233.43h1v5.41h-1zM407 233.43h1v5.41h-1zM412 233.43h1v5.41h-1zM423 233.43h2v5.41h-2zM313 238.78h1v5.41h-1zM388 238.78h1v5.41h-1zM411 238.78h1v5.41h-1zM414 238.78h1v5.41h-1z"/>
<path fill="#dbc9e7" shape-rendering="crispEdges" d="M382 29.9h1v5.41h-1zM392 29.9h1v5.41h-1zM394 29.9h1v5.41h-1zM410 29.9h1v5.41h-1zM412 29.9h1v5.41h-1zM415 29.9h1v5.41h-1zM420 29.9h1v5.41h-1zM423 29.9h1v5.41h-1zM426 29.9h2v5.41h-2zM433 29.9h1v5.41h-1zM439 29.9h1v5.41h-1zM447 29.9h1v5.41h-1zM456 29.9h1v5.41h-1zM462 29.9h1v5.41h-1zM469 29.9h1v5.41h-1zM489 29.9h2v5.41h-2zM373 35.26h1v5.41h-1zM384 35.26h3v5.41h-3zM406 35.26h1v5.41h-1zM433 35.26h1v5.41h-1zM378 40.61h1v5.41h-1zM387 40.61h2v5.41h-2zM392 40.61h1v5.41h-1zM394 40.61h2v5.41h-2zM405 40.61h1v5.41h-1zM416 40.61h1v5.41h-1zM469 40.61h1v5.41h-1zM403 45.97h1v5.41h-1zM411 45.97h1v5.41h-1zM419 45.97h1v5.41h-1zM431 45.97h1v5.41h-1zM434 45.97h1v5.41h-1zM440 45.97h1v5.41h-1zM452 45.97h2v5.41h-2zM458 45.97h1v5.41h-1zM491 45.97h1v5.41h-1zM384 51.32h1v5.41h-1zM391 51.32h1v5.41h-1zM405 51.32h1v5.41h-1zM421 51.32h1v5.41h-1zM435 51.32h1v5.41h-1zM445 51.32h1v5.41h-1zM372 56.68h1v5.41h-1zM374 56.68h2v5.41h-2zM377 56.68h1v5.41h-1zM386 56.68h1v5.41h-1zM410 56.68h1v5.41h-1zM423 56.68h1v5.41h-1zM426 56.68h1v5.41h-1zM433 56.68h1v5.41h-1zM381 62.04h1v5.41h-1zM389 62.04h1v5.41h-1zM414 62.04h3v5.41h-3zM425 62.04h1v5.41h-1zM431 62.04h1v5.41h-1zM436 62.04h2v5.41h-2zM440 62.04h1v5.41h-1zM452 62.04h2v5.41h-2zM460 62.04h1v5.41h-1zM475 62.04h1v5.41h-1zM485 62.04h3v5.41h-3zM368 67.39h1v5.41h-1zM389 67.39h1v5.41h-1zM391 67.39h2v5.41h-2zM394 67.39h1v5.41h-1zM459 67.39h1v5.41h-1zM463 67.39h1v5.41h-1zM469 67.39h1v5.41h-1zM471 67.39h2v5.41h-2zM477 67.39h1v5.41h-1zM479 67.39h2v5.41h-2zM352 72.75h1v5.41h-1zM362 72.75h1v5.41h-1zM370 72.75h1v5.41h-1zM378 72.75h1v5.41h-1zM383 72.75h1v5.41h-1zM393 72.75h1v5.41h-1zM401 72.75h1v5.41h-1zM447 72.75h1v5.41h-1zM462 72.75h1v5.41h-1zM470 72.75h1v5.41h-1zM474 72.75h1v5.41h-1zM476 72.75h1v5.41h-1zM483 72.75h1v5.41h-1zM490 72.75h1v5.41h-1zM368 78.1h1v5.41h-1zM377 78.1h1v5.41h-1zM382 78.1h1v5.41h-1zM389 78.1h2v5.41h-2zM394 78.1h1v5.41h-1zM397 78.1h1v5.41h-1zM410 78.1h1v5.41h-1zM413 78.1h1v5.41h-1zM431 78.1h1v5.41h-1zM439 78.1h1v5.41h-1zM447 78.1h1v5.41h-1zM462 78.1h1v5.41h-1zM476 78.1h1v5.41h-1zM483 78.1h1v5.41h-1zM490 78.1h1v5.41h-1zM331 88.82h1v5.41h-1zM334 88.82h1v5.41h-1zM336 88.82h1v5.41h-1zM340 88.82h1v5.41h-1zM405 94.17h1v5.41h-1zM431 94.17h1v5.41h-1zM454 94.17h1v5.41h-1zM438 110.24h1v5.41h-1zM454 110.24h1v5.41h-1zM406 115.6h1v5.41h-1zM416 115.6h1v5.41h-1zM419 115.6h2v5.41h-2zM422 115.6h1v5.41h-1zM312 120.95h1v5.41h-1zM488 120.95h1v5.41h-1zM431 126.31h1v5.41h-1zM434 131.66h2v5.41h-2zM437 131.66h1v5.41h-1zM447 131.66h1v5.41h-1zM452 131.66h1v5.41h-1zM456 131.66h1v5.41h-1zM463 131.66h1v5.41h-1zM466 131.66h2v5.41h-2zM473 131.66h1v5.41h-1zM486 131.66h1v5.41h-1zM491 131.66h1v5.41h-1zM312 137.02h2v5.41h-2zM317 142.38h1v5.41h-1zM322 142.38h1v5.41h-1zM335 142.38h1v5.41h-1zM362 142.38h1v5.41h-1zM451 147.73h1v5.41h-1zM455 147.73h1v5.41h-1zM469 147.73h1v5.41h-1zM471 147.73h1v5.41h-1zM475 147.73h2v5.41h-2zM479 147.73h1v5.41h-1zM481 147.73h1v5.41h-1zM485 147.73h1v5.41h-1zM488 147.73h1v5.41h-1zM490 147.73h1v5.41h-1zM322 153.09h1v5.41h-1zM330 153.09h2v5.41h-2zM338 153.09h1v5.41h-1zM441 158.44h1v5.41h-1zM451 158.44h1v5.41h-1zM469 158.44h1v5.41h-1zM471 158.44h1v5.41h-1zM317 163.8h1v5.41h-1zM323 163.8h2v5.41h-2zM314 169.16h1v5.41h-1zM320 169.16h1v5.41h-1zM339 169.16h1v5.41h-1zM344 169.16h1v5.41h-1zM348 169.16h1v5.41h-1zM397 169.16h1v5.41h-1zM362 174.51h1v5.41h-1zM367 174.51h1v5.41h-1zM489 174.51h1v5.41h-1zM440 179.87h1v5.41h-1zM451 179.87h1v5.41h-1zM477 179.87h1v5.41h-1zM490 179.87h1v5.41h-1zM323 190.58h1v5.41h-1zM376 190.58h1v5.41h-1zM389 190.58h1v5.41h-1zM393 190.58h2v5.41h-2zM409 190.58h1v5.41h-1zM414 190.58h1v5.41h-1zM424 190.58h1v5.41h-1zM355 195.94h1v5.41h-1zM378 195.94h1v5.41h-1zM386 195.94h1v5.41h-1zM393 195.94h1v5.41h-1zM405 195.94h1v5.41h-1zM409 195.94h1v5.41h-1zM415 195.94h1v5.41h-1zM424 195.94h1v5.41h-1zM429 195.94h1v5.41h-1zM337 201.29h1v5.41h-1zM339 201.29h1v5.41h-1zM344 201.29h2v5.41h-2zM355 201.29h1v5.41h-1zM377 201.29h1v5.41h-1zM386 201.29h1v5.41h-1zM389 201.29h1v5.41h-1zM393 201.29h2v5.41h-2zM400 201.29h1v5.41h-1zM410 201.29h1v5.41h-1zM414 201.29h1v5.41h-1zM429 201.29h1v5.41h-1zM337 206.65h1v5.41h-1zM344 206.65h2v5.41h-2zM351 206.65h1v5.41h-1zM360 206.65h1v5.41h-1zM377 206.65h2v5.41h-2zM393 206.65h2v5.41h-2zM400 206.65h1v5.41h-1zM405 206.65h1v5.41h-1zM410 206.65h1v5.41h-1zM418 206.65h1v5.41h-1zM430 206.65h1v5.41h-1zM324 212h1v5.41h-1zM345 212h2v5.41h-2zM355 212h1v5.41h-1zM360 212h1v5.41h-1zM377 212h1v5.41h-1zM386 212h1v5.41h-1zM405 212h1v5.41h-1zM410 212h1v5.41h-1zM414 212h1v5.41h-1zM424 212h1v5.41h-1zM313 217.36h1v5.41h-1zM397 217.36h1v5.41h-1zM320 222.72h1v5.41h-1zM339 222.72h1v5.41h-1zM341 222.72h1v5.41h-1zM344 222.72h1v5.41h-1zM378 222.72h1v5.41h-1zM386 222.72h1v5.41h-1zM388 222.72h1v5.41h-1zM415 228.07h1v5.41h-1zM423 228.07h1v5.41h-1zM425 228.07h1v5.41h-1zM430 228.07h1v5.41h-1zM428 233.43h1v5.41h-1zM344 238.78h2v5.41h-2zM374 238.78h1v5.41h-1zM397 238.78h1v5.41h-1zM405 238.78h2v5.41h-2zM409 238.78h2v5.41h-2zM425 238.78h1v5.41h-1z"/>
<path fill="#c9b7e1" shape-rendering="crispEdges" d="M385 29.9h1v5.41h-1zM397 29.9h1v5.41h-1zM450 29.9h2v5.41h-2zM454 29.9h1v5.41h-1zM466 29.9h1v5.41h-1zM482 29.9h1v5.41h-1zM486 29.9h2v5.41h-2zM471 35.26h2v5.41h-2zM478 35.26h1v5.41h-1zM385 40.61h1v5.41h-1zM396 40.61h1v5.41h-1zM417 40.61h1v5.41h-1zM459 40.61h1v5.41h-1zM464 40.61h1v5.41h-1zM470 40.61h1v5.41h-1zM473 40.61h1v5.41h-1zM475 40.61h2v5.41h-2zM481 40.61h1v5.41h-1zM484 40.61h2v5.41h-2zM487 40.61h1v5.41h-1zM379 45.97h2v5.41h-2zM401 45.97h1v5.41h-1zM404 45.97h1v5.41h-1zM406 45.97h1v5.41h-1zM416 45.97h1v5.41h-1zM418 45.97h1v5.41h-1zM427 45.97h1v5.41h-1zM435 45.97h1v5.41h-1zM374 51.32h2v5.41h-2zM408 56.68h1v5.41h-1zM457 56.68h1v5.41h-1zM488 56.68h1v5.41h-1zM382 62.04h1v5.41h-1zM384 62.04h1v5.41h-1zM405 62.04h1v5.41h-1zM435 62.04h1v5.41h-1zM442 62.04h1v5.41h-1zM449 62.04h1v5.41h-1zM397 67.39h1v5.41h-1zM407 67.39h1v5.41h-1zM441 67.39h1v5.41h-1zM448 67.39h1v5.41h-1zM461 67.39h1v5.41h-1zM467 67.39h1v5.41h-1zM351 72.75h1v5.41h-1zM368 72.75h1v5.41h-1zM390 72.75h1v5.41h-1zM437 72.75h1v5.41h-1zM460 72.75h1v5.41h-1zM467 72.75h1v5.41h-1zM408 78.1h2v5.41h-2zM434 78.1h1v5.41h-1zM453 78.1h1v5.41h-1zM333 88.82h1v5.41h-1zM337 88.82h1v5.41h-1zM455 94.17h1v5.41h-1zM471 94.17h2v5.41h-2zM446 99.53h1v5.41h-1zM488 99.53h1v5.41h-1zM442 104.88h1v5.41h-1zM454 104.88h1v5.41h-1zM457 104.88h1v5.41h-1zM457 110.24h1v5.41h-1zM469 110.24h1v5.41h-1zM486 110.24h1v5.41h-1zM441 115.6h1v5.41h-1zM455 115.6h1v5.41h-1zM471 115.6h1v5.41h-1zM442 120.95h1v5.41h-1zM446 120.95h1v5.41h-1zM455 120.95h1v5.41h-1zM457 120.95h1v5.41h-1zM463 120.95h1v5.41h-1zM490 120.95h1v5.41h-1zM438 126.31h1v5.41h-1zM488 126.31h1v5.41h-1zM335 131.66h2v5.41h-2zM444 131.66h1v5.41h-1zM483 131.66h1v5.41h-1zM489 131.66h1v5.41h-1zM314 142.38h1v5.41h-1zM325 142.38h1v5.41h-1zM330 142.38h1v5.41h-1zM360 142.38h2v5.41h-2zM312 147.73h1v5.41h-1zM318 153.09h1v5.41h-1zM326 153.09h1v5.41h-1zM474 158.44h1v5.41h-1zM318 163.8h1v5.41h-1zM330 163.8h1v5.41h-1zM337 163.8h1v5.41h-1zM313 174.51h1v5.41h-1zM313 179.87h1v5.41h-1zM474 179.87h1v5.41h-1zM314 190.58h1v5.41h-1zM319 190.58h1v5.41h-1zM325 190.58h1v5.41h-1zM328 190.58h2v5.41h-2zM340 190.58h1v5.41h-1zM350 190.58h1v5.41h-1zM363 190.58h1v5.41h-1zM373 190.58h1v5.41h-1zM385 190.58h1v5.41h-1zM390 190.58h1v5.41h-1zM401 190.58h1v5.41h-1zM421 190.58h1v5.41h-1zM319 195.94h1v5.41h-1zM329 195.94h2v5.41h-2zM336 195.94h1v5.41h-1zM347 195.94h1v5.41h-1zM363 195.94h2v5.41h-2zM390 195.94h1v5.41h-1zM398 195.94h2v5.41h-2zM404 195.94h1v5.41h-1zM408 195.94h1v5.41h-1zM319 201.29h1v5.41h-1zM331 201.29h1v5.41h-1zM336 201.29h1v5.41h-1zM349 201.29h1v5.41h-1zM356 201.29h1v5.41h-1zM380 201.29h1v5.41h-1zM390 201.29h1v5.41h-1zM401 201.29h1v5.41h-1zM403 201.29h1v5.41h-1zM416 201.29h1v5.41h-1zM427 201.29h2v5.41h-2zM433 201.29h1v5.41h-1zM319 206.65h1v5.41h-1zM325 206.65h1v5.41h-1zM336 206.65h1v5.41h-1zM350 206.65h1v5.41h-1zM359 206.65h1v5.41h-1zM363 206.65h1v5.41h-1zM384 206.65h1v5.41h-1zM401 206.65h1v5.41h-1zM416 206.65h1v5.41h-1zM433 206.65h1v5.41h-1zM322 212h1v5.41h-1zM330 212h1v5.41h-1zM342 212h1v5.41h-1zM349 212h2v5.41h-2zM373 212h1v5.41h-1zM399 212h1v5.41h-1zM416 212h1v5.41h-1zM431 212h1v5.41h-1zM433 212h1v5.41h-1zM345 217.36h1v5.41h-1zM351 217.36h1v5.41h-1zM376 217.36h1v5.41h-1zM389 217.36h1v5.41h-1zM395 217.36h1v5.41h-1zM418 217.36h1v5.41h-1zM422 217.36h1v5.41h-1zM424 217.36h1v5.41h-1zM426 217.36h2v5.41h-2zM430 217.36h1v5.41h-1zM328 222.72h1v5.41h-1zM336 222.72h1v5.41h-1zM342 222.72h1v5.41h-1zM351 222.72h1v5.41h-1zM364 222.72h1v5.41h-1zM376 222.72h1v5.41h-1zM395 222.72h1v5.41h-1zM398 222.72h1v5.41h-1zM401 222.72h1v5.41h-1zM341 228.07h1v5.41h-1zM344 228.07h1v5.41h-1zM400 228.07h1v5.41h-1zM406 228.07h1v5.41h-1zM408 228.07h1v5.41h-1zM416 228.07h1v5.41h-1zM361 233.43h1v5.41h-1zM378 233.43h1v5.41h-1zM386 233.43h1v5.41h-1zM389 233.43h1v5.41h-1zM393 233.43h2v5.41h-2zM318 238.78h1v5.41h-1zM337 238.78h1v5.41h-1zM339 238.78h1v5.41h-1zM352 238.78h2v5.41h-2zM379 238.78h1v5.41h-1zM385 238.78h1v5.41h-1zM395 238.78h1v5.41h-1zM401 238.78h1v5.41h-1zM408 238.78h1v5.41h-1zM431 238.78h1v5.41h-1z"/>
<path fill="#e7d5ed" shape-rendering="crispEdges" d="M388 29.9h1v5.41h-1zM404 29.9h1v5.41h-1zM414 29.9h1v5.41h-1zM432 29.9h1v5.41h-1zM381 35.26h1v5.41h-1zM415 35.26h1v5.41h-1zM423 35.26h1v5.41h-1zM425 35.26h1v5.41h-1zM342 40.61h1v5.41h-1zM350 40.61h1v5.41h-1zM383 40.61h1v5.41h-1zM401 40.61h1v5.41h-1zM404 40.61h1v5.41h-1zM410 40.61h1v5.41h-1zM414 40.61h1v5.41h-1zM423 40.61h1v5.41h-1zM446 45.97h1v5.41h-1zM475 45.97h1v5.41h-1zM388 51.32h1v5.41h-1zM448 51.32h1v5.41h-1zM450 51.32h1v5.41h-1zM395 56.68h1v5.41h-1zM428 56.68h1v5.41h-1zM370 62.04h1v5.41h-1zM380 62.04h1v5.41h-1zM388 62.04h1v5.41h-1zM401 62.04h1v5.41h-1zM469 62.04h1v5.41h-1zM346 67.39h1v5.41h-1zM350 67.39h1v5.41h-1zM378 67.39h1v5.41h-1zM402 67.39h1v5.41h-1zM433 67.39h1v5.41h-1zM344 72.75h1v5.41h-1zM358 72.75h1v5.41h-1zM478 72.75h1v5.41h-1zM383 78.1h1v5.41h-1zM432 78.1h1v5.41h-1zM488 78.1h1v5.41h-1zM322 88.82h1v5.41h-1zM419 99.53h1v5.41h-1zM419 104.88h1v5.41h-1zM407 115.6h1v5.41h-1zM428 115.6h1v5.41h-1zM419 126.31h1v5.41h-1zM312 131.66h1v5.41h-1zM406 131.66h1v5.41h-1zM442 131.66h1v5.41h-1zM348 137.02h1v5.41h-1zM312 142.38h1v5.41h-1zM333 142.38h1v5.41h-1zM458 147.73h2v5.41h-2zM465 147.73h1v5.41h-1zM468 147.73h1v5.41h-1zM470 147.73h1v5.41h-1zM487 147.73h1v5.41h-1zM324 153.09h1v5.41h-1zM335 153.09h1v5.41h-1zM348 158.44h1v5.41h-1zM437 158.44h1v5.41h-1zM442 158.44h1v5.41h-1zM455 158.44h1v5.41h-1zM476 158.44h2v5.41h-2zM482 158.44h1v5.41h-1zM333 163.8h2v5.41h-2zM338 169.16h1v5.41h-1zM347 169.16h1v5.41h-1zM369 169.16h1v5.41h-1zM397 174.51h1v5.41h-1zM441 174.51h1v5.41h-1zM455 174.51h1v5.41h-1zM475 174.51h1v5.41h-1zM392 179.87h1v5.41h-1zM444 179.87h1v5.41h-1zM454 179.87h1v5.41h-1zM475 179.87h1v5.41h-1zM345 190.58h1v5.41h-1zM413 190.58h1v5.41h-1zM338 195.94h1v5.41h-1zM397 201.29h1v5.41h-1zM411 201.29h1v5.41h-1zM422 201.29h1v5.41h-1zM313 212h1v5.41h-1zM338 212h1v5.41h-1zM312 222.72h1v5.41h-1zM413 228.07h1v5.41h-1zM317 233.43h1v5.41h-1zM321 233.43h1v5.41h-1zM332 233.43h1v5.41h-1zM418 233.43h1v5.41h-1z"/>
<path fill="#d5c3e7" shape-rendering="crispEdges" d="M389 29.9h1v5.41h-1zM395 29.9h1v5.41h-1zM406 29.9h1v5.41h-1zM408 29.9h1v5.41h-1zM416 29.9h1v5.41h-1zM463 29.9h3v5.41h-3zM473 29.9h1v5.41h-1zM376 35.26h2v5.41h-2zM396 35.26h1v5.41h-1zM409 35.26h1v5.41h-1zM421 35.26h1v5.41h-1zM427 35.26h1v5.41h-1zM431 35.26h1v5.41h-1zM368 40.61h1v5.41h-1zM372 40.61h1v5.41h-1zM409 40.61h1v5.41h-1zM488 40.61h1v5.41h-1zM399 45.97h2v5.41h-2zM413 45.97h1v5.41h-1zM415 45.97h1v5.41h-1zM433 45.97h1v5.41h-1zM438 45.97h1v5.41h-1zM460 45.97h1v5.41h-1zM369 51.32h1v5.41h-1zM372 51.32h1v5.41h-1zM385 51.32h1v5.41h-1zM389 51.32h2v5.41h-2zM407 51.32h1v5.41h-1zM413 56.68h1v5.41h-1zM416 56.68h1v5.41h-1zM422 56.68h1v5.41h-1zM424 56.68h1v5.41h-1zM431 56.68h1v5.41h-1zM368 62.04h1v5.41h-1zM383 62.04h1v5.41h-1zM413 62.04h1v5.41h-1zM427 62.04h1v5.41h-1zM441 62.04h1v5.41h-1zM448 62.04h1v5.41h-1zM454 62.04h1v5.41h-1zM467 62.04h1v5.41h-1zM491 62.04h1v5.41h-1zM382 67.39h1v5.41h-1zM390 67.39h1v5.41h-1zM395 67.39h1v5.41h-1zM405 67.39h1v5.41h-1zM408 67.39h2v5.41h-2zM416 67.39h1v5.41h-1zM418 67.39h1v5.41h-1zM427 67.39h1v5.41h-1zM439 67.39h1v5.41h-1zM447 67.39h1v5.41h-1zM476 67.39h1v5.41h-1zM481 67.39h1v5.41h-1zM483 67.39h1v5.41h-1zM489 67.39h2v5.41h-2zM342 72.75h2v5.41h-2zM361 72.75h1v5.41h-1zM392 72.75h1v5.41h-1zM463 72.75h1v5.41h-1zM465 72.75h1v5.41h-1zM473 72.75h1v5.41h-1zM475 72.75h1v5.41h-1zM477 72.75h1v5.41h-1zM480 72.75h1v5.41h-1zM369 78.1h1v5.41h-1zM376 78.1h1v5.41h-1zM385 78.1h2v5.41h-2zM398 78.1h1v5.41h-1zM412 78.1h1v5.41h-1zM415 78.1h1v5.41h-1zM418 78.1h1v5.41h-1zM421 78.1h1v5.41h-1zM424 78.1h1v5.41h-1zM427 78.1h1v5.41h-1zM446 78.1h1v5.41h-1zM463 78.1h1v5.41h-1zM474 78.1h1v5.41h-1zM477 78.1h1v5.41h-1zM481 78.1h1v5.41h-1zM312 83.46h1v5.41h-1zM326 88.82h1v5.41h-1zM312 94.17h1v5.41h-1zM417 94.17h1v5.41h-1zM438 94.17h1v5.41h-1zM312 104.88h1v5.41h-1zM438 104.88h1v5.41h-1zM488 110.24h1v5.41h-1zM405 115.6h1v5.41h-1zM417 115.6h1v5.41h-1zM431 115.6h1v5.41h-1zM438 120.95h1v5.41h-1zM454 120.95h1v5.41h-1zM316 131.66h1v5.41h-1zM461 131.66h1v5.41h-1zM465 131.66h1v5.41h-1zM476 131.66h1v5.41h-1zM321 142.38h1v5.41h-1zM324 142.38h1v5.41h-1zM328 142.38h2v5.41h-2zM338 142.38h2v5.41h-2zM347 142.38h1v5.41h-1zM441 147.73h1v5.41h-1zM462 147.73h1v5.41h-1zM337 153.09h1v5.41h-1zM480 158.44h1v5.41h-1zM332 163.8h1v5.41h-1zM351 174.51h1v5.41h-1zM365 174.51h1v5.41h-1zM448 174.51h1v5.41h-1zM469 179.87h1v5.41h-1zM479 179.87h1v5.41h-1zM481 179.87h1v5.41h-1zM313 185.22h1v5.41h-1zM355 190.58h1v5.41h-1zM361 190.58h1v5.41h-1zM379 190.58h1v5.41h-1zM386 190.58h1v5.41h-1zM400 190.58h1v5.41h-1zM407 190.58h1v5.41h-1zM423 190.58h1v5.41h-1zM430 190.58h1v5.41h-1zM320 195.94h1v5.41h-1zM337 195.94h1v5.41h-1zM346 195.94h1v5.41h-1zM353 195.94h1v5.41h-1zM361 195.94h1v5.41h-1zM377 195.94h1v5.41h-1zM379 195.94h1v5.41h-1zM389 195.94h1v5.41h-1zM394 195.94h1v5.41h-1zM401 195.94h1v5.41h-1zM417 195.94h2v5.41h-2zM425 195.94h1v5.41h-1zM320 201.29h1v5.41h-1zM415 201.29h1v5.41h-1zM425 201.29h1v5.41h-1zM320 206.65h1v5.41h-1zM339 206.65h1v5.41h-1zM341 206.65h1v5.41h-1zM346 206.65h1v5.41h-1zM379 206.65h1v5.41h-1zM386 206.65h1v5.41h-1zM398 206.65h1v5.41h-1zM415 206.65h1v5.41h-1zM417 206.65h1v5.41h-1zM423 206.65h2v5.41h-2zM431 206.65h1v5.41h-1zM320 212h1v5.41h-1zM339 212h1v5.41h-1zM344 212h1v5.41h-1zM351 212h1v5.41h-1zM361 212h1v5.41h-1zM375 212h2v5.41h-2zM378 212h1v5.41h-1zM387 212h1v5.41h-1zM400 212h1v5.41h-1zM406 212h2v5.41h-2zM409 212h1v5.41h-1zM417 212h2v5.41h-2zM423 212h1v5.41h-1zM425 212h1v5.41h-1zM430 212h1v5.41h-1zM312 217.36h1v5.41h-1zM378 217.36h1v5.41h-1zM388 217.36h1v5.41h-1zM411 217.36h1v5.41h-1zM331 222.72h1v5.41h-1zM337 222.72h1v5.41h-1zM340 222.72h1v5.41h-1zM345 222.72h1v5.41h-1zM374 222.72h1v5.41h-1zM379 222.72h1v5.41h-1zM400 222.72h1v5.41h-1zM403 222.72h1v5.41h-1zM313 228.07h1v5.41h-1zM407 228.07h1v5.41h-1zM426 228.07h1v5.41h-1zM431 228.07h1v5.41h-1zM360 233.43h1v5.41h-1zM386 238.78h1v5.41h-1zM393 238.78h2v5.41h-2zM400 238.78h1v5.41h-1zM423 238.78h1v5.41h-1zM427 238.78h1v5.41h-1z"/>
<path fill="#d5c3e1" shape-rendering="crispEdges" d="M390 29.9h2v5.41h-2zM409 29.9h1v5.41h-1zM418 29.9h1v5.41h-1zM424 29.9h1v5.41h-1zM446 29.9h1v5.41h-1zM452 29.9h1v5.41h-1zM459 29.9h1v5.41h-1zM479 29.9h2v5.41h-2zM408 35.26h1v5.41h-1zM369 40.61h1v5.41h-1zM390 40.61h1v5.41h-1zM447 40.61h1v5.41h-1zM455 40.61h1v5.41h-1zM472 40.61h1v5.41h-1zM474 40.61h1v5.41h-1zM489 40.61h1v5.41h-1zM370 45.97h1v5.41h-1zM420 45.97h1v5.41h-1zM423 45.97h1v5.41h-1zM441 45.97h1v5.41h-1zM448 45.97h1v5.41h-1zM377 51.32h1v5.41h-1zM397 51.32h1v5.41h-1zM376 56.68h1v5.41h-1zM398 56.68h1v5.41h-1zM412 56.68h1v5.41h-1zM468 56.68h1v5.41h-1zM369 62.04h1v5.41h-1zM406 62.04h1v5.41h-1zM421 62.04h1v5.41h-1zM461 62.04h1v5.41h-1zM384 67.39h1v5.41h-1zM424 67.39h1v5.41h-1zM426 67.39h1v5.41h-1zM436 67.39h1v5.41h-1zM453 67.39h1v5.41h-1zM455 67.39h1v5.41h-1zM488 67.39h1v5.41h-1zM446 72.75h1v5.41h-1zM453 72.75h1v5.41h-1zM455 72.75h1v5.41h-1zM481 72.75h1v5.41h-1zM484 72.75h1v5.41h-1zM372 78.1h1v5.41h-1zM396 78.1h1v5.41h-1zM426 78.1h1v5.41h-1zM455 78.1h1v5.41h-1zM479 78.1h1v5.41h-1zM321 88.82h1v5.41h-1zM420 94.17h1v5.41h-1zM422 94.17h1v5.41h-1zM313 99.53h1v5.41h-1zM438 99.53h1v5.41h-1zM313 110.24h1v5.41h-1zM442 110.24h1v5.41h-1zM446 110.24h1v5.41h-1zM438 115.6h1v5.41h-1zM313 120.95h1v5.41h-1zM314 131.66h1v5.41h-1zM484 131.66h1v5.41h-1zM332 142.38h1v5.41h-1zM344 142.38h1v5.41h-1zM364 142.38h1v5.41h-1zM314 153.09h1v5.41h-1zM321 153.09h1v5.41h-1zM448 158.44h1v5.41h-1zM489 158.44h1v5.41h-1zM325 163.8h1v5.41h-1zM349 174.51h1v5.41h-1zM473 174.51h1v5.41h-1zM462 179.87h1v5.41h-1zM339 190.58h1v5.41h-1zM342 190.58h1v5.41h-1zM351 190.58h1v5.41h-1zM353 190.58h1v5.41h-1zM375 190.58h1v5.41h-1zM405 190.58h1v5.41h-1zM412 190.58h1v5.41h-1zM425 190.58h1v5.41h-1zM433 190.58h1v5.41h-1zM324 195.94h1v5.41h-1zM339 195.94h1v5.41h-1zM343 195.94h1v5.41h-1zM352 195.94h1v5.41h-1zM403 195.94h1v5.41h-1zM410 195.94h1v5.41h-1zM423 195.94h1v5.41h-1zM427 195.94h1v5.41h-1zM430 195.94h1v5.41h-1zM340 201.29h1v5.41h-1zM343 201.29h1v5.41h-1zM351 201.29h1v5.41h-1zM376 201.29h1v5.41h-1zM387 201.29h1v5.41h-1zM395 201.29h1v5.41h-1zM406 201.29h1v5.41h-1zM417 201.29h2v5.41h-2zM352 206.65h1v5.41h-1zM355 206.65h1v5.41h-1zM361 206.65h1v5.41h-1zM391 206.65h1v5.41h-1zM426 206.65h2v5.41h-2zM391 212h1v5.41h-1zM393 212h1v5.41h-1zM427 212h1v5.41h-1zM377 217.36h1v5.41h-1zM409 217.36h1v5.41h-1zM413 217.36h1v5.41h-1zM429 217.36h1v5.41h-1zM322 222.72h1v5.41h-1zM330 222.72h1v5.41h-1zM360 222.72h1v5.41h-1zM393 222.72h1v5.41h-1zM397 228.07h1v5.41h-1zM412 228.07h1v5.41h-1zM418 228.07h1v5.41h-1zM427 228.07h1v5.41h-1zM433 228.07h1v5.41h-1zM397 233.43h1v5.41h-1zM320 238.78h1v5.41h-1zM324 238.78h1v5.41h-1zM330 238.78h1v5.41h-1zM412 238.78h1v5.41h-1zM428 238.78h1v5.41h-1zM430 238.78h1v5.41h-1z"/>
<path fill="#c3b1db" shape-rendering="crispEdges" d="M396 29.9h1v5.41h-1zM398 29.9h1v5.41h-1zM434 29.9h1v5.41h-1zM436 29.9h2v5.41h-2zM441 29.9h1v5.41h-1zM485 29.9h1v5.41h-1zM491 29.9h1v5.41h-1zM457 35.26h1v5.41h-1zM434 40.61h1v5.41h-1zM436 40.61h2v5.41h-2zM440 40.61h1v5.41h-1zM450 40.61h1v5.41h-1zM458 40.61h1v5.41h-1zM378 45.97h1v5.41h-1zM393 45.97h1v5.41h-1zM405 45.97h1v5.41h-1zM424 45.97h1v5.41h-1zM449 45.97h1v5.41h-1zM439 56.68h1v5.41h-1zM456 56.68h1v5.41h-1zM476 56.68h2v5.41h-2zM489 56.68h1v5.41h-1zM377 62.04h1v5.41h-1zM397 62.04h1v5.41h-1zM407 62.04h1v5.41h-1zM398 67.39h1v5.41h-1zM438 67.39h1v5.41h-1zM451 67.39h1v5.41h-1zM491 67.39h1v5.41h-1zM369 72.75h1v5.41h-1zM385 72.75h2v5.41h-2zM450 72.75h1v5.41h-1zM436 78.1h1v5.41h-1zM460 78.1h1v5.41h-1zM466 78.1h1v5.41h-1zM454 83.46h1v5.41h-1zM327 88.82h1v5.41h-1zM441 94.17h1v5.41h-1zM446 94.17h1v5.41h-1zM464 94.17h1v5.41h-1zM473 94.17h1v5.41h-1zM486 94.17h1v5.41h-1zM457 99.53h1v5.41h-1zM461 99.53h1v5.41h-1zM463 99.53h1v5.41h-1zM472 99.53h1v5.41h-1zM491 99.53h1v5.41h-1zM456 104.88h1v5.41h-1zM464 104.88h1v5.41h-1zM452 110.24h1v5.41h-1zM446 115.6h2v5.41h-2zM453 115.6h1v5.41h-1zM463 115.6h1v5.41h-1zM473 115.6h1v5.41h-1zM320 120.95h1v5.41h-1zM441 120.95h1v5.41h-1zM456 120.95h1v5.41h-1zM476 120.95h1v5.41h-1zM446 126.31h2v5.41h-2zM458 131.66h1v5.41h-1zM462 131.66h1v5.41h-1zM478 131.66h2v5.41h-2zM487 131.66h1v5.41h-1zM312 179.87h1v5.41h-1zM318 190.58h1v5.41h-1zM336 190.58h1v5.41h-1zM356 190.58h1v5.41h-1zM359 190.58h1v5.41h-1zM372 190.58h1v5.41h-1zM383 190.58h1v5.41h-1zM408 190.58h1v5.41h-1zM432 190.58h1v5.41h-1zM328 195.94h1v5.41h-1zM381 195.94h1v5.41h-1zM419 195.94h1v5.41h-1zM318 201.29h1v5.41h-1zM325 201.29h1v5.41h-1zM396 201.29h1v5.41h-1zM316 206.65h1v5.41h-1zM318 206.65h1v5.41h-1zM326 206.65h1v5.41h-1zM342 206.65h1v5.41h-1zM381 206.65h1v5.41h-1zM404 206.65h1v5.41h-1zM327 212h1v5.41h-1zM331 212h1v5.41h-1zM336 212h1v5.41h-1zM348 212h1v5.41h-1zM354 212h1v5.41h-1zM359 212h1v5.41h-1zM371 212h1v5.41h-1zM380 212h1v5.41h-1zM395 212h1v5.41h-1zM419 212h1v5.41h-1zM421 212h1v5.41h-1zM323 217.36h1v5.41h-1zM352 217.36h1v5.41h-1zM375 217.36h1v5.41h-1zM387 217.36h1v5.41h-1zM401 217.36h1v5.41h-1zM405 217.36h1v5.41h-1zM431 217.36h1v5.41h-1zM314 222.72h1v5.41h-1zM325 222.72h1v5.41h-1zM349 222.72h1v5.41h-1zM380 222.72h1v5.41h-1zM391 222.72h1v5.41h-1zM399 222.72h1v5.41h-1zM402 222.72h1v5.41h-1zM360 228.07h1v5.41h-1zM377 228.07h2v5.41h-2zM419 228.07h1v5.41h-1zM351 233.43h1v5.41h-1zM355 233.43h1v5.41h-1zM385 233.43h1v5.41h-1zM420 233.43h1v5.41h-1zM350 238.78h1v5.41h-1zM364 238.78h1v5.41h-1zM383 238.78h1v5.41h-1zM398 238.78h1v5.41h-1zM402 238.78h1v5.41h-1zM404 238.78h1v5.41h-1zM421 238.78h1v5.41h-1z"/>
<path fill="#e1d5e7" shape-rendering="crispEdges" d="M411 29.9h1v5.41h-1zM415 40.61h1v5.41h-1zM408 51.32h1v5.41h-1zM418 51.32h1v5.41h-1zM347 67.39h1v5.41h-1zM431 67.39h1v5.41h-1zM348 72.75h1v5.41h-1zM409 94.17h1v5.41h-1zM418 115.6h1v5.41h-1zM319 131.66h1v5.41h-1zM330 131.66h1v5.41h-1zM340 142.38h1v5.41h-1zM327 163.8h1v5.41h-1zM436 174.51h1v5.41h-1zM407 195.94h1v5.41h-1z"/>
<path fill="#bdabdb" shape-rendering="crispEdges" d="M417 29.9h1v5.41h-1zM449 29.9h1v5.41h-1zM462 35.26h1v5.41h-1zM488 35.26h1v5.41h-1zM381 45.97h1v5.41h-1zM409 45.97h1v5.41h-1zM407 56.68h1v5.41h-1zM417 56.68h1v5.41h-1zM481 56.68h1v5.41h-1zM484 56.68h1v5.41h-1zM490 56.68h1v5.41h-1zM373 67.39h1v5.41h-1zM435 67.39h1v5.41h-1zM442 67.39h1v5.41h-1zM444 72.75h1v5.41h-1zM438 78.1h1v5.41h-1zM444 78.1h2v5.41h-2zM450 78.1h2v5.41h-2zM461 78.1h1v5.41h-1zM491 78.1h1v5.41h-1zM442 83.46h1v5.41h-1zM446 88.82h1v5.41h-1zM437 94.17h1v5.41h-1zM461 94.17h1v5.41h-1zM319 99.53h2v5.41h-2zM437 99.53h1v5.41h-1zM471 99.53h1v5.41h-1zM490 99.53h1v5.41h-1zM446 104.88h1v5.41h-1zM468 104.88h1v5.41h-1zM439 110.24h1v5.41h-1zM443 110.24h1v5.41h-1zM470 110.24h1v5.41h-1zM490 110.24h1v5.41h-1zM452 115.6h1v5.41h-1zM456 115.6h1v5.41h-1zM461 115.6h1v5.41h-1zM491 115.6h1v5.41h-1zM315 120.95h1v5.41h-1zM441 126.31h1v5.41h-1zM473 126.31h1v5.41h-1zM328 131.66h1v5.41h-1zM338 131.66h1v5.41h-1zM450 131.66h1v5.41h-1zM459 131.66h1v5.41h-1zM362 190.58h1v5.41h-1zM396 190.58h1v5.41h-1zM420 190.58h1v5.41h-1zM359 201.29h1v5.41h-1zM371 201.29h1v5.41h-1zM365 206.65h1v5.41h-1zM402 206.65h1v5.41h-1zM317 212h1v5.41h-1zM365 212h1v5.41h-1zM370 212h1v5.41h-1zM380 217.36h1v5.41h-1zM391 217.36h1v5.41h-1zM408 217.36h1v5.41h-1zM333 222.72h1v5.41h-1zM352 222.72h2v5.41h-2zM346 228.07h1v5.41h-1zM361 228.07h1v5.41h-1zM398 228.07h1v5.41h-1zM353 233.43h1v5.41h-1zM359 233.43h1v5.41h-1zM316 238.78h1v5.41h-1zM325 238.78h1v5.41h-1zM362 238.78h1v5.41h-1zM380 238.78h1v5.41h-1zM419 238.78h1v5.41h-1z"/>
<path fill="#c9b1db" shape-rendering="crispEdges" d="M421 29.9h1v5.41h-1zM448 29.9h1v5.41h-1zM460 29.9h1v5.41h-1zM484 29.9h1v5.41h-1zM417 35.26h1v5.41h-1zM373 40.61h1v5.41h-1zM375 40.61h1v5.41h-1zM466 40.61h1v5.41h-1zM477 40.61h1v5.41h-1zM442 45.97h2v5.41h-2zM470 56.68h1v5.41h-1zM385 62.04h2v5.41h-2zM396 62.04h1v5.41h-1zM417 62.04h1v5.41h-1zM444 62.04h2v5.41h-2zM450 67.39h1v5.41h-1zM485 67.39h2v5.41h-2zM372 72.75h1v5.41h-1zM441 72.75h1v5.41h-1zM373 78.1h1v5.41h-1zM437 78.1h1v5.41h-1zM441 78.1h1v5.41h-1zM339 88.82h1v5.41h-1zM442 94.17h1v5.41h-1zM491 94.17h1v5.41h-1zM464 99.53h1v5.41h-1zM455 104.88h1v5.41h-1zM476 104.88h1v5.41h-1zM488 104.88h1v5.41h-1zM437 110.24h1v5.41h-1zM456 110.24h1v5.41h-1zM491 110.24h1v5.41h-1zM457 115.6h1v5.41h-1zM464 115.6h1v5.41h-1zM453 120.95h1v5.41h-1zM484 120.95h1v5.41h-1zM486 120.95h1v5.41h-1zM324 131.66h1v5.41h-1zM331 131.66h1v5.41h-1zM340 131.66h1v5.41h-1zM336 137.02h1v5.41h-1zM350 142.38h1v5.41h-1zM315 153.09h1v5.41h-1zM320 153.09h1v5.41h-1zM320 163.8h1v5.41h-1zM312 174.51h1v5.41h-1zM474 174.51h1v5.41h-1zM448 179.87h1v5.41h-1zM322 190.58h1v5.41h-1zM348 190.58h1v5.41h-1zM380 190.58h1v5.41h-1zM384 190.58h1v5.41h-1zM404 190.58h1v5.41h-1zM354 195.94h1v5.41h-1zM356 195.94h1v5.41h-1zM359 195.94h1v5.41h-1zM375 195.94h1v5.41h-1zM421 195.94h1v5.41h-1zM433 195.94h1v5.41h-1zM350 201.29h1v5.41h-1zM384 201.29h1v5.41h-1zM327 206.65h1v5.41h-1zM349 206.65h1v5.41h-1zM356 206.65h1v5.41h-1zM382 206.65h1v5.41h-1zM421 206.65h1v5.41h-1zM325 212h1v5.41h-1zM383 212h1v5.41h-1zM401 212h1v5.41h-1zM404 212h1v5.41h-1zM341 217.36h1v5.41h-1zM360 217.36h2v5.41h-2zM403 217.36h1v5.41h-1zM406 217.36h1v5.41h-1zM428 217.36h1v5.41h-1zM433 217.36h1v5.41h-1zM332 222.72h1v5.41h-1zM355 222.72h1v5.41h-1zM375 222.72h1v5.41h-1zM404 222.72h1v5.41h-1zM345 228.07h1v5.41h-1zM388 228.07h1v5.41h-1zM379 233.43h1v5.41h-1zM315 238.78h1v5.41h-1zM327 238.78h1v5.41h-1zM340 238.78h1v5.41h-1zM384 238.78h1v5.41h-1zM399 238.78h1v5.41h-1z"/>
<path fill="#dbcfe7" shape-rendering="crispEdges" d="M431 29.9h1v5.41h-1zM468 29.9h1v5.41h-1zM488 29.9h1v5.41h-1zM375 35.26h1v5.41h-1zM412 35.26h1v5.41h-1zM416 35.26h1v5.41h-1zM418 35.26h1v5.41h-1zM422 35.26h1v5.41h-1zM424 35.26h1v5.41h-1zM382 40.61h1v5.41h-1zM406 40.61h1v5.41h-1zM412 40.61h1v5.41h-1zM422 40.61h1v5.41h-1zM456 40.61h2v5.41h-2zM468 40.61h1v5.41h-1zM478 40.61h1v5.41h-1zM430 45.97h1v5.41h-1zM437 45.97h1v5.41h-1zM487 45.97h1v5.41h-1zM368 51.32h1v5.41h-1zM382 51.32h1v5.41h-1zM443 51.32h1v5.41h-1zM415 56.68h1v5.41h-1zM420 56.68h1v5.41h-1zM430 56.68h1v5.41h-1zM478 56.68h1v5.41h-1zM390 62.04h1v5.41h-1zM411 62.04h1v5.41h-1zM422 62.04h2v5.41h-2zM430 62.04h1v5.41h-1zM458 62.04h1v5.41h-1zM466 62.04h1v5.41h-1zM470 62.04h1v5.41h-1zM406 67.39h1v5.41h-1zM412 67.39h2v5.41h-2zM415 67.39h1v5.41h-1zM425 67.39h1v5.41h-1zM381 72.75h1v5.41h-1zM399 72.75h1v5.41h-1zM414 78.1h1v5.41h-1zM433 78.1h1v5.41h-1zM470 78.1h1v5.41h-1zM335 88.82h1v5.41h-1zM406 94.17h1v5.41h-1zM419 94.17h1v5.41h-1zM432 94.17h1v5.41h-1zM422 104.88h1v5.41h-1zM432 115.6h1v5.41h-1zM420 126.31h1v5.41h-1zM318 131.66h1v5.41h-1zM431 131.66h1v5.41h-1zM468 131.66h2v5.41h-2zM359 142.38h1v5.41h-1zM367 142.38h1v5.41h-1zM397 142.38h1v5.41h-1zM350 147.73h1v5.41h-1zM477 147.73h1v5.41h-1zM316 153.09h1v5.41h-1zM490 158.44h1v5.41h-1zM335 163.8h1v5.41h-1zM340 163.8h1v5.41h-1zM330 169.16h1v5.41h-1zM350 169.16h1v5.41h-1zM363 174.51h1v5.41h-1zM392 174.51h1v5.41h-1zM436 179.87h1v5.41h-1zM456 179.87h1v5.41h-1zM482 179.87h1v5.41h-1zM485 179.87h2v5.41h-2zM324 190.58h1v5.41h-1zM343 190.58h1v5.41h-1zM346 190.58h1v5.41h-1zM360 190.58h1v5.41h-1zM374 190.58h1v5.41h-1zM388 190.58h1v5.41h-1zM410 190.58h1v5.41h-1zM429 190.58h1v5.41h-1zM323 195.94h1v5.41h-1zM345 195.94h1v5.41h-1zM360 195.94h1v5.41h-1zM422 195.94h1v5.41h-1zM323 201.29h1v5.41h-1zM374 201.29h1v5.41h-1zM379 201.29h1v5.41h-1zM409 201.29h1v5.41h-1zM423 201.29h2v5.41h-2zM406 206.65h1v5.41h-1zM409 206.65h1v5.41h-1zM414 206.65h1v5.41h-1zM422 206.65h1v5.41h-1zM422 212h1v5.41h-1zM324 222.72h1v5.41h-1zM424 228.07h1v5.41h-1zM416 233.43h1v5.41h-1zM425 233.43h1v5.41h-1zM431 233.43h1v5.41h-1zM323 238.78h1v5.41h-1zM338 238.78h1v5.41h-1zM422 238.78h1v5.41h-1zM424 238.78h1v5.41h-1z"/>
<path fill="#ab93cf" shape-rendering="crispEdges" d="M435 29.9h1v5.41h-1zM443 29.9h1v5.41h-1zM450 35.26h1v5.41h-1zM454 35.26h1v5.41h-1zM461 35.26h1v5.41h-1zM464 35.26h4v5.41h-4zM475 35.26h1v5.41h-1zM482 35.26h1v5.41h-1zM441 56.68h1v5.41h-1zM445 56.68h1v5.41h-1zM454 56.68h1v5.41h-1zM460 56.68h1v5.41h-1zM317 83.46h1v5.41h-1zM329 83.46h1v5.41h-1zM437 83.46h1v5.41h-1zM452 83.46h1v5.41h-1zM457 83.46h1v5.41h-1zM461 83.46h1v5.41h-1zM463 83.46h2v5.41h-2zM486 83.46h1v5.41h-1zM490 83.46h1v5.41h-1zM435 88.82h1v5.41h-1zM455 88.82h1v5.41h-1zM460 88.82h1v5.41h-1zM484 88.82h1v5.41h-1zM489 88.82h1v5.41h-1zM316 94.17h1v5.41h-1zM459 94.17h1v5.41h-1zM479 94.17h1v5.41h-1zM482 94.17h2v5.41h-2zM487 94.17h1v5.41h-1zM314 99.53h1v5.41h-1zM317 99.53h1v5.41h-1zM470 99.53h1v5.41h-1zM477 99.53h2v5.41h-2zM481 99.53h1v5.41h-1zM475 104.88h1v5.41h-1zM459 110.24h1v5.41h-1zM315 115.6h1v5.41h-1zM320 115.6h1v5.41h-1zM330 115.6h1v5.41h-1zM445 115.6h1v5.41h-1zM459 115.6h1v5.41h-1zM462 115.6h1v5.41h-1zM477 115.6h3v5.41h-3zM483 115.6h1v5.41h-1zM314 120.95h1v5.41h-1zM324 120.95h1v5.41h-1zM335 120.95h1v5.41h-1zM436 120.95h1v5.41h-1zM462 120.95h1v5.41h-1zM475 120.95h1v5.41h-1zM316 126.31h1v5.41h-1zM443 126.31h1v5.41h-1zM465 126.31h1v5.41h-1zM321 137.02h2v5.41h-2zM332 137.02h1v5.41h-1zM327 158.44h1v5.41h-1zM333 185.22h2v5.41h-2zM336 185.22h1v5.41h-1zM367 190.58h1v5.41h-1zM333 206.65h2v5.41h-2zM332 212h1v5.41h-1zM334 212h1v5.41h-1zM369 212h1v5.41h-1zM315 217.36h1v5.41h-1zM337 217.36h1v5.41h-1zM348 217.36h1v5.41h-1zM354 217.36h1v5.41h-1zM366 217.36h1v5.41h-1zM354 222.72h1v5.41h-1zM357 222.72h1v5.41h-1zM339 228.07h1v5.41h-1zM373 228.07h1v5.41h-1zM380 228.07h1v5.41h-1zM396 228.07h1v5.41h-1zM368 233.43h1v5.41h-1zM366 238.78h1v5.41h-1z"/>
<path fill="#b199cf" shape-rendering="crispEdges" d="M442 29.9h1v5.41h-1zM448 35.26h1v5.41h-1zM455 35.26h1v5.41h-1zM458 35.26h1v5.41h-1zM460 35.26h1v5.41h-1zM477 35.26h1v5.41h-1zM484 35.26h1v5.41h-1zM386 45.97h1v5.41h-1zM437 56.68h1v5.41h-1zM444 56.68h1v5.41h-1zM452 56.68h1v5.41h-1zM447 83.46h1v5.41h-1zM469 83.46h1v5.41h-1zM476 83.46h1v5.41h-1zM453 88.82h1v5.41h-1zM473 88.82h1v5.41h-1zM476 88.82h1v5.41h-1zM330 94.17h1v5.41h-1zM451 94.17h1v5.41h-1zM458 94.17h1v5.41h-1zM485 94.17h1v5.41h-1zM316 99.53h1v5.41h-1zM444 99.53h2v5.41h-2zM462 99.53h1v5.41h-1zM467 99.53h1v5.41h-1zM452 104.88h1v5.41h-1zM458 104.88h1v5.41h-1zM470 104.88h1v5.41h-1zM314 110.24h1v5.41h-1zM317 110.24h1v5.41h-1zM479 110.24h2v5.41h-2zM481 115.6h1v5.41h-1zM317 120.95h1v5.41h-1zM336 120.95h1v5.41h-1zM444 120.95h2v5.41h-2zM474 120.95h1v5.41h-1zM318 126.31h1v5.41h-1zM439 126.31h2v5.41h-2zM463 126.31h1v5.41h-1zM484 126.31h1v5.41h-1zM490 126.31h1v5.41h-1zM333 131.66h1v5.41h-1zM334 190.58h1v5.41h-1zM332 201.29h1v5.41h-1zM367 206.65h1v5.41h-1zM319 217.36h1v5.41h-1zM328 217.36h2v5.41h-2zM359 217.36h1v5.41h-1zM358 222.72h1v5.41h-1zM368 222.72h1v5.41h-1zM349 228.07h1v5.41h-1zM384 228.07h1v5.41h-1zM354 233.43h1v5.41h-1zM356 233.43h1v5.41h-1zM362 233.43h1v5.41h-1zM381 233.43h1v5.41h-1zM335 238.78h1v5.41h-1zM357 238.78h1v5.41h-1zM365 238.78h1v5.41h-1zM392 238.78h1v5.41h-1z"/>
<path fill="#f9c9bd" shape-rendering="crispEdges" d="M313 35.26h1v5.41h-1zM367 35.26h1v5.41h-1zM313 56.68h1v5.41h-1zM313 62.04h1v5.41h-1zM313 67.39h1v5.41h-1zM313 72.75h1v5.41h-1zM312 78.1h1v5.41h-1zM358 83.46h1v5.41h-1zM363 88.82h1v5.41h-1zM379 88.82h1v5.41h-1zM391 99.53h1v5.41h-1zM342 104.88h1v5.41h-1zM379 110.24h1v5.41h-1zM379 115.6h1v5.41h-1zM363 126.31h1v5.41h-1zM368 126.31h1v5.41h-1zM380 126.31h1v5.41h-1zM373 131.66h1v5.41h-1zM397 131.66h1v5.41h-1zM435 137.02h1v5.41h-1zM443 137.02h1v5.41h-1zM381 142.38h1v5.41h-1zM401 153.09h1v5.41h-1zM418 153.09h1v5.41h-1zM429 153.09h1v5.41h-1zM381 158.44h1v5.41h-1zM443 163.8h1v5.41h-1zM438 169.16h1v5.41h-1zM442 169.16h1v5.41h-1zM449 169.16h1v5.41h-1zM418 185.22h1v5.41h-1zM484 190.58h2v5.41h-2zM445 212h1v5.41h-1zM411 222.72h1v5.41h-1zM446 233.43h1v5.41h-1z"/>
<path fill="#ed8175" shape-rendering="crispEdges" d="M314 35.26h1v5.41h-1zM314 51.32h1v5.41h-1zM319 51.32h1v5.41h-1zM340 51.32h1v5.41h-1zM323 56.68h1v5.41h-1zM329 56.68h1v5.41h-1zM337 56.68h1v5.41h-1zM314 67.39h1v5.41h-1zM318 67.39h1v5.41h-1zM322 67.39h1v5.41h-1zM326 67.39h1v5.41h-1zM319 72.75h1v5.41h-1zM327 72.75h2v5.41h-2zM336 72.75h2v5.41h-2zM317 78.1h1v5.41h-1zM361 131.66h1v5.41h-1zM421 169.16h1v5.41h-1zM454 195.94h1v5.41h-1zM440 201.29h1v5.41h-1zM470 206.65h2v5.41h-2zM489 212h1v5.41h-1zM470 217.36h1v5.41h-1zM468 222.72h1v5.41h-1zM465 233.43h1v5.41h-1zM471 238.78h1v5.41h-1z"/>
<path fill="#ed7569" shape-rendering="crispEdges" d="M336 35.26h1v5.41h-1zM333 40.61h1v5.41h-1zM337 40.61h1v5.41h-1zM319 56.68h1v5.41h-1zM322 56.68h1v5.41h-1zM335 56.68h1v5.41h-1zM315 72.75h1v5.41h-1z"/>
<path fill="#f38175" shape-rendering="crispEdges" d="M340 35.26h1v5.41h-1zM334 62.04h1v5.41h-1zM325 67.39h1v5.41h-1zM327 78.1h1v5.41h-1zM333 78.1h1v5.41h-1zM395 99.53h1v5.41h-1zM362 131.66h1v5.41h-1zM465 201.29h1v5.41h-1z"/>
<path fill="#ede7ed" shape-rendering="crispEdges" d="M346 35.26h2v5.41h-2zM388 35.26h1v5.41h-1zM428 40.61h1v5.41h-1zM430 40.61h1v5.41h-1zM429 45.97h1v5.41h-1zM346 51.32h2v5.41h-2zM352 51.32h1v5.41h-1zM423 51.32h1v5.41h-1zM425 51.32h1v5.41h-1zM437 51.32h1v5.41h-1zM452 51.32h1v5.41h-1zM482 51.32h1v5.41h-1zM487 51.32h1v5.41h-1zM343 56.68h1v5.41h-1zM356 62.04h1v5.41h-1zM361 62.04h1v5.41h-1zM371 67.39h1v5.41h-1zM478 67.39h1v5.41h-1zM416 83.46h1v5.41h-1zM312 88.82h1v5.41h-1zM316 88.82h1v5.41h-1zM411 88.82h1v5.41h-1zM423 88.82h1v5.41h-1zM430 104.88h1v5.41h-1zM409 110.24h1v5.41h-1zM418 110.24h1v5.41h-1zM424 115.6h1v5.41h-1zM411 131.66h1v5.41h-1zM416 131.66h1v5.41h-1zM368 142.38h1v5.41h-1zM390 142.38h1v5.41h-1zM351 147.73h1v5.41h-1zM363 147.73h1v5.41h-1zM377 147.73h1v5.41h-1zM333 153.09h1v5.41h-1zM361 153.09h1v5.41h-1zM392 153.09h1v5.41h-1zM473 153.09h1v5.41h-1zM454 158.44h1v5.41h-1zM459 158.44h1v5.41h-1zM466 158.44h1v5.41h-1zM487 158.44h1v5.41h-1zM447 163.8h1v5.41h-1zM489 163.8h1v5.41h-1zM351 169.16h1v5.41h-1zM373 174.51h1v5.41h-1zM399 174.51h1v5.41h-1zM467 174.51h2v5.41h-2zM482 174.51h1v5.41h-1zM491 174.51h1v5.41h-1zM447 185.22h1v5.41h-1zM473 185.22h1v5.41h-1zM338 201.29h1v5.41h-1zM319 233.43h1v5.41h-1z"/>
<path fill="#f9cfbd" shape-rendering="crispEdges" d="M366 35.26h1v5.41h-1zM368 83.46h1v5.41h-1zM359 120.95h1v5.41h-1zM442 153.09h1v5.41h-1zM484 163.8h1v5.41h-1zM445 195.94h1v5.41h-1z"/>
<path fill="#ab8dcf" shape-rendering="crispEdges" d="M434 35.26h1v5.41h-1zM451 35.26h1v5.41h-1zM487 35.26h1v5.41h-1zM377 45.97h1v5.41h-1zM438 56.68h1v5.41h-1zM450 56.68h1v5.41h-1zM335 83.46h1v5.41h-1zM484 83.46h1v5.41h-1zM434 88.82h1v5.41h-1zM440 88.82h1v5.41h-1zM487 88.82h1v5.41h-1zM450 94.17h1v5.41h-1zM479 99.53h1v5.41h-1zM485 99.53h1v5.41h-1zM315 104.88h1v5.41h-1zM318 104.88h1v5.41h-1zM479 104.88h2v5.41h-2zM489 104.88h1v5.41h-1zM319 115.6h1v5.41h-1zM444 115.6h1v5.41h-1zM482 115.6h1v5.41h-1zM485 115.6h1v5.41h-1zM326 120.95h1v5.41h-1zM459 120.95h1v5.41h-1zM481 126.31h1v5.41h-1zM316 137.02h1v5.41h-1zM333 158.44h2v5.41h-2zM323 185.22h1v5.41h-1zM340 185.22h1v5.41h-1zM369 190.58h1v5.41h-1zM333 201.29h1v5.41h-1zM333 212h1v5.41h-1zM318 217.36h1v5.41h-1zM331 217.36h1v5.41h-1zM371 217.36h1v5.41h-1zM367 222.72h1v5.41h-1zM392 222.72h1v5.41h-1zM322 228.07h1v5.41h-1zM371 228.07h2v5.41h-2zM358 233.43h1v5.41h-1z"/>
<path fill="#997bc3" shape-rendering="crispEdges" d="M435 35.26h1v5.41h-1zM324 83.46h1v5.41h-1zM328 83.46h1v5.41h-1zM444 83.46h1v5.41h-1zM480 83.46h1v5.41h-1zM485 83.46h1v5.41h-1zM450 88.82h1v5.41h-1zM459 88.82h1v5.41h-1zM480 88.82h1v5.41h-1zM324 94.17h1v5.41h-1zM334 94.17h1v5.41h-1zM324 99.53h1v5.41h-1zM331 99.53h1v5.41h-1zM334 99.53h1v5.41h-1zM340 99.53h1v5.41h-1zM448 99.53h1v5.41h-1zM317 104.88h1v5.41h-1zM450 104.88h1v5.41h-1zM449 110.24h1v5.41h-1zM314 115.6h1v5.41h-1zM317 115.6h1v5.41h-1zM325 115.6h1v5.41h-1zM335 115.6h1v5.41h-1zM449 115.6h1v5.41h-1zM322 126.31h1v5.41h-1zM331 126.31h1v5.41h-1zM340 126.31h1v5.41h-1zM450 126.31h1v5.41h-1zM480 126.31h1v5.41h-1zM317 147.73h1v5.41h-1zM323 147.73h1v5.41h-1zM333 147.73h2v5.41h-2zM316 158.44h1v5.41h-1zM328 158.44h2v5.41h-2zM332 158.44h1v5.41h-1zM336 179.87h1v5.41h-1zM316 185.22h1v5.41h-1zM321 185.22h1v5.41h-1zM329 185.22h1v5.41h-1zM332 185.22h1v5.41h-1zM338 185.22h2v5.41h-2zM314 228.07h1v5.41h-1zM326 228.07h2v5.41h-2zM392 228.07h1v5.41h-1z"/>
<path fill="#b79fd5" shape-rendering="crispEdges" d="M436 35.26h1v5.41h-1zM439 35.26h1v5.41h-1zM446 35.26h1v5.41h-1zM452 35.26h2v5.41h-2zM459 35.26h1v5.41h-1zM463 35.26h1v5.41h-1zM473 35.26h2v5.41h-2zM479 35.26h1v5.41h-1zM481 35.26h1v5.41h-1zM483 35.26h1v5.41h-1zM461 40.61h1v5.41h-1zM491 40.61h1v5.41h-1zM384 45.97h1v5.41h-1zM397 45.97h1v5.41h-1zM407 45.97h1v5.41h-1zM417 45.97h1v5.41h-1zM434 56.68h1v5.41h-1zM440 56.68h1v5.41h-1zM453 56.68h1v5.41h-1zM458 56.68h1v5.41h-1zM466 56.68h2v5.41h-2zM473 56.68h1v5.41h-1zM475 56.68h1v5.41h-1zM482 56.68h1v5.41h-1zM485 56.68h3v5.41h-3zM373 72.75h1v5.41h-1zM376 72.75h1v5.41h-1zM398 72.75h1v5.41h-1zM435 72.75h1v5.41h-1zM443 72.75h1v5.41h-1zM442 78.1h1v5.41h-1zM315 83.46h1v5.41h-1zM318 83.46h1v5.41h-1zM441 83.46h1v5.41h-1zM446 83.46h1v5.41h-1zM471 83.46h1v5.41h-1zM473 83.46h1v5.41h-1zM491 83.46h1v5.41h-1zM441 88.82h1v5.41h-1zM461 88.82h1v5.41h-1zM463 88.82h1v5.41h-1zM466 88.82h1v5.41h-1zM469 88.82h1v5.41h-1zM472 88.82h1v5.41h-1zM491 88.82h1v5.41h-1zM315 94.17h1v5.41h-1zM434 94.17h2v5.41h-2zM467 94.17h1v5.41h-1zM470 94.17h1v5.41h-1zM477 94.17h1v5.41h-1zM434 99.53h1v5.41h-1zM443 99.53h1v5.41h-1zM452 99.53h1v5.41h-1zM465 99.53h1v5.41h-1zM468 99.53h1v5.41h-1zM330 104.88h1v5.41h-1zM434 104.88h2v5.41h-2zM453 104.88h1v5.41h-1zM460 104.88h1v5.41h-1zM481 104.88h1v5.41h-1zM483 104.88h1v5.41h-1zM316 110.24h1v5.41h-1zM320 110.24h1v5.41h-1zM330 110.24h1v5.41h-1zM444 110.24h1v5.41h-1zM458 110.24h1v5.41h-1zM465 110.24h2v5.41h-2zM477 110.24h1v5.41h-1zM481 110.24h2v5.41h-2zM485 110.24h1v5.41h-1zM487 110.24h1v5.41h-1zM434 115.6h1v5.41h-1zM465 115.6h1v5.41h-1zM470 115.6h1v5.41h-1zM484 115.6h1v5.41h-1zM316 120.95h1v5.41h-1zM322 120.95h1v5.41h-1zM325 120.95h1v5.41h-1zM458 120.95h1v5.41h-1zM467 120.95h2v5.41h-2zM478 120.95h1v5.41h-1zM315 126.31h1v5.41h-1zM320 126.31h1v5.41h-1zM330 126.31h1v5.41h-1zM434 126.31h1v5.41h-1zM453 126.31h1v5.41h-1zM461 126.31h1v5.41h-1zM464 126.31h1v5.41h-1zM469 126.31h1v5.41h-1zM476 126.31h1v5.41h-1zM486 126.31h1v5.41h-1zM491 126.31h1v5.41h-1zM332 131.66h1v5.41h-1zM339 131.66h1v5.41h-1zM448 131.66h2v5.41h-2zM475 131.66h1v5.41h-1zM323 137.02h2v5.41h-2zM326 142.38h1v5.41h-1zM333 190.58h1v5.41h-1zM358 190.58h1v5.41h-1zM366 190.58h1v5.41h-1zM368 190.58h1v5.41h-1zM317 195.94h1v5.41h-1zM327 195.94h1v5.41h-1zM333 195.94h2v5.41h-2zM357 195.94h2v5.41h-2zM367 195.94h2v5.41h-2zM370 195.94h1v5.41h-1zM316 201.29h2v5.41h-2zM358 201.29h1v5.41h-1zM368 201.29h1v5.41h-1zM370 201.29h1v5.41h-1zM332 206.65h1v5.41h-1zM335 206.65h1v5.41h-1zM368 206.65h1v5.41h-1zM392 206.65h1v5.41h-1zM321 212h1v5.41h-1zM335 212h1v5.41h-1zM322 217.36h1v5.41h-1zM342 217.36h1v5.41h-1zM356 217.36h1v5.41h-1zM373 217.36h1v5.41h-1zM381 217.36h1v5.41h-1zM390 217.36h1v5.41h-1zM396 217.36h1v5.41h-1zM404 217.36h1v5.41h-1zM419 217.36h1v5.41h-1zM421 217.36h1v5.41h-1zM432 217.36h1v5.41h-1zM356 222.72h1v5.41h-1zM365 222.72h2v5.41h-2zM370 222.72h1v5.41h-1zM323 228.07h1v5.41h-1zM342 228.07h1v5.41h-1zM352 228.07h2v5.41h-2zM375 228.07h1v5.41h-1zM390 228.07h1v5.41h-1zM402 228.07h1v5.41h-1zM363 233.43h2v5.41h-2zM375 233.43h1v5.41h-1zM380 233.43h1v5.41h-1zM399 233.43h1v5.41h-1zM401 233.43h1v5.41h-1zM404 233.43h1v5.41h-1zM321 238.78h1v5.41h-1zM333 238.78h1v5.41h-1zM348 238.78h1v5.41h-1zM371 238.78h2v5.41h-2zM396 238.78h1v5.41h-1z"/>
<path fill="#b193cf" shape-rendering="crispEdges" d="M437 35.26h1v5.41h-1zM476 35.26h1v5.41h-1zM485 35.26h2v5.41h-2zM435 40.61h1v5.41h-1zM396 45.97h1v5.41h-1zM398 45.97h1v5.41h-1zM448 56.68h1v5.41h-1zM316 83.46h1v5.41h-1zM439 88.82h1v5.41h-1zM465 88.82h1v5.41h-1zM478 94.17h1v5.41h-1zM458 99.53h1v5.41h-1zM436 110.24h1v5.41h-1zM458 115.6h1v5.41h-1zM329 120.95h1v5.41h-1zM452 126.31h1v5.41h-1zM460 126.31h1v5.41h-1zM327 131.66h1v5.41h-1zM339 137.02h1v5.41h-1zM330 217.36h1v5.41h-1zM339 217.36h1v5.41h-1zM365 217.36h1v5.41h-1zM372 217.36h1v5.41h-1zM420 217.36h1v5.41h-1zM350 228.07h1v5.41h-1zM404 228.07h1v5.41h-1zM396 233.43h1v5.41h-1zM358 238.78h1v5.41h-1zM368 238.78h1v5.41h-1z"/>
<path fill="#9f87c9" shape-rendering="crispEdges" d="M438 35.26h1v5.41h-1zM449 35.26h1v5.41h-1zM491 35.26h1v5.41h-1zM374 45.97h1v5.41h-1zM334 83.46h1v5.41h-1zM439 83.46h1v5.41h-1zM466 83.46h1v5.41h-1zM478 83.46h2v5.41h-2zM482 83.46h2v5.41h-2zM436 88.82h1v5.41h-1zM482 88.82h2v5.41h-2zM322 94.17h1v5.41h-1zM462 94.17h1v5.41h-1zM322 99.53h1v5.41h-1zM451 99.53h1v5.41h-1zM480 99.53h1v5.41h-1zM314 104.88h1v5.41h-1zM462 104.88h1v5.41h-1zM335 110.24h1v5.41h-1zM450 110.24h1v5.41h-1zM474 110.24h1v5.41h-1zM316 115.6h1v5.41h-1zM336 115.6h1v5.41h-1zM436 115.6h1v5.41h-1zM314 126.31h1v5.41h-1zM478 126.31h1v5.41h-1zM323 158.44h1v5.41h-1zM340 158.44h1v5.41h-1zM336 174.51h1v5.41h-1zM316 217.36h1v5.41h-1zM321 217.36h1v5.41h-1zM367 217.36h1v5.41h-1zM328 228.07h1v5.41h-1zM337 228.07h1v5.41h-1zM365 228.07h2v5.41h-2zM367 233.43h1v5.41h-1zM369 233.43h1v5.41h-1z"/>
<path fill="#a58dc9" shape-rendering="crispEdges" d="M440 35.26h1v5.41h-1zM451 56.68h1v5.41h-1zM314 83.46h1v5.41h-1zM322 83.46h1v5.41h-1zM336 83.46h1v5.41h-1zM456 83.46h1v5.41h-1zM470 83.46h1v5.41h-1zM477 83.46h1v5.41h-1zM443 88.82h1v5.41h-1zM456 88.82h1v5.41h-1zM481 88.82h1v5.41h-1zM485 88.82h1v5.41h-1zM317 94.17h1v5.41h-1zM444 94.17h1v5.41h-1zM480 94.17h1v5.41h-1zM336 99.53h1v5.41h-1zM483 99.53h1v5.41h-1zM487 99.53h1v5.41h-1zM329 104.88h1v5.41h-1zM436 104.88h1v5.41h-1zM325 110.24h1v5.41h-1zM451 115.6h1v5.41h-1zM480 115.6h1v5.41h-1zM331 120.95h1v5.41h-1zM340 120.95h1v5.41h-1zM329 126.31h1v5.41h-1zM458 126.31h1v5.41h-1zM470 126.31h1v5.41h-1zM482 126.31h1v5.41h-1zM485 126.31h1v5.41h-1zM327 147.73h1v5.41h-1zM369 201.29h1v5.41h-1zM368 217.36h1v5.41h-1zM319 228.07h1v5.41h-1zM348 228.07h1v5.41h-1zM354 228.07h1v5.41h-1zM359 228.07h1v5.41h-1zM365 233.43h1v5.41h-1zM367 238.78h1v5.41h-1z"/>
<path fill="#a587c9" shape-rendering="crispEdges" d="M441 35.26h1v5.41h-1zM373 45.97h1v5.41h-1zM461 56.68h1v5.41h-1zM491 56.68h1v5.41h-1zM325 83.46h1v5.41h-1zM435 83.46h1v5.41h-1zM481 83.46h1v5.41h-1zM445 88.82h1v5.41h-1zM470 88.82h1v5.41h-1zM477 88.82h1v5.41h-1zM325 94.17h1v5.41h-1zM336 94.17h1v5.41h-1zM436 94.17h1v5.41h-1zM474 94.17h1v5.41h-1zM325 99.53h1v5.41h-1zM436 99.53h1v5.41h-1zM459 104.88h1v5.41h-1zM474 104.88h1v5.41h-1zM487 104.88h1v5.41h-1zM322 110.24h2v5.41h-2zM329 110.24h1v5.41h-1zM336 110.24h1v5.41h-1zM448 110.24h1v5.41h-1zM450 115.6h1v5.41h-1zM487 115.6h1v5.41h-1zM321 120.95h1v5.41h-1zM328 120.95h1v5.41h-1zM334 120.95h1v5.41h-1zM338 120.95h1v5.41h-1zM451 120.95h1v5.41h-1zM317 126.31h1v5.41h-1zM336 126.31h1v5.41h-1zM444 126.31h1v5.41h-1zM487 126.31h1v5.41h-1zM489 126.31h1v5.41h-1zM331 137.02h1v5.41h-1zM317 158.44h1v5.41h-1zM317 185.22h1v5.41h-1zM325 185.22h1v5.41h-1zM335 185.22h1v5.41h-1zM369 195.94h1v5.41h-1zM314 217.36h1v5.41h-1zM325 217.36h1v5.41h-1zM327 217.36h1v5.41h-1zM340 217.36h1v5.41h-1zM357 217.36h1v5.41h-1zM370 217.36h1v5.41h-1zM392 217.36h1v5.41h-1zM369 222.72h1v5.41h-1zM315 228.07h1v5.41h-1zM330 228.07h2v5.41h-2zM356 228.07h1v5.41h-1zM370 228.07h1v5.41h-1zM382 228.07h1v5.41h-1zM357 233.43h1v5.41h-1z"/>
<path fill="#9375bd" shape-rendering="crispEdges" d="M442 35.26h2v5.41h-2zM436 83.46h1v5.41h-1zM458 83.46h1v5.41h-1zM462 83.46h1v5.41h-1zM321 94.17h1v5.41h-1zM326 94.17h1v5.41h-1zM326 99.53h1v5.41h-1zM474 99.53h1v5.41h-1zM334 104.88h1v5.41h-1zM340 104.88h1v5.41h-1zM323 126.31h2v5.41h-2zM325 158.44h1v5.41h-1zM338 158.44h1v5.41h-1zM330 185.22h2v5.41h-2zM337 185.22h1v5.41h-1zM332 217.36h1v5.41h-1z"/>
<path fill="#9f81c9" shape-rendering="crispEdges" d="M444 35.26h2v5.41h-2zM375 45.97h2v5.41h-2zM435 56.68h1v5.41h-1zM442 56.68h2v5.41h-2zM449 56.68h1v5.41h-1zM323 83.46h1v5.41h-1zM340 83.46h1v5.41h-1zM434 83.46h1v5.41h-1zM460 83.46h1v5.41h-1zM467 83.46h1v5.41h-1zM489 83.46h1v5.41h-1zM451 88.82h1v5.41h-1zM458 88.82h1v5.41h-1zM462 88.82h1v5.41h-1zM323 94.17h1v5.41h-1zM329 94.17h1v5.41h-1zM448 94.17h1v5.41h-1zM329 99.53h1v5.41h-1zM450 99.53h1v5.41h-1zM316 104.88h1v5.41h-1zM324 110.24h1v5.41h-1zM340 110.24h1v5.41h-1zM475 110.24h1v5.41h-1zM448 115.6h1v5.41h-1zM474 115.6h1v5.41h-1zM337 120.95h1v5.41h-1zM448 120.95h1v5.41h-1zM325 126.31h1v5.41h-1zM459 126.31h1v5.41h-1zM462 126.31h1v5.41h-1zM320 137.02h1v5.41h-1zM326 137.02h1v5.41h-1zM336 147.73h1v5.41h-1zM324 158.44h1v5.41h-1zM335 158.44h1v5.41h-1zM317 217.36h1v5.41h-1zM326 217.36h1v5.41h-1zM336 217.36h1v5.41h-1zM318 228.07h1v5.41h-1zM325 228.07h1v5.41h-1zM368 228.07h1v5.41h-1zM381 228.07h1v5.41h-1zM392 233.43h1v5.41h-1zM369 238.78h1v5.41h-1z"/>
<path fill="#b7a5d5" shape-rendering="crispEdges" d="M480 35.26h1v5.41h-1zM445 40.61h1v5.41h-1zM449 40.61h1v5.41h-1zM459 56.68h1v5.41h-1zM373 62.04h1v5.41h-1zM445 67.39h1v5.41h-1zM397 72.75h1v5.41h-1zM319 94.17h1v5.41h-1zM465 94.17h1v5.41h-1zM484 94.17h1v5.41h-1zM439 99.53h1v5.41h-1zM447 104.88h1v5.41h-1zM318 110.24h2v5.41h-2zM319 153.09h1v5.41h-1zM365 190.58h1v5.41h-1zM348 201.29h1v5.41h-1zM370 206.65h1v5.41h-1zM368 212h1v5.41h-1zM349 217.36h1v5.41h-1zM382 217.36h1v5.41h-1zM381 222.72h1v5.41h-1zM355 228.07h1v5.41h-1zM350 233.43h1v5.41h-1zM376 233.43h1v5.41h-1zM314 238.78h1v5.41h-1zM381 238.78h1v5.41h-1z"/>
<path fill="#f9c3b7" shape-rendering="crispEdges" d="M313 40.61h1v5.41h-1zM312 67.39h1v5.41h-1zM312 72.75h1v5.41h-1zM379 83.46h1v5.41h-1zM358 99.53h1v5.41h-1zM363 99.53h1v5.41h-1zM380 104.88h1v5.41h-1zM378 131.66h1v5.41h-1zM417 153.09h1v5.41h-1zM438 153.09h1v5.41h-1zM446 153.09h1v5.41h-1zM371 158.44h1v5.41h-1zM434 169.16h1v5.41h-1zM418 179.87h1v5.41h-1zM446 190.58h1v5.41h-1zM445 201.29h1v5.41h-1zM446 222.72h1v5.41h-1zM449 222.72h1v5.41h-1zM444 238.78h1v5.41h-1zM449 238.78h1v5.41h-1z"/>
<path fill="#db3945" shape-rendering="crispEdges" d="M330 40.61h1v5.41h-1zM330 56.68h1v5.41h-1z"/>
<path fill="#b199d5" shape-rendering="crispEdges" d="M442 40.61h2v5.41h-2zM385 45.97h1v5.41h-1zM436 56.68h1v5.41h-1zM396 72.75h1v5.41h-1zM435 78.1h1v5.41h-1zM443 78.1h1v5.41h-1zM455 83.46h1v5.41h-1zM452 88.82h1v5.41h-1zM457 88.82h1v5.41h-1zM467 88.82h1v5.41h-1zM471 88.82h1v5.41h-1zM490 88.82h1v5.41h-1zM318 94.17h1v5.41h-1zM443 94.17h1v5.41h-1zM481 94.17h1v5.41h-1zM435 99.53h1v5.41h-1zM466 99.53h1v5.41h-1zM476 99.53h1v5.41h-1zM484 99.53h1v5.41h-1zM489 99.53h1v5.41h-1zM319 104.88h2v5.41h-2zM443 104.88h1v5.41h-1zM478 104.88h1v5.41h-1zM482 104.88h1v5.41h-1zM485 104.88h1v5.41h-1zM467 110.24h1v5.41h-1zM478 110.24h1v5.41h-1zM483 110.24h1v5.41h-1zM489 110.24h1v5.41h-1zM435 115.6h1v5.41h-1zM443 115.6h1v5.41h-1zM466 115.6h2v5.41h-2zM489 115.6h1v5.41h-1zM480 120.95h1v5.41h-1zM487 120.95h1v5.41h-1zM319 126.31h1v5.41h-1zM435 126.31h1v5.41h-1zM467 126.31h2v5.41h-2zM317 137.02h1v5.41h-1zM325 137.02h1v5.41h-1zM329 137.02h1v5.41h-1zM337 137.02h2v5.41h-2zM319 142.38h1v5.41h-1zM335 190.58h1v5.41h-1zM326 195.94h1v5.41h-1zM392 195.94h1v5.41h-1zM335 201.29h1v5.41h-1zM367 201.29h1v5.41h-1zM392 201.29h1v5.41h-1zM367 212h1v5.41h-1zM392 212h1v5.41h-1zM347 217.36h1v5.41h-1zM362 217.36h1v5.41h-1zM320 228.07h1v5.41h-1zM324 228.07h1v5.41h-1zM347 228.07h1v5.41h-1zM363 228.07h2v5.41h-2zM387 228.07h1v5.41h-1zM348 233.43h1v5.41h-1zM370 233.43h1v5.41h-1zM372 233.43h1v5.41h-1zM382 233.43h1v5.41h-1zM334 238.78h1v5.41h-1zM370 238.78h1v5.41h-1z"/>
<path fill="#f9bdab" shape-rendering="crispEdges" d="M312 45.97h1v5.41h-1zM429 72.75h1v5.41h-1zM357 83.46h1v5.41h-1zM363 83.46h1v5.41h-1zM366 83.46h1v5.41h-1zM397 83.46h1v5.41h-1zM349 88.82h1v5.41h-1zM351 88.82h1v5.41h-1zM353 88.82h1v5.41h-1zM373 88.82h1v5.41h-1zM358 94.17h1v5.41h-1zM372 94.17h2v5.41h-2zM380 94.17h1v5.41h-1zM347 99.53h1v5.41h-1zM349 110.24h1v5.41h-1zM357 110.24h1v5.41h-1zM363 110.24h1v5.41h-1zM373 110.24h1v5.41h-1zM380 110.24h1v5.41h-1zM397 110.24h1v5.41h-1zM397 115.6h1v5.41h-1zM363 120.95h1v5.41h-1zM367 120.95h1v5.41h-1zM378 120.95h1v5.41h-1zM401 120.95h1v5.41h-1zM373 126.31h1v5.41h-1zM387 126.31h1v5.41h-1zM372 131.66h1v5.41h-1zM376 131.66h1v5.41h-1zM387 131.66h1v5.41h-1zM390 131.66h1v5.41h-1zM396 131.66h1v5.41h-1zM403 131.66h2v5.41h-2zM439 137.02h1v5.41h-1zM405 153.09h1v5.41h-1zM408 153.09h1v5.41h-1zM430 153.09h2v5.41h-2zM443 153.09h1v5.41h-1zM408 163.8h1v5.41h-1zM418 163.8h1v5.41h-1zM427 163.8h1v5.41h-1zM435 169.16h1v5.41h-1zM418 174.51h1v5.41h-1zM432 174.51h1v5.41h-1zM408 179.87h1v5.41h-1zM427 179.87h1v5.41h-1zM408 185.22h1v5.41h-1zM423 185.22h1v5.41h-1zM429 185.22h1v5.41h-1zM433 185.22h1v5.41h-1zM444 190.58h1v5.41h-1zM449 190.58h1v5.41h-1zM457 190.58h1v5.41h-1zM459 190.58h1v5.41h-1zM486 190.58h2v5.41h-2zM444 195.94h1v5.41h-1zM484 195.94h1v5.41h-1zM446 201.29h1v5.41h-1zM437 222.72h1v5.41h-1zM450 222.72h1v5.41h-1zM457 222.72h1v5.41h-1zM444 228.07h1v5.41h-1zM491 228.07h1v5.41h-1zM449 233.43h1v5.41h-1zM491 233.43h1v5.41h-1zM459 238.78h1v5.41h-1z"/>
<path fill="#e74b51" shape-rendering="crispEdges" d="M315 45.97h1v5.41h-1zM321 45.97h1v5.41h-1zM331 45.97h1v5.41h-1zM330 51.32h1v5.41h-1zM350 131.66h1v5.41h-1z"/>
<path fill="#e7575d" shape-rendering="crispEdges" d="M316 45.97h1v5.41h-1zM334 45.97h1v5.41h-1z"/>
<path fill="#e75157" shape-rendering="crispEdges" d="M318 45.97h2v5.41h-2zM323 45.97h1v5.41h-1zM333 45.97h1v5.41h-1zM335 45.97h1v5.41h-1zM330 78.1h1v5.41h-1z"/>
<path fill="#e13f45" shape-rendering="crispEdges" d="M320 45.97h1v5.41h-1z"/>
<path fill="#e14551" shape-rendering="crispEdges" d="M322 45.97h1v5.41h-1zM332 45.97h1v5.41h-1z"/>
<path fill="#e14b51" shape-rendering="crispEdges" d="M324 45.97h1v5.41h-1z"/>
<path fill="#ed5d5d" shape-rendering="crispEdges" d="M325 45.97h1v5.41h-1z"/>
<path fill="#d52733" shape-rendering="crispEdges" d="M330 45.97h1v5.41h-1z"/>
<path fill="#f3ab93" shape-rendering="crispEdges" d="M342 45.97h2v5.41h-2zM348 45.97h1v5.41h-1zM361 45.97h2v5.41h-2zM343 83.46h1v5.41h-1zM345 83.46h1v5.41h-1zM356 83.46h1v5.41h-1zM385 83.46h1v5.41h-1zM389 83.46h1v5.41h-1zM402 83.46h1v5.41h-1zM354 88.82h1v5.41h-1zM356 88.82h1v5.41h-1zM371 88.82h1v5.41h-1zM376 88.82h1v5.41h-1zM394 88.82h1v5.41h-1zM400 88.82h1v5.41h-1zM345 94.17h1v5.41h-1zM349 94.17h1v5.41h-1zM355 94.17h1v5.41h-1zM357 94.17h1v5.41h-1zM361 94.17h2v5.41h-2zM364 94.17h1v5.41h-1zM367 94.17h1v5.41h-1zM370 94.17h1v5.41h-1zM376 94.17h1v5.41h-1zM396 94.17h1v5.41h-1zM398 94.17h1v5.41h-1zM356 99.53h1v5.41h-1zM360 99.53h1v5.41h-1zM369 99.53h1v5.41h-1zM371 99.53h2v5.41h-2zM381 99.53h1v5.41h-1zM384 99.53h1v5.41h-1zM390 99.53h1v5.41h-1zM392 99.53h1v5.41h-1zM398 99.53h2v5.41h-2zM346 104.88h1v5.41h-1zM351 104.88h1v5.41h-1zM362 104.88h1v5.41h-1zM370 104.88h1v5.41h-1zM375 104.88h2v5.41h-2zM384 104.88h1v5.41h-1zM387 104.88h1v5.41h-1zM402 104.88h1v5.41h-1zM348 110.24h1v5.41h-1zM356 110.24h1v5.41h-1zM362 110.24h1v5.41h-1zM369 110.24h1v5.41h-1zM376 110.24h1v5.41h-1zM381 110.24h1v5.41h-1zM384 110.24h1v5.41h-1zM387 110.24h1v5.41h-1zM390 110.24h1v5.41h-1zM396 110.24h1v5.41h-1zM398 110.24h1v5.41h-1zM402 110.24h1v5.41h-1zM344 115.6h1v5.41h-1zM346 115.6h1v5.41h-1zM353 115.6h1v5.41h-1zM356 115.6h1v5.41h-1zM361 115.6h2v5.41h-2zM369 115.6h1v5.41h-1zM375 115.6h1v5.41h-1zM383 115.6h1v5.41h-1zM396 115.6h1v5.41h-1zM399 115.6h1v5.41h-1zM401 115.6h1v5.41h-1zM343 120.95h1v5.41h-1zM355 120.95h1v5.41h-1zM357 120.95h1v5.41h-1zM360 120.95h1v5.41h-1zM374 120.95h1v5.41h-1zM377 120.95h1v5.41h-1zM394 120.95h1v5.41h-1zM402 120.95h1v5.41h-1zM351 126.31h1v5.41h-1zM353 126.31h1v5.41h-1zM365 126.31h1v5.41h-1zM385 126.31h1v5.41h-1zM388 126.31h2v5.41h-2zM394 126.31h1v5.41h-1zM396 126.31h1v5.41h-1zM398 126.31h1v5.41h-1zM401 126.31h1v5.41h-1zM342 131.66h1v5.41h-1zM370 131.66h1v5.41h-1zM377 131.66h1v5.41h-1zM382 131.66h1v5.41h-1zM385 131.66h2v5.41h-2zM388 131.66h1v5.41h-1zM402 131.66h1v5.41h-1zM405 137.02h1v5.41h-1zM429 142.38h1v5.41h-1zM432 142.38h2v5.41h-2zM417 147.73h1v5.41h-1zM423 147.73h1v5.41h-1zM411 153.09h2v5.41h-2zM414 153.09h2v5.41h-2zM425 153.09h1v5.41h-1zM408 158.44h1v5.41h-1zM416 158.44h1v5.41h-1zM424 158.44h1v5.41h-1zM406 163.8h1v5.41h-1zM414 163.8h1v5.41h-1zM425 163.8h1v5.41h-1zM418 169.16h1v5.41h-1zM409 174.51h1v5.41h-1zM414 174.51h1v5.41h-1zM416 174.51h1v5.41h-1zM422 174.51h1v5.41h-1zM426 174.51h1v5.41h-1zM428 174.51h1v5.41h-1zM406 179.87h1v5.41h-1zM411 179.87h2v5.41h-2zM414 179.87h2v5.41h-2zM420 179.87h1v5.41h-1zM411 185.22h1v5.41h-1zM428 185.22h1v5.41h-1zM435 190.58h1v5.41h-1zM441 190.58h1v5.41h-1zM443 190.58h1v5.41h-1zM448 190.58h1v5.41h-1zM474 190.58h1v5.41h-1zM477 190.58h1v5.41h-1zM479 190.58h1v5.41h-1zM481 190.58h1v5.41h-1zM489 190.58h1v5.41h-1zM443 195.94h1v5.41h-1zM451 195.94h2v5.41h-2zM455 195.94h1v5.41h-1zM460 195.94h1v5.41h-1zM463 195.94h1v5.41h-1zM467 195.94h1v5.41h-1zM475 195.94h1v5.41h-1zM478 195.94h1v5.41h-1zM480 195.94h1v5.41h-1zM487 195.94h1v5.41h-1zM490 195.94h1v5.41h-1zM457 201.29h1v5.41h-1zM461 201.29h1v5.41h-1zM466 201.29h1v5.41h-1zM480 201.29h1v5.41h-1zM483 201.29h3v5.41h-3zM450 206.65h1v5.41h-1zM484 206.65h2v5.41h-2zM437 212h2v5.41h-2zM449 212h1v5.41h-1zM460 212h1v5.41h-1zM466 212h1v5.41h-1zM482 212h4v5.41h-4zM437 217.36h1v5.41h-1zM450 217.36h3v5.41h-3zM457 217.36h3v5.41h-3zM461 217.36h1v5.41h-1zM473 217.36h1v5.41h-1zM482 217.36h1v5.41h-1zM436 222.72h1v5.41h-1zM453 222.72h1v5.41h-1zM463 222.72h1v5.41h-1zM472 222.72h1v5.41h-1zM475 222.72h2v5.41h-2zM478 222.72h1v5.41h-1zM490 222.72h1v5.41h-1zM438 228.07h1v5.41h-1zM442 228.07h2v5.41h-2zM448 228.07h1v5.41h-1zM464 228.07h1v5.41h-1zM466 228.07h1v5.41h-1zM472 228.07h1v5.41h-1zM476 228.07h1v5.41h-1zM485 228.07h1v5.41h-1zM490 228.07h1v5.41h-1zM434 233.43h1v5.41h-1zM438 233.43h1v5.41h-1zM447 233.43h2v5.41h-2zM451 233.43h2v5.41h-2zM460 233.43h2v5.41h-2zM466 233.43h1v5.41h-1zM473 233.43h1v5.41h-1zM476 233.43h1v5.41h-1zM483 233.43h3v5.41h-3zM442 238.78h2v5.41h-2z"/>
<path fill="#f39f87" shape-rendering="crispEdges" d="M344 45.97h1v5.41h-1zM358 45.97h1v5.41h-1zM367 45.97h1v5.41h-1zM354 83.46h1v5.41h-1zM393 83.46h1v5.41h-1zM395 83.46h1v5.41h-1zM399 83.46h1v5.41h-1zM374 88.82h1v5.41h-1zM382 88.82h1v5.41h-1zM386 88.82h1v5.41h-1zM388 88.82h1v5.41h-1zM393 88.82h1v5.41h-1zM374 94.17h1v5.41h-1zM389 94.17h1v5.41h-1zM402 94.17h1v5.41h-1zM344 99.53h1v5.41h-1zM377 99.53h1v5.41h-1zM385 99.53h2v5.41h-2zM394 99.53h1v5.41h-1zM396 99.53h1v5.41h-1zM365 104.88h1v5.41h-1zM389 104.88h1v5.41h-1zM354 110.24h1v5.41h-1zM385 110.24h1v5.41h-1zM389 110.24h1v5.41h-1zM354 115.6h1v5.41h-1zM374 115.6h1v5.41h-1zM386 115.6h1v5.41h-1zM390 115.6h1v5.41h-1zM350 120.95h1v5.41h-1zM356 120.95h1v5.41h-1zM382 120.95h1v5.41h-1zM386 120.95h1v5.41h-1zM388 120.95h2v5.41h-2zM393 120.95h1v5.41h-1zM344 126.31h1v5.41h-1zM348 126.31h1v5.41h-1zM374 126.31h1v5.41h-1zM377 126.31h1v5.41h-1zM382 126.31h1v5.41h-1zM393 126.31h1v5.41h-1zM413 137.02h1v5.41h-1zM415 137.02h1v5.41h-1zM421 137.02h1v5.41h-1zM425 137.02h1v5.41h-1zM407 142.38h1v5.41h-1zM424 142.38h1v5.41h-1zM427 142.38h1v5.41h-1zM430 142.38h1v5.41h-1zM407 147.73h1v5.41h-1zM414 147.73h1v5.41h-1zM416 147.73h1v5.41h-1zM422 147.73h1v5.41h-1zM430 147.73h3v5.41h-3zM413 153.09h1v5.41h-1zM406 158.44h2v5.41h-2zM412 158.44h1v5.41h-1zM415 158.44h1v5.41h-1zM426 158.44h1v5.41h-1zM428 158.44h1v5.41h-1zM431 158.44h1v5.41h-1zM421 163.8h1v5.41h-1zM412 169.16h1v5.41h-1zM419 169.16h1v5.41h-1zM427 169.16h1v5.41h-1zM432 169.16h1v5.41h-1zM413 174.51h1v5.41h-1zM415 174.51h1v5.41h-1zM425 174.51h1v5.41h-1zM413 179.87h1v5.41h-1zM436 190.58h1v5.41h-1zM465 190.58h1v5.41h-1zM447 195.94h2v5.41h-2zM462 195.94h1v5.41h-1zM465 195.94h1v5.41h-1zM472 195.94h1v5.41h-1zM474 195.94h1v5.41h-1zM477 195.94h1v5.41h-1zM479 195.94h1v5.41h-1zM435 201.29h1v5.41h-1zM447 201.29h2v5.41h-2zM455 201.29h1v5.41h-1zM462 201.29h1v5.41h-1zM467 201.29h1v5.41h-1zM472 201.29h1v5.41h-1zM475 201.29h2v5.41h-2zM486 201.29h2v5.41h-2zM438 206.65h1v5.41h-1zM460 206.65h2v5.41h-2zM464 206.65h1v5.41h-1zM466 206.65h1v5.41h-1zM480 206.65h1v5.41h-1zM486 206.65h1v5.41h-1zM490 206.65h1v5.41h-1zM435 212h1v5.41h-1zM447 212h1v5.41h-1zM472 212h1v5.41h-1zM476 212h1v5.41h-1zM486 212h2v5.41h-2zM490 212h1v5.41h-1zM438 217.36h1v5.41h-1zM441 217.36h1v5.41h-1zM443 217.36h1v5.41h-1zM447 217.36h2v5.41h-2zM453 217.36h1v5.41h-1zM462 217.36h1v5.41h-1zM464 217.36h1v5.41h-1zM466 217.36h1v5.41h-1zM485 217.36h1v5.41h-1zM440 222.72h1v5.41h-1zM465 222.72h1v5.41h-1zM469 222.72h1v5.41h-1zM474 222.72h1v5.41h-1zM481 222.72h1v5.41h-1zM467 228.07h1v5.41h-1zM470 228.07h1v5.41h-1zM481 228.07h1v5.41h-1zM486 228.07h3v5.41h-3zM441 233.43h1v5.41h-1zM443 233.43h1v5.41h-1zM462 233.43h1v5.41h-1zM464 233.43h1v5.41h-1zM467 233.43h1v5.41h-1zM475 233.43h1v5.41h-1zM480 233.43h1v5.41h-1zM488 233.43h1v5.41h-1zM439 238.78h2v5.41h-2zM467 238.78h1v5.41h-1zM469 238.78h1v5.41h-1zM472 238.78h1v5.41h-1zM475 238.78h1v5.41h-1zM481 238.78h1v5.41h-1z"/>
<path fill="#f3a58d" shape-rendering="crispEdges" d="M349 45.97h1v5.41h-1zM352 45.97h1v5.41h-1zM356 45.97h2v5.41h-2zM359 45.97h2v5.41h-2zM363 45.97h1v5.41h-1zM366 45.97h1v5.41h-1zM344 83.46h1v5.41h-1zM348 83.46h1v5.41h-1zM365 83.46h1v5.41h-1zM370 83.46h1v5.41h-1zM374 83.46h1v5.41h-1zM386 83.46h1v5.41h-1zM388 83.46h1v5.41h-1zM398 83.46h1v5.41h-1zM350 88.82h1v5.41h-1zM370 88.82h1v5.41h-1zM385 88.82h1v5.41h-1zM389 88.82h1v5.41h-1zM402 88.82h1v5.41h-1zM343 94.17h2v5.41h-2zM348 94.17h1v5.41h-1zM351 94.17h1v5.41h-1zM353 94.17h1v5.41h-1zM360 94.17h1v5.41h-1zM366 94.17h1v5.41h-1zM383 94.17h1v5.41h-1zM385 94.17h2v5.41h-2zM394 94.17h1v5.41h-1zM399 94.17h2v5.41h-2zM343 99.53h1v5.41h-1zM345 99.53h1v5.41h-1zM350 99.53h1v5.41h-1zM353 99.53h1v5.41h-1zM365 99.53h1v5.41h-1zM370 99.53h1v5.41h-1zM383 99.53h1v5.41h-1zM400 99.53h2v5.41h-2zM345 104.88h1v5.41h-1zM348 104.88h1v5.41h-1zM353 104.88h1v5.41h-1zM355 104.88h1v5.41h-1zM357 104.88h1v5.41h-1zM361 104.88h1v5.41h-1zM383 104.88h1v5.41h-1zM394 104.88h1v5.41h-1zM396 104.88h1v5.41h-1zM398 104.88h3v5.41h-3zM350 110.24h1v5.41h-1zM370 110.24h1v5.41h-1zM374 110.24h1v5.41h-1zM383 110.24h1v5.41h-1zM394 110.24h1v5.41h-1zM399 110.24h2v5.41h-2zM345 115.6h1v5.41h-1zM348 115.6h1v5.41h-1zM360 115.6h1v5.41h-1zM365 115.6h1v5.41h-1zM370 115.6h1v5.41h-1zM376 115.6h1v5.41h-1zM385 115.6h1v5.41h-1zM392 115.6h1v5.41h-1zM394 115.6h1v5.41h-1zM400 115.6h1v5.41h-1zM402 115.6h1v5.41h-1zM344 120.95h1v5.41h-1zM353 120.95h1v5.41h-1zM365 120.95h1v5.41h-1zM385 120.95h1v5.41h-1zM343 126.31h1v5.41h-1zM345 126.31h2v5.41h-2zM356 126.31h1v5.41h-1zM370 126.31h1v5.41h-1zM386 126.31h1v5.41h-1zM399 126.31h2v5.41h-2zM402 126.31h1v5.41h-1zM341 131.66h1v5.41h-1zM359 131.66h1v5.41h-1zM393 131.66h1v5.41h-1zM395 131.66h1v5.41h-1zM406 137.02h2v5.41h-2zM414 137.02h1v5.41h-1zM416 137.02h1v5.41h-1zM420 137.02h1v5.41h-1zM408 142.38h1v5.41h-1zM417 142.38h2v5.41h-2zM431 142.38h1v5.41h-1zM408 147.73h1v5.41h-1zM419 147.73h1v5.41h-1zM424 147.73h1v5.41h-1zM433 147.73h1v5.41h-1zM421 153.09h1v5.41h-1zM405 158.44h1v5.41h-1zM409 158.44h3v5.41h-3zM414 158.44h1v5.41h-1zM419 158.44h1v5.41h-1zM422 158.44h1v5.41h-1zM427 158.44h1v5.41h-1zM430 158.44h1v5.41h-1zM432 158.44h1v5.41h-1zM413 163.8h1v5.41h-1zM415 163.8h1v5.41h-1zM420 163.8h1v5.41h-1zM408 169.16h1v5.41h-1zM417 169.16h1v5.41h-1zM423 169.16h2v5.41h-2zM429 169.16h1v5.41h-1zM433 169.16h1v5.41h-1zM405 174.51h2v5.41h-2zM410 174.51h3v5.41h-3zM420 174.51h1v5.41h-1zM421 179.87h1v5.41h-1zM406 185.22h1v5.41h-1zM412 185.22h1v5.41h-1zM414 185.22h2v5.41h-2zM420 185.22h1v5.41h-1zM425 185.22h1v5.41h-1zM439 190.58h1v5.41h-1zM442 190.58h1v5.41h-1zM447 190.58h1v5.41h-1zM453 190.58h1v5.41h-1zM462 190.58h1v5.41h-1zM467 190.58h1v5.41h-1zM469 190.58h1v5.41h-1zM436 195.94h1v5.41h-1zM439 195.94h1v5.41h-1zM441 195.94h2v5.41h-2zM461 195.94h1v5.41h-1zM469 195.94h1v5.41h-1zM481 195.94h1v5.41h-1zM486 195.94h1v5.41h-1zM488 195.94h1v5.41h-1zM434 201.29h1v5.41h-1zM450 201.29h1v5.41h-1zM463 201.29h2v5.41h-2zM469 201.29h1v5.41h-1zM478 201.29h1v5.41h-1zM481 201.29h1v5.41h-1zM490 201.29h1v5.41h-1zM434 206.65h1v5.41h-1zM437 206.65h1v5.41h-1zM451 206.65h2v5.41h-2zM457 206.65h3v5.41h-3zM473 206.65h1v5.41h-1zM482 206.65h2v5.41h-2zM434 212h1v5.41h-1zM441 212h1v5.41h-1zM450 212h3v5.41h-3zM455 212h2v5.41h-2zM461 212h1v5.41h-1zM464 212h1v5.41h-1zM479 212h1v5.41h-1zM481 212h1v5.41h-1zM434 217.36h2v5.41h-2zM455 217.36h2v5.41h-2zM460 217.36h1v5.41h-1zM483 217.36h2v5.41h-2zM439 222.72h1v5.41h-1zM442 222.72h2v5.41h-2zM447 222.72h1v5.41h-1zM467 222.72h1v5.41h-1zM480 222.72h1v5.41h-1zM486 222.72h2v5.41h-2zM436 228.07h1v5.41h-1zM447 228.07h1v5.41h-1zM453 228.07h1v5.41h-1zM455 228.07h2v5.41h-2zM462 228.07h2v5.41h-2zM475 228.07h1v5.41h-1zM478 228.07h1v5.41h-1zM480 228.07h1v5.41h-1zM435 233.43h1v5.41h-1zM453 233.43h1v5.41h-1zM469 233.43h1v5.41h-1zM478 233.43h1v5.41h-1zM482 233.43h1v5.41h-1zM486 233.43h2v5.41h-2zM490 233.43h1v5.41h-1zM436 238.78h1v5.41h-1zM453 238.78h1v5.41h-1zM462 238.78h2v5.41h-2zM476 238.78h1v5.41h-1zM478 238.78h1v5.41h-1zM480 238.78h1v5.41h-1zM486 238.78h2v5.41h-2zM490 238.78h1v5.41h-1z"/>
<path fill="#f3b7a5" shape-rendering="crispEdges" d="M350 45.97h1v5.41h-1zM361 83.46h1v5.41h-1zM346 88.82h1v5.41h-1zM355 88.82h1v5.41h-1zM357 88.82h1v5.41h-1zM362 88.82h1v5.41h-1zM372 110.24h1v5.41h-1zM403 110.24h1v5.41h-1zM404 115.6h1v5.41h-1zM381 120.95h1v5.41h-1zM371 131.66h1v5.41h-1zM417 163.8h1v5.41h-1zM432 163.8h1v5.41h-1zM431 174.51h1v5.41h-1zM419 179.87h1v5.41h-1zM432 179.87h1v5.41h-1zM419 185.22h1v5.41h-1zM466 190.58h1v5.41h-1zM476 190.58h1v5.41h-1zM488 190.58h1v5.41h-1zM457 195.94h1v5.41h-1zM466 195.94h1v5.41h-1zM482 195.94h1v5.41h-1zM445 206.65h1v5.41h-1zM435 222.72h1v5.41h-1zM451 222.72h1v5.41h-1zM460 222.72h2v5.41h-2zM466 222.72h1v5.41h-1zM450 233.43h1v5.41h-1zM457 238.78h2v5.41h-2z"/>
<path fill="#f9bda5" shape-rendering="crispEdges" d="M351 45.97h1v5.41h-1zM387 83.46h1v5.41h-1zM404 83.46h1v5.41h-1zM347 94.17h1v5.41h-1zM368 94.17h1v5.41h-1zM371 94.17h1v5.41h-1zM368 99.53h1v5.41h-1zM380 99.53h1v5.41h-1zM363 104.88h1v5.41h-1zM367 115.6h2v5.41h-2zM349 120.95h1v5.41h-1zM364 120.95h1v5.41h-1zM361 126.31h2v5.41h-2zM366 126.31h1v5.41h-1zM372 126.31h1v5.41h-1zM378 126.31h1v5.41h-1zM381 126.31h1v5.41h-1zM397 126.31h1v5.41h-1zM384 131.66h1v5.41h-1zM418 137.02h1v5.41h-1zM427 137.02h1v5.41h-1zM433 137.02h1v5.41h-1zM427 153.09h1v5.41h-1zM435 153.09h1v5.41h-1zM423 163.8h2v5.41h-2zM426 163.8h1v5.41h-1zM408 174.51h1v5.41h-1zM422 179.87h1v5.41h-1zM426 179.87h1v5.41h-1zM424 185.22h1v5.41h-1zM450 190.58h1v5.41h-1zM478 190.58h1v5.41h-1zM434 195.94h1v5.41h-1zM437 195.94h1v5.41h-1zM473 195.94h1v5.41h-1zM491 195.94h1v5.41h-1zM434 222.72h1v5.41h-1zM449 228.07h1v5.41h-1zM473 228.07h1v5.41h-1zM444 233.43h1v5.41h-1zM437 238.78h1v5.41h-1zM450 238.78h1v5.41h-1z"/>
<path fill="#f38d7b" shape-rendering="crispEdges" d="M353 45.97h1v5.41h-1zM314 62.04h1v5.41h-1zM318 62.04h1v5.41h-1zM329 62.04h1v5.41h-1zM337 62.04h1v5.41h-1zM317 67.39h1v5.41h-1zM329 72.75h1v5.41h-1zM333 72.75h1v5.41h-1zM338 72.75h3v5.41h-3zM337 78.1h1v5.41h-1zM340 78.1h1v5.41h-1zM350 94.17h1v5.41h-1zM395 110.24h1v5.41h-1zM352 131.66h1v5.41h-1zM410 147.73h1v5.41h-1zM413 147.73h1v5.41h-1zM421 147.73h1v5.41h-1zM413 169.16h1v5.41h-1zM420 169.16h1v5.41h-1zM454 190.58h1v5.41h-1zM468 190.58h1v5.41h-1zM468 195.94h1v5.41h-1zM453 201.29h1v5.41h-1zM477 201.29h1v5.41h-1zM467 206.65h1v5.41h-1zM467 217.36h1v5.41h-1zM472 217.36h1v5.41h-1zM478 217.36h1v5.41h-1zM489 222.72h1v5.41h-1zM468 228.07h1v5.41h-1zM474 233.43h1v5.41h-1z"/>
<path fill="#f3b199" shape-rendering="crispEdges" d="M364 45.97h1v5.41h-1zM346 83.46h1v5.41h-1zM349 83.46h1v5.41h-1zM351 83.46h1v5.41h-1zM353 83.46h1v5.41h-1zM360 83.46h1v5.41h-1zM362 83.46h1v5.41h-1zM369 83.46h1v5.41h-1zM376 83.46h1v5.41h-1zM383 83.46h1v5.41h-1zM392 83.46h1v5.41h-1zM394 83.46h1v5.41h-1zM401 83.46h1v5.41h-1zM343 88.82h3v5.41h-3zM348 88.82h1v5.41h-1zM360 88.82h1v5.41h-1zM365 88.82h1v5.41h-1zM369 88.82h1v5.41h-1zM372 88.82h1v5.41h-1zM375 88.82h1v5.41h-1zM383 88.82h1v5.41h-1zM387 88.82h1v5.41h-1zM390 88.82h1v5.41h-1zM392 88.82h1v5.41h-1zM396 88.82h1v5.41h-1zM399 88.82h1v5.41h-1zM401 88.82h1v5.41h-1zM346 94.17h1v5.41h-1zM369 94.17h1v5.41h-1zM375 94.17h1v5.41h-1zM378 94.17h1v5.41h-1zM381 94.17h1v5.41h-1zM384 94.17h1v5.41h-1zM387 94.17h1v5.41h-1zM390 94.17h1v5.41h-1zM401 94.17h1v5.41h-1zM404 94.17h1v5.41h-1zM346 99.53h1v5.41h-1zM348 99.53h1v5.41h-1zM355 99.53h1v5.41h-1zM361 99.53h2v5.41h-2zM366 99.53h1v5.41h-1zM373 99.53h1v5.41h-1zM375 99.53h2v5.41h-2zM378 99.53h1v5.41h-1zM387 99.53h1v5.41h-1zM403 99.53h1v5.41h-1zM358 104.88h1v5.41h-1zM366 104.88h1v5.41h-1zM369 104.88h1v5.41h-1zM372 104.88h2v5.41h-2zM378 104.88h1v5.41h-1zM390 104.88h1v5.41h-1zM392 104.88h1v5.41h-1zM404 104.88h1v5.41h-1zM343 110.24h3v5.41h-3zM353 110.24h1v5.41h-1zM360 110.24h2v5.41h-2zM365 110.24h1v5.41h-1zM375 110.24h1v5.41h-1zM378 110.24h1v5.41h-1zM392 110.24h1v5.41h-1zM401 110.24h1v5.41h-1zM404 110.24h1v5.41h-1zM343 115.6h1v5.41h-1zM347 115.6h1v5.41h-1zM351 115.6h1v5.41h-1zM355 115.6h1v5.41h-1zM371 115.6h2v5.41h-2zM378 115.6h1v5.41h-1zM387 115.6h1v5.41h-1zM398 115.6h1v5.41h-1zM345 120.95h1v5.41h-1zM348 120.95h1v5.41h-1zM351 120.95h1v5.41h-1zM361 120.95h2v5.41h-2zM370 120.95h1v5.41h-1zM383 120.95h2v5.41h-2zM390 120.95h1v5.41h-1zM392 120.95h1v5.41h-1zM396 120.95h1v5.41h-1zM398 120.95h1v5.41h-1zM404 120.95h1v5.41h-1zM349 126.31h1v5.41h-1zM355 126.31h1v5.41h-1zM360 126.31h1v5.41h-1zM369 126.31h1v5.41h-1zM375 126.31h2v5.41h-2zM383 126.31h1v5.41h-1zM392 126.31h1v5.41h-1zM404 126.31h1v5.41h-1zM374 131.66h1v5.41h-1zM389 131.66h1v5.41h-1zM392 131.66h1v5.41h-1zM400 131.66h1v5.41h-1zM409 137.02h4v5.41h-4zM417 137.02h1v5.41h-1zM422 137.02h1v5.41h-1zM424 137.02h1v5.41h-1zM426 137.02h1v5.41h-1zM428 137.02h1v5.41h-1zM418 147.73h1v5.41h-1zM429 147.73h1v5.41h-1zM406 153.09h2v5.41h-2zM409 153.09h2v5.41h-2zM420 153.09h1v5.41h-1zM428 153.09h1v5.41h-1zM439 153.09h1v5.41h-1zM417 158.44h2v5.41h-2zM423 158.44h1v5.41h-1zM429 158.44h1v5.41h-1zM405 163.8h1v5.41h-1zM407 163.8h1v5.41h-1zM410 163.8h3v5.41h-3zM416 163.8h1v5.41h-1zM419 163.8h1v5.41h-1zM422 163.8h1v5.41h-1zM428 163.8h1v5.41h-1zM407 174.51h1v5.41h-1zM419 174.51h1v5.41h-1zM423 174.51h2v5.41h-2zM405 179.87h1v5.41h-1zM407 179.87h1v5.41h-1zM410 179.87h1v5.41h-1zM425 179.87h1v5.41h-1zM405 185.22h1v5.41h-1zM407 185.22h1v5.41h-1zM410 185.22h1v5.41h-1zM416 185.22h1v5.41h-1zM422 185.22h1v5.41h-1zM426 185.22h1v5.41h-1zM430 185.22h2v5.41h-2zM434 190.58h1v5.41h-1zM438 190.58h1v5.41h-1zM452 190.58h1v5.41h-1zM455 190.58h2v5.41h-2zM460 190.58h2v5.41h-2zM463 190.58h1v5.41h-1zM472 190.58h1v5.41h-1zM475 190.58h1v5.41h-1zM480 190.58h1v5.41h-1zM450 195.94h1v5.41h-1zM456 195.94h1v5.41h-1zM464 195.94h1v5.41h-1zM476 195.94h1v5.41h-1zM444 201.29h1v5.41h-1zM449 201.29h1v5.41h-1zM458 201.29h1v5.41h-1zM460 201.29h1v5.41h-1zM482 201.29h1v5.41h-1zM444 206.65h1v5.41h-1zM446 206.65h1v5.41h-1zM449 206.65h1v5.41h-1zM444 212h1v5.41h-1zM457 212h1v5.41h-1zM473 212h1v5.41h-1zM478 212h1v5.41h-1zM480 212h1v5.41h-1zM444 217.36h1v5.41h-1zM449 217.36h1v5.41h-1zM491 217.36h1v5.41h-1zM438 222.72h1v5.41h-1zM441 222.72h1v5.41h-1zM448 222.72h1v5.41h-1zM455 222.72h2v5.41h-2zM462 222.72h1v5.41h-1zM482 222.72h1v5.41h-1zM434 228.07h2v5.41h-2zM441 228.07h1v5.41h-1zM452 228.07h1v5.41h-1zM457 228.07h2v5.41h-2zM460 228.07h2v5.41h-2zM469 228.07h1v5.41h-1zM483 228.07h2v5.41h-2zM437 233.43h1v5.41h-1zM455 233.43h2v5.41h-2zM459 233.43h1v5.41h-1zM434 238.78h2v5.41h-2zM438 238.78h1v5.41h-1zM441 238.78h1v5.41h-1zM452 238.78h1v5.41h-1zM455 238.78h2v5.41h-2zM460 238.78h1v5.41h-1zM464 238.78h1v5.41h-1zM466 238.78h1v5.41h-1zM473 238.78h1v5.41h-1zM482 238.78h2v5.41h-2zM485 238.78h1v5.41h-1z"/>
<path fill="#f3b79f" shape-rendering="crispEdges" d="M365 45.97h1v5.41h-1zM347 83.46h1v5.41h-1zM355 83.46h1v5.41h-1zM364 83.46h1v5.41h-1zM371 83.46h2v5.41h-2zM375 83.46h1v5.41h-1zM378 83.46h1v5.41h-1zM381 83.46h1v5.41h-1zM384 83.46h1v5.41h-1zM390 83.46h1v5.41h-1zM396 83.46h1v5.41h-1zM361 88.82h1v5.41h-1zM378 88.82h1v5.41h-1zM381 88.82h1v5.41h-1zM384 88.82h1v5.41h-1zM398 88.82h1v5.41h-1zM403 88.82h2v5.41h-2zM363 94.17h1v5.41h-1zM392 94.17h1v5.41h-1zM397 94.17h1v5.41h-1zM403 94.17h1v5.41h-1zM351 99.53h1v5.41h-1zM357 99.53h1v5.41h-1zM367 99.53h1v5.41h-1zM397 99.53h1v5.41h-1zM404 99.53h1v5.41h-1zM347 104.88h1v5.41h-1zM349 104.88h1v5.41h-1zM364 104.88h1v5.41h-1zM367 104.88h1v5.41h-1zM371 104.88h1v5.41h-1zM381 104.88h1v5.41h-1zM397 104.88h1v5.41h-1zM401 104.88h1v5.41h-1zM403 104.88h1v5.41h-1zM346 110.24h1v5.41h-1zM351 110.24h1v5.41h-1zM355 110.24h1v5.41h-1zM371 110.24h1v5.41h-1zM349 115.6h1v5.41h-1zM357 115.6h1v5.41h-1zM363 115.6h2v5.41h-2zM366 115.6h1v5.41h-1zM373 115.6h1v5.41h-1zM381 115.6h1v5.41h-1zM384 115.6h1v5.41h-1zM403 115.6h1v5.41h-1zM346 120.95h1v5.41h-1zM358 120.95h1v5.41h-1zM366 120.95h1v5.41h-1zM369 120.95h1v5.41h-1zM387 120.95h1v5.41h-1zM399 120.95h2v5.41h-2zM403 120.95h1v5.41h-1zM347 126.31h1v5.41h-1zM357 126.31h1v5.41h-1zM371 126.31h1v5.41h-1zM384 126.31h1v5.41h-1zM390 126.31h1v5.41h-1zM403 126.31h1v5.41h-1zM369 131.66h1v5.41h-1zM383 131.66h1v5.41h-1zM394 131.66h1v5.41h-1zM398 131.66h2v5.41h-2zM401 131.66h1v5.41h-1zM408 137.02h1v5.41h-1zM419 137.02h1v5.41h-1zM423 137.02h1v5.41h-1zM430 137.02h3v5.41h-3zM416 153.09h1v5.41h-1zM422 153.09h1v5.41h-1zM426 153.09h1v5.41h-1zM433 158.44h1v5.41h-1zM409 163.8h1v5.41h-1zM430 163.8h2v5.41h-2zM439 169.16h1v5.41h-1zM443 169.16h1v5.41h-1zM417 174.51h1v5.41h-1zM427 174.51h1v5.41h-1zM409 179.87h1v5.41h-1zM416 179.87h1v5.41h-1zM428 179.87h1v5.41h-1zM430 179.87h2v5.41h-2zM409 185.22h1v5.41h-1zM427 185.22h1v5.41h-1zM432 185.22h1v5.41h-1zM437 190.58h1v5.41h-1zM451 190.58h1v5.41h-1zM464 190.58h1v5.41h-1zM435 195.94h1v5.41h-1zM438 195.94h1v5.41h-1zM449 195.94h1v5.41h-1zM458 195.94h2v5.41h-2zM483 195.94h1v5.41h-1zM485 195.94h1v5.41h-1zM459 201.29h1v5.41h-1zM491 201.29h1v5.41h-1zM491 206.65h1v5.41h-1zM458 212h2v5.41h-2zM491 212h1v5.41h-1zM444 222.72h1v5.41h-1zM452 222.72h1v5.41h-1zM464 222.72h1v5.41h-1zM483 222.72h1v5.41h-1zM485 222.72h1v5.41h-1zM437 228.07h1v5.41h-1zM450 228.07h2v5.41h-2zM459 228.07h1v5.41h-1zM482 228.07h1v5.41h-1zM457 233.43h2v5.41h-2zM447 238.78h2v5.41h-2zM451 238.78h1v5.41h-1zM461 238.78h1v5.41h-1zM484 238.78h1v5.41h-1z"/>
<path fill="#b799d5" shape-rendering="crispEdges" d="M382 45.97h1v5.41h-1zM455 56.68h1v5.41h-1zM449 78.1h1v5.41h-1zM453 83.46h1v5.41h-1zM468 88.82h1v5.41h-1zM489 94.17h1v5.41h-1zM330 99.53h1v5.41h-1zM476 115.6h1v5.41h-1zM323 120.95h1v5.41h-1zM443 120.95h1v5.41h-1zM479 120.95h1v5.41h-1zM437 126.31h1v5.41h-1zM466 126.31h1v5.41h-1zM328 137.02h1v5.41h-1zM321 190.58h1v5.41h-1zM357 190.58h1v5.41h-1zM392 190.58h1v5.41h-1zM385 228.07h1v5.41h-1zM371 233.43h1v5.41h-1zM373 233.43h1v5.41h-1zM402 233.43h1v5.41h-1z"/>
<path fill="#f9c3ab" shape-rendering="crispEdges" d="M312 51.32h1v5.41h-1zM380 83.46h1v5.41h-1zM368 104.88h1v5.41h-1zM368 110.24h1v5.41h-1zM381 131.66h1v5.41h-1zM419 153.09h1v5.41h-1zM458 190.58h1v5.41h-1zM482 190.58h1v5.41h-1zM446 195.94h1v5.41h-1z"/>
<path fill="#f9e7ed" shape-rendering="crispEdges" d="M354 51.32h1v5.41h-1zM429 51.32h1v5.41h-1zM456 51.32h1v5.41h-1zM462 51.32h1v5.41h-1zM360 62.04h1v5.41h-1zM341 67.39h1v5.41h-1zM357 67.39h1v5.41h-1zM409 72.75h1v5.41h-1zM365 78.1h1v5.41h-1zM412 83.46h1v5.41h-1zM425 83.46h1v5.41h-1zM421 99.53h1v5.41h-1zM415 110.24h1v5.41h-1zM423 120.95h1v5.41h-1zM369 137.02h1v5.41h-1zM373 137.02h1v5.41h-1zM395 137.02h1v5.41h-1zM451 137.02h1v5.41h-1zM456 137.02h2v5.41h-2zM481 137.02h1v5.41h-1zM486 137.02h1v5.41h-1zM458 142.38h1v5.41h-1zM467 142.38h1v5.41h-1zM482 142.38h1v5.41h-1zM342 147.73h1v5.41h-1zM358 147.73h1v5.41h-1zM366 147.73h1v5.41h-1zM354 153.09h1v5.41h-1zM490 153.09h1v5.41h-1zM439 158.44h1v5.41h-1zM395 163.8h1v5.41h-1zM481 163.8h1v5.41h-1zM333 169.16h1v5.41h-1zM356 169.16h1v5.41h-1zM435 174.51h1v5.41h-1zM393 179.87h1v5.41h-1zM403 179.87h1v5.41h-1zM352 185.22h1v5.41h-1zM369 185.22h1v5.41h-1zM373 185.22h1v5.41h-1zM395 185.22h1v5.41h-1zM479 185.22h1v5.41h-1z"/>
<path fill="#d5bde1" shape-rendering="crispEdges" d="M386 51.32h1v5.41h-1zM409 62.04h1v5.41h-1zM434 67.39h1v5.41h-1zM464 67.39h2v5.41h-2zM391 72.75h1v5.41h-1zM459 72.75h1v5.41h-1zM459 78.1h1v5.41h-1zM472 110.24h1v5.41h-1zM447 158.44h1v5.41h-1zM471 179.87h1v5.41h-1zM415 190.58h1v5.41h-1zM418 190.58h1v5.41h-1zM385 195.94h1v5.41h-1zM426 195.94h1v5.41h-1zM399 206.65h1v5.41h-1zM379 212h1v5.41h-1zM377 222.72h1v5.41h-1zM394 222.72h1v5.41h-1zM417 228.07h1v5.41h-1zM432 233.43h1v5.41h-1zM433 238.78h1v5.41h-1z"/>
<path fill="#f3e7ed" shape-rendering="crispEdges" d="M370 56.68h1v5.41h-1zM362 62.04h1v5.41h-1zM419 120.95h1v5.41h-1zM418 126.31h1v5.41h-1zM343 142.38h1v5.41h-1zM388 158.44h1v5.41h-1zM438 158.44h1v5.41h-1zM473 163.8h1v5.41h-1zM366 169.16h1v5.41h-1zM489 185.22h1v5.41h-1z"/>
<path fill="#e74b57" shape-rendering="crispEdges" d="M330 62.04h1v5.41h-1z"/>
<path fill="#ed575d" shape-rendering="crispEdges" d="M330 67.39h1v5.41h-1z"/>
<path fill="#e1454b" shape-rendering="crispEdges" d="M330 72.75h1v5.41h-1z"/>
<path fill="#f9cfc9" shape-rendering="crispEdges" d="M414 72.75h1v5.41h-1zM432 72.75h1v5.41h-1zM341 83.46h1v5.41h-1zM391 88.82h1v5.41h-1zM426 99.53h1v5.41h-1zM352 110.24h1v5.41h-1zM379 126.31h1v5.41h-1zM391 126.31h1v5.41h-1zM460 137.02h1v5.41h-1zM384 153.09h1v5.41h-1zM398 153.09h1v5.41h-1zM440 153.09h1v5.41h-1zM445 153.09h1v5.41h-1zM449 153.09h2v5.41h-2zM353 158.44h1v5.41h-1zM445 169.16h1v5.41h-1zM453 169.16h1v5.41h-1zM461 169.16h1v5.41h-1zM414 222.72h1v5.41h-1zM338 233.43h1v5.41h-1z"/>
<path fill="#f9cfc3" shape-rendering="crispEdges" d="M313 78.1h1v5.41h-1zM352 83.46h1v5.41h-1zM391 83.46h1v5.41h-1zM367 88.82h2v5.41h-2zM342 94.17h1v5.41h-1zM359 94.17h1v5.41h-1zM391 104.88h1v5.41h-1zM358 110.24h1v5.41h-1zM391 110.24h1v5.41h-1zM341 115.6h1v5.41h-1zM359 115.6h1v5.41h-1zM341 120.95h1v5.41h-1zM379 120.95h1v5.41h-1zM391 120.95h1v5.41h-1zM426 120.95h1v5.41h-1zM341 126.31h1v5.41h-1zM368 131.66h1v5.41h-1zM380 131.66h1v5.41h-1zM370 137.02h2v5.41h-2zM434 137.02h1v5.41h-1zM438 137.02h1v5.41h-1zM443 142.38h1v5.41h-1zM446 142.38h1v5.41h-1zM371 147.73h1v5.41h-1zM401 147.73h1v5.41h-1zM357 153.09h1v5.41h-1zM371 153.09h1v5.41h-1zM374 153.09h1v5.41h-1zM379 153.09h1v5.41h-1zM402 153.09h1v5.41h-1zM437 153.09h1v5.41h-1zM453 153.09h2v5.41h-2zM484 153.09h1v5.41h-1zM370 158.44h1v5.41h-1zM357 163.8h1v5.41h-1zM371 163.8h1v5.41h-1zM435 163.8h1v5.41h-1zM446 163.8h1v5.41h-1zM444 169.16h1v5.41h-1zM450 169.16h1v5.41h-1zM452 169.16h1v5.41h-1zM381 179.87h1v5.41h-1zM381 185.22h1v5.41h-1zM435 185.22h1v5.41h-1zM443 185.22h1v5.41h-1zM460 185.22h1v5.41h-1zM445 190.58h1v5.41h-1zM473 190.58h1v5.41h-1zM422 222.72h1v5.41h-1zM424 222.72h1v5.41h-1zM445 228.07h1v5.41h-1zM445 233.43h1v5.41h-1z"/>
<path fill="#9375c3" shape-rendering="crispEdges" d="M321 83.46h1v5.41h-1zM326 83.46h1v5.41h-1zM474 83.46h2v5.41h-2zM487 83.46h1v5.41h-1zM448 88.82h1v5.41h-1zM321 99.53h1v5.41h-1zM449 99.53h1v5.41h-1zM322 104.88h1v5.41h-1zM328 104.88h1v5.41h-1zM331 104.88h1v5.41h-1zM335 104.88h2v5.41h-2zM331 110.24h1v5.41h-1zM334 110.24h1v5.41h-1zM322 115.6h3v5.41h-3zM329 115.6h1v5.41h-1zM332 120.95h1v5.41h-1zM339 120.95h1v5.41h-1zM449 120.95h1v5.41h-1zM449 126.31h1v5.41h-1zM451 126.31h1v5.41h-1zM315 137.02h1v5.41h-1zM324 147.73h1v5.41h-1zM322 158.44h1v5.41h-1zM317 174.51h1v5.41h-1zM333 174.51h1v5.41h-1zM334 179.87h1v5.41h-1zM321 228.07h1v5.41h-1zM336 228.07h1v5.41h-1zM367 228.07h1v5.41h-1z"/>
<path fill="#8769b7" shape-rendering="crispEdges" d="M327 83.46h1v5.41h-1zM333 83.46h1v5.41h-1zM459 83.46h1v5.41h-1zM339 94.17h1v5.41h-1zM332 99.53h1v5.41h-1zM321 104.88h1v5.41h-1zM328 110.24h1v5.41h-1zM331 115.6h1v5.41h-1zM316 147.73h1v5.41h-1zM318 147.73h1v5.41h-1zM329 147.73h1v5.41h-1zM338 147.73h1v5.41h-1zM316 174.51h1v5.41h-1zM317 179.87h1v5.41h-1zM323 179.87h1v5.41h-1zM318 185.22h1v5.41h-1zM334 228.07h2v5.41h-2z"/>
<path fill="#9981c3" shape-rendering="crispEdges" d="M331 83.46h1v5.41h-1zM445 83.46h1v5.41h-1zM465 83.46h1v5.41h-1zM444 88.82h1v5.41h-1zM478 88.82h1v5.41h-1zM449 94.17h1v5.41h-1zM323 99.53h1v5.41h-1zM450 120.95h1v5.41h-1zM474 126.31h2v5.41h-2zM479 126.31h1v5.41h-1zM334 174.51h1v5.41h-1zM322 185.22h1v5.41h-1z"/>
<path fill="#8d6fbd" shape-rendering="crispEdges" d="M332 83.46h1v5.41h-1zM337 83.46h2v5.41h-2zM451 83.46h1v5.41h-1zM449 88.82h1v5.41h-1zM474 88.82h2v5.41h-2zM328 94.17h1v5.41h-1zM331 94.17h1v5.41h-1zM338 94.17h1v5.41h-1zM328 99.53h1v5.41h-1zM337 99.53h2v5.41h-2zM475 99.53h1v5.41h-1zM324 104.88h1v5.41h-1zM326 104.88h1v5.41h-1zM448 104.88h1v5.41h-1zM321 110.24h1v5.41h-1zM337 110.24h2v5.41h-2zM334 115.6h1v5.41h-1zM333 120.95h1v5.41h-1zM326 126.31h1v5.41h-1zM328 126.31h1v5.41h-1zM334 126.31h1v5.41h-1zM337 126.31h2v5.41h-2zM321 147.73h2v5.41h-2zM325 147.73h1v5.41h-1zM328 147.73h1v5.41h-1zM335 147.73h1v5.41h-1zM340 147.73h1v5.41h-1zM314 158.44h1v5.41h-1zM321 158.44h1v5.41h-1zM331 158.44h1v5.41h-1zM337 158.44h1v5.41h-1zM339 158.44h1v5.41h-1zM327 174.51h1v5.41h-1zM340 174.51h1v5.41h-1zM333 217.36h3v5.41h-3zM369 217.36h1v5.41h-1zM317 228.07h1v5.41h-1zM332 228.07h1v5.41h-1zM357 228.07h2v5.41h-2zM369 228.07h1v5.41h-1z"/>
<path fill="#8163b7" shape-rendering="crispEdges" d="M339 83.46h1v5.41h-1zM448 83.46h1v5.41h-1zM450 83.46h1v5.41h-1zM338 104.88h1v5.41h-1zM339 110.24h1v5.41h-1zM321 115.6h1v5.41h-1zM337 115.6h1v5.41h-1zM337 147.73h1v5.41h-1zM318 158.44h1v5.41h-1zM323 174.51h1v5.41h-1zM337 174.51h2v5.41h-2zM324 179.87h1v5.41h-1zM340 179.87h1v5.41h-1zM315 185.22h1v5.41h-1z"/>
<path fill="#a58dcf" shape-rendering="crispEdges" d="M440 83.46h1v5.41h-1zM443 83.46h1v5.41h-1zM468 83.46h1v5.41h-1zM314 94.17h1v5.41h-1zM335 94.17h1v5.41h-1zM340 94.17h1v5.41h-1zM445 94.17h1v5.41h-1zM475 94.17h1v5.41h-1zM335 99.53h1v5.41h-1zM459 99.53h1v5.41h-1zM482 99.53h1v5.41h-1zM444 104.88h2v5.41h-2zM451 110.24h1v5.41h-1zM318 115.6h1v5.41h-1zM445 126.31h1v5.41h-1zM477 126.31h1v5.41h-1zM483 126.31h1v5.41h-1zM314 137.02h1v5.41h-1zM330 137.02h1v5.41h-1zM336 158.44h1v5.41h-1zM324 185.22h1v5.41h-1zM327 185.22h1v5.41h-1zM334 201.29h1v5.41h-1zM369 206.65h1v5.41h-1zM358 217.36h1v5.41h-1zM340 228.07h1v5.41h-1zM362 228.07h1v5.41h-1zM383 228.07h1v5.41h-1zM366 233.43h1v5.41h-1z"/>
<path fill="#7b5db1" shape-rendering="crispEdges" d="M449 83.46h1v5.41h-1zM332 94.17h1v5.41h-1zM333 99.53h1v5.41h-1zM339 99.53h1v5.41h-1zM327 104.88h1v5.41h-1zM337 104.88h1v5.41h-1zM332 110.24h1v5.41h-1zM326 115.6h1v5.41h-1zM327 126.31h1v5.41h-1zM314 147.73h1v5.41h-1zM320 147.73h1v5.41h-1zM326 158.44h1v5.41h-1zM324 174.51h1v5.41h-1zM328 174.51h1v5.41h-1zM332 174.51h1v5.41h-1zM316 179.87h1v5.41h-1zM321 179.87h1v5.41h-1zM328 179.87h2v5.41h-2z"/>
<path fill="#9f81c3" shape-rendering="crispEdges" d="M479 88.82h1v5.41h-1zM325 104.88h1v5.41h-1zM451 104.88h1v5.41h-1zM335 126.31h1v5.41h-1zM436 126.31h1v5.41h-1zM448 126.31h1v5.41h-1zM318 137.02h1v5.41h-1zM329 228.07h1v5.41h-1z"/>
<path fill="#815db1" shape-rendering="crispEdges" d="M327 94.17h1v5.41h-1zM332 104.88h1v5.41h-1zM338 115.6h1v5.41h-1z"/>
<path fill="#7b57b1" shape-rendering="crispEdges" d="M333 94.17h1v5.41h-1zM333 104.88h1v5.41h-1zM328 115.6h1v5.41h-1zM315 158.44h1v5.41h-1zM322 174.51h1v5.41h-1zM339 174.51h1v5.41h-1zM325 179.87h1v5.41h-1z"/>
<path fill="#8769bd" shape-rendering="crispEdges" d="M337 94.17h1v5.41h-1zM449 104.88h1v5.41h-1zM326 110.24h1v5.41h-1zM321 126.31h1v5.41h-1zM330 158.44h1v5.41h-1zM333 179.87h1v5.41h-1zM335 179.87h1v5.41h-1zM320 185.22h1v5.41h-1z"/>
<path fill="#815db7" shape-rendering="crispEdges" d="M327 99.53h1v5.41h-1zM332 126.31h1v5.41h-1zM339 126.31h1v5.41h-1zM332 147.73h1v5.41h-1zM339 147.73h1v5.41h-1zM329 174.51h1v5.41h-1zM322 179.87h1v5.41h-1zM326 185.22h1v5.41h-1z"/>
<path fill="#8d69bd" shape-rendering="crispEdges" d="M323 104.88h1v5.41h-1zM340 115.6h1v5.41h-1zM319 137.02h1v5.41h-1zM333 228.07h1v5.41h-1z"/>
<path fill="#7551ab" shape-rendering="crispEdges" d="M339 104.88h1v5.41h-1zM333 110.24h1v5.41h-1zM331 147.73h1v5.41h-1zM331 174.51h1v5.41h-1zM337 179.87h2v5.41h-2z"/>
<path fill="#6f51ab" shape-rendering="crispEdges" d="M327 110.24h1v5.41h-1zM339 115.6h1v5.41h-1zM333 126.31h1v5.41h-1zM319 147.73h1v5.41h-1zM330 174.51h1v5.41h-1zM314 179.87h1v5.41h-1z"/>
<path fill="#63459f" shape-rendering="crispEdges" d="M327 115.6h1v5.41h-1zM319 158.44h1v5.41h-1zM320 179.87h1v5.41h-1zM330 179.87h2v5.41h-2z"/>
<path fill="#6f4ba5" shape-rendering="crispEdges" d="M332 115.6h1v5.41h-1zM325 174.51h1v5.41h-1z"/>
<path fill="#694ba5" shape-rendering="crispEdges" d="M333 115.6h1v5.41h-1zM332 179.87h1v5.41h-1zM339 179.87h1v5.41h-1z"/>
<path fill="#937bc3" shape-rendering="crispEdges" d="M475 115.6h1v5.41h-1zM327 120.95h1v5.41h-1zM335 174.51h1v5.41h-1zM314 185.22h1v5.41h-1zM328 185.22h1v5.41h-1zM316 228.07h1v5.41h-1z"/>
<path fill="#e13f4b" shape-rendering="crispEdges" d="M354 131.66h1v5.41h-1z"/>
<path fill="#69459f" shape-rendering="crispEdges" d="M315 147.73h1v5.41h-1zM318 179.87h1v5.41h-1z"/>
<path fill="#7557b1" shape-rendering="crispEdges" d="M326 147.73h1v5.41h-1zM314 174.51h1v5.41h-1zM318 174.51h1v5.41h-1zM321 174.51h1v5.41h-1zM319 185.22h1v5.41h-1z"/>
<path fill="#7557ab" shape-rendering="crispEdges" d="M330 147.73h1v5.41h-1zM320 158.44h1v5.41h-1z"/>
<path fill="#633f9f" shape-rendering="crispEdges" d="M315 174.51h1v5.41h-1zM320 174.51h1v5.41h-1z"/>
<path fill="#5d3999" shape-rendering="crispEdges" d="M319 174.51h1v5.41h-1z"/>
<path fill="#573993" shape-rendering="crispEdges" d="M326 174.51h1v5.41h-1zM315 179.87h1v5.41h-1z"/>
<path fill="#f3bda5" shape-rendering="crispEdges" d="M430 174.51h1v5.41h-1zM473 201.29h1v5.41h-1zM484 222.72h1v5.41h-1zM491 238.78h1v5.41h-1z"/>
<path fill="#512d8d" shape-rendering="crispEdges" d="M319 179.87h1v5.41h-1z"/>
<path fill="#5d3f99" shape-rendering="crispEdges" d="M326 179.87h1v5.41h-1z"/>
<path fill="#8d75bd" shape-rendering="crispEdges" d="M327 179.87h1v5.41h-1z"/>
<line x1="340.6" y1="29.9" x2="340.6" y2="244.14" stroke="#b4a7c4" stroke-width=".5"/>
<line x1="404.6" y1="29.9" x2="404.6" y2="244.14" stroke="#9c8fb0" stroke-width=".5"/>
<line x1="433.6" y1="29.9" x2="433.6" y2="244.14" stroke="#5e5470" stroke-width=".5"/>
<rect x="311.8" y="25.7" width="27.9" height="2.8" fill="#68a898"/>
<rect x="341" y="25.7" width="63.2" height="2.8" fill="#3c7f8c"/>
<rect x="404.8" y="25.7" width="28.2" height="2.8" fill="#16232a"/>
<rect x="433.8" y="25.7" width="58.6" height="2.8" fill="#c39aa9"/>
<text x="318.8" y="23.6" font-size="6.6" fill="#2b2b2b" stroke="#2b2b2b" stroke-width=".06" textLength="14" lengthAdjust="spacingAndGlyphs" transform="rotate(.05 318.8 23.6)">MBC</text>
<text x="366" y="23.6" font-size="6.6" fill="#2b2b2b" stroke="#2b2b2b" stroke-width=".06" textLength="17" lengthAdjust="spacingAndGlyphs" transform="rotate(.05 366 23.6)">prePB</text>
<text x="418.6" y="23.6" font-size="6.6" fill="#2b2b2b" stroke="#2b2b2b" stroke-width=".06" textLength="8.4" lengthAdjust="spacingAndGlyphs" transform="rotate(.05 418.6 23.6)">PB</text>
<text x="459.6" y="23.6" font-size="6.6" fill="#2b2b2b" stroke="#2b2b2b" stroke-width=".06" textLength="7.8" lengthAdjust="spacingAndGlyphs" transform="rotate(.05 459.6 23.6)">PC</text>
<text x="283.75" y="34.98" font-size="6.9" fill="#2b2b2b" stroke="#2b2b2b" stroke-width=".06" textLength="27.25" lengthAdjust="spacingAndGlyphs" transform="rotate(.05 283.75 34.98)">TSC22D3</text>
<text x="296.16" y="40.33" font-size="6.9" fill="#2b2b2b" stroke="#2b2b2b" stroke-width=".06" textLength="14.84" lengthAdjust="spacingAndGlyphs" transform="rotate(.05 296.16 40.33)">KLF6</text>
<text x="298.58" y="45.69" font-size="6.9" fill="#2b2b2b" stroke="#2b2b2b" stroke-width=".06" textLength="12.41" lengthAdjust="spacingAndGlyphs" transform="rotate(.05 298.58 45.69)">EZR</text>
<text x="290.64" y="51.05" font-size="6.9" fill="#2b2b2b" stroke="#2b2b2b" stroke-width=".06" textLength="20.36" lengthAdjust="spacingAndGlyphs" transform="rotate(.05 290.64 51.05)">MS4A1</text>
<text x="295.13" y="56.4" font-size="6.9" fill="#2b2b2b" stroke="#2b2b2b" stroke-width=".06" textLength="15.87" lengthAdjust="spacingAndGlyphs" transform="rotate(.05 295.13 56.4)">CD37</text>
<text x="294.1" y="61.76" font-size="6.9" fill="#2b2b2b" stroke="#2b2b2b" stroke-width=".06" textLength="16.9" lengthAdjust="spacingAndGlyphs" transform="rotate(.05 294.1 61.76)">JUNO</text>
<text x="280.64" y="67.11" font-size="6.9" fill="#2b2b2b" stroke="#2b2b2b" stroke-width=".06" textLength="30.36" lengthAdjust="spacingAndGlyphs" transform="rotate(.05 280.64 67.11)">HLA-DPB1</text>
<text x="295.13" y="72.47" font-size="6.9" fill="#2b2b2b" stroke="#2b2b2b" stroke-width=".06" textLength="15.87" lengthAdjust="spacingAndGlyphs" transform="rotate(.05 295.13 72.47)">CD69</text>
<text x="296.16" y="77.83" font-size="6.9" fill="#2b2b2b" stroke="#2b2b2b" stroke-width=".06" textLength="14.84" lengthAdjust="spacingAndGlyphs" transform="rotate(.05 296.16 77.83)">KLF2</text>
<text x="290.65" y="83.18" font-size="6.9" fill="#2b2b2b" stroke="#2b2b2b" stroke-width=".06" textLength="20.35" lengthAdjust="spacingAndGlyphs" transform="rotate(.05 290.65 83.18)">FOXP1</text>
<text x="290.3" y="88.54" font-size="6.9" fill="#2b2b2b" stroke="#2b2b2b" stroke-width=".06" textLength="20.7" lengthAdjust="spacingAndGlyphs" transform="rotate(.05 290.3 88.54)">ACTG1</text>
<text x="294.44" y="93.89" font-size="6.9" fill="#2b2b2b" stroke="#2b2b2b" stroke-width=".06" textLength="16.56" lengthAdjust="spacingAndGlyphs" transform="rotate(.05 294.44 93.89)">ACTB</text>
<text x="286.85" y="99.25" font-size="6.9" fill="#2b2b2b" stroke="#2b2b2b" stroke-width=".06" textLength="24.15" lengthAdjust="spacingAndGlyphs" transform="rotate(.05 286.85 99.25)">TUBA1B</text>
<text x="294.44" y="104.61" font-size="6.9" fill="#2b2b2b" stroke="#2b2b2b" stroke-width=".06" textLength="16.56" lengthAdjust="spacingAndGlyphs" transform="rotate(.05 294.44 104.61)">TUBB</text>
<text x="294.1" y="109.96" font-size="6.9" fill="#2b2b2b" stroke="#2b2b2b" stroke-width=".06" textLength="16.9" lengthAdjust="spacingAndGlyphs" transform="rotate(.05 294.1 109.96)">ENO1</text>
<text x="294.44" y="115.32" font-size="6.9" fill="#2b2b2b" stroke="#2b2b2b" stroke-width=".06" textLength="16.56" lengthAdjust="spacingAndGlyphs" transform="rotate(.05 294.44 115.32)">LDHA</text>
<text x="290.3" y="120.67" font-size="6.9" fill="#2b2b2b" stroke="#2b2b2b" stroke-width=".06" textLength="20.7" lengthAdjust="spacingAndGlyphs" transform="rotate(.05 290.3 120.67)">HSPD1</text>
<text x="297.89" y="126.03" font-size="6.9" fill="#2b2b2b" stroke="#2b2b2b" stroke-width=".06" textLength="13.11" lengthAdjust="spacingAndGlyphs" transform="rotate(.05 297.89 126.03)">RAN</text>
<text x="295.13" y="131.39" font-size="6.9" fill="#2b2b2b" stroke="#2b2b2b" stroke-width=".06" textLength="15.87" lengthAdjust="spacingAndGlyphs" transform="rotate(.05 295.13 131.39)">PFN1</text>
<text x="293.75" y="136.74" font-size="6.9" fill="#2b2b2b" stroke="#2b2b2b" stroke-width=".06" textLength="17.25" lengthAdjust="spacingAndGlyphs" transform="rotate(.05 293.75 136.74)">IL2RA</text>
<text x="285.47" y="142.1" font-size="6.9" fill="#2b2b2b" stroke="#2b2b2b" stroke-width=".06" textLength="25.53" lengthAdjust="spacingAndGlyphs" transform="rotate(.05 285.47 142.1)">C19orf10</text>
<text x="282.36" y="147.45" font-size="6.9" fill="#2b2b2b" stroke="#2b2b2b" stroke-width=".06" textLength="28.64" lengthAdjust="spacingAndGlyphs" transform="rotate(.05 282.36 147.45)">TP53INP1</text>
<text x="296.85" y="152.81" font-size="6.9" fill="#2b2b2b" stroke="#2b2b2b" stroke-width=".06" textLength="14.15" lengthAdjust="spacingAndGlyphs" transform="rotate(.05 296.85 152.81)">PPIB</text>
<text x="277.52" y="158.17" font-size="6.9" fill="#2b2b2b" stroke="#2b2b2b" stroke-width=".06" textLength="33.48" lengthAdjust="spacingAndGlyphs" transform="rotate(.05 277.52 158.17)">AL928768.3</text>
<text x="293.06" y="163.52" font-size="6.9" fill="#2b2b2b" stroke="#2b2b2b" stroke-width=".06" textLength="17.94" lengthAdjust="spacingAndGlyphs" transform="rotate(.05 293.06 163.52)">PDIA4</text>
<text x="292.72" y="168.88" font-size="6.9" fill="#2b2b2b" stroke="#2b2b2b" stroke-width=".06" textLength="18.28" lengthAdjust="spacingAndGlyphs" transform="rotate(.05 292.72 168.88)">ITM2A</text>
<text x="295.13" y="174.23" font-size="6.9" fill="#2b2b2b" stroke="#2b2b2b" stroke-width=".06" textLength="15.87" lengthAdjust="spacingAndGlyphs" transform="rotate(.05 295.13 174.23)">CD44</text>
<text x="288.23" y="179.59" font-size="6.9" fill="#2b2b2b" stroke="#2b2b2b" stroke-width=".06" textLength="22.77" lengthAdjust="spacingAndGlyphs" transform="rotate(.05 288.23 179.59)">UBE2J1</text>
<text x="287.31" y="184.95" font-size="6.9" fill="#2b2b2b" stroke="#2b2b2b" stroke-width=".06" textLength="23.69" lengthAdjust="spacingAndGlyphs" transform="rotate(.05 287.31 184.95)">SEC11C</text>
<text x="294.44" y="190.3" font-size="6.9" fill="#2b2b2b" stroke="#2b2b2b" stroke-width=".06" textLength="16.56" lengthAdjust="spacingAndGlyphs" transform="rotate(.05 294.44 190.3)">RPN2</text>
<text x="300.31" y="195.66" font-size="6.9" fill="#2b2b2b" stroke="#2b2b2b" stroke-width=".06" textLength="10.69" lengthAdjust="spacingAndGlyphs" transform="rotate(.05 300.31 195.66)">IFI6</text>
<text x="293.4" y="201.01" font-size="6.9" fill="#2b2b2b" stroke="#2b2b2b" stroke-width=".06" textLength="17.6" lengthAdjust="spacingAndGlyphs" transform="rotate(.05 293.4 201.01)">ISG15</text>
<text x="295.48" y="206.37" font-size="6.9" fill="#2b2b2b" stroke="#2b2b2b" stroke-width=".06" textLength="15.52" lengthAdjust="spacingAndGlyphs" transform="rotate(.05 295.48 206.37)">XAF1</text>
<text x="298.24" y="211.73" font-size="6.9" fill="#2b2b2b" stroke="#2b2b2b" stroke-width=".06" textLength="12.76" lengthAdjust="spacingAndGlyphs" transform="rotate(.05 298.24 211.73)">MX1</text>
<text x="293.4" y="217.08" font-size="6.9" fill="#2b2b2b" stroke="#2b2b2b" stroke-width=".06" textLength="17.6" lengthAdjust="spacingAndGlyphs" transform="rotate(.05 293.4 217.08)">IFI44L</text>
<text x="294.78" y="222.44" font-size="6.9" fill="#2b2b2b" stroke="#2b2b2b" stroke-width=".06" textLength="16.22" lengthAdjust="spacingAndGlyphs" transform="rotate(.05 294.78 222.44)">SSR4</text>
<text x="297.55" y="227.79" font-size="6.9" fill="#2b2b2b" stroke="#2b2b2b" stroke-width=".06" textLength="13.45" lengthAdjust="spacingAndGlyphs" transform="rotate(.05 297.55 227.79)">IRF7</text>
<text x="295.13" y="233.15" font-size="6.9" fill="#2b2b2b" stroke="#2b2b2b" stroke-width=".06" textLength="15.87" lengthAdjust="spacingAndGlyphs" transform="rotate(.05 295.13 233.15)">XBP1</text>
<text x="290.99" y="238.51" font-size="6.9" fill="#2b2b2b" stroke="#2b2b2b" stroke-width=".06" textLength="20.01" lengthAdjust="spacingAndGlyphs" transform="rotate(.05 290.99 238.51)">CD79A</text>
<text x="286.16" y="243.86" font-size="6.9" fill="#2b2b2b" stroke="#2b2b2b" stroke-width=".06" textLength="24.84" lengthAdjust="spacingAndGlyphs" transform="rotate(.05 286.16 243.86)">SAMD9L</text>
<text x="314.2" y="251.9" font-size="6.4" fill="#2b2b2b" stroke="#2b2b2b" stroke-width=".06" textLength="28.6" lengthAdjust="spacingAndGlyphs" transform="rotate(.05 314.2 251.9)">6392 cells</text>
<line x1="346.2" y1="250.2" x2="391.1" y2="250.2" stroke="#231f20" stroke-width=".9"/>
<path d="M394.8 250.2 L390.6 248.4 L390.6 252 Z" fill="#231f20"/>
<rect x="496.2" y="213.8" width="7.7" height="30.1" fill="url(#hml)"/>
<text x="506.8" y="219.9" font-size="6.6" fill="#2b2b2b" stroke="#2b2b2b" stroke-width=".06" textLength="3.4" lengthAdjust="spacingAndGlyphs" transform="rotate(.05 506.8 219.9)">2</text>
<text x="506.6" y="231.8" font-size="6.6" fill="#2b2b2b" stroke="#2b2b2b" stroke-width=".06" textLength="3.6" lengthAdjust="spacingAndGlyphs" transform="rotate(.05 506.6 231.8)">0</text>
<text x="505.6" y="242.8" font-size="6.6" fill="#2b2b2b" stroke="#2b2b2b" stroke-width=".06" textLength="7.6" lengthAdjust="spacingAndGlyphs" transform="rotate(.05 505.6 242.8)">−2</text>
<text x="277.4" y="288.4" font-size="10.4" fill="#000" stroke="#000" stroke-width=".06" font-weight="bold" textLength="6.4" lengthAdjust="spacingAndGlyphs" transform="rotate(.05 277.4 288.4)">F</text>
<text x="303.1" y="301" font-size="6.5" stroke="#231f20" stroke-width=".06" textLength="36.4" lengthAdjust="spacingAndGlyphs" transform="rotate(.05 303.1 301)">MBC&gt;prePB</text>
<line x1="335.5" y1="311.8" x2="335.5" y2="373.95" stroke="#231f20" stroke-width=".9"/>
<line x1="335.05" y1="373.5" x2="440" y2="373.5" stroke="#231f20" stroke-width=".9"/>
<line x1="333.3" y1="320.4" x2="335.5" y2="320.4" stroke="#231f20" stroke-width=".6"/>
<text x="323.7" y="322.65" font-size="6.3" stroke="#231f20" stroke-width=".06" textLength="8.4" lengthAdjust="spacingAndGlyphs" transform="rotate(.05 323.7 322.65)">0.3</text>
<line x1="333.3" y1="327.1" x2="335.5" y2="327.1" stroke="#231f20" stroke-width=".6"/>
<text x="328.7" y="329.35" font-size="6.3" stroke="#231f20" stroke-width=".06" textLength="3.4" lengthAdjust="spacingAndGlyphs" transform="rotate(.05 328.7 329.35)">0</text>
<line x1="333.3" y1="334.2" x2="335.5" y2="334.2" stroke="#231f20" stroke-width=".6"/>
<text x="319.7" y="336.45" font-size="6.3" stroke="#231f20" stroke-width=".06" textLength="12.4" lengthAdjust="spacingAndGlyphs" transform="rotate(.05 319.7 336.45)">−0.3</text>
<line x1="333.3" y1="340.9" x2="335.5" y2="340.9" stroke="#231f20" stroke-width=".6"/>
<text x="319.7" y="343.15" font-size="6.3" stroke="#231f20" stroke-width=".06" textLength="12.4" lengthAdjust="spacingAndGlyphs" transform="rotate(.05 319.7 343.15)">−0.6</text>
<path d="M340.18 341.3v7.4M341 341.3v7.4M344.76 341.3v7.4M347.4 341.3v7.4M349.77 341.3v7.4M350.19 341.3v7.4M350.88 341.3v7.4M353.96 341.3v7.4M354.22 341.3v7.4M357 341.3v7.4M357.18 341.3v7.4M357.28 341.3v7.4M358.77 341.3v7.4M361.51 341.3v7.4M363.44 341.3v7.4M367.41 341.3v7.4M368.11 341.3v7.4M371.09 341.3v7.4M374.14 341.3v7.4M378.54 341.3v7.4M379.26 341.3v7.4M379.45 341.3v7.4M381.3 341.3v7.4M381.74 341.3v7.4M383.44 341.3v7.4M387.77 341.3v7.4M387.89 341.3v7.4M388.96 341.3v7.4M390.84 341.3v7.4M394.42 341.3v7.4M398.64 341.3v7.4M399.52 341.3v7.4M402.69 341.3v7.4M404.07 341.3v7.4M405.08 341.3v7.4M405.61 341.3v7.4M406.74 341.3v7.4M408.62 341.3v7.4M411.78 341.3v7.4M414.09 341.3v7.4M414.54 341.3v7.4M414.61 341.3v7.4M414.64 341.3v7.4M415.37 341.3v7.4M415.56 341.3v7.4M415.59 341.3v7.4M415.79 341.3v7.4M416.24 341.3v7.4M416.3 341.3v7.4M416.88 341.3v7.4M417.21 341.3v7.4M417.46 341.3v7.4M417.6 341.3v7.4M417.66 341.3v7.4M417.75 341.3v7.4M417.86 341.3v7.4M417.96 341.3v7.4M418.1 341.3v7.4M419.2 341.3v7.4M419.5 341.3v7.4M419.8 341.3v7.4M420.11 341.3v7.4M420.12 341.3v7.4M420.56 341.3v7.4M420.56 341.3v7.4M420.65 341.3v7.4M421.1 341.3v7.4M421.42 341.3v7.4M421.95 341.3v7.4M422.58 341.3v7.4M422.66 341.3v7.4M422.67 341.3v7.4M422.75 341.3v7.4M423.11 341.3v7.4M423.59 341.3v7.4M424.41 341.3v7.4M424.65 341.3v7.4M424.8 341.3v7.4M425.05 341.3v7.4M426.35 341.3v7.4M426.39 341.3v7.4M426.52 341.3v7.4M426.54 341.3v7.4M427.21 341.3v7.4M427.54 341.3v7.4M427.59 341.3v7.4M427.64 341.3v7.4M427.84 341.3v7.4M428.59 341.3v7.4M428.63 341.3v7.4M428.79 341.3v7.4M428.92 341.3v7.4M428.94 341.3v7.4M429.32 341.3v7.4M429.37 341.3v7.4M430.38 341.3v7.4M430.91 341.3v7.4M431.26 341.3v7.4M431.5 341.3v7.4M431.55 341.3v7.4M432.05 341.3v7.4M432.1 341.3v7.4M432.15 341.3v7.4M433.33 341.3v7.4M433.42 341.3v7.4M433.88 341.3v7.4M434.06 341.3v7.4M434.08 341.3v7.4M434.27 341.3v7.4M434.78 341.3v7.4M434.8 341.3v7.4M434.87 341.3v7.4M435 341.3v7.4M435.19 341.3v7.4M435.32 341.3v7.4M435.78 341.3v7.4M436.04 341.3v7.4M436.06 341.3v7.4M436.08 341.3v7.4M436.55 341.3v7.4M436.85 341.3v7.4M437.48 341.3v7.4M437.67 341.3v7.4M437.87 341.3v7.4M438.23 341.3v7.4M438.46 341.3v7.4M438.67 341.3v7.4M438.7 341.3v7.4M439.05 341.3v7.4M439.13 341.3v7.4M439.18 341.3v7.4M439.75 341.3v7.4M439.77 341.3v7.4M439.93 341.3v7.4" stroke="#a8c0e4" stroke-width="0.6" fill="none"/>
<path d="M336.12 350.3v7.5M336.76 350.3v7.5M336.84 350.3v7.5M337.2 350.3v7.5M337.23 350.3v7.5M337.57 350.3v7.5M337.74 350.3v7.5M337.99 350.3v7.5M338.61 350.3v7.5M338.74 350.3v7.5M339.56 350.3v7.5M339.76 350.3v7.5M342.47 350.3v7.5M342.93 350.3v7.5M344.84 350.3v7.5M345.01 350.3v7.5M345.42 350.3v7.5M345.51 350.3v7.5M346.18 350.3v7.5M346.85 350.3v7.5M346.89 350.3v7.5M346.99 350.3v7.5M347.24 350.3v7.5M347.47 350.3v7.5M347.6 350.3v7.5M348.69 350.3v7.5M348.77 350.3v7.5M349.49 350.3v7.5M349.66 350.3v7.5M349.89 350.3v7.5M350.81 350.3v7.5M351.87 350.3v7.5M352.14 350.3v7.5M352.55 350.3v7.5M353.45 350.3v7.5M353.57 350.3v7.5M353.98 350.3v7.5M354.66 350.3v7.5M355.43 350.3v7.5M356.72 350.3v7.5M357.17 350.3v7.5M357.29 350.3v7.5M359.67 350.3v7.5M359.96 350.3v7.5M360.08 350.3v7.5M360.77 350.3v7.5M361.56 350.3v7.5M361.6 350.3v7.5M363.72 350.3v7.5M364.69 350.3v7.5M368.78 350.3v7.5M370.21 350.3v7.5M371.65 350.3v7.5M371.69 350.3v7.5M372.99 350.3v7.5M373.88 350.3v7.5M379.47 350.3v7.5M381.72 350.3v7.5M382.13 350.3v7.5M382.19 350.3v7.5M383.42 350.3v7.5M386.49 350.3v7.5M388.99 350.3v7.5M389.37 350.3v7.5M390.11 350.3v7.5M391.45 350.3v7.5M395.13 350.3v7.5M398.59 350.3v7.5M401.61 350.3v7.5M403.33 350.3v7.5M413.5 350.3v7.5M415 350.3v7.5M416.33 350.3v7.5M418.17 350.3v7.5M419.89 350.3v7.5M421.55 350.3v7.5M424.86 350.3v7.5M425.63 350.3v7.5M426.49 350.3v7.5M428.61 350.3v7.5M434.24 350.3v7.5M437.01 350.3v7.5M437.67 350.3v7.5" stroke="#22407a" stroke-width="0.65" fill="none"/>
<path d="M335.5 327.78 L337.01 327.95 L338.53 328.18 L340.04 328.48 L341.56 328.77 L343.07 329.06 L344.59 329.35 L346.1 329.65 L347.62 329.93 L349.13 330.21 L350.64 330.47 L352.16 330.72 L353.67 330.95 L355.19 331.18 L356.7 331.41 L358.22 331.63 L359.73 331.86 L361.25 332.09 L362.76 332.31 L364.28 332.54 L365.79 332.77 L367.3 333 L368.82 333.22 L370.33 333.45 L371.85 333.68 L373.36 333.9 L374.88 334.13 L376.39 334.36 L377.91 334.59 L379.42 334.81 L380.93 335.04 L382.45 335.27 L383.96 335.49 L385.48 335.72 L386.99 335.95 L388.51 336.18 L390.02 336.41 L391.54 336.64 L393.05 336.87 L394.57 337.11 L396.08 337.35 L397.59 337.58 L399.11 337.82 L400.62 338.05 L402.14 338.29 L403.65 338.52 L405.17 338.76 L406.68 339 L408.2 339.26 L409.71 339.52 L411.22 339.79 L412.74 340.06 L414.25 340.34 L415.77 340.61 L417.28 340.79 L418.8 340.85 L420.31 340.79 L421.83 340.62 L423.34 340.33 L424.86 339.94 L426.37 339.38 L427.88 338.66 L429.4 337.79 L430.91 336.75 L432.43 335.57 L433.94 334.32 L435.46 332.98 L436.97 331.58 L438.49 330.39 L440 329.49" fill="none" stroke="#a5bce0" stroke-width=".8"/>
<path d="M335.5 325.59 L337.01 324.78 L338.53 323.73 L340.04 322.5 L341.56 321.34 L343.07 320.27 L344.59 319.32 L346.1 318.49 L347.62 317.74 L349.13 317.06 L350.64 316.47 L352.16 315.93 L353.67 315.41 L355.19 314.91 L356.7 314.44 L358.22 314.01 L359.73 313.62 L361.25 313.36 L362.76 313.23 L364.28 313.22 L365.79 313.32 L367.3 313.52 L368.82 313.73 L370.33 313.94 L371.85 314.16 L373.36 314.38 L374.88 314.6 L376.39 314.82 L377.91 315.04 L379.42 315.26 L380.93 315.48 L382.45 315.7 L383.96 315.92 L385.48 316.14 L386.99 316.36 L388.51 316.58 L390.02 316.81 L391.54 317.03 L393.05 317.26 L394.57 317.48 L396.08 317.71 L397.59 317.94 L399.11 318.17 L400.62 318.39 L402.14 318.62 L403.65 318.85 L405.17 319.08 L406.68 319.3 L408.2 319.53 L409.71 319.77 L411.22 320.01 L412.74 320.26 L414.25 320.51 L415.77 320.76 L417.28 321.01 L418.8 321.27 L420.31 321.52 L421.83 321.77 L423.34 322.02 L424.86 322.28 L426.37 322.58 L427.88 322.94 L429.4 323.36 L430.91 323.83 L432.43 324.36 L433.94 324.9 L435.46 325.45 L436.97 326.02 L438.49 326.48 L440 326.84" fill="none" stroke="#3d4f73" stroke-width=".85"/>
<path d="M335.5 361.88 L338.18 362.29 L340.86 362.79 L343.54 363.33 L346.22 363.73 L348.9 364.03 L351.58 364.26 L354.26 364.43 L356.94 364.59 L359.62 364.73 L362.29 364.85 L364.97 364.95 L367.65 365.03 L370.33 365.11 L373.01 365.19 L375.69 365.27 L378.37 365.36 L381.05 365.45 L383.73 365.55 L386.41 365.66 L389.09 365.76 L391.77 365.87 L394.45 365.98 L397.13 366.09 L399.81 366.19 L402.49 366.3 L405.17 366.41 L407.85 366.53 L410.53 366.67 L413.21 366.83 L415.88 366.99 L418.56 367.17 L421.24 367.35 L423.92 367.53 L426.6 367.71 L429.28 367.89 L431.96 368.06 L434.64 368.24 L437.32 368.39 L440 368.49 L440 365.2 L335.5 365.2 Z" fill="#e2e3e4"/>
<path d="M335.5 361.88 L338.18 362.29 L340.86 362.79 L343.54 363.33 L346.22 363.73 L348.9 364.03 L351.58 364.26 L354.26 364.43 L356.94 364.59 L359.62 364.73 L362.29 364.85 L364.97 364.95 L367.65 365.03 L370.33 365.11 L373.01 365.19 L375.69 365.27 L378.37 365.36 L381.05 365.45 L383.73 365.55 L386.41 365.66 L389.09 365.76 L391.77 365.87 L394.45 365.98 L397.13 366.09 L399.81 366.19 L402.49 366.3 L405.17 366.41 L407.85 366.53 L410.53 366.67 L413.21 366.83 L415.88 366.99 L418.56 367.17 L421.24 367.35 L423.92 367.53 L426.6 367.71 L429.28 367.89 L431.96 368.06 L434.64 368.24 L437.32 368.39 L440 368.49" fill="none" stroke="#b0b2b5" stroke-width=".9"/>
<line x1="333.1" y1="362.4" x2="335.5" y2="362.4" stroke="#231f20" stroke-width=".7"/>
<text x="328.9" y="363.9" font-size="5.2" stroke="#231f20" stroke-width=".06" textLength="3" lengthAdjust="spacingAndGlyphs" transform="rotate(-89.95 328.9 363.9)">2</text>
<line x1="333.1" y1="366.3" x2="335.5" y2="366.3" stroke="#231f20" stroke-width=".7"/>
<text x="328.9" y="367.8" font-size="5.2" stroke="#231f20" stroke-width=".06" textLength="3" lengthAdjust="spacingAndGlyphs" transform="rotate(-89.95 328.9 367.8)">0</text>
<line x1="333.1" y1="370.2" x2="335.5" y2="370.2" stroke="#231f20" stroke-width=".7"/>
<text x="328.9" y="373" font-size="5.2" stroke="#231f20" stroke-width=".06" textLength="5.6" lengthAdjust="spacingAndGlyphs" transform="rotate(-89.95 328.9 373)">−2</text>
<text x="317.4" y="375.6" font-size="8.2" stroke="#231f20" stroke-width=".06" textLength="18.6" lengthAdjust="spacingAndGlyphs" transform="rotate(-89.95 317.4 375.6)">log2fc</text>
<line x1="368" y1="373.5" x2="368" y2="375.7" stroke="#231f20" stroke-width=".6"/>
<text x="361.1" y="383.7" font-size="6.5" stroke="#231f20" stroke-width=".06" textLength="13.8" lengthAdjust="spacingAndGlyphs" transform="rotate(.05 361.1 383.7)">1000</text>
<line x1="399.5" y1="373.5" x2="399.5" y2="375.7" stroke="#231f20" stroke-width=".6"/>
<text x="392.6" y="383.7" font-size="6.5" stroke="#231f20" stroke-width=".06" textLength="13.8" lengthAdjust="spacingAndGlyphs" transform="rotate(.05 392.6 383.7)">2000</text>
<line x1="431" y1="373.5" x2="431" y2="375.7" stroke="#231f20" stroke-width=".6"/>
<text x="424.1" y="383.7" font-size="6.5" stroke="#231f20" stroke-width=".06" textLength="13.8" lengthAdjust="spacingAndGlyphs" transform="rotate(.05 424.1 383.7)">3000</text>
<rect x="393.3" y="306.2" width="54.5" height="6.6" fill="#fff"/>
<text x="393.8" y="311.4" font-size="6.6" fill="#2c3a5c" stroke="#2c3a5c" stroke-width=".06" textLength="53.5" lengthAdjust="spacingAndGlyphs" transform="rotate(.05 393.8 311.4)">G2/M transition of</text>
<rect x="395.5" y="314.2" width="49" height="6.6" fill="#fff"/>
<text x="396" y="319.4" font-size="6.6" fill="#2c3a5c" stroke="#2c3a5c" stroke-width=".06" textLength="48" lengthAdjust="spacingAndGlyphs" transform="rotate(.05 396 319.4)">mitotic cell cycle</text>
<text x="442.7" y="327.7" font-size="6.6" fill="#a7bde0" stroke="#a7bde0" stroke-width=".06" textLength="54.3" lengthAdjust="spacingAndGlyphs" transform="rotate(.05 442.7 327.7)">nuclear-transcribed</text>
<text x="442.7" y="335.8" font-size="6.6" fill="#a7bde0" stroke="#a7bde0" stroke-width=".06" textLength="41.6" lengthAdjust="spacingAndGlyphs" transform="rotate(.05 442.7 335.8)">mRNA catabolic</text>
<text x="442.7" y="343.9" font-size="6.6" fill="#a7bde0" stroke="#a7bde0" stroke-width=".06" textLength="21.8" lengthAdjust="spacingAndGlyphs" transform="rotate(.05 442.7 343.9)">process</text>
<text x="303.8" y="408" font-size="6.5" stroke="#231f20" stroke-width=".06" textLength="28.8" lengthAdjust="spacingAndGlyphs" transform="rotate(.05 303.8 408)">prePB&gt;PB</text>
<line x1="335.5" y1="413" x2="335.5" y2="474.65" stroke="#231f20" stroke-width=".9"/>
<line x1="335.05" y1="474.2" x2="440" y2="474.2" stroke="#231f20" stroke-width=".9"/>
<line x1="333.3" y1="420.8" x2="335.5" y2="420.8" stroke="#231f20" stroke-width=".6"/>
<text x="323.7" y="423.05" font-size="6.3" stroke="#231f20" stroke-width=".06" textLength="8.4" lengthAdjust="spacingAndGlyphs" transform="rotate(.05 323.7 423.05)">0.3</text>
<line x1="333.3" y1="427.5" x2="335.5" y2="427.5" stroke="#231f20" stroke-width=".6"/>
<text x="328.7" y="429.75" font-size="6.3" stroke="#231f20" stroke-width=".06" textLength="3.4" lengthAdjust="spacingAndGlyphs" transform="rotate(.05 328.7 429.75)">0</text>
<line x1="333.3" y1="434.3" x2="335.5" y2="434.3" stroke="#231f20" stroke-width=".6"/>
<text x="319.7" y="436.55" font-size="6.3" stroke="#231f20" stroke-width=".06" textLength="12.4" lengthAdjust="spacingAndGlyphs" transform="rotate(.05 319.7 436.55)">−0.3</text>
<line x1="333.3" y1="441.3" x2="335.5" y2="441.3" stroke="#231f20" stroke-width=".6"/>
<text x="319.7" y="443.55" font-size="6.3" stroke="#231f20" stroke-width=".06" textLength="12.4" lengthAdjust="spacingAndGlyphs" transform="rotate(.05 319.7 443.55)">−0.6</text>
<path d="M342.86 443v6.5M344.17 443v6.5M345.08 443v6.5M347.33 443v6.5M351.47 443v6.5M355.68 443v6.5M356.97 443v6.5M361.48 443v6.5M361.64 443v6.5M368.33 443v6.5M371.45 443v6.5M371.53 443v6.5M371.83 443v6.5M372.51 443v6.5M379.55 443v6.5M381.49 443v6.5M381.61 443v6.5M390.24 443v6.5M391.78 443v6.5M392.49 443v6.5M394.16 443v6.5M396.07 443v6.5M397.84 443v6.5M405.13 443v6.5M411.1 443v6.5M412.57 443v6.5M418.46 443v6.5M420.35 443v6.5M420.42 443v6.5M422.2 443v6.5M425.08 443v6.5M427.27 443v6.5M427.45 443v6.5M427.47 443v6.5M427.85 443v6.5M428.06 443v6.5M428.07 443v6.5M428.19 443v6.5M428.45 443v6.5M428.9 443v6.5M429.34 443v6.5M429.64 443v6.5M429.94 443v6.5M430.16 443v6.5M430.62 443v6.5M430.73 443v6.5M430.96 443v6.5M430.99 443v6.5M431.36 443v6.5M431.46 443v6.5M431.48 443v6.5M431.81 443v6.5M431.9 443v6.5M432.3 443v6.5M432.55 443v6.5M433.6 443v6.5M437.55 443v6.5M437.56 443v6.5M437.71 443v6.5M437.72 443v6.5M438.03 443v6.5M438.11 443v6.5M438.24 443v6.5M438.46 443v6.5M438.77 443v6.5M438.85 443v6.5M438.89 443v6.5M438.96 443v6.5M439.16 443v6.5M439.16 443v6.5M439.42 443v6.5" stroke="#a8c0e4" stroke-width="0.6" fill="none"/>
<path d="M336.12 451.3v7.5M336.36 451.3v7.5M336.5 451.3v7.5M337.01 451.3v7.5M337.04 451.3v7.5M338.26 451.3v7.5M338.73 451.3v7.5M339.02 451.3v7.5M339.61 451.3v7.5M339.77 451.3v7.5M340.24 451.3v7.5M341.76 451.3v7.5M341.9 451.3v7.5M342.17 451.3v7.5M342.41 451.3v7.5M343.62 451.3v7.5M344.65 451.3v7.5M344.73 451.3v7.5M345.17 451.3v7.5M345.43 451.3v7.5M347.9 451.3v7.5M348.16 451.3v7.5M349.22 451.3v7.5M349.81 451.3v7.5M350.94 451.3v7.5M351.08 451.3v7.5M351.13 451.3v7.5M351.2 451.3v7.5M351.67 451.3v7.5M352.37 451.3v7.5M353.83 451.3v7.5M354.55 451.3v7.5M355.34 451.3v7.5M355.36 451.3v7.5M376.7 451.3v7.5M376.77 451.3v7.5M379.91 451.3v7.5M397.48 451.3v7.5M425.61 451.3v7.5" stroke="#22407a" stroke-width="0.65" fill="none"/>
<path d="M335.5 430.11 L337.01 430.23 L338.53 430.38 L340.04 430.56 L341.56 430.75 L343.07 430.94 L344.59 431.13 L346.1 431.32 L347.62 431.5 L349.13 431.68 L350.64 431.85 L352.16 432.01 L353.67 432.17 L355.19 432.32 L356.7 432.47 L358.22 432.62 L359.73 432.77 L361.25 432.92 L362.76 433.08 L364.28 433.23 L365.79 433.38 L367.3 433.53 L368.82 433.69 L370.33 433.84 L371.85 434.01 L373.36 434.17 L374.88 434.34 L376.39 434.5 L377.91 434.67 L379.42 434.84 L380.93 435 L382.45 435.17 L383.96 435.34 L385.48 435.5 L386.99 435.67 L388.51 435.84 L390.02 436.01 L391.54 436.19 L393.05 436.37 L394.57 436.55 L396.08 436.73 L397.59 436.91 L399.11 437.09 L400.62 437.27 L402.14 437.46 L403.65 437.64 L405.17 437.82 L406.68 438 L408.2 438.18 L409.71 438.37 L411.22 438.55 L412.74 438.73 L414.25 438.91 L415.77 439.09 L417.28 439.27 L418.8 439.46 L420.31 439.64 L421.83 439.82 L423.34 440 L424.86 440.15 L426.37 440.18 L427.88 440.08 L429.4 439.85 L430.91 439.5 L432.43 438.85 L433.94 437.97 L435.46 436.76 L436.97 434.99 L438.49 433.3 L440 431.92" fill="none" stroke="#a5bce0" stroke-width=".8"/>
<path d="M335.5 427.27 L337.01 425.86 L338.53 424.06 L340.04 422.07 L341.56 420.41 L343.07 419.08 L344.59 418.05 L346.1 417.28 L347.62 416.6 L349.13 416.06 L350.64 415.59 L352.16 415.19 L353.67 414.88 L355.19 414.72 L356.7 414.7 L358.22 414.8 L359.73 415.02 L361.25 415.32 L362.76 415.61 L364.28 415.89 L365.79 416.15 L367.3 416.41 L368.82 416.67 L370.33 416.94 L371.85 417.2 L373.36 417.46 L374.88 417.72 L376.39 417.98 L377.91 418.24 L379.42 418.49 L380.93 418.74 L382.45 418.99 L383.96 419.23 L385.48 419.48 L386.99 419.72 L388.51 419.96 L390.02 420.2 L391.54 420.45 L393.05 420.69 L394.57 420.93 L396.08 421.17 L397.59 421.42 L399.11 421.67 L400.62 421.93 L402.14 422.19 L403.65 422.46 L405.17 422.73 L406.68 423 L408.2 423.28 L409.71 423.55 L411.22 423.82 L412.74 424.09 L414.25 424.37 L415.77 424.64 L417.28 424.91 L418.8 425.2 L420.31 425.49 L421.83 425.8 L423.34 426.12 L424.86 426.45 L426.37 426.77 L427.88 427.1 L429.4 427.42 L430.91 427.74 L432.43 428.05 L433.94 428.34 L435.46 428.62 L436.97 428.88 L438.49 429.09 L440 429.24" fill="none" stroke="#3d4f73" stroke-width=".85"/>
<path d="M335.5 463.01 L338.18 463.5 L340.86 464.08 L343.54 464.7 L346.22 465.13 L348.9 465.43 L351.58 465.66 L354.26 465.83 L356.94 465.99 L359.62 466.13 L362.29 466.25 L364.97 466.35 L367.65 466.43 L370.33 466.51 L373.01 466.59 L375.69 466.67 L378.37 466.75 L381.05 466.83 L383.73 466.91 L386.41 466.99 L389.09 467.07 L391.77 467.15 L394.45 467.23 L397.13 467.32 L399.81 467.41 L402.49 467.51 L405.17 467.61 L407.85 467.71 L410.53 467.82 L413.21 467.93 L415.88 468.04 L418.56 468.14 L421.24 468.27 L423.92 468.44 L426.6 468.64 L429.28 468.87 L431.96 469.14 L434.64 469.43 L437.32 469.66 L440 469.83 L440 466.6 L335.5 466.6 Z" fill="#e2e3e4"/>
<path d="M335.5 463.01 L338.18 463.5 L340.86 464.08 L343.54 464.7 L346.22 465.13 L348.9 465.43 L351.58 465.66 L354.26 465.83 L356.94 465.99 L359.62 466.13 L362.29 466.25 L364.97 466.35 L367.65 466.43 L370.33 466.51 L373.01 466.59 L375.69 466.67 L378.37 466.75 L381.05 466.83 L383.73 466.91 L386.41 466.99 L389.09 467.07 L391.77 467.15 L394.45 467.23 L397.13 467.32 L399.81 467.41 L402.49 467.51 L405.17 467.61 L407.85 467.71 L410.53 467.82 L413.21 467.93 L415.88 468.04 L418.56 468.14 L421.24 468.27 L423.92 468.44 L426.6 468.64 L429.28 468.87 L431.96 469.14 L434.64 469.43 L437.32 469.66 L440 469.83" fill="none" stroke="#b0b2b5" stroke-width=".9"/>
<line x1="333.1" y1="463.4" x2="335.5" y2="463.4" stroke="#231f20" stroke-width=".7"/>
<text x="328.9" y="464.9" font-size="5.2" stroke="#231f20" stroke-width=".06" textLength="3" lengthAdjust="spacingAndGlyphs" transform="rotate(-89.95 328.9 464.9)">2</text>
<line x1="333.1" y1="467" x2="335.5" y2="467" stroke="#231f20" stroke-width=".7"/>
<text x="328.9" y="468.5" font-size="5.2" stroke="#231f20" stroke-width=".06" textLength="3" lengthAdjust="spacingAndGlyphs" transform="rotate(-89.95 328.9 468.5)">0</text>
<line x1="333.1" y1="470.8" x2="335.5" y2="470.8" stroke="#231f20" stroke-width=".7"/>
<text x="328.9" y="473.6" font-size="5.2" stroke="#231f20" stroke-width=".06" textLength="5.6" lengthAdjust="spacingAndGlyphs" transform="rotate(-89.95 328.9 473.6)">−2</text>
<text x="316.8" y="475.5" font-size="8.2" stroke="#231f20" stroke-width=".06" textLength="17.5" lengthAdjust="spacingAndGlyphs" transform="rotate(-89.95 316.8 475.5)">log2fc</text>
<line x1="368" y1="474.2" x2="368" y2="476.4" stroke="#231f20" stroke-width=".6"/>
<text x="361.1" y="485.4" font-size="6.5" stroke="#231f20" stroke-width=".06" textLength="13.8" lengthAdjust="spacingAndGlyphs" transform="rotate(.05 361.1 485.4)">1000</text>
<line x1="399.5" y1="474.2" x2="399.5" y2="476.4" stroke="#231f20" stroke-width=".6"/>
<text x="392.6" y="485.4" font-size="6.5" stroke="#231f20" stroke-width=".06" textLength="13.8" lengthAdjust="spacingAndGlyphs" transform="rotate(.05 392.6 485.4)">2000</text>
<line x1="431" y1="474.2" x2="431" y2="476.4" stroke="#231f20" stroke-width=".6"/>
<text x="424.1" y="485.4" font-size="6.5" stroke="#231f20" stroke-width=".06" textLength="13.8" lengthAdjust="spacingAndGlyphs" transform="rotate(.05 424.1 485.4)">3000</text>
<text x="402.5" y="418.6" font-size="6.6" fill="#2c3a5c" stroke="#2c3a5c" stroke-width=".06" textLength="60" lengthAdjust="spacingAndGlyphs" transform="rotate(.05 402.5 418.6)">protein glycosylation</text>
<text x="443" y="432.5" font-size="6.6" fill="#a7bde0" stroke="#a7bde0" stroke-width=".06" textLength="38.2" lengthAdjust="spacingAndGlyphs" transform="rotate(.05 443 432.5)">actin filament</text>
<text x="443" y="440" font-size="6.6" fill="#a7bde0" stroke="#a7bde0" stroke-width=".06" textLength="35" lengthAdjust="spacingAndGlyphs" transform="rotate(.05 443 440)">organization</text>
<text x="302" y="507.5" font-size="6.5" stroke="#231f20" stroke-width=".06" textLength="19.4" lengthAdjust="spacingAndGlyphs" transform="rotate(.05 302 507.5)">PB&gt;PC</text>
<line x1="335.5" y1="513.8" x2="335.5" y2="574.85" stroke="#231f20" stroke-width=".9"/>
<line x1="335.05" y1="574.4" x2="440" y2="574.4" stroke="#231f20" stroke-width=".9"/>
<line x1="333.3" y1="521.5" x2="335.5" y2="521.5" stroke="#231f20" stroke-width=".6"/>
<text x="323.7" y="523.75" font-size="6.3" stroke="#231f20" stroke-width=".06" textLength="8.4" lengthAdjust="spacingAndGlyphs" transform="rotate(.05 323.7 523.75)">0.3</text>
<line x1="333.3" y1="528.1" x2="335.5" y2="528.1" stroke="#231f20" stroke-width=".6"/>
<text x="328.7" y="530.35" font-size="6.3" stroke="#231f20" stroke-width=".06" textLength="3.4" lengthAdjust="spacingAndGlyphs" transform="rotate(.05 328.7 530.35)">0</text>
<line x1="333.3" y1="535.2" x2="335.5" y2="535.2" stroke="#231f20" stroke-width=".6"/>
<text x="319.7" y="537.45" font-size="6.3" stroke="#231f20" stroke-width=".06" textLength="12.4" lengthAdjust="spacingAndGlyphs" transform="rotate(.05 319.7 537.45)">−0.3</text>
<line x1="333.3" y1="541.9" x2="335.5" y2="541.9" stroke="#231f20" stroke-width=".6"/>
<text x="319.7" y="544.15" font-size="6.3" stroke="#231f20" stroke-width=".06" textLength="12.4" lengthAdjust="spacingAndGlyphs" transform="rotate(.05 319.7 544.15)">−0.6</text>
<path d="M350.51 542.5v7.5M351.64 542.5v7.5M365.47 542.5v7.5M367.86 542.5v7.5M368.77 542.5v7.5M381.69 542.5v7.5M384.1 542.5v7.5M387.43 542.5v7.5M387.94 542.5v7.5M394.1 542.5v7.5M394.19 542.5v7.5M397.39 542.5v7.5M397.84 542.5v7.5M400.99 542.5v7.5M401.28 542.5v7.5M402.25 542.5v7.5M406.36 542.5v7.5M406.84 542.5v7.5M411.91 542.5v7.5M416.63 542.5v7.5M417.92 542.5v7.5M419.38 542.5v7.5M420.54 542.5v7.5M421.28 542.5v7.5M421.83 542.5v7.5M425 542.5v7.5M426.88 542.5v7.5M427.26 542.5v7.5M428.73 542.5v7.5M430 542.5v7.5M433.64 542.5v7.5M434.55 542.5v7.5M436.27 542.5v7.5M436.77 542.5v7.5M437.19 542.5v7.5M439.08 542.5v7.5M439.35 542.5v7.5M439.77 542.5v7.5" stroke="#a8c0e4" stroke-width="0.6" fill="none"/>
<path d="M336.19 551.3v6.7M336.47 551.3v6.7M336.53 551.3v6.7M336.71 551.3v6.7M336.86 551.3v6.7M336.9 551.3v6.7M337.47 551.3v6.7M337.6 551.3v6.7M337.99 551.3v6.7M338.07 551.3v6.7M338.31 551.3v6.7M339.24 551.3v6.7M339.35 551.3v6.7M339.38 551.3v6.7M340.01 551.3v6.7M340.05 551.3v6.7M340.19 551.3v6.7M341.09 551.3v6.7M341.36 551.3v6.7M341.71 551.3v6.7M342.12 551.3v6.7M342.67 551.3v6.7M343.43 551.3v6.7M343.86 551.3v6.7M343.94 551.3v6.7M344.73 551.3v6.7M345.47 551.3v6.7M345.69 551.3v6.7M346.05 551.3v6.7M346.26 551.3v6.7M347.45 551.3v6.7M347.53 551.3v6.7M348.67 551.3v6.7M348.95 551.3v6.7M348.97 551.3v6.7M349.93 551.3v6.7M350.11 551.3v6.7M350.25 551.3v6.7M350.59 551.3v6.7M351.4 551.3v6.7M351.54 551.3v6.7M351.82 551.3v6.7M358.55 551.3v6.7M358.63 551.3v6.7M358.68 551.3v6.7M364.78 551.3v6.7M365.74 551.3v6.7M366.58 551.3v6.7M369.9 551.3v6.7M370.31 551.3v6.7M370.9 551.3v6.7M370.97 551.3v6.7M372.8 551.3v6.7M375.33 551.3v6.7M377.31 551.3v6.7M378.09 551.3v6.7M378.16 551.3v6.7M379.41 551.3v6.7M379.96 551.3v6.7M382.86 551.3v6.7M383.03 551.3v6.7M384.13 551.3v6.7M387.95 551.3v6.7M389.58 551.3v6.7M390.92 551.3v6.7M392.47 551.3v6.7M392.53 551.3v6.7M393.43 551.3v6.7M395.81 551.3v6.7M400.38 551.3v6.7M401.12 551.3v6.7M404.52 551.3v6.7M404.79 551.3v6.7M408.97 551.3v6.7M412.75 551.3v6.7M413.89 551.3v6.7M414.46 551.3v6.7M415.11 551.3v6.7M418.56 551.3v6.7M419.15 551.3v6.7M422.44 551.3v6.7M423.2 551.3v6.7M423.4 551.3v6.7M423.87 551.3v6.7M423.98 551.3v6.7M425.62 551.3v6.7M426.72 551.3v6.7M428.08 551.3v6.7M429.78 551.3v6.7M431.33 551.3v6.7M433.08 551.3v6.7M433.51 551.3v6.7M434.52 551.3v6.7M435.28 551.3v6.7M435.32 551.3v6.7M435.58 551.3v6.7M435.74 551.3v6.7M437.57 551.3v6.7M438.21 551.3v6.7M438.31 551.3v6.7M439.27 551.3v6.7M439.74 551.3v6.7M439.87 551.3v6.7" stroke="#22407a" stroke-width="0.65" fill="none"/>
<path d="M353.33 551.3v6.7M355.51 551.3v6.7M364.33 551.3v6.7M369.51 551.3v6.7M370.19 551.3v6.7M371.85 551.3v6.7M373.32 551.3v6.7M379.26 551.3v6.7M379.73 551.3v6.7M379.86 551.3v6.7M380.61 551.3v6.7M382.87 551.3v6.7M383.35 551.3v6.7M388.09 551.3v6.7M389.96 551.3v6.7M393.21 551.3v6.7M393.65 551.3v6.7M394.68 551.3v6.7M395.37 551.3v6.7M403.79 551.3v6.7M408.94 551.3v6.7M410.45 551.3v6.7M413.72 551.3v6.7M413.94 551.3v6.7M416.09 551.3v6.7M421.4 551.3v6.7M422.42 551.3v6.7M423.03 551.3v6.7M423.64 551.3v6.7M428.68 551.3v6.7M428.82 551.3v6.7M431.46 551.3v6.7M431.79 551.3v6.7M432.22 551.3v6.7M432.77 551.3v6.7" stroke="#8aa2cf" stroke-width="0.7" fill="none"/>
<path d="M335.5 526.94 L337.01 527.29 L338.53 527.75 L340.04 528.32 L341.56 528.9 L343.07 529.45 L344.59 529.98 L346.1 530.48 L347.62 530.96 L349.13 531.41 L350.64 531.86 L352.16 532.3 L353.67 532.74 L355.19 533.19 L356.7 533.63 L358.22 534.06 L359.73 534.46 L361.25 534.83 L362.76 535.18 L364.28 535.51 L365.79 535.84 L367.3 536.16 L368.82 536.48 L370.33 536.8 L371.85 537.13 L373.36 537.44 L374.88 537.73 L376.39 538 L377.91 538.26 L379.42 538.51 L380.93 538.75 L382.45 538.99 L383.96 539.23 L385.48 539.48 L386.99 539.72 L388.51 539.94 L390.02 540.14 L391.54 540.32 L393.05 540.48 L394.57 540.63 L396.08 540.77 L397.59 540.91 L399.11 541.05 L400.62 541.19 L402.14 541.33 L403.65 541.44 L405.17 541.52 L406.68 541.57 L408.2 541.6 L409.71 541.6 L411.22 541.6 L412.74 541.57 L414.25 541.48 L415.77 541.33 L417.28 541.11 L418.8 540.84 L420.31 540.54 L421.83 540.23 L423.34 539.82 L424.86 539.29 L426.37 538.63 L427.88 537.86 L429.4 536.92 L430.91 535.84 L432.43 534.63 L433.94 533.28 L435.46 531.76 L436.97 530.09 L438.49 528.73 L440 527.69" fill="none" stroke="#a5bce0" stroke-width=".8"/>
<path d="M335.5 519.51 L337.01 518.58 L338.53 517.44 L340.04 516.21 L341.56 515.3 L343.07 514.71 L344.59 514.3 L346.1 514.09 L347.62 513.97 L349.13 513.89 L350.64 513.86 L352.16 513.92 L353.67 514.04 L355.19 514.21 L356.7 514.43 L358.22 514.7 L359.73 514.97 L361.25 515.24 L362.76 515.52 L364.28 515.8 L365.79 516.08 L367.3 516.36 L368.82 516.65 L370.33 516.93 L371.85 517.21 L373.36 517.48 L374.88 517.75 L376.39 518 L377.91 518.23 L379.42 518.46 L380.93 518.69 L382.45 518.92 L383.96 519.14 L385.48 519.37 L386.99 519.6 L388.51 519.83 L390.02 520.05 L391.54 520.28 L393.05 520.51 L394.57 520.73 L396.08 520.96 L397.59 521.19 L399.11 521.42 L400.62 521.64 L402.14 521.87 L403.65 522.1 L405.17 522.33 L406.68 522.55 L408.2 522.78 L409.71 523.01 L411.22 523.23 L412.74 523.46 L414.25 523.69 L415.77 523.93 L417.28 524.17 L418.8 524.41 L420.31 524.65 L421.83 524.89 L423.34 525.13 L424.86 525.38 L426.37 525.62 L427.88 525.88 L429.4 526.16 L430.91 526.47 L432.43 526.81 L433.94 527.13 L435.46 527.32 L436.97 527.16 L438.49 526.93 L440 526.62" fill="none" stroke="#3d4f73" stroke-width=".85"/>
<path d="M335.5 565.87 L338.18 566.52 L340.86 567.24 L343.54 568 L346.22 568.47 L348.9 568.79 L351.58 569 L354.26 569.16 L356.94 569.29 L359.62 569.38 L362.29 569.45 L364.97 569.5 L367.65 569.55 L370.33 569.61 L373.01 569.66 L375.69 569.71 L378.37 569.77 L381.05 569.82 L383.73 569.87 L386.41 569.93 L389.09 569.98 L391.77 570.04 L394.45 570.09 L397.13 570.14 L399.81 570.2 L402.49 570.25 L405.17 570.3 L407.85 570.36 L410.53 570.41 L413.21 570.46 L415.88 570.52 L418.56 570.57 L421.24 570.62 L423.92 570.68 L426.6 570.75 L429.28 570.84 L431.96 570.95 L434.64 571.08 L437.32 571.21 L440 571.3 L440 570 L335.5 570 Z" fill="#e2e3e4"/>
<path d="M335.5 565.87 L338.18 566.52 L340.86 567.24 L343.54 568 L346.22 568.47 L348.9 568.79 L351.58 569 L354.26 569.16 L356.94 569.29 L359.62 569.38 L362.29 569.45 L364.97 569.5 L367.65 569.55 L370.33 569.61 L373.01 569.66 L375.69 569.71 L378.37 569.77 L381.05 569.82 L383.73 569.87 L386.41 569.93 L389.09 569.98 L391.77 570.04 L394.45 570.09 L397.13 570.14 L399.81 570.2 L402.49 570.25 L405.17 570.3 L407.85 570.36 L410.53 570.41 L413.21 570.46 L415.88 570.52 L418.56 570.57 L421.24 570.62 L423.92 570.68 L426.6 570.75 L429.28 570.84 L431.96 570.95 L434.64 571.08 L437.32 571.21 L440 571.3" fill="none" stroke="#b0b2b5" stroke-width=".9"/>
<line x1="333.1" y1="560.2" x2="335.5" y2="560.2" stroke="#231f20" stroke-width=".7"/>
<text x="328.9" y="561.7" font-size="5.2" stroke="#231f20" stroke-width=".06" textLength="3" lengthAdjust="spacingAndGlyphs" transform="rotate(-89.95 328.9 561.7)">6</text>
<line x1="333.1" y1="566.7" x2="335.5" y2="566.7" stroke="#231f20" stroke-width=".7"/>
<text x="328.9" y="568.2" font-size="5.2" stroke="#231f20" stroke-width=".06" textLength="3" lengthAdjust="spacingAndGlyphs" transform="rotate(-89.95 328.9 568.2)">2</text>
<line x1="333.1" y1="573.1" x2="335.5" y2="573.1" stroke="#231f20" stroke-width=".7"/>
<text x="328.9" y="575.9" font-size="5.2" stroke="#231f20" stroke-width=".06" textLength="5.6" lengthAdjust="spacingAndGlyphs" transform="rotate(-89.95 328.9 575.9)">−2</text>
<text x="316.4" y="575.8" font-size="8.2" stroke="#231f20" stroke-width=".06" textLength="17.8" lengthAdjust="spacingAndGlyphs" transform="rotate(-89.95 316.4 575.8)">log2fc</text>
<line x1="362" y1="574.4" x2="362" y2="576.6" stroke="#231f20" stroke-width=".6"/>
<text x="356.9" y="585.6" font-size="6.5" stroke="#231f20" stroke-width=".06" textLength="10.2" lengthAdjust="spacingAndGlyphs" transform="rotate(.05 356.9 585.6)">250</text>
<line x1="388" y1="574.4" x2="388" y2="576.6" stroke="#231f20" stroke-width=".6"/>
<text x="382.9" y="585.6" font-size="6.5" stroke="#231f20" stroke-width=".06" textLength="10.2" lengthAdjust="spacingAndGlyphs" transform="rotate(.05 382.9 585.6)">500</text>
<line x1="413.8" y1="574.4" x2="413.8" y2="576.6" stroke="#231f20" stroke-width=".6"/>
<text x="408.7" y="585.6" font-size="6.5" stroke="#231f20" stroke-width=".06" textLength="10.2" lengthAdjust="spacingAndGlyphs" transform="rotate(.05 408.7 585.6)">750</text>
<line x1="440" y1="574.4" x2="440" y2="576.6" stroke="#231f20" stroke-width=".6"/>
<text x="433.1" y="585.6" font-size="6.5" stroke="#231f20" stroke-width=".06" textLength="13.8" lengthAdjust="spacingAndGlyphs" transform="rotate(.05 433.1 585.6)">3000</text>
<text x="388" y="519.6" font-size="6.6" fill="#2c3a5c" stroke="#2c3a5c" stroke-width=".06" textLength="70.8" lengthAdjust="spacingAndGlyphs" transform="rotate(.05 388 519.6)">immune effector process</text>
<text x="443" y="536.9" font-size="6.6" fill="#a7bde0" stroke="#a7bde0" stroke-width=".06" textLength="55" lengthAdjust="spacingAndGlyphs" transform="rotate(.05 443 536.9)">nuclear-transcribed</text>
<text x="443" y="544.9" font-size="6.6" fill="#a7bde0" stroke="#a7bde0" stroke-width=".06" textLength="42.2" lengthAdjust="spacingAndGlyphs" transform="rotate(.05 443 544.9)">mRNA catabolic</text>
<text x="443" y="552.9" font-size="6.6" fill="#a7bde0" stroke="#a7bde0" stroke-width=".06" textLength="22" lengthAdjust="spacingAndGlyphs" transform="rotate(.05 443 552.9)">process</text>
<line x1="335.8" y1="590.5" x2="427.1" y2="590.5" stroke="#231f20" stroke-width="1"/>
<path d="M431.6 590.5 L426.6 588.4 L426.6 592.6 Z" fill="#231f20"/>
<text x="336.2" y="600.2" font-size="7.6" stroke="#231f20" stroke-width=".06" textLength="101.4" lengthAdjust="spacingAndGlyphs" transform="rotate(.05 336.2 600.2)">Position in the ranked list of genes</text>
<text x="293.6" y="574.6" font-size="8.2" stroke="#231f20" stroke-width=".06" textLength="25.8" lengthAdjust="spacingAndGlyphs" transform="rotate(-89.95 293.6 574.6)">Running</text>
<text x="302.5" y="574.6" font-size="7.6" stroke="#231f20" stroke-width=".06" textLength="50.5" lengthAdjust="spacingAndGlyphs" transform="rotate(-89.95 302.5 574.6)">enrichment score</text>
<line x1="307.2" y1="574.4" x2="307.2" y2="533.5" stroke="#231f20" stroke-width="1"/>
<path d="M307.2 529.4 L305.2 534 L309.2 534 Z" fill="#231f20"/></svg>
</body></html>
